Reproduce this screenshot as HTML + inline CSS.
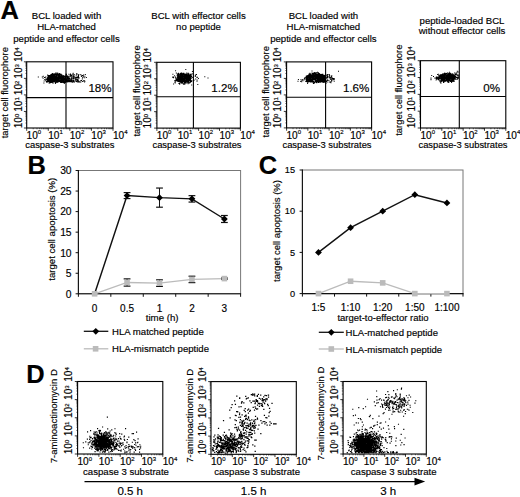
<!DOCTYPE html>
<html><head><meta charset="utf-8"><style>
html,body{margin:0;padding:0;background:#fff;}
body{width:520px;height:497px;overflow:hidden;font-family:"Liberation Sans",sans-serif;}
svg{display:block} text{stroke:#000;stroke-width:0.16px}
</style></head><body><svg width="520" height="497" viewBox="0 0 520 497" font-family="&quot;Liberation Sans&quot;, sans-serif"><text x="0" y="0" font-size="26" font-weight="bold" transform="translate(0.5 18.9) scale(0.98 1)">A</text><text x="0" y="0" font-size="26" font-weight="bold" transform="translate(27.6 173.9) scale(0.98 1)">B</text><text x="0" y="0" font-size="26" font-weight="bold" transform="translate(258.7 173.9) scale(0.98 1)">C</text><text x="0" y="0" font-size="26" font-weight="bold" transform="translate(26.2 382.6) scale(0.98 1)">D</text><text x="66.50" y="18.80" font-size="9.6" text-anchor="middle">BCL loaded with</text><text x="66.50" y="30.20" font-size="9.6" text-anchor="middle">HLA-matched</text><text x="66.50" y="41.60" font-size="9.6" text-anchor="middle">peptide and effector cells</text><text x="198.50" y="18.90" font-size="9.6" text-anchor="middle">BCL with effector cells</text><text x="198.50" y="30.00" font-size="9.6" text-anchor="middle">no peptide</text><text x="323.40" y="18.60" font-size="9.6" text-anchor="middle">BCL loaded with</text><text x="323.40" y="30.00" font-size="9.6" text-anchor="middle">HLA-mismatched</text><text x="323.40" y="41.50" font-size="9.6" text-anchor="middle">peptide and effector cells</text><text x="462.00" y="23.80" font-size="9.6" text-anchor="middle">peptide-loaded BCL</text><text x="462.00" y="33.90" font-size="9.6" text-anchor="middle">without effector cells</text><line x1="23.90" y1="128.00" x2="26.70" y2="128.00" stroke="#000" stroke-width="0.8"/><line x1="26.70" y1="128.00" x2="26.70" y2="130.80" stroke="#000" stroke-width="0.8"/><line x1="25.40" y1="123.02" x2="26.70" y2="123.02" stroke="#000" stroke-width="0.55"/><line x1="33.19" y1="128.00" x2="33.19" y2="129.30" stroke="#000" stroke-width="0.55"/><line x1="25.40" y1="120.10" x2="26.70" y2="120.10" stroke="#000" stroke-width="0.55"/><line x1="36.99" y1="128.00" x2="36.99" y2="129.30" stroke="#000" stroke-width="0.55"/><line x1="25.40" y1="118.04" x2="26.70" y2="118.04" stroke="#000" stroke-width="0.55"/><line x1="39.69" y1="128.00" x2="39.69" y2="129.30" stroke="#000" stroke-width="0.55"/><line x1="25.40" y1="116.43" x2="26.70" y2="116.43" stroke="#000" stroke-width="0.55"/><line x1="41.78" y1="128.00" x2="41.78" y2="129.30" stroke="#000" stroke-width="0.55"/><line x1="25.40" y1="115.12" x2="26.70" y2="115.12" stroke="#000" stroke-width="0.55"/><line x1="43.49" y1="128.00" x2="43.49" y2="129.30" stroke="#000" stroke-width="0.55"/><line x1="25.40" y1="114.01" x2="26.70" y2="114.01" stroke="#000" stroke-width="0.55"/><line x1="44.93" y1="128.00" x2="44.93" y2="129.30" stroke="#000" stroke-width="0.55"/><line x1="25.40" y1="113.05" x2="26.70" y2="113.05" stroke="#000" stroke-width="0.55"/><line x1="46.18" y1="128.00" x2="46.18" y2="129.30" stroke="#000" stroke-width="0.55"/><line x1="25.40" y1="112.21" x2="26.70" y2="112.21" stroke="#000" stroke-width="0.55"/><line x1="47.29" y1="128.00" x2="47.29" y2="129.30" stroke="#000" stroke-width="0.55"/><line x1="23.90" y1="111.45" x2="26.70" y2="111.45" stroke="#000" stroke-width="0.8"/><line x1="48.27" y1="128.00" x2="48.27" y2="130.80" stroke="#000" stroke-width="0.8"/><line x1="25.40" y1="106.47" x2="26.70" y2="106.47" stroke="#000" stroke-width="0.55"/><line x1="54.77" y1="128.00" x2="54.77" y2="129.30" stroke="#000" stroke-width="0.55"/><line x1="25.40" y1="103.55" x2="26.70" y2="103.55" stroke="#000" stroke-width="0.55"/><line x1="58.57" y1="128.00" x2="58.57" y2="129.30" stroke="#000" stroke-width="0.55"/><line x1="25.40" y1="101.49" x2="26.70" y2="101.49" stroke="#000" stroke-width="0.55"/><line x1="61.26" y1="128.00" x2="61.26" y2="129.30" stroke="#000" stroke-width="0.55"/><line x1="25.40" y1="99.88" x2="26.70" y2="99.88" stroke="#000" stroke-width="0.55"/><line x1="63.36" y1="128.00" x2="63.36" y2="129.30" stroke="#000" stroke-width="0.55"/><line x1="25.40" y1="98.57" x2="26.70" y2="98.57" stroke="#000" stroke-width="0.55"/><line x1="65.06" y1="128.00" x2="65.06" y2="129.30" stroke="#000" stroke-width="0.55"/><line x1="25.40" y1="97.46" x2="26.70" y2="97.46" stroke="#000" stroke-width="0.55"/><line x1="66.51" y1="128.00" x2="66.51" y2="129.30" stroke="#000" stroke-width="0.55"/><line x1="25.40" y1="96.50" x2="26.70" y2="96.50" stroke="#000" stroke-width="0.55"/><line x1="67.76" y1="128.00" x2="67.76" y2="129.30" stroke="#000" stroke-width="0.55"/><line x1="25.40" y1="95.66" x2="26.70" y2="95.66" stroke="#000" stroke-width="0.55"/><line x1="68.86" y1="128.00" x2="68.86" y2="129.30" stroke="#000" stroke-width="0.55"/><line x1="23.90" y1="94.90" x2="26.70" y2="94.90" stroke="#000" stroke-width="0.8"/><line x1="69.85" y1="128.00" x2="69.85" y2="130.80" stroke="#000" stroke-width="0.8"/><line x1="25.40" y1="89.92" x2="26.70" y2="89.92" stroke="#000" stroke-width="0.55"/><line x1="76.34" y1="128.00" x2="76.34" y2="129.30" stroke="#000" stroke-width="0.55"/><line x1="25.40" y1="87.00" x2="26.70" y2="87.00" stroke="#000" stroke-width="0.55"/><line x1="80.14" y1="128.00" x2="80.14" y2="129.30" stroke="#000" stroke-width="0.55"/><line x1="25.40" y1="84.94" x2="26.70" y2="84.94" stroke="#000" stroke-width="0.55"/><line x1="82.84" y1="128.00" x2="82.84" y2="129.30" stroke="#000" stroke-width="0.55"/><line x1="25.40" y1="83.33" x2="26.70" y2="83.33" stroke="#000" stroke-width="0.55"/><line x1="84.93" y1="128.00" x2="84.93" y2="129.30" stroke="#000" stroke-width="0.55"/><line x1="25.40" y1="82.02" x2="26.70" y2="82.02" stroke="#000" stroke-width="0.55"/><line x1="86.64" y1="128.00" x2="86.64" y2="129.30" stroke="#000" stroke-width="0.55"/><line x1="25.40" y1="80.91" x2="26.70" y2="80.91" stroke="#000" stroke-width="0.55"/><line x1="88.08" y1="128.00" x2="88.08" y2="129.30" stroke="#000" stroke-width="0.55"/><line x1="25.40" y1="79.95" x2="26.70" y2="79.95" stroke="#000" stroke-width="0.55"/><line x1="89.33" y1="128.00" x2="89.33" y2="129.30" stroke="#000" stroke-width="0.55"/><line x1="25.40" y1="79.11" x2="26.70" y2="79.11" stroke="#000" stroke-width="0.55"/><line x1="90.44" y1="128.00" x2="90.44" y2="129.30" stroke="#000" stroke-width="0.55"/><line x1="23.90" y1="78.35" x2="26.70" y2="78.35" stroke="#000" stroke-width="0.8"/><line x1="91.42" y1="128.00" x2="91.42" y2="130.80" stroke="#000" stroke-width="0.8"/><line x1="25.40" y1="73.37" x2="26.70" y2="73.37" stroke="#000" stroke-width="0.55"/><line x1="97.92" y1="128.00" x2="97.92" y2="129.30" stroke="#000" stroke-width="0.55"/><line x1="25.40" y1="70.45" x2="26.70" y2="70.45" stroke="#000" stroke-width="0.55"/><line x1="101.72" y1="128.00" x2="101.72" y2="129.30" stroke="#000" stroke-width="0.55"/><line x1="25.40" y1="68.39" x2="26.70" y2="68.39" stroke="#000" stroke-width="0.55"/><line x1="104.41" y1="128.00" x2="104.41" y2="129.30" stroke="#000" stroke-width="0.55"/><line x1="25.40" y1="66.78" x2="26.70" y2="66.78" stroke="#000" stroke-width="0.55"/><line x1="106.51" y1="128.00" x2="106.51" y2="129.30" stroke="#000" stroke-width="0.55"/><line x1="25.40" y1="65.47" x2="26.70" y2="65.47" stroke="#000" stroke-width="0.55"/><line x1="108.21" y1="128.00" x2="108.21" y2="129.30" stroke="#000" stroke-width="0.55"/><line x1="25.40" y1="64.36" x2="26.70" y2="64.36" stroke="#000" stroke-width="0.55"/><line x1="109.66" y1="128.00" x2="109.66" y2="129.30" stroke="#000" stroke-width="0.55"/><line x1="25.40" y1="63.40" x2="26.70" y2="63.40" stroke="#000" stroke-width="0.55"/><line x1="110.91" y1="128.00" x2="110.91" y2="129.30" stroke="#000" stroke-width="0.55"/><line x1="25.40" y1="62.56" x2="26.70" y2="62.56" stroke="#000" stroke-width="0.55"/><line x1="112.01" y1="128.00" x2="112.01" y2="129.30" stroke="#000" stroke-width="0.55"/><line x1="23.90" y1="61.80" x2="26.70" y2="61.80" stroke="#000" stroke-width="0.8"/><line x1="113.00" y1="128.00" x2="113.00" y2="130.80" stroke="#000" stroke-width="0.8"/><rect x="26.70" y="61.80" width="86.30" height="66.20" fill="none" stroke="#000" stroke-width="1.1"/><line x1="66.00" y1="61.80" x2="66.00" y2="128.00" stroke="#000" stroke-width="1.1"/><line x1="26.70" y1="97.60" x2="113.00" y2="97.60" stroke="#000" stroke-width="1.1"/><text x="21.80" y="128.30" font-size="10.1" transform="rotate(-90 21.80 128.30)">10<tspan font-size="6.0" dy="-3.0">0</tspan></text><text x="26.60" y="138.70" font-size="10.1">10<tspan font-size="6.0" dy="-4.4">0</tspan></text><text x="21.80" y="111.75" font-size="10.1" transform="rotate(-90 21.80 111.75)">10<tspan font-size="6.0" dy="-3.0">1</tspan></text><text x="48.17" y="138.70" font-size="10.1">10<tspan font-size="6.0" dy="-4.4">1</tspan></text><text x="21.80" y="95.20" font-size="10.1" transform="rotate(-90 21.80 95.20)">10<tspan font-size="6.0" dy="-3.0">2</tspan></text><text x="69.75" y="138.70" font-size="10.1">10<tspan font-size="6.0" dy="-4.4">2</tspan></text><text x="21.80" y="78.65" font-size="10.1" transform="rotate(-90 21.80 78.65)">10<tspan font-size="6.0" dy="-3.0">3</tspan></text><text x="91.33" y="138.70" font-size="10.1">10<tspan font-size="6.0" dy="-4.4">3</tspan></text><text x="21.80" y="62.10" font-size="10.1" transform="rotate(-90 21.80 62.10)">10<tspan font-size="6.0" dy="-3.0">4</tspan></text><text x="112.90" y="138.70" font-size="10.1">10<tspan font-size="6.0" dy="-4.4">4</tspan></text><text x="8.30" y="138.30" font-size="9.45" transform="rotate(-90 8.30 138.30)">target cell fluorophore</text><text x="69.80" y="147.90" font-size="9.4" text-anchor="middle">caspase-3 substrates</text><line x1="154.10" y1="128.10" x2="156.90" y2="128.10" stroke="#000" stroke-width="0.8"/><line x1="156.90" y1="128.10" x2="156.90" y2="130.90" stroke="#000" stroke-width="0.8"/><line x1="155.60" y1="123.15" x2="156.90" y2="123.15" stroke="#000" stroke-width="0.55"/><line x1="163.18" y1="128.10" x2="163.18" y2="129.40" stroke="#000" stroke-width="0.55"/><line x1="155.60" y1="120.25" x2="156.90" y2="120.25" stroke="#000" stroke-width="0.55"/><line x1="166.86" y1="128.10" x2="166.86" y2="129.40" stroke="#000" stroke-width="0.55"/><line x1="155.60" y1="118.20" x2="156.90" y2="118.20" stroke="#000" stroke-width="0.55"/><line x1="169.47" y1="128.10" x2="169.47" y2="129.40" stroke="#000" stroke-width="0.55"/><line x1="155.60" y1="116.60" x2="156.90" y2="116.60" stroke="#000" stroke-width="0.55"/><line x1="171.49" y1="128.10" x2="171.49" y2="129.40" stroke="#000" stroke-width="0.55"/><line x1="155.60" y1="115.30" x2="156.90" y2="115.30" stroke="#000" stroke-width="0.55"/><line x1="173.14" y1="128.10" x2="173.14" y2="129.40" stroke="#000" stroke-width="0.55"/><line x1="155.60" y1="114.20" x2="156.90" y2="114.20" stroke="#000" stroke-width="0.55"/><line x1="174.54" y1="128.10" x2="174.54" y2="129.40" stroke="#000" stroke-width="0.55"/><line x1="155.60" y1="113.24" x2="156.90" y2="113.24" stroke="#000" stroke-width="0.55"/><line x1="175.75" y1="128.10" x2="175.75" y2="129.40" stroke="#000" stroke-width="0.55"/><line x1="155.60" y1="112.40" x2="156.90" y2="112.40" stroke="#000" stroke-width="0.55"/><line x1="176.82" y1="128.10" x2="176.82" y2="129.40" stroke="#000" stroke-width="0.55"/><line x1="154.10" y1="111.65" x2="156.90" y2="111.65" stroke="#000" stroke-width="0.8"/><line x1="177.78" y1="128.10" x2="177.78" y2="130.90" stroke="#000" stroke-width="0.8"/><line x1="155.60" y1="106.70" x2="156.90" y2="106.70" stroke="#000" stroke-width="0.55"/><line x1="184.06" y1="128.10" x2="184.06" y2="129.40" stroke="#000" stroke-width="0.55"/><line x1="155.60" y1="103.80" x2="156.90" y2="103.80" stroke="#000" stroke-width="0.55"/><line x1="187.73" y1="128.10" x2="187.73" y2="129.40" stroke="#000" stroke-width="0.55"/><line x1="155.60" y1="101.75" x2="156.90" y2="101.75" stroke="#000" stroke-width="0.55"/><line x1="190.34" y1="128.10" x2="190.34" y2="129.40" stroke="#000" stroke-width="0.55"/><line x1="155.60" y1="100.15" x2="156.90" y2="100.15" stroke="#000" stroke-width="0.55"/><line x1="192.37" y1="128.10" x2="192.37" y2="129.40" stroke="#000" stroke-width="0.55"/><line x1="155.60" y1="98.85" x2="156.90" y2="98.85" stroke="#000" stroke-width="0.55"/><line x1="194.02" y1="128.10" x2="194.02" y2="129.40" stroke="#000" stroke-width="0.55"/><line x1="155.60" y1="97.75" x2="156.90" y2="97.75" stroke="#000" stroke-width="0.55"/><line x1="195.42" y1="128.10" x2="195.42" y2="129.40" stroke="#000" stroke-width="0.55"/><line x1="155.60" y1="96.79" x2="156.90" y2="96.79" stroke="#000" stroke-width="0.55"/><line x1="196.63" y1="128.10" x2="196.63" y2="129.40" stroke="#000" stroke-width="0.55"/><line x1="155.60" y1="95.95" x2="156.90" y2="95.95" stroke="#000" stroke-width="0.55"/><line x1="197.69" y1="128.10" x2="197.69" y2="129.40" stroke="#000" stroke-width="0.55"/><line x1="154.10" y1="95.20" x2="156.90" y2="95.20" stroke="#000" stroke-width="0.8"/><line x1="198.65" y1="128.10" x2="198.65" y2="130.90" stroke="#000" stroke-width="0.8"/><line x1="155.60" y1="90.25" x2="156.90" y2="90.25" stroke="#000" stroke-width="0.55"/><line x1="204.93" y1="128.10" x2="204.93" y2="129.40" stroke="#000" stroke-width="0.55"/><line x1="155.60" y1="87.35" x2="156.90" y2="87.35" stroke="#000" stroke-width="0.55"/><line x1="208.61" y1="128.10" x2="208.61" y2="129.40" stroke="#000" stroke-width="0.55"/><line x1="155.60" y1="85.30" x2="156.90" y2="85.30" stroke="#000" stroke-width="0.55"/><line x1="211.22" y1="128.10" x2="211.22" y2="129.40" stroke="#000" stroke-width="0.55"/><line x1="155.60" y1="83.70" x2="156.90" y2="83.70" stroke="#000" stroke-width="0.55"/><line x1="213.24" y1="128.10" x2="213.24" y2="129.40" stroke="#000" stroke-width="0.55"/><line x1="155.60" y1="82.40" x2="156.90" y2="82.40" stroke="#000" stroke-width="0.55"/><line x1="214.89" y1="128.10" x2="214.89" y2="129.40" stroke="#000" stroke-width="0.55"/><line x1="155.60" y1="81.30" x2="156.90" y2="81.30" stroke="#000" stroke-width="0.55"/><line x1="216.29" y1="128.10" x2="216.29" y2="129.40" stroke="#000" stroke-width="0.55"/><line x1="155.60" y1="80.34" x2="156.90" y2="80.34" stroke="#000" stroke-width="0.55"/><line x1="217.50" y1="128.10" x2="217.50" y2="129.40" stroke="#000" stroke-width="0.55"/><line x1="155.60" y1="79.50" x2="156.90" y2="79.50" stroke="#000" stroke-width="0.55"/><line x1="218.57" y1="128.10" x2="218.57" y2="129.40" stroke="#000" stroke-width="0.55"/><line x1="154.10" y1="78.75" x2="156.90" y2="78.75" stroke="#000" stroke-width="0.8"/><line x1="219.53" y1="128.10" x2="219.53" y2="130.90" stroke="#000" stroke-width="0.8"/><line x1="155.60" y1="73.80" x2="156.90" y2="73.80" stroke="#000" stroke-width="0.55"/><line x1="225.81" y1="128.10" x2="225.81" y2="129.40" stroke="#000" stroke-width="0.55"/><line x1="155.60" y1="70.90" x2="156.90" y2="70.90" stroke="#000" stroke-width="0.55"/><line x1="229.48" y1="128.10" x2="229.48" y2="129.40" stroke="#000" stroke-width="0.55"/><line x1="155.60" y1="68.85" x2="156.90" y2="68.85" stroke="#000" stroke-width="0.55"/><line x1="232.09" y1="128.10" x2="232.09" y2="129.40" stroke="#000" stroke-width="0.55"/><line x1="155.60" y1="67.25" x2="156.90" y2="67.25" stroke="#000" stroke-width="0.55"/><line x1="234.12" y1="128.10" x2="234.12" y2="129.40" stroke="#000" stroke-width="0.55"/><line x1="155.60" y1="65.95" x2="156.90" y2="65.95" stroke="#000" stroke-width="0.55"/><line x1="235.77" y1="128.10" x2="235.77" y2="129.40" stroke="#000" stroke-width="0.55"/><line x1="155.60" y1="64.85" x2="156.90" y2="64.85" stroke="#000" stroke-width="0.55"/><line x1="237.17" y1="128.10" x2="237.17" y2="129.40" stroke="#000" stroke-width="0.55"/><line x1="155.60" y1="63.89" x2="156.90" y2="63.89" stroke="#000" stroke-width="0.55"/><line x1="238.38" y1="128.10" x2="238.38" y2="129.40" stroke="#000" stroke-width="0.55"/><line x1="155.60" y1="63.05" x2="156.90" y2="63.05" stroke="#000" stroke-width="0.55"/><line x1="239.44" y1="128.10" x2="239.44" y2="129.40" stroke="#000" stroke-width="0.55"/><line x1="154.10" y1="62.30" x2="156.90" y2="62.30" stroke="#000" stroke-width="0.8"/><line x1="240.40" y1="128.10" x2="240.40" y2="130.90" stroke="#000" stroke-width="0.8"/><rect x="156.90" y="62.30" width="83.50" height="65.80" fill="none" stroke="#000" stroke-width="1.1"/><line x1="193.40" y1="62.30" x2="193.40" y2="128.10" stroke="#000" stroke-width="1.1"/><line x1="156.90" y1="96.80" x2="240.40" y2="96.80" stroke="#000" stroke-width="1.1"/><text x="151.40" y="128.40" font-size="10.1" transform="rotate(-90 151.40 128.40)">10<tspan font-size="6.0" dy="-3.0">0</tspan></text><text x="156.80" y="138.70" font-size="10.1">10<tspan font-size="6.0" dy="-4.4">0</tspan></text><text x="151.40" y="111.95" font-size="10.1" transform="rotate(-90 151.40 111.95)">10<tspan font-size="6.0" dy="-3.0">1</tspan></text><text x="177.68" y="138.70" font-size="10.1">10<tspan font-size="6.0" dy="-4.4">1</tspan></text><text x="151.40" y="95.50" font-size="10.1" transform="rotate(-90 151.40 95.50)">10<tspan font-size="6.0" dy="-3.0">2</tspan></text><text x="198.55" y="138.70" font-size="10.1">10<tspan font-size="6.0" dy="-4.4">2</tspan></text><text x="151.40" y="79.05" font-size="10.1" transform="rotate(-90 151.40 79.05)">10<tspan font-size="6.0" dy="-3.0">3</tspan></text><text x="219.43" y="138.70" font-size="10.1">10<tspan font-size="6.0" dy="-4.4">3</tspan></text><text x="151.40" y="62.60" font-size="10.1" transform="rotate(-90 151.40 62.60)">10<tspan font-size="6.0" dy="-3.0">4</tspan></text><text x="240.30" y="138.70" font-size="10.1">10<tspan font-size="6.0" dy="-4.4">4</tspan></text><text x="139.80" y="136.60" font-size="9.45" transform="rotate(-90 139.80 136.60)">target cell fluorophore</text><text x="197.00" y="147.90" font-size="9.4" text-anchor="middle">caspase-3 substrates</text><line x1="283.80" y1="127.90" x2="286.60" y2="127.90" stroke="#000" stroke-width="0.8"/><line x1="286.60" y1="127.90" x2="286.60" y2="130.70" stroke="#000" stroke-width="0.8"/><line x1="285.30" y1="122.93" x2="286.60" y2="122.93" stroke="#000" stroke-width="0.55"/><line x1="293.00" y1="127.90" x2="293.00" y2="129.20" stroke="#000" stroke-width="0.55"/><line x1="285.30" y1="120.03" x2="286.60" y2="120.03" stroke="#000" stroke-width="0.55"/><line x1="296.74" y1="127.90" x2="296.74" y2="129.20" stroke="#000" stroke-width="0.55"/><line x1="285.30" y1="117.97" x2="286.60" y2="117.97" stroke="#000" stroke-width="0.55"/><line x1="299.39" y1="127.90" x2="299.39" y2="129.20" stroke="#000" stroke-width="0.55"/><line x1="285.30" y1="116.37" x2="286.60" y2="116.37" stroke="#000" stroke-width="0.55"/><line x1="301.45" y1="127.90" x2="301.45" y2="129.20" stroke="#000" stroke-width="0.55"/><line x1="285.30" y1="115.06" x2="286.60" y2="115.06" stroke="#000" stroke-width="0.55"/><line x1="303.14" y1="127.90" x2="303.14" y2="129.20" stroke="#000" stroke-width="0.55"/><line x1="285.30" y1="113.96" x2="286.60" y2="113.96" stroke="#000" stroke-width="0.55"/><line x1="304.56" y1="127.90" x2="304.56" y2="129.20" stroke="#000" stroke-width="0.55"/><line x1="285.30" y1="113.00" x2="286.60" y2="113.00" stroke="#000" stroke-width="0.55"/><line x1="305.79" y1="127.90" x2="305.79" y2="129.20" stroke="#000" stroke-width="0.55"/><line x1="285.30" y1="112.15" x2="286.60" y2="112.15" stroke="#000" stroke-width="0.55"/><line x1="306.88" y1="127.90" x2="306.88" y2="129.20" stroke="#000" stroke-width="0.55"/><line x1="283.80" y1="111.40" x2="286.60" y2="111.40" stroke="#000" stroke-width="0.8"/><line x1="307.85" y1="127.90" x2="307.85" y2="130.70" stroke="#000" stroke-width="0.8"/><line x1="285.30" y1="106.43" x2="286.60" y2="106.43" stroke="#000" stroke-width="0.55"/><line x1="314.25" y1="127.90" x2="314.25" y2="129.20" stroke="#000" stroke-width="0.55"/><line x1="285.30" y1="103.53" x2="286.60" y2="103.53" stroke="#000" stroke-width="0.55"/><line x1="317.99" y1="127.90" x2="317.99" y2="129.20" stroke="#000" stroke-width="0.55"/><line x1="285.30" y1="101.47" x2="286.60" y2="101.47" stroke="#000" stroke-width="0.55"/><line x1="320.64" y1="127.90" x2="320.64" y2="129.20" stroke="#000" stroke-width="0.55"/><line x1="285.30" y1="99.87" x2="286.60" y2="99.87" stroke="#000" stroke-width="0.55"/><line x1="322.70" y1="127.90" x2="322.70" y2="129.20" stroke="#000" stroke-width="0.55"/><line x1="285.30" y1="98.56" x2="286.60" y2="98.56" stroke="#000" stroke-width="0.55"/><line x1="324.39" y1="127.90" x2="324.39" y2="129.20" stroke="#000" stroke-width="0.55"/><line x1="285.30" y1="97.46" x2="286.60" y2="97.46" stroke="#000" stroke-width="0.55"/><line x1="325.81" y1="127.90" x2="325.81" y2="129.20" stroke="#000" stroke-width="0.55"/><line x1="285.30" y1="96.50" x2="286.60" y2="96.50" stroke="#000" stroke-width="0.55"/><line x1="327.04" y1="127.90" x2="327.04" y2="129.20" stroke="#000" stroke-width="0.55"/><line x1="285.30" y1="95.65" x2="286.60" y2="95.65" stroke="#000" stroke-width="0.55"/><line x1="328.13" y1="127.90" x2="328.13" y2="129.20" stroke="#000" stroke-width="0.55"/><line x1="283.80" y1="94.90" x2="286.60" y2="94.90" stroke="#000" stroke-width="0.8"/><line x1="329.10" y1="127.90" x2="329.10" y2="130.70" stroke="#000" stroke-width="0.8"/><line x1="285.30" y1="89.93" x2="286.60" y2="89.93" stroke="#000" stroke-width="0.55"/><line x1="335.50" y1="127.90" x2="335.50" y2="129.20" stroke="#000" stroke-width="0.55"/><line x1="285.30" y1="87.03" x2="286.60" y2="87.03" stroke="#000" stroke-width="0.55"/><line x1="339.24" y1="127.90" x2="339.24" y2="129.20" stroke="#000" stroke-width="0.55"/><line x1="285.30" y1="84.97" x2="286.60" y2="84.97" stroke="#000" stroke-width="0.55"/><line x1="341.89" y1="127.90" x2="341.89" y2="129.20" stroke="#000" stroke-width="0.55"/><line x1="285.30" y1="83.37" x2="286.60" y2="83.37" stroke="#000" stroke-width="0.55"/><line x1="343.95" y1="127.90" x2="343.95" y2="129.20" stroke="#000" stroke-width="0.55"/><line x1="285.30" y1="82.06" x2="286.60" y2="82.06" stroke="#000" stroke-width="0.55"/><line x1="345.64" y1="127.90" x2="345.64" y2="129.20" stroke="#000" stroke-width="0.55"/><line x1="285.30" y1="80.96" x2="286.60" y2="80.96" stroke="#000" stroke-width="0.55"/><line x1="347.06" y1="127.90" x2="347.06" y2="129.20" stroke="#000" stroke-width="0.55"/><line x1="285.30" y1="80.00" x2="286.60" y2="80.00" stroke="#000" stroke-width="0.55"/><line x1="348.29" y1="127.90" x2="348.29" y2="129.20" stroke="#000" stroke-width="0.55"/><line x1="285.30" y1="79.15" x2="286.60" y2="79.15" stroke="#000" stroke-width="0.55"/><line x1="349.38" y1="127.90" x2="349.38" y2="129.20" stroke="#000" stroke-width="0.55"/><line x1="283.80" y1="78.40" x2="286.60" y2="78.40" stroke="#000" stroke-width="0.8"/><line x1="350.35" y1="127.90" x2="350.35" y2="130.70" stroke="#000" stroke-width="0.8"/><line x1="285.30" y1="73.43" x2="286.60" y2="73.43" stroke="#000" stroke-width="0.55"/><line x1="356.75" y1="127.90" x2="356.75" y2="129.20" stroke="#000" stroke-width="0.55"/><line x1="285.30" y1="70.53" x2="286.60" y2="70.53" stroke="#000" stroke-width="0.55"/><line x1="360.49" y1="127.90" x2="360.49" y2="129.20" stroke="#000" stroke-width="0.55"/><line x1="285.30" y1="68.47" x2="286.60" y2="68.47" stroke="#000" stroke-width="0.55"/><line x1="363.14" y1="127.90" x2="363.14" y2="129.20" stroke="#000" stroke-width="0.55"/><line x1="285.30" y1="66.87" x2="286.60" y2="66.87" stroke="#000" stroke-width="0.55"/><line x1="365.20" y1="127.90" x2="365.20" y2="129.20" stroke="#000" stroke-width="0.55"/><line x1="285.30" y1="65.56" x2="286.60" y2="65.56" stroke="#000" stroke-width="0.55"/><line x1="366.89" y1="127.90" x2="366.89" y2="129.20" stroke="#000" stroke-width="0.55"/><line x1="285.30" y1="64.46" x2="286.60" y2="64.46" stroke="#000" stroke-width="0.55"/><line x1="368.31" y1="127.90" x2="368.31" y2="129.20" stroke="#000" stroke-width="0.55"/><line x1="285.30" y1="63.50" x2="286.60" y2="63.50" stroke="#000" stroke-width="0.55"/><line x1="369.54" y1="127.90" x2="369.54" y2="129.20" stroke="#000" stroke-width="0.55"/><line x1="285.30" y1="62.65" x2="286.60" y2="62.65" stroke="#000" stroke-width="0.55"/><line x1="370.63" y1="127.90" x2="370.63" y2="129.20" stroke="#000" stroke-width="0.55"/><line x1="283.80" y1="61.90" x2="286.60" y2="61.90" stroke="#000" stroke-width="0.8"/><line x1="371.60" y1="127.90" x2="371.60" y2="130.70" stroke="#000" stroke-width="0.8"/><rect x="286.60" y="61.90" width="85.00" height="66.00" fill="none" stroke="#000" stroke-width="1.1"/><line x1="325.60" y1="61.90" x2="325.60" y2="127.90" stroke="#000" stroke-width="1.1"/><line x1="286.60" y1="97.20" x2="371.60" y2="97.20" stroke="#000" stroke-width="1.1"/><text x="281.00" y="128.20" font-size="10.1" transform="rotate(-90 281.00 128.20)">10<tspan font-size="6.0" dy="-3.0">0</tspan></text><text x="286.50" y="138.70" font-size="10.1">10<tspan font-size="6.0" dy="-4.4">0</tspan></text><text x="281.00" y="111.70" font-size="10.1" transform="rotate(-90 281.00 111.70)">10<tspan font-size="6.0" dy="-3.0">1</tspan></text><text x="307.75" y="138.70" font-size="10.1">10<tspan font-size="6.0" dy="-4.4">1</tspan></text><text x="281.00" y="95.20" font-size="10.1" transform="rotate(-90 281.00 95.20)">10<tspan font-size="6.0" dy="-3.0">2</tspan></text><text x="329.00" y="138.70" font-size="10.1">10<tspan font-size="6.0" dy="-4.4">2</tspan></text><text x="281.00" y="78.70" font-size="10.1" transform="rotate(-90 281.00 78.70)">10<tspan font-size="6.0" dy="-3.0">3</tspan></text><text x="350.25" y="138.70" font-size="10.1">10<tspan font-size="6.0" dy="-4.4">3</tspan></text><text x="281.00" y="62.20" font-size="10.1" transform="rotate(-90 281.00 62.20)">10<tspan font-size="6.0" dy="-3.0">4</tspan></text><text x="371.50" y="138.70" font-size="10.1">10<tspan font-size="6.0" dy="-4.4">4</tspan></text><text x="268.80" y="137.40" font-size="9.45" transform="rotate(-90 268.80 137.40)">target cell fluorophore</text><text x="327.00" y="147.90" font-size="9.4" text-anchor="middle">caspase-3 substrates</text><line x1="417.70" y1="128.00" x2="420.50" y2="128.00" stroke="#000" stroke-width="0.8"/><line x1="420.50" y1="128.00" x2="420.50" y2="130.80" stroke="#000" stroke-width="0.8"/><line x1="419.20" y1="122.94" x2="420.50" y2="122.94" stroke="#000" stroke-width="0.55"/><line x1="426.92" y1="128.00" x2="426.92" y2="129.30" stroke="#000" stroke-width="0.55"/><line x1="419.20" y1="119.97" x2="420.50" y2="119.97" stroke="#000" stroke-width="0.55"/><line x1="430.67" y1="128.00" x2="430.67" y2="129.30" stroke="#000" stroke-width="0.55"/><line x1="419.20" y1="117.87" x2="420.50" y2="117.87" stroke="#000" stroke-width="0.55"/><line x1="433.34" y1="128.00" x2="433.34" y2="129.30" stroke="#000" stroke-width="0.55"/><line x1="419.20" y1="116.24" x2="420.50" y2="116.24" stroke="#000" stroke-width="0.55"/><line x1="435.41" y1="128.00" x2="435.41" y2="129.30" stroke="#000" stroke-width="0.55"/><line x1="419.20" y1="114.91" x2="420.50" y2="114.91" stroke="#000" stroke-width="0.55"/><line x1="437.09" y1="128.00" x2="437.09" y2="129.30" stroke="#000" stroke-width="0.55"/><line x1="419.20" y1="113.78" x2="420.50" y2="113.78" stroke="#000" stroke-width="0.55"/><line x1="438.52" y1="128.00" x2="438.52" y2="129.30" stroke="#000" stroke-width="0.55"/><line x1="419.20" y1="112.81" x2="420.50" y2="112.81" stroke="#000" stroke-width="0.55"/><line x1="439.76" y1="128.00" x2="439.76" y2="129.30" stroke="#000" stroke-width="0.55"/><line x1="419.20" y1="111.94" x2="420.50" y2="111.94" stroke="#000" stroke-width="0.55"/><line x1="440.85" y1="128.00" x2="440.85" y2="129.30" stroke="#000" stroke-width="0.55"/><line x1="417.70" y1="111.17" x2="420.50" y2="111.17" stroke="#000" stroke-width="0.8"/><line x1="441.82" y1="128.00" x2="441.82" y2="130.80" stroke="#000" stroke-width="0.8"/><line x1="419.20" y1="106.11" x2="420.50" y2="106.11" stroke="#000" stroke-width="0.55"/><line x1="448.24" y1="128.00" x2="448.24" y2="129.30" stroke="#000" stroke-width="0.55"/><line x1="419.20" y1="103.15" x2="420.50" y2="103.15" stroke="#000" stroke-width="0.55"/><line x1="452.00" y1="128.00" x2="452.00" y2="129.30" stroke="#000" stroke-width="0.55"/><line x1="419.20" y1="101.05" x2="420.50" y2="101.05" stroke="#000" stroke-width="0.55"/><line x1="454.66" y1="128.00" x2="454.66" y2="129.30" stroke="#000" stroke-width="0.55"/><line x1="419.20" y1="99.41" x2="420.50" y2="99.41" stroke="#000" stroke-width="0.55"/><line x1="456.73" y1="128.00" x2="456.73" y2="129.30" stroke="#000" stroke-width="0.55"/><line x1="419.20" y1="98.08" x2="420.50" y2="98.08" stroke="#000" stroke-width="0.55"/><line x1="458.42" y1="128.00" x2="458.42" y2="129.30" stroke="#000" stroke-width="0.55"/><line x1="419.20" y1="96.96" x2="420.50" y2="96.96" stroke="#000" stroke-width="0.55"/><line x1="459.85" y1="128.00" x2="459.85" y2="129.30" stroke="#000" stroke-width="0.55"/><line x1="419.20" y1="95.98" x2="420.50" y2="95.98" stroke="#000" stroke-width="0.55"/><line x1="461.08" y1="128.00" x2="461.08" y2="129.30" stroke="#000" stroke-width="0.55"/><line x1="419.20" y1="95.12" x2="420.50" y2="95.12" stroke="#000" stroke-width="0.55"/><line x1="462.17" y1="128.00" x2="462.17" y2="129.30" stroke="#000" stroke-width="0.55"/><line x1="417.70" y1="94.35" x2="420.50" y2="94.35" stroke="#000" stroke-width="0.8"/><line x1="463.15" y1="128.00" x2="463.15" y2="130.80" stroke="#000" stroke-width="0.8"/><line x1="419.20" y1="89.29" x2="420.50" y2="89.29" stroke="#000" stroke-width="0.55"/><line x1="469.57" y1="128.00" x2="469.57" y2="129.30" stroke="#000" stroke-width="0.55"/><line x1="419.20" y1="86.32" x2="420.50" y2="86.32" stroke="#000" stroke-width="0.55"/><line x1="473.32" y1="128.00" x2="473.32" y2="129.30" stroke="#000" stroke-width="0.55"/><line x1="419.20" y1="84.22" x2="420.50" y2="84.22" stroke="#000" stroke-width="0.55"/><line x1="475.99" y1="128.00" x2="475.99" y2="129.30" stroke="#000" stroke-width="0.55"/><line x1="419.20" y1="82.59" x2="420.50" y2="82.59" stroke="#000" stroke-width="0.55"/><line x1="478.06" y1="128.00" x2="478.06" y2="129.30" stroke="#000" stroke-width="0.55"/><line x1="419.20" y1="81.26" x2="420.50" y2="81.26" stroke="#000" stroke-width="0.55"/><line x1="479.74" y1="128.00" x2="479.74" y2="129.30" stroke="#000" stroke-width="0.55"/><line x1="419.20" y1="80.13" x2="420.50" y2="80.13" stroke="#000" stroke-width="0.55"/><line x1="481.17" y1="128.00" x2="481.17" y2="129.30" stroke="#000" stroke-width="0.55"/><line x1="419.20" y1="79.16" x2="420.50" y2="79.16" stroke="#000" stroke-width="0.55"/><line x1="482.41" y1="128.00" x2="482.41" y2="129.30" stroke="#000" stroke-width="0.55"/><line x1="419.20" y1="78.29" x2="420.50" y2="78.29" stroke="#000" stroke-width="0.55"/><line x1="483.50" y1="128.00" x2="483.50" y2="129.30" stroke="#000" stroke-width="0.55"/><line x1="417.70" y1="77.53" x2="420.50" y2="77.53" stroke="#000" stroke-width="0.8"/><line x1="484.48" y1="128.00" x2="484.48" y2="130.80" stroke="#000" stroke-width="0.8"/><line x1="419.20" y1="72.46" x2="420.50" y2="72.46" stroke="#000" stroke-width="0.55"/><line x1="490.89" y1="128.00" x2="490.89" y2="129.30" stroke="#000" stroke-width="0.55"/><line x1="419.20" y1="69.50" x2="420.50" y2="69.50" stroke="#000" stroke-width="0.55"/><line x1="494.65" y1="128.00" x2="494.65" y2="129.30" stroke="#000" stroke-width="0.55"/><line x1="419.20" y1="67.40" x2="420.50" y2="67.40" stroke="#000" stroke-width="0.55"/><line x1="497.31" y1="128.00" x2="497.31" y2="129.30" stroke="#000" stroke-width="0.55"/><line x1="419.20" y1="65.76" x2="420.50" y2="65.76" stroke="#000" stroke-width="0.55"/><line x1="499.38" y1="128.00" x2="499.38" y2="129.30" stroke="#000" stroke-width="0.55"/><line x1="419.20" y1="64.43" x2="420.50" y2="64.43" stroke="#000" stroke-width="0.55"/><line x1="501.07" y1="128.00" x2="501.07" y2="129.30" stroke="#000" stroke-width="0.55"/><line x1="419.20" y1="63.31" x2="420.50" y2="63.31" stroke="#000" stroke-width="0.55"/><line x1="502.50" y1="128.00" x2="502.50" y2="129.30" stroke="#000" stroke-width="0.55"/><line x1="419.20" y1="62.33" x2="420.50" y2="62.33" stroke="#000" stroke-width="0.55"/><line x1="503.73" y1="128.00" x2="503.73" y2="129.30" stroke="#000" stroke-width="0.55"/><line x1="419.20" y1="61.47" x2="420.50" y2="61.47" stroke="#000" stroke-width="0.55"/><line x1="504.82" y1="128.00" x2="504.82" y2="129.30" stroke="#000" stroke-width="0.55"/><line x1="417.70" y1="60.70" x2="420.50" y2="60.70" stroke="#000" stroke-width="0.8"/><line x1="505.80" y1="128.00" x2="505.80" y2="130.80" stroke="#000" stroke-width="0.8"/><rect x="420.50" y="60.70" width="85.30" height="67.30" fill="none" stroke="#000" stroke-width="1.1"/><line x1="459.30" y1="60.70" x2="459.30" y2="128.00" stroke="#000" stroke-width="1.1"/><line x1="420.50" y1="96.50" x2="505.80" y2="96.50" stroke="#000" stroke-width="1.1"/><text x="415.40" y="128.30" font-size="10.1" transform="rotate(-90 415.40 128.30)">10<tspan font-size="6.0" dy="-3.0">0</tspan></text><text x="420.40" y="138.70" font-size="10.1">10<tspan font-size="6.0" dy="-4.4">0</tspan></text><text x="415.40" y="111.47" font-size="10.1" transform="rotate(-90 415.40 111.47)">10<tspan font-size="6.0" dy="-3.0">1</tspan></text><text x="441.72" y="138.70" font-size="10.1">10<tspan font-size="6.0" dy="-4.4">1</tspan></text><text x="415.40" y="94.65" font-size="10.1" transform="rotate(-90 415.40 94.65)">10<tspan font-size="6.0" dy="-3.0">2</tspan></text><text x="463.05" y="138.70" font-size="10.1">10<tspan font-size="6.0" dy="-4.4">2</tspan></text><text x="415.40" y="77.83" font-size="10.1" transform="rotate(-90 415.40 77.83)">10<tspan font-size="6.0" dy="-3.0">3</tspan></text><text x="484.38" y="138.70" font-size="10.1">10<tspan font-size="6.0" dy="-4.4">3</tspan></text><text x="415.40" y="61.00" font-size="10.1" transform="rotate(-90 415.40 61.00)">10<tspan font-size="6.0" dy="-3.0">4</tspan></text><text x="505.70" y="138.70" font-size="10.1">10<tspan font-size="6.0" dy="-4.4">4</tspan></text><text x="402.20" y="135.80" font-size="9.45" transform="rotate(-90 402.20 135.80)">target cell fluorophore</text><text x="463.00" y="147.90" font-size="9.4" text-anchor="middle">caspase-3 substrates</text><text x="111.60" y="91.60" font-size="11.6" text-anchor="end">18%</text><text x="237.80" y="91.50" font-size="11.6" text-anchor="end">1.2%</text><text x="369.40" y="91.50" font-size="11.6" text-anchor="end">1.6%</text><text x="500.00" y="91.50" font-size="11.6" text-anchor="end">0%</text><path d="M53.4 74.3h1.0v1.0h-1.0zM58.1 76.5h1.0v1.0h-1.0zM48.7 78.5h1.0v1.0h-1.0zM55.7 80.4h1.0v1.0h-1.0zM58.3 80.8h1.0v1.0h-1.0zM65.4 76.1h1.0v1.0h-1.0zM49.9 76.7h1.0v1.0h-1.0zM50.6 78.0h1.0v1.0h-1.0zM57.9 73.8h1.0v1.0h-1.0zM59.5 78.1h1.0v1.0h-1.0zM56.1 74.5h1.0v1.0h-1.0zM50.7 78.0h1.0v1.0h-1.0zM61.1 76.4h1.0v1.0h-1.0zM55.7 80.2h1.0v1.0h-1.0zM48.6 78.8h1.0v1.0h-1.0zM63.0 76.8h1.0v1.0h-1.0zM59.0 75.6h1.0v1.0h-1.0zM57.2 79.1h1.0v1.0h-1.0zM59.5 81.0h1.0v1.0h-1.0zM55.4 78.9h1.0v1.0h-1.0zM51.9 75.7h1.0v1.0h-1.0zM49.0 77.4h1.0v1.0h-1.0zM47.8 77.7h1.0v1.0h-1.0zM62.2 81.5h1.0v1.0h-1.0zM54.5 80.5h1.0v1.0h-1.0zM51.0 76.8h1.0v1.0h-1.0zM59.0 75.5h1.0v1.0h-1.0zM55.4 77.6h1.0v1.0h-1.0zM56.8 78.1h1.0v1.0h-1.0zM64.6 79.5h1.0v1.0h-1.0zM55.5 77.0h1.0v1.0h-1.0zM49.0 76.4h1.0v1.0h-1.0zM54.2 73.6h1.0v1.0h-1.0zM51.0 77.7h1.0v1.0h-1.0zM58.7 75.3h1.0v1.0h-1.0zM55.5 72.3h1.0v1.0h-1.0zM56.3 77.3h1.0v1.0h-1.0zM54.1 75.0h1.0v1.0h-1.0zM47.8 81.3h1.0v1.0h-1.0zM55.5 73.0h1.0v1.0h-1.0zM63.0 80.5h1.0v1.0h-1.0zM49.6 79.7h1.0v1.0h-1.0zM54.4 73.2h1.0v1.0h-1.0zM63.4 79.4h1.0v1.0h-1.0zM51.7 78.0h1.0v1.0h-1.0zM48.2 78.6h1.0v1.0h-1.0zM66.7 77.9h1.0v1.0h-1.0zM64.8 78.7h1.0v1.0h-1.0zM50.2 74.6h1.0v1.0h-1.0zM62.0 77.4h1.0v1.0h-1.0zM50.3 78.8h1.0v1.0h-1.0zM61.6 79.0h1.0v1.0h-1.0zM54.4 79.8h1.0v1.0h-1.0zM54.8 80.7h1.0v1.0h-1.0zM51.1 75.2h1.0v1.0h-1.0zM51.4 80.3h1.0v1.0h-1.0zM54.1 77.9h1.0v1.0h-1.0zM63.4 79.5h1.0v1.0h-1.0zM55.7 80.1h1.0v1.0h-1.0zM52.3 76.9h1.0v1.0h-1.0zM53.4 78.1h1.0v1.0h-1.0zM52.7 76.2h1.0v1.0h-1.0zM54.4 80.9h1.0v1.0h-1.0zM56.7 73.3h1.0v1.0h-1.0zM48.2 81.2h1.0v1.0h-1.0zM60.2 79.1h1.0v1.0h-1.0zM58.3 80.3h1.0v1.0h-1.0zM52.3 75.1h1.0v1.0h-1.0zM58.4 79.2h1.0v1.0h-1.0zM57.6 77.5h1.0v1.0h-1.0zM54.2 77.8h1.0v1.0h-1.0zM60.7 80.5h1.0v1.0h-1.0zM57.9 80.8h1.0v1.0h-1.0zM50.4 78.1h1.0v1.0h-1.0zM49.4 78.1h1.0v1.0h-1.0zM50.3 79.3h1.0v1.0h-1.0zM63.8 83.1h1.0v1.0h-1.0zM56.2 77.1h1.0v1.0h-1.0zM50.0 77.5h1.0v1.0h-1.0zM51.2 76.4h1.0v1.0h-1.0zM58.2 76.9h1.0v1.0h-1.0zM60.7 78.4h1.0v1.0h-1.0zM62.2 81.7h1.0v1.0h-1.0zM48.5 80.7h1.0v1.0h-1.0zM55.5 80.3h1.0v1.0h-1.0zM49.5 80.6h1.0v1.0h-1.0zM49.1 74.9h1.0v1.0h-1.0zM48.2 80.3h1.0v1.0h-1.0zM50.6 81.3h1.0v1.0h-1.0zM54.3 75.3h1.0v1.0h-1.0zM52.0 74.5h1.0v1.0h-1.0zM50.2 76.2h1.0v1.0h-1.0zM53.4 75.2h1.0v1.0h-1.0zM56.6 74.6h1.0v1.0h-1.0zM52.1 72.9h1.0v1.0h-1.0zM51.5 77.6h1.0v1.0h-1.0zM61.0 78.1h1.0v1.0h-1.0zM54.0 75.5h1.0v1.0h-1.0zM53.6 79.2h1.0v1.0h-1.0zM55.3 76.1h1.0v1.0h-1.0zM49.0 80.4h1.0v1.0h-1.0zM50.0 79.8h1.0v1.0h-1.0zM52.6 76.2h1.0v1.0h-1.0zM50.4 79.5h1.0v1.0h-1.0zM65.1 81.0h1.0v1.0h-1.0zM54.0 76.3h1.0v1.0h-1.0zM56.5 78.1h1.0v1.0h-1.0zM48.5 78.0h1.0v1.0h-1.0zM48.4 76.4h1.0v1.0h-1.0zM58.2 76.6h1.0v1.0h-1.0zM60.0 81.1h1.0v1.0h-1.0zM65.1 76.1h1.0v1.0h-1.0zM49.3 80.0h1.0v1.0h-1.0zM61.3 80.9h1.0v1.0h-1.0zM57.2 78.9h1.0v1.0h-1.0zM57.7 79.7h1.0v1.0h-1.0zM52.3 74.6h1.0v1.0h-1.0zM48.7 80.2h1.0v1.0h-1.0zM58.8 79.0h1.0v1.0h-1.0zM61.1 79.9h1.0v1.0h-1.0zM59.4 73.7h1.0v1.0h-1.0zM49.1 76.6h1.0v1.0h-1.0zM60.2 81.5h1.0v1.0h-1.0zM56.4 77.9h1.0v1.0h-1.0zM59.5 74.7h1.0v1.0h-1.0zM60.9 76.6h1.0v1.0h-1.0zM48.4 76.3h1.0v1.0h-1.0zM59.0 76.0h1.0v1.0h-1.0zM56.4 73.6h1.0v1.0h-1.0zM65.9 81.3h1.0v1.0h-1.0zM61.8 81.6h1.0v1.0h-1.0zM51.7 82.1h1.0v1.0h-1.0zM50.7 78.2h1.0v1.0h-1.0zM63.1 77.8h1.0v1.0h-1.0zM51.7 80.8h1.0v1.0h-1.0zM47.3 79.1h1.0v1.0h-1.0zM49.7 78.3h1.0v1.0h-1.0zM48.0 80.0h1.0v1.0h-1.0zM64.7 79.7h1.0v1.0h-1.0zM55.3 76.4h1.0v1.0h-1.0zM54.1 76.9h1.0v1.0h-1.0zM49.2 82.1h1.0v1.0h-1.0zM51.8 75.8h1.0v1.0h-1.0zM55.4 80.4h1.0v1.0h-1.0zM59.8 80.6h1.0v1.0h-1.0zM60.5 73.9h1.0v1.0h-1.0zM61.1 79.3h1.0v1.0h-1.0zM63.6 77.1h1.0v1.0h-1.0zM53.6 79.4h1.0v1.0h-1.0zM58.8 75.8h1.0v1.0h-1.0zM51.2 77.1h1.0v1.0h-1.0zM58.6 73.5h1.0v1.0h-1.0zM55.9 74.4h1.0v1.0h-1.0zM53.9 74.5h1.0v1.0h-1.0zM57.9 79.9h1.0v1.0h-1.0zM54.7 77.9h1.0v1.0h-1.0zM49.3 77.2h1.0v1.0h-1.0zM57.0 78.0h1.0v1.0h-1.0zM52.0 76.0h1.0v1.0h-1.0zM64.8 80.7h1.0v1.0h-1.0zM49.0 79.5h1.0v1.0h-1.0zM56.9 74.3h1.0v1.0h-1.0zM62.9 80.6h1.0v1.0h-1.0zM48.7 75.9h1.0v1.0h-1.0zM63.7 79.2h1.0v1.0h-1.0zM57.1 78.0h1.0v1.0h-1.0zM51.6 80.5h1.0v1.0h-1.0zM49.4 75.7h1.0v1.0h-1.0zM48.9 75.3h1.0v1.0h-1.0zM54.6 74.8h1.0v1.0h-1.0zM54.1 76.9h1.0v1.0h-1.0zM63.5 79.2h1.0v1.0h-1.0zM64.8 80.2h1.0v1.0h-1.0zM56.1 79.0h1.0v1.0h-1.0zM59.6 81.2h1.0v1.0h-1.0zM53.6 76.3h1.0v1.0h-1.0zM61.4 79.9h1.0v1.0h-1.0zM65.2 77.5h1.0v1.0h-1.0zM51.2 81.4h1.0v1.0h-1.0zM56.7 75.3h1.0v1.0h-1.0zM60.0 81.8h1.0v1.0h-1.0zM51.7 81.6h1.0v1.0h-1.0zM50.0 77.1h1.0v1.0h-1.0zM61.3 81.3h1.0v1.0h-1.0zM51.1 81.0h1.0v1.0h-1.0zM59.1 77.2h1.0v1.0h-1.0zM50.7 75.1h1.0v1.0h-1.0zM65.2 76.8h1.0v1.0h-1.0zM54.4 79.4h1.0v1.0h-1.0zM47.6 79.6h1.0v1.0h-1.0zM51.4 76.8h1.0v1.0h-1.0zM55.1 79.8h1.0v1.0h-1.0zM48.9 76.0h1.0v1.0h-1.0zM60.7 81.4h1.0v1.0h-1.0zM64.7 80.7h1.0v1.0h-1.0zM54.6 75.6h1.0v1.0h-1.0zM64.2 79.6h1.0v1.0h-1.0zM53.6 77.1h1.0v1.0h-1.0zM53.9 75.5h1.0v1.0h-1.0zM64.6 76.2h1.0v1.0h-1.0zM61.9 79.8h1.0v1.0h-1.0zM53.5 76.0h1.0v1.0h-1.0zM51.3 80.0h1.0v1.0h-1.0zM47.5 80.8h1.0v1.0h-1.0zM63.4 81.8h1.0v1.0h-1.0zM49.3 77.6h1.0v1.0h-1.0zM51.2 76.3h1.0v1.0h-1.0zM60.9 80.2h1.0v1.0h-1.0zM62.1 77.1h1.0v1.0h-1.0zM60.9 76.4h1.0v1.0h-1.0zM50.0 80.5h1.0v1.0h-1.0zM54.3 81.5h1.0v1.0h-1.0zM62.4 79.4h1.0v1.0h-1.0zM57.0 78.7h1.0v1.0h-1.0zM48.8 77.8h1.0v1.0h-1.0zM65.6 79.1h1.0v1.0h-1.0zM63.1 79.6h1.0v1.0h-1.0zM63.7 76.3h1.0v1.0h-1.0zM52.0 77.1h1.0v1.0h-1.0zM52.0 78.0h1.0v1.0h-1.0zM47.8 77.5h1.0v1.0h-1.0zM53.6 74.1h1.0v1.0h-1.0zM48.2 76.7h1.0v1.0h-1.0zM59.7 75.2h1.0v1.0h-1.0zM54.4 77.0h1.0v1.0h-1.0zM52.9 78.6h1.0v1.0h-1.0zM62.8 81.9h1.0v1.0h-1.0zM62.2 75.9h1.0v1.0h-1.0zM54.1 80.8h1.0v1.0h-1.0zM56.8 74.4h1.0v1.0h-1.0zM60.0 81.4h1.0v1.0h-1.0zM54.7 77.8h1.0v1.0h-1.0zM57.7 81.5h1.0v1.0h-1.0zM62.2 81.7h1.0v1.0h-1.0zM64.3 81.5h1.0v1.0h-1.0zM65.0 77.8h1.0v1.0h-1.0zM62.5 75.9h1.0v1.0h-1.0zM55.2 79.9h1.0v1.0h-1.0zM51.0 76.9h1.0v1.0h-1.0zM49.7 75.1h1.0v1.0h-1.0zM48.5 78.9h1.0v1.0h-1.0zM61.9 75.7h1.0v1.0h-1.0zM58.1 76.4h1.0v1.0h-1.0zM54.6 78.9h1.0v1.0h-1.0zM47.7 79.5h1.0v1.0h-1.0zM60.9 80.2h1.0v1.0h-1.0zM56.7 74.4h1.0v1.0h-1.0zM49.2 78.0h1.0v1.0h-1.0zM58.9 73.0h1.0v1.0h-1.0zM56.2 73.4h1.0v1.0h-1.0zM66.1 75.2h1.0v1.0h-1.0zM61.4 82.1h1.0v1.0h-1.0zM56.9 81.0h1.0v1.0h-1.0zM62.4 81.4h1.0v1.0h-1.0zM61.6 75.4h1.0v1.0h-1.0zM60.7 76.2h1.0v1.0h-1.0zM50.9 76.0h1.0v1.0h-1.0zM49.3 78.3h1.0v1.0h-1.0zM60.4 81.9h1.0v1.0h-1.0zM49.4 78.0h1.0v1.0h-1.0zM62.0 78.4h1.0v1.0h-1.0zM49.2 81.0h1.0v1.0h-1.0zM62.8 76.7h1.0v1.0h-1.0zM53.8 79.7h1.0v1.0h-1.0zM61.2 74.4h1.0v1.0h-1.0zM58.2 80.9h1.0v1.0h-1.0zM53.7 73.4h1.0v1.0h-1.0zM57.2 76.8h1.0v1.0h-1.0zM50.1 76.2h1.0v1.0h-1.0zM48.4 78.6h1.0v1.0h-1.0zM51.4 78.1h1.0v1.0h-1.0zM59.9 78.6h1.0v1.0h-1.0zM52.9 75.5h1.0v1.0h-1.0zM62.8 80.7h1.0v1.0h-1.0zM47.4 79.4h1.0v1.0h-1.0zM60.3 76.7h1.0v1.0h-1.0zM53.0 81.1h1.0v1.0h-1.0zM56.1 75.4h1.0v1.0h-1.0zM48.4 79.0h1.0v1.0h-1.0zM50.3 78.6h1.0v1.0h-1.0zM62.0 76.9h1.0v1.0h-1.0zM48.9 79.9h1.0v1.0h-1.0zM47.9 80.0h1.0v1.0h-1.0zM61.0 78.0h1.0v1.0h-1.0zM51.3 75.1h1.0v1.0h-1.0zM60.0 79.9h1.0v1.0h-1.0zM57.8 76.0h1.0v1.0h-1.0zM53.0 78.6h1.0v1.0h-1.0zM63.3 76.6h1.0v1.0h-1.0zM61.0 80.6h1.0v1.0h-1.0zM63.5 79.4h1.0v1.0h-1.0zM58.0 77.4h1.0v1.0h-1.0zM55.7 78.9h1.0v1.0h-1.0zM55.0 78.9h1.0v1.0h-1.0zM52.9 79.5h1.0v1.0h-1.0zM51.6 75.8h1.0v1.0h-1.0zM54.1 74.4h1.0v1.0h-1.0zM59.7 77.7h1.0v1.0h-1.0zM48.1 80.1h1.0v1.0h-1.0zM63.6 81.5h1.0v1.0h-1.0zM64.4 81.6h1.0v1.0h-1.0zM50.5 74.2h1.0v1.0h-1.0zM58.6 79.8h1.0v1.0h-1.0zM49.6 75.3h1.0v1.0h-1.0zM54.0 76.9h1.0v1.0h-1.0zM52.4 79.7h1.0v1.0h-1.0zM65.4 78.2h1.0v1.0h-1.0zM47.2 78.7h1.0v1.0h-1.0zM53.5 79.0h1.0v1.0h-1.0zM63.2 75.9h1.0v1.0h-1.0zM48.0 75.4h1.0v1.0h-1.0zM46.6 78.9h1.0v1.0h-1.0zM50.3 79.0h1.0v1.0h-1.0zM52.3 81.6h1.0v1.0h-1.0zM60.9 78.5h1.0v1.0h-1.0zM48.8 79.1h1.0v1.0h-1.0zM58.3 76.8h1.0v1.0h-1.0zM63.7 76.5h1.0v1.0h-1.0zM52.1 75.6h1.0v1.0h-1.0zM54.6 81.4h1.0v1.0h-1.0zM57.2 78.5h1.0v1.0h-1.0zM54.7 77.0h1.0v1.0h-1.0zM59.9 80.2h1.0v1.0h-1.0zM62.0 79.3h1.0v1.0h-1.0zM63.7 77.9h1.0v1.0h-1.0zM60.5 80.8h1.0v1.0h-1.0zM51.8 76.2h1.0v1.0h-1.0zM54.7 74.6h1.0v1.0h-1.0zM50.2 81.8h1.0v1.0h-1.0zM65.1 79.8h1.0v1.0h-1.0zM51.6 79.2h1.0v1.0h-1.0zM53.7 74.0h1.0v1.0h-1.0zM59.5 77.2h1.0v1.0h-1.0zM49.4 79.5h1.0v1.0h-1.0zM62.8 78.1h1.0v1.0h-1.0zM55.0 73.5h1.0v1.0h-1.0zM62.1 78.7h1.0v1.0h-1.0zM58.8 78.1h1.0v1.0h-1.0zM49.8 76.8h1.0v1.0h-1.0zM58.3 75.9h1.0v1.0h-1.0zM58.1 75.4h1.0v1.0h-1.0zM51.2 78.4h1.0v1.0h-1.0zM57.3 81.6h1.0v1.0h-1.0zM51.4 79.7h1.0v1.0h-1.0zM48.5 78.6h1.0v1.0h-1.0zM57.3 77.7h1.0v1.0h-1.0zM55.3 82.2h1.0v1.0h-1.0zM56.2 81.0h1.0v1.0h-1.0zM54.0 74.3h1.0v1.0h-1.0zM47.1 78.9h1.0v1.0h-1.0zM54.2 76.5h1.0v1.0h-1.0zM64.7 80.3h1.0v1.0h-1.0zM55.6 75.7h1.0v1.0h-1.0zM61.2 79.4h1.0v1.0h-1.0zM51.2 82.1h1.0v1.0h-1.0zM61.7 80.6h1.0v1.0h-1.0zM57.8 73.6h1.0v1.0h-1.0zM62.5 77.6h1.0v1.0h-1.0zM56.5 74.5h1.0v1.0h-1.0zM52.5 76.2h1.0v1.0h-1.0zM55.0 77.9h1.0v1.0h-1.0zM65.5 81.3h1.0v1.0h-1.0zM64.7 81.5h1.0v1.0h-1.0zM60.7 73.8h1.0v1.0h-1.0zM59.7 75.9h1.0v1.0h-1.0zM51.7 80.2h1.0v1.0h-1.0zM64.5 81.8h1.0v1.0h-1.0zM57.8 78.5h1.0v1.0h-1.0zM62.1 81.5h1.0v1.0h-1.0zM55.9 79.9h1.0v1.0h-1.0zM57.7 75.7h1.0v1.0h-1.0zM56.1 73.5h1.0v1.0h-1.0zM55.1 76.9h1.0v1.0h-1.0zM47.0 80.9h1.0v1.0h-1.0zM59.1 80.9h1.0v1.0h-1.0zM64.2 75.9h1.0v1.0h-1.0zM47.6 77.9h1.0v1.0h-1.0zM52.8 81.4h1.0v1.0h-1.0zM63.5 75.4h1.0v1.0h-1.0zM53.3 81.0h1.0v1.0h-1.0zM57.3 80.4h1.0v1.0h-1.0zM55.5 77.2h1.0v1.0h-1.0zM61.9 77.9h1.0v1.0h-1.0zM56.1 80.4h1.0v1.0h-1.0zM53.4 76.7h1.0v1.0h-1.0zM60.1 80.1h1.0v1.0h-1.0zM64.0 79.3h1.0v1.0h-1.0zM48.8 76.8h1.0v1.0h-1.0zM60.3 79.4h1.0v1.0h-1.0zM58.4 77.7h1.0v1.0h-1.0zM59.5 74.9h1.0v1.0h-1.0zM61.4 75.6h1.0v1.0h-1.0zM61.1 80.5h1.0v1.0h-1.0zM61.9 80.1h1.0v1.0h-1.0zM52.8 77.5h1.0v1.0h-1.0zM60.0 81.4h1.0v1.0h-1.0zM48.8 75.7h1.0v1.0h-1.0zM64.7 78.7h1.0v1.0h-1.0zM59.1 81.0h1.0v1.0h-1.0zM54.8 73.4h1.0v1.0h-1.0zM51.5 74.7h1.0v1.0h-1.0zM51.2 82.1h1.0v1.0h-1.0zM50.0 74.4h1.0v1.0h-1.0zM61.9 76.1h1.0v1.0h-1.0zM60.4 80.2h1.0v1.0h-1.0zM57.4 79.6h1.0v1.0h-1.0zM52.3 81.2h1.0v1.0h-1.0zM48.2 79.4h1.0v1.0h-1.0zM54.0 80.6h1.0v1.0h-1.0zM55.8 74.1h1.0v1.0h-1.0zM56.3 79.8h1.0v1.0h-1.0zM53.7 78.0h1.0v1.0h-1.0zM55.8 79.3h1.0v1.0h-1.0zM59.6 76.3h1.0v1.0h-1.0zM59.8 81.1h1.0v1.0h-1.0zM64.6 80.3h1.0v1.0h-1.0zM54.6 81.4h1.0v1.0h-1.0zM58.7 80.2h1.0v1.0h-1.0zM47.0 78.1h1.0v1.0h-1.0zM63.5 81.2h1.0v1.0h-1.0zM61.7 80.5h1.0v1.0h-1.0zM62.2 79.0h1.0v1.0h-1.0zM52.8 73.4h1.0v1.0h-1.0zM51.8 79.5h1.0v1.0h-1.0zM58.1 79.1h1.0v1.0h-1.0zM52.5 78.9h1.0v1.0h-1.0zM49.4 79.9h1.0v1.0h-1.0zM58.7 80.2h1.0v1.0h-1.0zM56.4 78.5h1.0v1.0h-1.0zM50.4 80.1h1.0v1.0h-1.0zM55.0 77.6h1.0v1.0h-1.0zM66.2 78.9h1.0v1.0h-1.0zM61.2 75.6h1.0v1.0h-1.0zM59.1 73.6h1.0v1.0h-1.0zM62.6 78.4h1.0v1.0h-1.0zM62.7 77.3h1.0v1.0h-1.0zM62.3 81.6h1.0v1.0h-1.0zM51.6 75.6h1.0v1.0h-1.0zM56.0 80.9h1.0v1.0h-1.0zM63.3 76.2h1.0v1.0h-1.0zM49.9 82.2h1.0v1.0h-1.0zM58.8 80.6h1.0v1.0h-1.0zM57.9 73.8h1.0v1.0h-1.0zM51.7 74.9h1.0v1.0h-1.0zM63.9 80.9h1.0v1.0h-1.0zM60.5 78.0h1.0v1.0h-1.0zM48.8 74.9h1.0v1.0h-1.0zM58.8 75.6h1.0v1.0h-1.0zM49.7 77.6h1.0v1.0h-1.0zM56.3 74.8h1.0v1.0h-1.0zM59.7 73.5h1.0v1.0h-1.0zM48.7 82.8h1.0v1.0h-1.0zM63.6 81.5h1.0v1.0h-1.0zM50.1 80.3h1.0v1.0h-1.0zM56.2 75.1h1.0v1.0h-1.0zM59.0 74.9h1.0v1.0h-1.0zM61.3 79.4h1.0v1.0h-1.0zM52.8 77.3h1.0v1.0h-1.0zM63.1 78.3h1.0v1.0h-1.0zM54.9 82.1h1.0v1.0h-1.0zM48.6 80.6h1.0v1.0h-1.0zM56.2 75.9h1.0v1.0h-1.0zM55.8 81.5h1.0v1.0h-1.0zM49.7 76.9h1.0v1.0h-1.0zM60.8 76.4h1.0v1.0h-1.0zM62.1 77.4h1.0v1.0h-1.0zM62.8 79.4h1.0v1.0h-1.0zM63.6 77.3h1.0v1.0h-1.0zM50.9 79.5h1.0v1.0h-1.0zM48.6 75.4h1.0v1.0h-1.0zM51.8 74.5h1.0v1.0h-1.0zM62.2 79.2h1.0v1.0h-1.0zM60.7 77.1h1.0v1.0h-1.0zM62.9 76.2h1.0v1.0h-1.0zM57.2 72.6h1.0v1.0h-1.0zM63.8 78.7h1.0v1.0h-1.0zM53.6 75.1h1.0v1.0h-1.0zM47.1 79.3h1.0v1.0h-1.0zM50.5 78.4h1.0v1.0h-1.0zM52.6 80.0h1.0v1.0h-1.0zM49.7 80.6h1.0v1.0h-1.0zM56.7 77.5h1.0v1.0h-1.0zM65.1 77.8h1.0v1.0h-1.0zM52.5 80.2h1.0v1.0h-1.0zM61.1 75.7h1.0v1.0h-1.0zM57.9 77.3h1.0v1.0h-1.0zM63.5 80.1h1.0v1.0h-1.0zM56.5 77.6h1.0v1.0h-1.0zM53.8 73.4h1.0v1.0h-1.0zM50.4 78.2h1.0v1.0h-1.0zM61.9 81.7h1.0v1.0h-1.0zM61.3 79.7h1.0v1.0h-1.0zM61.6 77.8h1.0v1.0h-1.0zM56.0 80.0h1.0v1.0h-1.0zM63.0 80.9h1.0v1.0h-1.0zM64.8 82.0h1.0v1.0h-1.0zM58.7 76.4h1.0v1.0h-1.0zM55.8 77.3h1.0v1.0h-1.0zM65.9 80.0h1.0v1.0h-1.0zM62.3 80.7h1.0v1.0h-1.0zM58.9 75.2h1.0v1.0h-1.0zM57.0 80.6h1.0v1.0h-1.0zM57.6 76.6h1.0v1.0h-1.0zM53.9 79.3h1.0v1.0h-1.0zM64.6 79.8h1.0v1.0h-1.0zM57.5 74.6h1.0v1.0h-1.0zM52.9 77.2h1.0v1.0h-1.0zM49.9 77.9h1.0v1.0h-1.0zM58.2 79.7h1.0v1.0h-1.0zM55.4 77.2h1.0v1.0h-1.0zM53.4 76.1h1.0v1.0h-1.0zM55.2 78.1h1.0v1.0h-1.0zM62.3 76.9h1.0v1.0h-1.0zM52.5 82.7h1.0v1.0h-1.0zM51.1 74.4h1.0v1.0h-1.0zM47.8 78.3h1.0v1.0h-1.0zM50.8 76.2h1.0v1.0h-1.0zM49.9 77.8h1.0v1.0h-1.0zM59.1 79.6h1.0v1.0h-1.0zM60.9 79.0h1.0v1.0h-1.0zM62.0 79.5h1.0v1.0h-1.0zM63.3 75.0h1.0v1.0h-1.0zM56.0 81.0h1.0v1.0h-1.0zM61.1 80.3h1.0v1.0h-1.0zM55.7 76.3h1.0v1.0h-1.0zM54.3 78.2h1.0v1.0h-1.0zM61.0 80.6h1.0v1.0h-1.0zM51.6 77.2h1.0v1.0h-1.0zM58.6 73.7h1.0v1.0h-1.0zM63.2 80.5h1.0v1.0h-1.0zM55.6 80.8h1.0v1.0h-1.0zM58.9 76.8h1.0v1.0h-1.0zM56.5 81.5h1.0v1.0h-1.0zM59.3 77.7h1.0v1.0h-1.0zM53.6 80.4h1.0v1.0h-1.0zM48.8 78.1h1.0v1.0h-1.0zM58.7 80.4h1.0v1.0h-1.0zM56.2 78.3h1.0v1.0h-1.0zM57.5 80.6h1.0v1.0h-1.0zM64.8 80.7h1.0v1.0h-1.0zM64.5 78.0h1.0v1.0h-1.0zM63.8 78.9h1.0v1.0h-1.0zM57.0 77.7h1.0v1.0h-1.0zM57.6 80.2h1.0v1.0h-1.0zM58.0 74.6h1.0v1.0h-1.0zM53.8 79.1h1.0v1.0h-1.0zM62.5 78.7h1.0v1.0h-1.0zM56.5 78.7h1.0v1.0h-1.0zM56.6 81.3h1.0v1.0h-1.0zM50.0 75.6h1.0v1.0h-1.0zM48.3 76.1h1.0v1.0h-1.0zM58.8 80.1h1.0v1.0h-1.0zM61.3 76.3h1.0v1.0h-1.0zM52.0 77.2h1.0v1.0h-1.0zM57.4 76.4h1.0v1.0h-1.0zM47.2 80.1h1.0v1.0h-1.0zM55.6 78.5h1.0v1.0h-1.0zM63.7 82.2h1.0v1.0h-1.0zM60.8 76.1h1.0v1.0h-1.0zM56.6 81.9h1.0v1.0h-1.0zM60.0 77.2h1.0v1.0h-1.0zM56.4 80.2h1.0v1.0h-1.0zM54.7 74.6h1.0v1.0h-1.0zM57.1 74.0h1.0v1.0h-1.0zM55.9 74.4h1.0v1.0h-1.0zM54.2 75.7h1.0v1.0h-1.0zM51.7 73.5h1.0v1.0h-1.0zM51.0 79.8h1.0v1.0h-1.0zM61.3 76.7h1.0v1.0h-1.0zM61.4 77.1h1.0v1.0h-1.0zM54.9 82.9h1.0v1.0h-1.0zM56.4 75.0h1.0v1.0h-1.0zM61.1 75.5h1.0v1.0h-1.0zM53.9 74.8h1.0v1.0h-1.0zM62.4 76.6h1.0v1.0h-1.0zM51.8 80.4h1.0v1.0h-1.0zM57.6 76.0h1.0v1.0h-1.0zM50.5 81.4h1.0v1.0h-1.0zM49.2 79.4h1.0v1.0h-1.0zM52.9 74.4h1.0v1.0h-1.0zM49.9 80.4h1.0v1.0h-1.0zM64.9 79.5h1.0v1.0h-1.0zM51.2 76.9h1.0v1.0h-1.0zM58.7 77.1h1.0v1.0h-1.0zM60.5 75.4h1.0v1.0h-1.0zM60.1 76.0h1.0v1.0h-1.0zM61.0 79.6h1.0v1.0h-1.0zM50.4 76.5h1.0v1.0h-1.0zM48.2 77.3h1.0v1.0h-1.0zM62.5 78.5h1.0v1.0h-1.0zM55.5 78.9h1.0v1.0h-1.0zM62.5 80.4h1.0v1.0h-1.0zM63.4 79.4h1.0v1.0h-1.0zM50.2 81.7h1.0v1.0h-1.0zM60.8 74.5h1.0v1.0h-1.0zM61.0 80.7h1.0v1.0h-1.0zM65.5 78.1h1.0v1.0h-1.0zM60.3 79.8h1.0v1.0h-1.0zM48.0 80.2h1.0v1.0h-1.0zM64.2 76.8h1.0v1.0h-1.0zM60.2 81.0h1.0v1.0h-1.0zM64.4 79.5h1.0v1.0h-1.0zM48.5 78.0h1.0v1.0h-1.0zM53.0 73.4h1.0v1.0h-1.0zM51.3 75.6h1.0v1.0h-1.0zM63.9 79.5h1.0v1.0h-1.0zM49.7 79.7h1.0v1.0h-1.0zM58.0 80.5h1.0v1.0h-1.0zM58.5 75.8h1.0v1.0h-1.0zM49.5 77.3h1.0v1.0h-1.0zM49.2 78.3h1.0v1.0h-1.0zM55.4 74.6h1.0v1.0h-1.0zM54.3 74.5h1.0v1.0h-1.0zM66.3 80.8h1.0v1.0h-1.0zM65.8 79.8h1.0v1.0h-1.0zM55.4 74.5h1.0v1.0h-1.0zM62.9 78.5h1.0v1.0h-1.0zM59.4 76.1h1.0v1.0h-1.0zM48.6 79.8h1.0v1.0h-1.0zM52.0 77.6h1.0v1.0h-1.0zM51.3 79.0h1.0v1.0h-1.0zM53.9 74.2h1.0v1.0h-1.0zM53.4 78.7h1.0v1.0h-1.0zM51.1 73.7h1.0v1.0h-1.0zM63.7 78.8h1.0v1.0h-1.0zM56.9 77.8h1.0v1.0h-1.0zM57.9 73.5h1.0v1.0h-1.0zM55.8 81.4h1.0v1.0h-1.0zM55.6 74.5h1.0v1.0h-1.0zM62.9 80.0h1.0v1.0h-1.0zM52.1 78.8h1.0v1.0h-1.0zM53.1 75.7h1.0v1.0h-1.0zM63.6 77.9h1.0v1.0h-1.0zM57.9 76.4h1.0v1.0h-1.0zM55.0 76.8h1.0v1.0h-1.0zM64.1 81.2h1.0v1.0h-1.0zM61.7 74.7h1.0v1.0h-1.0zM53.8 77.8h1.0v1.0h-1.0zM58.5 77.2h1.0v1.0h-1.0zM48.0 76.3h1.0v1.0h-1.0zM48.7 80.1h1.0v1.0h-1.0zM54.5 77.2h1.0v1.0h-1.0zM50.5 75.6h1.0v1.0h-1.0zM49.8 81.0h1.0v1.0h-1.0zM56.3 75.2h1.0v1.0h-1.0zM52.4 78.9h1.0v1.0h-1.0zM58.0 74.1h1.0v1.0h-1.0zM54.5 80.1h1.0v1.0h-1.0zM62.3 75.4h1.0v1.0h-1.0zM49.3 80.8h1.0v1.0h-1.0zM64.9 78.9h1.0v1.0h-1.0zM61.6 75.9h1.0v1.0h-1.0zM48.2 80.0h1.0v1.0h-1.0zM61.1 76.7h1.0v1.0h-1.0zM64.5 78.4h1.0v1.0h-1.0zM50.1 80.8h1.0v1.0h-1.0zM60.3 80.7h1.0v1.0h-1.0zM60.8 81.0h1.0v1.0h-1.0zM57.3 73.8h1.0v1.0h-1.0zM49.6 80.6h1.0v1.0h-1.0zM51.7 76.7h1.0v1.0h-1.0zM50.8 75.9h1.0v1.0h-1.0zM50.8 79.4h1.0v1.0h-1.0zM55.2 73.6h1.0v1.0h-1.0zM60.1 80.1h1.0v1.0h-1.0zM52.4 74.4h1.0v1.0h-1.0zM62.5 76.5h1.0v1.0h-1.0zM59.4 77.0h1.0v1.0h-1.0zM63.4 77.3h1.0v1.0h-1.0zM49.5 78.9h1.0v1.0h-1.0zM58.5 74.2h1.0v1.0h-1.0zM55.6 78.3h1.0v1.0h-1.0zM47.8 79.5h1.0v1.0h-1.0zM56.3 81.6h1.0v1.0h-1.0zM59.6 76.8h1.0v1.0h-1.0zM50.7 77.8h1.0v1.0h-1.0zM64.2 76.0h1.0v1.0h-1.0zM62.6 79.6h1.0v1.0h-1.0zM54.6 74.1h1.0v1.0h-1.0zM64.0 81.0h1.0v1.0h-1.0zM60.5 77.6h1.0v1.0h-1.0zM58.1 76.8h1.0v1.0h-1.0zM52.9 81.6h1.0v1.0h-1.0zM51.9 75.9h1.0v1.0h-1.0zM47.2 81.1h1.0v1.0h-1.0zM58.0 75.9h1.0v1.0h-1.0zM53.0 75.0h1.0v1.0h-1.0zM65.2 77.7h1.0v1.0h-1.0zM47.4 75.5h1.0v1.0h-1.0zM52.8 80.3h1.0v1.0h-1.0zM49.5 78.1h1.0v1.0h-1.0zM52.6 74.3h1.0v1.0h-1.0zM59.9 76.0h1.0v1.0h-1.0zM58.2 80.1h1.0v1.0h-1.0zM60.6 81.2h1.0v1.0h-1.0zM61.9 81.1h1.0v1.0h-1.0zM51.8 77.5h1.0v1.0h-1.0zM63.6 78.5h1.0v1.0h-1.0zM59.0 76.3h1.0v1.0h-1.0zM49.8 78.4h1.0v1.0h-1.0zM69.3 80.1h1.0v1.0h-1.0zM77.4 81.5h1.0v1.0h-1.0zM76.1 81.0h1.0v1.0h-1.0zM70.2 80.7h1.0v1.0h-1.0zM78.1 75.0h1.0v1.0h-1.0zM84.8 74.1h1.0v1.0h-1.0zM77.3 76.9h1.0v1.0h-1.0zM84.4 80.8h1.0v1.0h-1.0zM76.3 73.8h1.0v1.0h-1.0zM65.6 73.5h1.0v1.0h-1.0zM66.3 76.0h1.0v1.0h-1.0zM68.9 81.2h1.0v1.0h-1.0zM68.3 78.3h1.0v1.0h-1.0zM70.2 74.2h1.0v1.0h-1.0zM73.3 74.6h1.0v1.0h-1.0zM67.3 81.5h1.0v1.0h-1.0zM73.1 80.9h1.0v1.0h-1.0zM68.7 81.3h1.0v1.0h-1.0zM83.6 80.1h1.0v1.0h-1.0zM65.3 76.8h1.0v1.0h-1.0zM66.0 80.7h1.0v1.0h-1.0zM80.1 74.3h1.0v1.0h-1.0zM68.3 79.6h1.0v1.0h-1.0zM71.4 74.6h1.0v1.0h-1.0zM71.6 81.1h1.0v1.0h-1.0zM67.5 78.6h1.0v1.0h-1.0zM72.1 81.6h1.0v1.0h-1.0zM72.7 72.8h1.0v1.0h-1.0zM76.5 73.7h1.0v1.0h-1.0zM76.5 79.6h1.0v1.0h-1.0zM76.4 76.5h1.0v1.0h-1.0zM67.0 76.9h1.0v1.0h-1.0zM78.0 76.1h1.0v1.0h-1.0zM69.4 75.5h1.0v1.0h-1.0zM82.2 77.2h1.0v1.0h-1.0zM75.5 81.1h1.0v1.0h-1.0zM74.8 78.2h1.0v1.0h-1.0zM75.5 77.7h1.0v1.0h-1.0zM66.9 79.2h1.0v1.0h-1.0zM83.1 74.6h1.0v1.0h-1.0zM73.9 81.5h1.0v1.0h-1.0zM77.4 77.2h1.0v1.0h-1.0zM82.5 76.7h1.0v1.0h-1.0zM77.2 79.6h1.0v1.0h-1.0zM76.4 78.9h1.0v1.0h-1.0zM70.7 78.0h1.0v1.0h-1.0zM80.4 80.1h1.0v1.0h-1.0zM68.1 78.7h1.0v1.0h-1.0zM65.4 74.6h1.0v1.0h-1.0zM69.5 75.8h1.0v1.0h-1.0zM65.2 80.3h1.0v1.0h-1.0zM66.1 77.2h1.0v1.0h-1.0zM71.0 75.1h1.0v1.0h-1.0zM73.0 78.5h1.0v1.0h-1.0zM67.2 78.0h1.0v1.0h-1.0zM71.4 81.6h1.0v1.0h-1.0zM77.4 79.8h1.0v1.0h-1.0zM72.1 81.4h1.0v1.0h-1.0zM68.8 77.4h1.0v1.0h-1.0zM66.5 80.1h1.0v1.0h-1.0zM80.3 81.4h1.0v1.0h-1.0zM80.9 76.0h1.0v1.0h-1.0zM66.3 81.3h1.0v1.0h-1.0zM78.3 80.7h1.0v1.0h-1.0zM84.2 77.2h1.0v1.0h-1.0zM68.3 76.9h1.0v1.0h-1.0zM78.7 77.4h1.0v1.0h-1.0zM73.4 81.3h1.0v1.0h-1.0zM73.2 75.2h1.0v1.0h-1.0zM66.4 80.3h1.0v1.0h-1.0zM65.8 78.9h1.0v1.0h-1.0zM66.6 78.7h1.0v1.0h-1.0zM68.1 80.1h1.0v1.0h-1.0zM68.3 75.7h1.0v1.0h-1.0zM67.5 80.3h1.0v1.0h-1.0zM69.1 80.9h1.0v1.0h-1.0zM85.9 77.1h1.0v1.0h-1.0zM66.7 80.4h1.0v1.0h-1.0zM70.0 75.2h1.0v1.0h-1.0zM73.4 80.3h1.0v1.0h-1.0zM65.7 81.5h1.0v1.0h-1.0zM74.0 77.6h1.0v1.0h-1.0zM71.8 78.5h1.0v1.0h-1.0zM71.1 80.3h1.0v1.0h-1.0zM71.1 79.2h1.0v1.0h-1.0zM84.4 75.7h1.0v1.0h-1.0zM76.5 81.3h1.0v1.0h-1.0zM72.9 77.5h1.0v1.0h-1.0zM67.0 80.0h1.0v1.0h-1.0zM67.8 77.8h1.0v1.0h-1.0zM72.8 76.3h1.0v1.0h-1.0zM72.6 77.7h1.0v1.0h-1.0zM75.7 74.8h1.0v1.0h-1.0zM74.9 76.8h1.0v1.0h-1.0zM65.3 78.2h1.0v1.0h-1.0zM74.0 81.4h1.0v1.0h-1.0zM78.0 81.4h1.0v1.0h-1.0zM76.6 80.2h1.0v1.0h-1.0zM78.2 77.0h1.0v1.0h-1.0zM71.6 81.0h1.0v1.0h-1.0zM77.8 77.5h1.0v1.0h-1.0zM69.8 73.9h1.0v1.0h-1.0zM82.8 75.8h1.0v1.0h-1.0zM71.3 78.4h1.0v1.0h-1.0zM67.4 75.9h1.0v1.0h-1.0zM75.4 76.9h1.0v1.0h-1.0zM74.7 79.5h1.0v1.0h-1.0zM71.0 80.0h1.0v1.0h-1.0zM72.6 76.2h1.0v1.0h-1.0zM76.8 76.3h1.0v1.0h-1.0zM78.0 76.7h1.0v1.0h-1.0zM76.0 79.3h1.0v1.0h-1.0zM72.6 76.8h1.0v1.0h-1.0zM73.0 80.1h1.0v1.0h-1.0zM70.7 76.6h1.0v1.0h-1.0zM77.3 81.4h1.0v1.0h-1.0zM77.8 74.7h1.0v1.0h-1.0zM68.1 79.4h1.0v1.0h-1.0zM66.1 78.8h1.0v1.0h-1.0zM66.0 73.9h1.0v1.0h-1.0zM65.4 81.5h1.0v1.0h-1.0zM73.8 76.3h1.0v1.0h-1.0zM77.4 79.7h1.0v1.0h-1.0zM68.9 78.1h1.0v1.0h-1.0zM72.8 77.5h1.0v1.0h-1.0zM66.5 80.4h1.0v1.0h-1.0zM76.3 77.6h1.0v1.0h-1.0zM65.3 76.4h1.0v1.0h-1.0zM66.5 75.3h1.0v1.0h-1.0zM69.9 79.8h1.0v1.0h-1.0zM68.0 77.3h1.0v1.0h-1.0zM68.1 80.9h1.0v1.0h-1.0zM77.8 80.3h1.0v1.0h-1.0zM81.1 74.7h1.0v1.0h-1.0zM71.3 77.3h1.0v1.0h-1.0zM68.6 79.2h1.0v1.0h-1.0zM79.3 81.4h1.0v1.0h-1.0zM70.9 79.2h1.0v1.0h-1.0zM72.5 73.8h1.0v1.0h-1.0zM70.5 75.5h1.0v1.0h-1.0zM66.9 75.6h1.0v1.0h-1.0zM67.0 80.1h1.0v1.0h-1.0zM65.0 78.7h1.0v1.0h-1.0zM70.1 81.2h1.0v1.0h-1.0zM77.4 80.3h1.0v1.0h-1.0zM79.6 81.5h1.0v1.0h-1.0zM83.0 80.4h1.0v1.0h-1.0zM81.8 78.4h1.0v1.0h-1.0zM69.1 77.7h1.0v1.0h-1.0zM72.3 81.7h1.0v1.0h-1.0zM68.5 79.2h1.0v1.0h-1.0zM66.4 80.2h1.0v1.0h-1.0zM78.3 74.0h1.0v1.0h-1.0zM73.1 78.5h1.0v1.0h-1.0zM66.0 78.8h1.0v1.0h-1.0zM76.3 73.0h1.0v1.0h-1.0zM75.2 79.3h1.0v1.0h-1.0zM67.0 80.5h1.0v1.0h-1.0zM70.3 81.2h1.0v1.0h-1.0zM66.5 76.1h1.0v1.0h-1.0zM72.1 80.3h1.0v1.0h-1.0zM81.9 81.1h1.0v1.0h-1.0zM78.7 81.2h1.0v1.0h-1.0zM78.8 81.4h1.0v1.0h-1.0zM68.8 80.3h1.0v1.0h-1.0zM69.7 78.7h1.0v1.0h-1.0zM71.4 79.9h1.0v1.0h-1.0zM78.2 81.0h1.0v1.0h-1.0zM68.9 79.5h1.0v1.0h-1.0zM71.3 75.0h1.0v1.0h-1.0zM73.9 74.2h1.0v1.0h-1.0zM81.1 80.0h1.0v1.0h-1.0zM66.8 81.3h1.0v1.0h-1.0zM65.3 76.7h1.0v1.0h-1.0zM70.9 75.1h1.0v1.0h-1.0zM84.1 81.5h1.0v1.0h-1.0zM66.3 75.2h1.0v1.0h-1.0zM65.2 75.6h1.0v1.0h-1.0zM77.5 79.2h1.0v1.0h-1.0zM70.0 73.4h1.0v1.0h-1.0zM66.6 79.4h1.0v1.0h-1.0zM68.4 73.8h1.0v1.0h-1.0zM70.7 81.0h1.0v1.0h-1.0zM73.1 77.4h1.0v1.0h-1.0zM82.1 74.9h1.0v1.0h-1.0zM75.2 79.7h1.0v1.0h-1.0zM71.7 75.5h1.0v1.0h-1.0zM72.4 73.6h1.0v1.0h-1.0zM77.5 78.8h1.0v1.0h-1.0zM69.0 79.9h1.0v1.0h-1.0zM48.0 76.0h1.0v1.0h-1.0zM44.3 78.9h1.0v1.0h-1.0zM44.9 80.3h1.0v1.0h-1.0zM43.4 82.4h1.0v1.0h-1.0zM47.2 74.6h1.0v1.0h-1.0zM47.3 80.3h1.0v1.0h-1.0zM46.4 82.0h1.0v1.0h-1.0zM47.2 77.6h1.0v1.0h-1.0zM44.0 76.9h1.0v1.0h-1.0zM43.6 80.4h1.0v1.0h-1.0zM47.6 78.7h1.0v1.0h-1.0zM47.1 79.7h1.0v1.0h-1.0zM47.9 79.6h1.0v1.0h-1.0zM46.4 79.8h1.0v1.0h-1.0zM47.8 75.0h1.0v1.0h-1.0zM45.4 76.5h1.0v1.0h-1.0zM46.7 78.0h1.0v1.0h-1.0zM47.4 76.8h1.0v1.0h-1.0zM46.0 81.0h1.0v1.0h-1.0zM47.5 78.8h1.0v1.0h-1.0zM46.6 81.3h1.0v1.0h-1.0zM42.6 77.8h1.0v1.0h-1.0zM44.9 76.7h1.0v1.0h-1.0zM37.8 76.5h1.0v1.0h-1.0zM47.3 78.6h1.0v1.0h-1.0zM47.1 77.1h1.0v1.0h-1.0zM42.8 75.8h1.0v1.0h-1.0zM41.8 76.5h1.0v1.0h-1.0zM45.3 78.6h1.0v1.0h-1.0zM45.7 78.8h1.0v1.0h-1.0z" fill="#000"/><path d="M186.5 75.7h1.0v1.0h-1.0zM179.7 79.2h1.0v1.0h-1.0zM180.5 79.4h1.0v1.0h-1.0zM178.8 80.8h1.0v1.0h-1.0zM180.8 78.6h1.0v1.0h-1.0zM183.5 75.5h1.0v1.0h-1.0zM178.0 73.4h1.0v1.0h-1.0zM180.2 79.3h1.0v1.0h-1.0zM184.3 74.2h1.0v1.0h-1.0zM177.2 74.5h1.0v1.0h-1.0zM186.7 73.7h1.0v1.0h-1.0zM178.6 79.5h1.0v1.0h-1.0zM187.5 80.4h1.0v1.0h-1.0zM185.9 78.6h1.0v1.0h-1.0zM184.0 73.5h1.0v1.0h-1.0zM178.8 76.6h1.0v1.0h-1.0zM177.3 79.7h1.0v1.0h-1.0zM183.8 78.0h1.0v1.0h-1.0zM179.1 75.4h1.0v1.0h-1.0zM179.1 73.8h1.0v1.0h-1.0zM186.5 80.9h1.0v1.0h-1.0zM182.1 80.0h1.0v1.0h-1.0zM177.5 74.3h1.0v1.0h-1.0zM188.5 80.3h1.0v1.0h-1.0zM177.5 77.5h1.0v1.0h-1.0zM186.3 77.4h1.0v1.0h-1.0zM177.0 76.9h1.0v1.0h-1.0zM185.2 76.0h1.0v1.0h-1.0zM185.5 80.7h1.0v1.0h-1.0zM188.7 80.3h1.0v1.0h-1.0zM182.8 79.1h1.0v1.0h-1.0zM190.4 80.7h1.0v1.0h-1.0zM186.3 76.4h1.0v1.0h-1.0zM187.7 77.5h1.0v1.0h-1.0zM178.7 81.2h1.0v1.0h-1.0zM187.2 74.7h1.0v1.0h-1.0zM179.2 77.4h1.0v1.0h-1.0zM178.4 80.1h1.0v1.0h-1.0zM178.9 75.6h1.0v1.0h-1.0zM181.7 78.4h1.0v1.0h-1.0zM182.5 81.3h1.0v1.0h-1.0zM182.9 79.1h1.0v1.0h-1.0zM180.6 82.4h1.0v1.0h-1.0zM181.2 76.4h1.0v1.0h-1.0zM190.4 75.0h1.0v1.0h-1.0zM178.8 80.1h1.0v1.0h-1.0zM183.1 79.6h1.0v1.0h-1.0zM175.4 77.9h1.0v1.0h-1.0zM190.3 75.1h1.0v1.0h-1.0zM179.7 77.0h1.0v1.0h-1.0zM182.1 76.0h1.0v1.0h-1.0zM183.4 77.9h1.0v1.0h-1.0zM180.9 78.6h1.0v1.0h-1.0zM186.7 79.2h1.0v1.0h-1.0zM185.7 76.1h1.0v1.0h-1.0zM184.3 75.3h1.0v1.0h-1.0zM188.3 80.0h1.0v1.0h-1.0zM188.6 78.1h1.0v1.0h-1.0zM176.5 79.7h1.0v1.0h-1.0zM181.6 78.4h1.0v1.0h-1.0zM179.6 76.7h1.0v1.0h-1.0zM181.3 72.8h1.0v1.0h-1.0zM177.7 74.0h1.0v1.0h-1.0zM183.6 74.6h1.0v1.0h-1.0zM181.7 78.1h1.0v1.0h-1.0zM188.0 81.0h1.0v1.0h-1.0zM182.9 73.1h1.0v1.0h-1.0zM182.0 78.4h1.0v1.0h-1.0zM185.0 75.6h1.0v1.0h-1.0zM190.9 80.3h1.0v1.0h-1.0zM176.0 78.8h1.0v1.0h-1.0zM180.8 73.6h1.0v1.0h-1.0zM187.5 77.9h1.0v1.0h-1.0zM189.5 73.4h1.0v1.0h-1.0zM182.0 74.5h1.0v1.0h-1.0zM178.8 77.2h1.0v1.0h-1.0zM177.9 78.0h1.0v1.0h-1.0zM179.8 81.2h1.0v1.0h-1.0zM188.3 74.4h1.0v1.0h-1.0zM185.5 82.3h1.0v1.0h-1.0zM177.6 73.6h1.0v1.0h-1.0zM186.6 80.8h1.0v1.0h-1.0zM183.1 73.1h1.0v1.0h-1.0zM182.4 79.3h1.0v1.0h-1.0zM182.0 77.8h1.0v1.0h-1.0zM176.6 75.3h1.0v1.0h-1.0zM179.4 75.5h1.0v1.0h-1.0zM185.1 82.4h1.0v1.0h-1.0zM186.0 78.4h1.0v1.0h-1.0zM180.7 80.4h1.0v1.0h-1.0zM189.6 77.4h1.0v1.0h-1.0zM187.9 79.8h1.0v1.0h-1.0zM184.4 83.4h1.0v1.0h-1.0zM180.5 75.8h1.0v1.0h-1.0zM185.3 76.4h1.0v1.0h-1.0zM177.5 76.4h1.0v1.0h-1.0zM177.0 78.3h1.0v1.0h-1.0zM182.6 81.8h1.0v1.0h-1.0zM184.8 74.7h1.0v1.0h-1.0zM185.4 82.2h1.0v1.0h-1.0zM182.1 75.4h1.0v1.0h-1.0zM178.7 80.4h1.0v1.0h-1.0zM187.2 80.4h1.0v1.0h-1.0zM188.3 77.2h1.0v1.0h-1.0zM183.9 76.9h1.0v1.0h-1.0zM179.7 75.3h1.0v1.0h-1.0zM183.4 81.0h1.0v1.0h-1.0zM184.2 77.1h1.0v1.0h-1.0zM189.4 79.9h1.0v1.0h-1.0zM181.9 79.0h1.0v1.0h-1.0zM182.6 77.3h1.0v1.0h-1.0zM182.2 76.9h1.0v1.0h-1.0zM186.6 76.2h1.0v1.0h-1.0zM180.9 81.2h1.0v1.0h-1.0zM181.9 81.6h1.0v1.0h-1.0zM178.6 76.4h1.0v1.0h-1.0zM179.4 75.7h1.0v1.0h-1.0zM188.3 78.3h1.0v1.0h-1.0zM185.8 82.6h1.0v1.0h-1.0zM182.5 73.0h1.0v1.0h-1.0zM182.9 72.8h1.0v1.0h-1.0zM185.0 82.0h1.0v1.0h-1.0zM178.1 72.7h1.0v1.0h-1.0zM178.8 76.2h1.0v1.0h-1.0zM184.1 83.7h1.0v1.0h-1.0zM182.5 77.3h1.0v1.0h-1.0zM189.5 80.0h1.0v1.0h-1.0zM178.3 76.0h1.0v1.0h-1.0zM177.5 77.6h1.0v1.0h-1.0zM181.7 79.8h1.0v1.0h-1.0zM188.0 79.1h1.0v1.0h-1.0zM190.2 79.4h1.0v1.0h-1.0zM177.7 76.0h1.0v1.0h-1.0zM177.1 78.2h1.0v1.0h-1.0zM175.7 79.9h1.0v1.0h-1.0zM182.4 80.9h1.0v1.0h-1.0zM188.8 79.8h1.0v1.0h-1.0zM183.1 74.6h1.0v1.0h-1.0zM188.6 80.2h1.0v1.0h-1.0zM180.9 81.1h1.0v1.0h-1.0zM178.2 80.5h1.0v1.0h-1.0zM190.4 74.0h1.0v1.0h-1.0zM177.0 78.8h1.0v1.0h-1.0zM184.9 76.8h1.0v1.0h-1.0zM187.0 74.7h1.0v1.0h-1.0zM188.2 76.5h1.0v1.0h-1.0zM187.3 79.5h1.0v1.0h-1.0zM185.9 74.5h1.0v1.0h-1.0zM184.7 80.3h1.0v1.0h-1.0zM183.0 76.8h1.0v1.0h-1.0zM181.0 82.2h1.0v1.0h-1.0zM183.0 73.6h1.0v1.0h-1.0zM186.9 73.5h1.0v1.0h-1.0zM186.0 73.8h1.0v1.0h-1.0zM181.1 80.5h1.0v1.0h-1.0zM178.1 80.0h1.0v1.0h-1.0zM182.6 75.9h1.0v1.0h-1.0zM181.5 81.9h1.0v1.0h-1.0zM188.0 75.5h1.0v1.0h-1.0zM182.2 74.2h1.0v1.0h-1.0zM187.7 75.2h1.0v1.0h-1.0zM190.3 78.1h1.0v1.0h-1.0zM185.7 77.1h1.0v1.0h-1.0zM178.6 79.3h1.0v1.0h-1.0zM185.0 75.7h1.0v1.0h-1.0zM190.2 81.4h1.0v1.0h-1.0zM184.4 77.2h1.0v1.0h-1.0zM182.9 78.4h1.0v1.0h-1.0zM183.7 79.7h1.0v1.0h-1.0zM191.0 76.0h1.0v1.0h-1.0zM179.5 78.1h1.0v1.0h-1.0zM184.6 76.0h1.0v1.0h-1.0zM177.6 75.1h1.0v1.0h-1.0zM187.9 80.5h1.0v1.0h-1.0zM186.0 77.0h1.0v1.0h-1.0zM180.8 80.8h1.0v1.0h-1.0zM180.1 81.7h1.0v1.0h-1.0zM183.7 74.9h1.0v1.0h-1.0zM187.0 77.1h1.0v1.0h-1.0zM189.9 78.5h1.0v1.0h-1.0zM178.2 77.0h1.0v1.0h-1.0zM182.6 74.1h1.0v1.0h-1.0zM185.2 80.6h1.0v1.0h-1.0zM180.8 81.5h1.0v1.0h-1.0zM179.5 80.8h1.0v1.0h-1.0zM189.4 76.7h1.0v1.0h-1.0zM188.9 82.4h1.0v1.0h-1.0zM179.5 75.5h1.0v1.0h-1.0zM190.6 80.7h1.0v1.0h-1.0zM185.3 73.4h1.0v1.0h-1.0zM181.5 81.7h1.0v1.0h-1.0zM177.5 74.0h1.0v1.0h-1.0zM177.9 77.1h1.0v1.0h-1.0zM182.6 78.0h1.0v1.0h-1.0zM182.4 74.5h1.0v1.0h-1.0zM188.5 76.1h1.0v1.0h-1.0zM182.0 75.5h1.0v1.0h-1.0zM184.6 80.9h1.0v1.0h-1.0zM189.1 78.6h1.0v1.0h-1.0zM179.0 77.1h1.0v1.0h-1.0zM180.3 75.7h1.0v1.0h-1.0zM179.8 75.4h1.0v1.0h-1.0zM188.3 79.3h1.0v1.0h-1.0zM178.1 74.1h1.0v1.0h-1.0zM179.9 79.0h1.0v1.0h-1.0zM181.2 72.6h1.0v1.0h-1.0zM183.1 73.7h1.0v1.0h-1.0zM185.6 73.9h1.0v1.0h-1.0zM179.9 77.1h1.0v1.0h-1.0zM185.5 82.6h1.0v1.0h-1.0zM184.5 75.9h1.0v1.0h-1.0zM183.5 74.9h1.0v1.0h-1.0zM190.7 80.6h1.0v1.0h-1.0zM182.7 73.9h1.0v1.0h-1.0zM189.0 75.2h1.0v1.0h-1.0zM182.6 74.4h1.0v1.0h-1.0zM183.7 78.2h1.0v1.0h-1.0zM177.5 78.6h1.0v1.0h-1.0zM179.8 72.9h1.0v1.0h-1.0zM180.4 80.4h1.0v1.0h-1.0zM180.4 81.8h1.0v1.0h-1.0zM178.9 78.3h1.0v1.0h-1.0zM178.8 80.1h1.0v1.0h-1.0zM182.1 79.2h1.0v1.0h-1.0zM182.3 81.0h1.0v1.0h-1.0zM189.6 78.8h1.0v1.0h-1.0zM190.7 78.1h1.0v1.0h-1.0zM178.6 77.8h1.0v1.0h-1.0zM181.2 77.4h1.0v1.0h-1.0zM179.5 77.6h1.0v1.0h-1.0zM184.9 74.6h1.0v1.0h-1.0zM187.2 78.3h1.0v1.0h-1.0zM179.2 81.2h1.0v1.0h-1.0zM180.2 75.1h1.0v1.0h-1.0zM183.4 80.7h1.0v1.0h-1.0zM180.6 77.0h1.0v1.0h-1.0zM186.6 76.6h1.0v1.0h-1.0zM184.5 78.1h1.0v1.0h-1.0zM180.3 74.0h1.0v1.0h-1.0zM188.4 75.7h1.0v1.0h-1.0zM187.2 75.7h1.0v1.0h-1.0zM186.4 79.6h1.0v1.0h-1.0zM179.9 75.6h1.0v1.0h-1.0zM187.1 80.8h1.0v1.0h-1.0zM181.2 82.3h1.0v1.0h-1.0zM181.0 80.6h1.0v1.0h-1.0zM187.5 80.9h1.0v1.0h-1.0zM188.4 77.9h1.0v1.0h-1.0zM182.0 76.3h1.0v1.0h-1.0zM177.0 77.0h1.0v1.0h-1.0zM181.0 81.1h1.0v1.0h-1.0zM186.4 75.0h1.0v1.0h-1.0zM185.4 77.4h1.0v1.0h-1.0zM187.8 75.1h1.0v1.0h-1.0zM180.5 74.6h1.0v1.0h-1.0zM185.2 78.1h1.0v1.0h-1.0zM179.6 78.3h1.0v1.0h-1.0zM178.4 83.0h1.0v1.0h-1.0zM179.8 78.5h1.0v1.0h-1.0zM187.1 81.7h1.0v1.0h-1.0zM184.0 82.4h1.0v1.0h-1.0zM180.1 77.0h1.0v1.0h-1.0zM184.2 76.2h1.0v1.0h-1.0zM177.6 80.8h1.0v1.0h-1.0zM178.0 77.4h1.0v1.0h-1.0zM177.4 75.4h1.0v1.0h-1.0zM183.2 74.6h1.0v1.0h-1.0zM188.7 75.6h1.0v1.0h-1.0zM182.2 82.7h1.0v1.0h-1.0zM180.7 75.4h1.0v1.0h-1.0zM181.4 73.7h1.0v1.0h-1.0zM177.5 78.6h1.0v1.0h-1.0zM180.6 81.5h1.0v1.0h-1.0zM189.0 77.0h1.0v1.0h-1.0zM184.7 79.4h1.0v1.0h-1.0zM178.2 80.5h1.0v1.0h-1.0zM182.4 79.8h1.0v1.0h-1.0zM189.0 77.8h1.0v1.0h-1.0zM183.6 76.0h1.0v1.0h-1.0zM185.7 75.1h1.0v1.0h-1.0zM184.1 74.6h1.0v1.0h-1.0zM182.8 74.4h1.0v1.0h-1.0zM178.1 75.1h1.0v1.0h-1.0zM184.4 79.9h1.0v1.0h-1.0zM181.3 80.0h1.0v1.0h-1.0zM183.2 76.8h1.0v1.0h-1.0zM185.2 73.9h1.0v1.0h-1.0zM189.0 80.1h1.0v1.0h-1.0zM188.5 74.1h1.0v1.0h-1.0zM175.4 80.5h1.0v1.0h-1.0zM186.3 77.4h1.0v1.0h-1.0zM189.5 76.6h1.0v1.0h-1.0zM177.3 74.4h1.0v1.0h-1.0zM178.5 77.9h1.0v1.0h-1.0zM189.7 80.2h1.0v1.0h-1.0zM188.8 75.1h1.0v1.0h-1.0zM188.2 76.4h1.0v1.0h-1.0zM184.4 78.2h1.0v1.0h-1.0zM186.3 76.3h1.0v1.0h-1.0zM179.1 82.8h1.0v1.0h-1.0zM187.5 74.7h1.0v1.0h-1.0zM180.6 75.0h1.0v1.0h-1.0zM185.0 77.9h1.0v1.0h-1.0zM186.3 81.3h1.0v1.0h-1.0zM180.9 78.9h1.0v1.0h-1.0zM184.6 73.9h1.0v1.0h-1.0zM184.0 81.6h1.0v1.0h-1.0zM182.1 80.8h1.0v1.0h-1.0zM184.3 78.3h1.0v1.0h-1.0zM181.3 77.1h1.0v1.0h-1.0zM179.0 80.0h1.0v1.0h-1.0zM185.2 73.5h1.0v1.0h-1.0zM187.5 78.3h1.0v1.0h-1.0zM183.1 79.0h1.0v1.0h-1.0zM177.6 76.9h1.0v1.0h-1.0zM179.3 81.0h1.0v1.0h-1.0zM179.6 79.2h1.0v1.0h-1.0zM182.2 77.0h1.0v1.0h-1.0zM177.1 80.3h1.0v1.0h-1.0zM186.3 78.0h1.0v1.0h-1.0zM187.0 75.3h1.0v1.0h-1.0zM183.6 79.7h1.0v1.0h-1.0zM177.5 78.1h1.0v1.0h-1.0zM185.5 80.8h1.0v1.0h-1.0zM188.3 74.5h1.0v1.0h-1.0zM179.5 74.1h1.0v1.0h-1.0zM179.7 78.4h1.0v1.0h-1.0zM186.4 74.4h1.0v1.0h-1.0zM180.6 72.6h1.0v1.0h-1.0zM191.4 76.4h1.0v1.0h-1.0zM181.6 82.0h1.0v1.0h-1.0zM176.8 80.6h1.0v1.0h-1.0zM183.1 79.2h1.0v1.0h-1.0zM179.9 76.3h1.0v1.0h-1.0zM184.4 78.4h1.0v1.0h-1.0zM180.3 77.8h1.0v1.0h-1.0zM181.8 81.0h1.0v1.0h-1.0zM185.6 77.9h1.0v1.0h-1.0zM178.2 74.7h1.0v1.0h-1.0zM178.8 77.7h1.0v1.0h-1.0zM176.5 78.3h1.0v1.0h-1.0zM180.9 73.6h1.0v1.0h-1.0zM185.7 75.5h1.0v1.0h-1.0zM180.2 80.2h1.0v1.0h-1.0zM176.7 79.4h1.0v1.0h-1.0zM181.6 77.8h1.0v1.0h-1.0zM184.6 75.6h1.0v1.0h-1.0zM183.3 75.0h1.0v1.0h-1.0zM184.1 81.5h1.0v1.0h-1.0zM181.4 74.5h1.0v1.0h-1.0zM186.9 75.9h1.0v1.0h-1.0zM179.5 74.5h1.0v1.0h-1.0zM189.3 81.4h1.0v1.0h-1.0zM180.4 74.0h1.0v1.0h-1.0zM180.7 78.0h1.0v1.0h-1.0zM188.5 76.2h1.0v1.0h-1.0zM177.8 77.6h1.0v1.0h-1.0zM177.1 76.0h1.0v1.0h-1.0zM177.5 75.4h1.0v1.0h-1.0zM187.6 77.6h1.0v1.0h-1.0zM187.9 73.6h1.0v1.0h-1.0zM187.8 76.0h1.0v1.0h-1.0zM177.7 73.3h1.0v1.0h-1.0zM185.7 75.7h1.0v1.0h-1.0zM181.9 75.2h1.0v1.0h-1.0zM181.8 79.7h1.0v1.0h-1.0zM184.1 75.8h1.0v1.0h-1.0zM182.8 80.3h1.0v1.0h-1.0zM190.5 75.7h1.0v1.0h-1.0zM189.8 81.7h1.0v1.0h-1.0zM186.2 74.9h1.0v1.0h-1.0zM189.1 78.9h1.0v1.0h-1.0zM178.7 75.3h1.0v1.0h-1.0zM184.0 80.3h1.0v1.0h-1.0zM177.4 76.3h1.0v1.0h-1.0zM178.2 75.4h1.0v1.0h-1.0zM181.9 75.1h1.0v1.0h-1.0zM184.4 76.3h1.0v1.0h-1.0zM180.8 80.9h1.0v1.0h-1.0zM190.3 76.8h1.0v1.0h-1.0zM188.2 78.8h1.0v1.0h-1.0zM188.6 74.9h1.0v1.0h-1.0zM181.4 74.8h1.0v1.0h-1.0zM188.2 79.4h1.0v1.0h-1.0zM184.1 75.3h1.0v1.0h-1.0zM179.1 81.0h1.0v1.0h-1.0zM180.9 81.4h1.0v1.0h-1.0zM181.2 73.5h1.0v1.0h-1.0zM176.9 79.7h1.0v1.0h-1.0zM189.5 76.1h1.0v1.0h-1.0zM177.2 78.6h1.0v1.0h-1.0zM180.9 75.6h1.0v1.0h-1.0zM191.1 81.0h1.0v1.0h-1.0zM177.6 77.6h1.0v1.0h-1.0zM184.7 81.4h1.0v1.0h-1.0zM180.8 78.0h1.0v1.0h-1.0zM183.5 79.3h1.0v1.0h-1.0zM188.2 79.5h1.0v1.0h-1.0zM189.7 77.2h1.0v1.0h-1.0zM185.3 80.3h1.0v1.0h-1.0zM188.2 79.8h1.0v1.0h-1.0zM187.8 76.8h1.0v1.0h-1.0zM186.7 73.8h1.0v1.0h-1.0zM177.7 74.9h1.0v1.0h-1.0zM187.8 81.4h1.0v1.0h-1.0zM185.7 74.6h1.0v1.0h-1.0zM178.8 77.4h1.0v1.0h-1.0zM180.7 82.7h1.0v1.0h-1.0zM187.2 79.1h1.0v1.0h-1.0zM182.6 75.8h1.0v1.0h-1.0zM181.7 78.5h1.0v1.0h-1.0zM181.5 73.4h1.0v1.0h-1.0zM181.6 78.5h1.0v1.0h-1.0zM187.7 78.2h1.0v1.0h-1.0zM181.6 75.2h1.0v1.0h-1.0zM183.0 76.5h1.0v1.0h-1.0zM178.5 78.1h1.0v1.0h-1.0zM180.2 76.4h1.0v1.0h-1.0zM187.8 72.8h1.0v1.0h-1.0zM181.3 79.6h1.0v1.0h-1.0zM179.5 78.8h1.0v1.0h-1.0zM186.3 79.6h1.0v1.0h-1.0zM190.0 77.5h1.0v1.0h-1.0zM188.8 75.3h1.0v1.0h-1.0zM185.7 81.0h1.0v1.0h-1.0zM184.6 75.8h1.0v1.0h-1.0zM177.2 76.4h1.0v1.0h-1.0zM186.3 72.4h1.0v1.0h-1.0zM180.2 78.0h1.0v1.0h-1.0zM183.2 79.6h1.0v1.0h-1.0zM190.0 79.2h1.0v1.0h-1.0zM182.7 77.9h1.0v1.0h-1.0zM179.4 76.0h1.0v1.0h-1.0zM174.9 76.4h1.0v1.0h-1.0zM178.0 81.0h1.0v1.0h-1.0zM188.8 75.1h1.0v1.0h-1.0zM178.2 75.0h1.0v1.0h-1.0zM177.9 79.9h1.0v1.0h-1.0zM188.1 82.3h1.0v1.0h-1.0zM189.3 75.4h1.0v1.0h-1.0zM187.9 72.8h1.0v1.0h-1.0zM186.0 80.5h1.0v1.0h-1.0zM187.3 82.2h1.0v1.0h-1.0zM185.2 80.4h1.0v1.0h-1.0zM181.3 79.3h1.0v1.0h-1.0zM188.1 74.4h1.0v1.0h-1.0zM178.5 78.9h1.0v1.0h-1.0zM178.2 75.0h1.0v1.0h-1.0zM188.2 75.3h1.0v1.0h-1.0zM189.8 75.7h1.0v1.0h-1.0zM178.6 79.1h1.0v1.0h-1.0zM184.7 81.5h1.0v1.0h-1.0zM177.3 78.2h1.0v1.0h-1.0zM184.9 79.8h1.0v1.0h-1.0zM178.3 77.4h1.0v1.0h-1.0zM186.2 75.8h1.0v1.0h-1.0zM187.3 78.8h1.0v1.0h-1.0zM187.9 81.0h1.0v1.0h-1.0zM188.2 76.1h1.0v1.0h-1.0zM184.0 80.9h1.0v1.0h-1.0zM188.6 78.7h1.0v1.0h-1.0zM189.5 77.6h1.0v1.0h-1.0zM186.2 80.6h1.0v1.0h-1.0zM182.6 76.0h1.0v1.0h-1.0zM189.8 80.0h1.0v1.0h-1.0zM190.7 74.7h1.0v1.0h-1.0zM188.5 76.9h1.0v1.0h-1.0zM186.8 81.3h1.0v1.0h-1.0zM178.7 79.9h1.0v1.0h-1.0zM179.3 79.7h1.0v1.0h-1.0zM189.1 76.6h1.0v1.0h-1.0zM185.6 80.7h1.0v1.0h-1.0zM182.6 74.5h1.0v1.0h-1.0zM185.4 77.0h1.0v1.0h-1.0zM182.4 78.7h1.0v1.0h-1.0zM184.0 78.3h1.0v1.0h-1.0zM178.6 78.4h1.0v1.0h-1.0zM184.7 75.1h1.0v1.0h-1.0zM181.9 79.7h1.0v1.0h-1.0zM186.0 76.9h1.0v1.0h-1.0zM176.7 73.6h1.0v1.0h-1.0zM182.1 80.7h1.0v1.0h-1.0zM177.3 77.4h1.0v1.0h-1.0zM178.8 77.8h1.0v1.0h-1.0zM184.4 75.8h1.0v1.0h-1.0zM179.7 74.1h1.0v1.0h-1.0zM186.7 75.1h1.0v1.0h-1.0zM184.9 76.4h1.0v1.0h-1.0zM188.4 78.4h1.0v1.0h-1.0zM178.3 78.1h1.0v1.0h-1.0zM178.0 76.1h1.0v1.0h-1.0zM186.4 77.3h1.0v1.0h-1.0zM179.8 80.8h1.0v1.0h-1.0zM185.2 80.4h1.0v1.0h-1.0zM190.0 74.6h1.0v1.0h-1.0zM184.1 75.8h1.0v1.0h-1.0zM178.1 79.5h1.0v1.0h-1.0zM183.3 72.7h1.0v1.0h-1.0zM183.0 74.3h1.0v1.0h-1.0zM185.5 79.3h1.0v1.0h-1.0zM184.4 74.7h1.0v1.0h-1.0zM186.1 75.7h1.0v1.0h-1.0zM177.9 75.3h1.0v1.0h-1.0zM180.2 80.5h1.0v1.0h-1.0zM178.7 75.5h1.0v1.0h-1.0zM181.0 80.7h1.0v1.0h-1.0zM186.1 79.0h1.0v1.0h-1.0zM190.1 80.7h1.0v1.0h-1.0zM179.3 75.7h1.0v1.0h-1.0zM177.1 79.7h1.0v1.0h-1.0zM188.8 76.4h1.0v1.0h-1.0zM181.9 74.8h1.0v1.0h-1.0zM184.1 78.1h1.0v1.0h-1.0zM185.9 81.2h1.0v1.0h-1.0zM186.4 78.2h1.0v1.0h-1.0zM178.3 80.3h1.0v1.0h-1.0zM190.4 80.6h1.0v1.0h-1.0zM180.4 77.2h1.0v1.0h-1.0zM183.8 80.3h1.0v1.0h-1.0zM183.0 83.3h1.0v1.0h-1.0zM173.1 77.3h1.0v1.0h-1.0zM175.9 78.9h1.0v1.0h-1.0zM185.7 79.8h1.0v1.0h-1.0zM174.5 81.9h1.0v1.0h-1.0zM188.2 78.4h1.0v1.0h-1.0zM177.7 76.4h1.0v1.0h-1.0zM191.9 71.1h1.0v1.0h-1.0zM180.8 78.7h1.0v1.0h-1.0zM182.3 80.0h1.0v1.0h-1.0zM197.1 76.8h1.0v1.0h-1.0zM195.2 78.6h1.0v1.0h-1.0zM196.5 80.8h1.0v1.0h-1.0zM175.1 80.3h1.0v1.0h-1.0zM191.5 73.6h1.0v1.0h-1.0zM187.6 83.2h1.0v1.0h-1.0zM174.7 81.6h1.0v1.0h-1.0zM192.4 77.1h1.0v1.0h-1.0zM189.8 75.1h1.0v1.0h-1.0zM182.7 77.5h1.0v1.0h-1.0zM196.3 76.7h1.0v1.0h-1.0zM182.0 78.5h1.0v1.0h-1.0zM193.1 74.5h1.0v1.0h-1.0zM179.8 76.9h1.0v1.0h-1.0zM184.7 77.3h1.0v1.0h-1.0zM174.1 80.2h1.0v1.0h-1.0zM183.1 74.2h1.0v1.0h-1.0zM197.3 84.1h1.0v1.0h-1.0zM174.1 75.2h1.0v1.0h-1.0zM190.3 77.0h1.0v1.0h-1.0zM172.4 73.7h1.0v1.0h-1.0zM196.0 74.0h1.0v1.0h-1.0zM193.2 78.9h1.0v1.0h-1.0zM179.2 83.7h1.0v1.0h-1.0zM179.0 78.7h1.0v1.0h-1.0zM173.1 83.4h1.0v1.0h-1.0zM191.2 84.4h1.0v1.0h-1.0zM177.5 81.1h1.0v1.0h-1.0zM189.3 82.3h1.0v1.0h-1.0zM187.2 79.5h1.0v1.0h-1.0zM196.6 79.6h1.0v1.0h-1.0zM172.1 76.7h1.0v1.0h-1.0zM197.9 78.0h1.0v1.0h-1.0zM174.7 82.6h1.0v1.0h-1.0zM191.0 76.0h1.0v1.0h-1.0zM173.1 76.4h1.0v1.0h-1.0zM184.8 74.4h1.0v1.0h-1.0zM175.8 72.5h1.0v1.0h-1.0zM175.4 77.1h1.0v1.0h-1.0zM194.8 75.6h1.0v1.0h-1.0zM178.2 78.6h1.0v1.0h-1.0zM184.0 75.3h1.0v1.0h-1.0zM195.1 74.6h1.0v1.0h-1.0zM185.3 69.1h1.0v1.0h-1.0zM177.6 76.8h1.0v1.0h-1.0zM172.4 76.4h1.0v1.0h-1.0zM175.2 79.6h1.0v1.0h-1.0zM182.9 83.7h1.0v1.0h-1.0zM184.6 78.9h1.0v1.0h-1.0zM194.8 76.0h1.0v1.0h-1.0zM191.7 73.2h1.0v1.0h-1.0zM179.8 77.3h1.0v1.0h-1.0zM186.4 75.6h1.0v1.0h-1.0zM187.5 77.8h1.0v1.0h-1.0zM180.9 75.8h1.0v1.0h-1.0zM193.4 80.1h1.0v1.0h-1.0zM175.1 70.2h1.0v1.0h-1.0zM177.5 81.0h1.0v1.0h-1.0zM191.4 80.3h1.0v1.0h-1.0zM188.9 78.1h1.0v1.0h-1.0zM186.6 74.2h1.0v1.0h-1.0zM204.3 76.3h1.0v1.0h-1.0zM207.5 77.5h1.0v1.0h-1.0z" fill="#000"/><path d="M322.1 78.5h1.0v1.0h-1.0zM314.6 79.2h1.0v1.0h-1.0zM312.8 76.8h1.0v1.0h-1.0zM311.9 76.5h1.0v1.0h-1.0zM324.6 75.6h1.0v1.0h-1.0zM312.6 76.3h1.0v1.0h-1.0zM311.5 72.5h1.0v1.0h-1.0zM311.0 77.3h1.0v1.0h-1.0zM322.1 81.0h1.0v1.0h-1.0zM317.9 80.0h1.0v1.0h-1.0zM311.1 78.9h1.0v1.0h-1.0zM309.2 78.7h1.0v1.0h-1.0zM315.3 74.3h1.0v1.0h-1.0zM306.8 79.7h1.0v1.0h-1.0zM321.8 80.9h1.0v1.0h-1.0zM316.6 78.0h1.0v1.0h-1.0zM319.2 75.1h1.0v1.0h-1.0zM315.1 76.0h1.0v1.0h-1.0zM308.5 81.0h1.0v1.0h-1.0zM322.9 76.9h1.0v1.0h-1.0zM313.0 77.7h1.0v1.0h-1.0zM306.2 76.2h1.0v1.0h-1.0zM312.2 77.9h1.0v1.0h-1.0zM310.4 79.4h1.0v1.0h-1.0zM307.4 76.8h1.0v1.0h-1.0zM309.3 76.0h1.0v1.0h-1.0zM312.0 75.7h1.0v1.0h-1.0zM314.8 74.6h1.0v1.0h-1.0zM313.7 82.8h1.0v1.0h-1.0zM315.0 79.1h1.0v1.0h-1.0zM307.7 81.6h1.0v1.0h-1.0zM314.4 77.7h1.0v1.0h-1.0zM312.0 78.8h1.0v1.0h-1.0zM319.3 77.1h1.0v1.0h-1.0zM309.2 80.0h1.0v1.0h-1.0zM310.4 76.5h1.0v1.0h-1.0zM319.8 78.6h1.0v1.0h-1.0zM318.2 74.0h1.0v1.0h-1.0zM311.1 76.9h1.0v1.0h-1.0zM314.9 74.6h1.0v1.0h-1.0zM312.7 73.2h1.0v1.0h-1.0zM320.9 74.8h1.0v1.0h-1.0zM322.4 77.2h1.0v1.0h-1.0zM319.8 80.6h1.0v1.0h-1.0zM312.8 76.6h1.0v1.0h-1.0zM306.5 79.6h1.0v1.0h-1.0zM313.9 81.4h1.0v1.0h-1.0zM316.9 78.6h1.0v1.0h-1.0zM322.0 76.0h1.0v1.0h-1.0zM314.2 76.5h1.0v1.0h-1.0zM323.4 78.4h1.0v1.0h-1.0zM306.9 78.4h1.0v1.0h-1.0zM319.7 76.2h1.0v1.0h-1.0zM317.9 72.9h1.0v1.0h-1.0zM313.0 73.5h1.0v1.0h-1.0zM308.1 75.9h1.0v1.0h-1.0zM312.3 77.4h1.0v1.0h-1.0zM319.6 76.1h1.0v1.0h-1.0zM321.6 80.2h1.0v1.0h-1.0zM320.6 78.7h1.0v1.0h-1.0zM307.4 81.4h1.0v1.0h-1.0zM315.3 72.2h1.0v1.0h-1.0zM320.2 81.1h1.0v1.0h-1.0zM319.3 79.6h1.0v1.0h-1.0zM307.5 80.7h1.0v1.0h-1.0zM311.0 75.6h1.0v1.0h-1.0zM321.6 76.6h1.0v1.0h-1.0zM320.9 79.7h1.0v1.0h-1.0zM311.1 80.1h1.0v1.0h-1.0zM307.7 76.3h1.0v1.0h-1.0zM319.8 77.8h1.0v1.0h-1.0zM314.7 78.5h1.0v1.0h-1.0zM307.4 74.9h1.0v1.0h-1.0zM320.7 79.2h1.0v1.0h-1.0zM306.3 76.8h1.0v1.0h-1.0zM316.0 80.2h1.0v1.0h-1.0zM321.6 80.4h1.0v1.0h-1.0zM311.2 80.2h1.0v1.0h-1.0zM310.2 79.4h1.0v1.0h-1.0zM312.2 79.9h1.0v1.0h-1.0zM314.4 79.5h1.0v1.0h-1.0zM305.9 80.2h1.0v1.0h-1.0zM320.7 76.5h1.0v1.0h-1.0zM321.8 77.0h1.0v1.0h-1.0zM307.6 76.7h1.0v1.0h-1.0zM311.5 75.3h1.0v1.0h-1.0zM321.7 80.2h1.0v1.0h-1.0zM310.5 79.8h1.0v1.0h-1.0zM323.3 79.5h1.0v1.0h-1.0zM308.7 77.6h1.0v1.0h-1.0zM324.2 80.4h1.0v1.0h-1.0zM310.0 74.2h1.0v1.0h-1.0zM315.1 74.5h1.0v1.0h-1.0zM316.7 74.3h1.0v1.0h-1.0zM318.3 77.4h1.0v1.0h-1.0zM306.4 78.1h1.0v1.0h-1.0zM322.3 79.7h1.0v1.0h-1.0zM314.6 75.2h1.0v1.0h-1.0zM324.4 75.7h1.0v1.0h-1.0zM313.3 79.0h1.0v1.0h-1.0zM311.8 81.3h1.0v1.0h-1.0zM308.1 80.6h1.0v1.0h-1.0zM306.9 76.7h1.0v1.0h-1.0zM321.1 77.4h1.0v1.0h-1.0zM315.6 81.4h1.0v1.0h-1.0zM322.4 76.4h1.0v1.0h-1.0zM317.8 80.5h1.0v1.0h-1.0zM311.3 80.2h1.0v1.0h-1.0zM322.4 77.3h1.0v1.0h-1.0zM310.1 79.0h1.0v1.0h-1.0zM322.3 74.8h1.0v1.0h-1.0zM309.8 75.0h1.0v1.0h-1.0zM315.8 79.4h1.0v1.0h-1.0zM313.6 74.8h1.0v1.0h-1.0zM319.5 78.3h1.0v1.0h-1.0zM316.5 81.6h1.0v1.0h-1.0zM306.1 78.7h1.0v1.0h-1.0zM322.9 78.5h1.0v1.0h-1.0zM317.0 76.5h1.0v1.0h-1.0zM318.8 75.7h1.0v1.0h-1.0zM321.5 80.8h1.0v1.0h-1.0zM319.5 78.5h1.0v1.0h-1.0zM312.1 73.7h1.0v1.0h-1.0zM309.7 74.1h1.0v1.0h-1.0zM310.6 77.1h1.0v1.0h-1.0zM312.1 77.7h1.0v1.0h-1.0zM318.7 75.5h1.0v1.0h-1.0zM306.3 79.6h1.0v1.0h-1.0zM307.6 79.3h1.0v1.0h-1.0zM308.4 78.1h1.0v1.0h-1.0zM313.9 78.3h1.0v1.0h-1.0zM307.9 77.1h1.0v1.0h-1.0zM323.7 79.1h1.0v1.0h-1.0zM317.4 80.4h1.0v1.0h-1.0zM324.7 77.3h1.0v1.0h-1.0zM317.9 81.1h1.0v1.0h-1.0zM323.4 76.1h1.0v1.0h-1.0zM320.3 78.2h1.0v1.0h-1.0zM306.8 76.6h1.0v1.0h-1.0zM306.2 78.5h1.0v1.0h-1.0zM322.0 77.3h1.0v1.0h-1.0zM317.1 78.8h1.0v1.0h-1.0zM305.5 78.7h1.0v1.0h-1.0zM314.7 73.7h1.0v1.0h-1.0zM320.7 74.2h1.0v1.0h-1.0zM313.5 77.1h1.0v1.0h-1.0zM322.4 80.0h1.0v1.0h-1.0zM309.1 73.8h1.0v1.0h-1.0zM317.2 77.1h1.0v1.0h-1.0zM315.2 73.3h1.0v1.0h-1.0zM308.3 80.7h1.0v1.0h-1.0zM306.9 79.0h1.0v1.0h-1.0zM320.7 79.7h1.0v1.0h-1.0zM307.0 75.3h1.0v1.0h-1.0zM315.5 74.4h1.0v1.0h-1.0zM312.6 72.9h1.0v1.0h-1.0zM318.1 79.0h1.0v1.0h-1.0zM320.2 81.0h1.0v1.0h-1.0zM319.2 76.0h1.0v1.0h-1.0zM323.5 75.5h1.0v1.0h-1.0zM323.7 77.4h1.0v1.0h-1.0zM318.8 77.0h1.0v1.0h-1.0zM318.2 81.9h1.0v1.0h-1.0zM318.5 78.6h1.0v1.0h-1.0zM307.2 76.1h1.0v1.0h-1.0zM306.8 78.9h1.0v1.0h-1.0zM310.2 78.6h1.0v1.0h-1.0zM309.7 78.5h1.0v1.0h-1.0zM307.6 79.4h1.0v1.0h-1.0zM308.9 76.1h1.0v1.0h-1.0zM309.9 77.9h1.0v1.0h-1.0zM315.3 77.7h1.0v1.0h-1.0zM313.8 72.6h1.0v1.0h-1.0zM308.5 76.4h1.0v1.0h-1.0zM308.3 74.7h1.0v1.0h-1.0zM310.7 76.6h1.0v1.0h-1.0zM310.4 76.1h1.0v1.0h-1.0zM313.8 75.8h1.0v1.0h-1.0zM319.8 77.5h1.0v1.0h-1.0zM322.6 79.2h1.0v1.0h-1.0zM321.1 75.7h1.0v1.0h-1.0zM307.3 76.2h1.0v1.0h-1.0zM317.1 78.4h1.0v1.0h-1.0zM307.3 79.5h1.0v1.0h-1.0zM307.7 80.7h1.0v1.0h-1.0zM310.2 79.3h1.0v1.0h-1.0zM312.8 81.9h1.0v1.0h-1.0zM317.9 75.3h1.0v1.0h-1.0zM320.7 75.8h1.0v1.0h-1.0zM316.2 78.2h1.0v1.0h-1.0zM319.1 75.2h1.0v1.0h-1.0zM310.9 75.0h1.0v1.0h-1.0zM322.4 79.6h1.0v1.0h-1.0zM317.0 77.5h1.0v1.0h-1.0zM317.2 78.6h1.0v1.0h-1.0zM309.7 78.2h1.0v1.0h-1.0zM322.3 78.0h1.0v1.0h-1.0zM321.2 80.6h1.0v1.0h-1.0zM320.7 78.1h1.0v1.0h-1.0zM319.0 75.1h1.0v1.0h-1.0zM310.4 80.9h1.0v1.0h-1.0zM314.5 75.3h1.0v1.0h-1.0zM324.0 81.1h1.0v1.0h-1.0zM318.8 77.0h1.0v1.0h-1.0zM311.6 73.2h1.0v1.0h-1.0zM311.3 74.0h1.0v1.0h-1.0zM308.6 78.1h1.0v1.0h-1.0zM315.6 76.1h1.0v1.0h-1.0zM315.9 82.0h1.0v1.0h-1.0zM310.5 79.4h1.0v1.0h-1.0zM306.3 77.3h1.0v1.0h-1.0zM313.9 75.9h1.0v1.0h-1.0zM315.8 80.5h1.0v1.0h-1.0zM322.6 77.1h1.0v1.0h-1.0zM316.7 78.3h1.0v1.0h-1.0zM312.4 80.0h1.0v1.0h-1.0zM313.0 74.9h1.0v1.0h-1.0zM311.2 77.3h1.0v1.0h-1.0zM310.4 80.3h1.0v1.0h-1.0zM320.2 79.0h1.0v1.0h-1.0zM322.3 76.6h1.0v1.0h-1.0zM322.0 78.5h1.0v1.0h-1.0zM315.7 74.2h1.0v1.0h-1.0zM316.8 81.0h1.0v1.0h-1.0zM314.3 75.1h1.0v1.0h-1.0zM318.0 76.7h1.0v1.0h-1.0zM324.5 79.3h1.0v1.0h-1.0zM309.5 76.7h1.0v1.0h-1.0zM316.1 76.8h1.0v1.0h-1.0zM318.4 79.0h1.0v1.0h-1.0zM323.2 81.1h1.0v1.0h-1.0zM312.9 77.9h1.0v1.0h-1.0zM320.5 75.8h1.0v1.0h-1.0zM322.6 78.4h1.0v1.0h-1.0zM315.5 80.2h1.0v1.0h-1.0zM323.5 74.8h1.0v1.0h-1.0zM320.0 76.8h1.0v1.0h-1.0zM322.1 76.4h1.0v1.0h-1.0zM308.0 77.5h1.0v1.0h-1.0zM318.0 73.5h1.0v1.0h-1.0zM307.2 79.0h1.0v1.0h-1.0zM321.2 79.6h1.0v1.0h-1.0zM305.7 75.7h1.0v1.0h-1.0zM324.3 81.6h1.0v1.0h-1.0zM320.7 77.4h1.0v1.0h-1.0zM308.8 76.9h1.0v1.0h-1.0zM317.3 80.4h1.0v1.0h-1.0zM323.4 78.1h1.0v1.0h-1.0zM308.7 79.6h1.0v1.0h-1.0zM316.2 72.2h1.0v1.0h-1.0zM320.3 78.1h1.0v1.0h-1.0zM318.2 74.0h1.0v1.0h-1.0zM319.2 79.6h1.0v1.0h-1.0zM315.2 74.2h1.0v1.0h-1.0zM310.8 75.6h1.0v1.0h-1.0zM317.0 74.1h1.0v1.0h-1.0zM315.3 79.1h1.0v1.0h-1.0zM312.0 77.5h1.0v1.0h-1.0zM317.3 76.2h1.0v1.0h-1.0zM315.7 73.7h1.0v1.0h-1.0zM313.2 73.8h1.0v1.0h-1.0zM323.8 77.0h1.0v1.0h-1.0zM306.2 80.2h1.0v1.0h-1.0zM314.3 79.3h1.0v1.0h-1.0zM319.9 79.0h1.0v1.0h-1.0zM310.9 76.0h1.0v1.0h-1.0zM314.8 80.4h1.0v1.0h-1.0zM314.3 78.0h1.0v1.0h-1.0zM323.5 78.2h1.0v1.0h-1.0zM308.8 78.7h1.0v1.0h-1.0zM322.8 80.1h1.0v1.0h-1.0zM318.1 77.6h1.0v1.0h-1.0zM307.1 77.5h1.0v1.0h-1.0zM307.5 75.8h1.0v1.0h-1.0zM310.2 78.8h1.0v1.0h-1.0zM318.3 80.3h1.0v1.0h-1.0zM321.5 77.8h1.0v1.0h-1.0zM319.5 73.7h1.0v1.0h-1.0zM323.4 78.8h1.0v1.0h-1.0zM316.2 74.6h1.0v1.0h-1.0zM313.8 72.1h1.0v1.0h-1.0zM323.5 80.7h1.0v1.0h-1.0zM315.5 81.0h1.0v1.0h-1.0zM319.5 74.6h1.0v1.0h-1.0zM321.8 79.1h1.0v1.0h-1.0zM318.7 77.8h1.0v1.0h-1.0zM319.3 75.9h1.0v1.0h-1.0zM317.6 75.4h1.0v1.0h-1.0zM310.7 80.0h1.0v1.0h-1.0zM314.8 80.2h1.0v1.0h-1.0zM317.6 78.5h1.0v1.0h-1.0zM315.3 73.8h1.0v1.0h-1.0zM310.8 80.0h1.0v1.0h-1.0zM318.1 78.0h1.0v1.0h-1.0zM308.6 78.4h1.0v1.0h-1.0zM323.1 80.4h1.0v1.0h-1.0zM310.5 79.2h1.0v1.0h-1.0zM319.8 74.9h1.0v1.0h-1.0zM319.6 81.0h1.0v1.0h-1.0zM313.3 72.7h1.0v1.0h-1.0zM315.0 77.3h1.0v1.0h-1.0zM311.6 78.7h1.0v1.0h-1.0zM310.3 74.7h1.0v1.0h-1.0zM323.4 80.8h1.0v1.0h-1.0zM315.1 73.7h1.0v1.0h-1.0zM315.1 80.5h1.0v1.0h-1.0zM312.2 81.5h1.0v1.0h-1.0zM322.4 74.8h1.0v1.0h-1.0zM312.3 75.9h1.0v1.0h-1.0zM321.6 81.0h1.0v1.0h-1.0zM319.9 78.6h1.0v1.0h-1.0zM306.8 81.5h1.0v1.0h-1.0zM323.4 76.0h1.0v1.0h-1.0zM316.8 80.2h1.0v1.0h-1.0zM323.9 78.8h1.0v1.0h-1.0zM319.5 76.7h1.0v1.0h-1.0zM317.6 79.3h1.0v1.0h-1.0zM312.0 79.8h1.0v1.0h-1.0zM324.5 75.5h1.0v1.0h-1.0zM307.0 81.8h1.0v1.0h-1.0zM320.9 77.8h1.0v1.0h-1.0zM314.1 82.1h1.0v1.0h-1.0zM315.1 74.4h1.0v1.0h-1.0zM321.9 77.9h1.0v1.0h-1.0zM309.4 81.1h1.0v1.0h-1.0zM307.6 76.9h1.0v1.0h-1.0zM313.1 76.8h1.0v1.0h-1.0zM311.2 81.6h1.0v1.0h-1.0zM315.8 75.5h1.0v1.0h-1.0zM318.7 75.9h1.0v1.0h-1.0zM313.2 75.3h1.0v1.0h-1.0zM317.9 76.0h1.0v1.0h-1.0zM314.0 76.6h1.0v1.0h-1.0zM314.0 73.6h1.0v1.0h-1.0zM309.0 74.9h1.0v1.0h-1.0zM322.4 76.9h1.0v1.0h-1.0zM308.1 79.1h1.0v1.0h-1.0zM319.7 79.6h1.0v1.0h-1.0zM318.4 77.1h1.0v1.0h-1.0zM322.8 77.2h1.0v1.0h-1.0zM319.5 81.0h1.0v1.0h-1.0zM315.3 75.2h1.0v1.0h-1.0zM320.1 77.0h1.0v1.0h-1.0zM321.8 81.1h1.0v1.0h-1.0zM309.0 80.7h1.0v1.0h-1.0zM316.8 76.8h1.0v1.0h-1.0zM316.9 76.0h1.0v1.0h-1.0zM316.1 81.4h1.0v1.0h-1.0zM311.2 81.2h1.0v1.0h-1.0zM316.7 75.9h1.0v1.0h-1.0zM315.5 80.4h1.0v1.0h-1.0zM311.6 80.9h1.0v1.0h-1.0zM306.4 75.3h1.0v1.0h-1.0zM308.7 77.7h1.0v1.0h-1.0zM315.8 76.4h1.0v1.0h-1.0zM321.6 79.2h1.0v1.0h-1.0zM309.7 80.5h1.0v1.0h-1.0zM316.9 77.8h1.0v1.0h-1.0zM319.1 74.8h1.0v1.0h-1.0zM305.8 75.9h1.0v1.0h-1.0zM323.7 79.3h1.0v1.0h-1.0zM323.4 78.0h1.0v1.0h-1.0zM321.2 78.5h1.0v1.0h-1.0zM307.6 80.0h1.0v1.0h-1.0zM308.3 78.6h1.0v1.0h-1.0zM322.8 76.2h1.0v1.0h-1.0zM322.2 79.5h1.0v1.0h-1.0zM312.4 80.5h1.0v1.0h-1.0zM311.5 78.8h1.0v1.0h-1.0zM319.5 78.2h1.0v1.0h-1.0zM317.9 77.5h1.0v1.0h-1.0zM307.3 79.3h1.0v1.0h-1.0zM307.6 81.2h1.0v1.0h-1.0zM318.8 79.5h1.0v1.0h-1.0zM315.1 81.1h1.0v1.0h-1.0zM314.2 75.9h1.0v1.0h-1.0zM318.5 80.1h1.0v1.0h-1.0zM313.1 74.2h1.0v1.0h-1.0zM322.3 81.8h1.0v1.0h-1.0zM320.8 77.3h1.0v1.0h-1.0zM311.9 76.6h1.0v1.0h-1.0zM310.9 80.9h1.0v1.0h-1.0zM309.8 76.9h1.0v1.0h-1.0zM319.7 77.4h1.0v1.0h-1.0zM311.6 77.7h1.0v1.0h-1.0zM307.9 77.7h1.0v1.0h-1.0zM315.2 73.7h1.0v1.0h-1.0zM309.8 76.0h1.0v1.0h-1.0zM310.8 78.9h1.0v1.0h-1.0zM317.1 73.5h1.0v1.0h-1.0zM320.2 78.0h1.0v1.0h-1.0zM308.9 74.2h1.0v1.0h-1.0zM307.0 78.7h1.0v1.0h-1.0zM321.7 77.4h1.0v1.0h-1.0zM310.4 79.0h1.0v1.0h-1.0zM316.2 79.7h1.0v1.0h-1.0zM310.1 74.9h1.0v1.0h-1.0zM314.3 81.6h1.0v1.0h-1.0zM309.6 73.8h1.0v1.0h-1.0zM320.0 74.1h1.0v1.0h-1.0zM306.9 79.1h1.0v1.0h-1.0zM315.1 80.9h1.0v1.0h-1.0zM321.7 80.6h1.0v1.0h-1.0zM309.1 77.0h1.0v1.0h-1.0zM317.2 74.7h1.0v1.0h-1.0zM321.4 74.2h1.0v1.0h-1.0zM317.1 74.2h1.0v1.0h-1.0zM319.4 78.6h1.0v1.0h-1.0zM318.9 73.1h1.0v1.0h-1.0zM318.1 76.2h1.0v1.0h-1.0zM318.9 74.1h1.0v1.0h-1.0zM316.7 75.5h1.0v1.0h-1.0zM322.9 76.6h1.0v1.0h-1.0zM312.5 78.0h1.0v1.0h-1.0zM316.5 73.7h1.0v1.0h-1.0zM318.9 75.0h1.0v1.0h-1.0zM307.8 80.0h1.0v1.0h-1.0zM319.0 80.3h1.0v1.0h-1.0zM321.4 75.2h1.0v1.0h-1.0zM315.1 78.6h1.0v1.0h-1.0zM323.2 77.7h1.0v1.0h-1.0zM312.7 77.1h1.0v1.0h-1.0zM311.3 79.4h1.0v1.0h-1.0zM317.5 77.0h1.0v1.0h-1.0zM306.6 78.3h1.0v1.0h-1.0zM314.4 74.5h1.0v1.0h-1.0zM307.0 79.1h1.0v1.0h-1.0zM310.1 81.6h1.0v1.0h-1.0zM323.0 78.2h1.0v1.0h-1.0zM307.1 78.2h1.0v1.0h-1.0zM310.3 80.8h1.0v1.0h-1.0zM318.5 75.9h1.0v1.0h-1.0zM320.1 79.5h1.0v1.0h-1.0zM311.6 75.0h1.0v1.0h-1.0zM316.2 74.6h1.0v1.0h-1.0zM305.9 76.2h1.0v1.0h-1.0zM322.0 74.5h1.0v1.0h-1.0zM312.6 77.6h1.0v1.0h-1.0zM312.9 83.1h1.0v1.0h-1.0zM311.2 77.6h1.0v1.0h-1.0zM322.8 81.4h1.0v1.0h-1.0zM319.2 77.3h1.0v1.0h-1.0zM316.9 78.7h1.0v1.0h-1.0zM307.0 79.3h1.0v1.0h-1.0zM312.2 76.5h1.0v1.0h-1.0zM322.0 77.2h1.0v1.0h-1.0zM308.3 80.4h1.0v1.0h-1.0zM313.8 79.3h1.0v1.0h-1.0zM324.4 77.2h1.0v1.0h-1.0zM315.0 73.4h1.0v1.0h-1.0zM318.7 74.9h1.0v1.0h-1.0zM308.6 76.6h1.0v1.0h-1.0zM322.3 73.8h1.0v1.0h-1.0zM317.8 75.3h1.0v1.0h-1.0zM307.1 82.9h1.0v1.0h-1.0zM320.4 74.6h1.0v1.0h-1.0zM308.4 78.8h1.0v1.0h-1.0zM315.3 73.7h1.0v1.0h-1.0zM319.8 79.0h1.0v1.0h-1.0zM319.3 77.4h1.0v1.0h-1.0zM319.5 78.7h1.0v1.0h-1.0zM308.4 73.7h1.0v1.0h-1.0zM318.0 75.0h1.0v1.0h-1.0zM315.4 76.7h1.0v1.0h-1.0zM322.1 77.3h1.0v1.0h-1.0zM307.9 77.1h1.0v1.0h-1.0zM316.0 75.2h1.0v1.0h-1.0zM313.0 78.8h1.0v1.0h-1.0zM316.3 82.2h1.0v1.0h-1.0zM321.2 77.5h1.0v1.0h-1.0zM312.4 76.0h1.0v1.0h-1.0zM322.1 80.6h1.0v1.0h-1.0zM312.8 73.4h1.0v1.0h-1.0zM309.9 78.4h1.0v1.0h-1.0zM313.2 74.3h1.0v1.0h-1.0zM306.5 79.2h1.0v1.0h-1.0zM311.2 75.0h1.0v1.0h-1.0zM323.2 79.2h1.0v1.0h-1.0zM311.5 76.7h1.0v1.0h-1.0zM317.8 73.2h1.0v1.0h-1.0zM320.8 80.2h1.0v1.0h-1.0zM307.1 79.1h1.0v1.0h-1.0zM309.3 80.4h1.0v1.0h-1.0zM323.9 76.5h1.0v1.0h-1.0zM320.7 74.0h1.0v1.0h-1.0zM320.7 76.7h1.0v1.0h-1.0zM319.1 77.1h1.0v1.0h-1.0zM311.7 74.2h1.0v1.0h-1.0zM309.5 79.8h1.0v1.0h-1.0zM310.4 78.6h1.0v1.0h-1.0zM308.9 73.4h1.0v1.0h-1.0zM306.7 80.3h1.0v1.0h-1.0zM316.2 78.0h1.0v1.0h-1.0zM315.1 79.5h1.0v1.0h-1.0zM315.5 76.9h1.0v1.0h-1.0zM310.0 74.7h1.0v1.0h-1.0zM314.8 80.8h1.0v1.0h-1.0zM319.1 80.1h1.0v1.0h-1.0zM322.9 78.5h1.0v1.0h-1.0zM306.8 79.5h1.0v1.0h-1.0zM316.9 79.0h1.0v1.0h-1.0zM307.6 81.1h1.0v1.0h-1.0zM309.1 73.6h1.0v1.0h-1.0zM316.8 75.3h1.0v1.0h-1.0zM318.6 81.5h1.0v1.0h-1.0zM306.0 79.4h1.0v1.0h-1.0zM313.7 78.4h1.0v1.0h-1.0zM316.3 80.7h1.0v1.0h-1.0zM323.0 77.6h1.0v1.0h-1.0zM309.5 75.5h1.0v1.0h-1.0zM315.1 81.6h1.0v1.0h-1.0zM306.4 78.4h1.0v1.0h-1.0zM320.3 75.8h1.0v1.0h-1.0zM316.3 73.5h1.0v1.0h-1.0zM312.6 73.6h1.0v1.0h-1.0zM324.1 75.5h1.0v1.0h-1.0zM316.0 80.9h1.0v1.0h-1.0zM316.8 75.6h1.0v1.0h-1.0zM316.1 75.3h1.0v1.0h-1.0zM313.4 78.1h1.0v1.0h-1.0zM322.6 77.5h1.0v1.0h-1.0zM319.8 80.4h1.0v1.0h-1.0zM310.0 78.7h1.0v1.0h-1.0zM309.1 76.6h1.0v1.0h-1.0zM323.4 74.9h1.0v1.0h-1.0zM317.8 79.9h1.0v1.0h-1.0zM321.6 73.8h1.0v1.0h-1.0zM320.7 75.4h1.0v1.0h-1.0zM317.3 79.6h1.0v1.0h-1.0zM324.2 75.0h1.0v1.0h-1.0zM317.4 77.2h1.0v1.0h-1.0zM308.2 75.6h1.0v1.0h-1.0zM322.8 76.7h1.0v1.0h-1.0zM322.0 80.2h1.0v1.0h-1.0zM309.9 79.3h1.0v1.0h-1.0zM306.4 80.0h1.0v1.0h-1.0zM316.4 81.4h1.0v1.0h-1.0zM322.3 81.2h1.0v1.0h-1.0zM308.4 80.1h1.0v1.0h-1.0zM322.3 78.3h1.0v1.0h-1.0zM308.8 78.0h1.0v1.0h-1.0zM324.1 78.0h1.0v1.0h-1.0zM307.1 79.6h1.0v1.0h-1.0zM318.6 81.0h1.0v1.0h-1.0zM316.4 77.1h1.0v1.0h-1.0zM311.2 79.4h1.0v1.0h-1.0zM312.6 79.1h1.0v1.0h-1.0zM315.0 76.8h1.0v1.0h-1.0zM309.3 73.8h1.0v1.0h-1.0zM322.5 81.6h1.0v1.0h-1.0zM307.5 79.9h1.0v1.0h-1.0zM322.1 75.8h1.0v1.0h-1.0zM323.8 77.1h1.0v1.0h-1.0zM312.6 81.0h1.0v1.0h-1.0zM312.4 80.9h1.0v1.0h-1.0zM322.0 81.2h1.0v1.0h-1.0zM315.1 74.8h1.0v1.0h-1.0zM319.6 78.6h1.0v1.0h-1.0zM307.2 80.3h1.0v1.0h-1.0zM323.4 82.0h1.0v1.0h-1.0zM308.7 78.3h1.0v1.0h-1.0zM319.5 78.9h1.0v1.0h-1.0zM322.7 75.3h1.0v1.0h-1.0zM320.0 76.2h1.0v1.0h-1.0zM321.7 77.7h1.0v1.0h-1.0zM321.7 77.6h1.0v1.0h-1.0zM308.1 80.7h1.0v1.0h-1.0zM323.1 78.0h1.0v1.0h-1.0zM310.0 73.6h1.0v1.0h-1.0zM308.2 79.1h1.0v1.0h-1.0zM321.8 77.7h1.0v1.0h-1.0zM313.3 76.9h1.0v1.0h-1.0zM319.7 81.8h1.0v1.0h-1.0zM309.4 72.7h1.0v1.0h-1.0zM311.8 81.0h1.0v1.0h-1.0zM320.7 81.6h1.0v1.0h-1.0zM313.2 75.6h1.0v1.0h-1.0zM316.4 75.6h1.0v1.0h-1.0zM317.8 79.9h1.0v1.0h-1.0zM307.2 76.7h1.0v1.0h-1.0zM315.4 74.6h1.0v1.0h-1.0zM306.9 81.2h1.0v1.0h-1.0zM316.5 77.0h1.0v1.0h-1.0zM316.9 79.7h1.0v1.0h-1.0zM307.4 81.8h1.0v1.0h-1.0zM320.3 80.6h1.0v1.0h-1.0zM316.2 79.9h1.0v1.0h-1.0zM315.7 79.9h1.0v1.0h-1.0zM318.6 75.2h1.0v1.0h-1.0zM311.3 77.6h1.0v1.0h-1.0zM310.1 76.3h1.0v1.0h-1.0zM307.6 81.4h1.0v1.0h-1.0zM312.7 73.5h1.0v1.0h-1.0zM307.0 81.1h1.0v1.0h-1.0zM306.0 78.0h1.0v1.0h-1.0zM309.0 78.7h1.0v1.0h-1.0zM318.4 76.5h1.0v1.0h-1.0zM306.3 79.5h1.0v1.0h-1.0zM323.2 76.9h1.0v1.0h-1.0zM318.0 72.3h1.0v1.0h-1.0zM313.8 77.4h1.0v1.0h-1.0zM319.0 78.6h1.0v1.0h-1.0zM322.5 77.7h1.0v1.0h-1.0zM313.1 81.1h1.0v1.0h-1.0zM309.5 75.2h1.0v1.0h-1.0zM318.3 80.7h1.0v1.0h-1.0zM308.5 77.4h1.0v1.0h-1.0zM314.4 78.8h1.0v1.0h-1.0zM314.2 79.1h1.0v1.0h-1.0zM322.2 81.2h1.0v1.0h-1.0zM322.3 79.3h1.0v1.0h-1.0zM317.0 71.7h1.0v1.0h-1.0zM311.5 70.5h1.0v1.0h-1.0zM316.6 77.1h1.0v1.0h-1.0zM323.9 79.7h1.0v1.0h-1.0zM313.3 77.6h1.0v1.0h-1.0zM324.1 77.5h1.0v1.0h-1.0zM314.8 79.6h1.0v1.0h-1.0zM320.2 79.3h1.0v1.0h-1.0zM316.4 76.1h1.0v1.0h-1.0zM313.0 72.8h1.0v1.0h-1.0zM322.0 76.0h1.0v1.0h-1.0zM317.8 78.8h1.0v1.0h-1.0zM320.1 80.0h1.0v1.0h-1.0zM319.7 77.9h1.0v1.0h-1.0zM318.6 80.5h1.0v1.0h-1.0zM311.7 79.8h1.0v1.0h-1.0zM322.4 80.6h1.0v1.0h-1.0zM314.7 78.2h1.0v1.0h-1.0zM323.4 74.8h1.0v1.0h-1.0zM323.7 78.6h1.0v1.0h-1.0zM314.5 72.5h1.0v1.0h-1.0zM318.1 75.2h1.0v1.0h-1.0zM310.7 77.6h1.0v1.0h-1.0zM317.7 81.2h1.0v1.0h-1.0zM319.1 76.2h1.0v1.0h-1.0zM319.0 75.3h1.0v1.0h-1.0zM318.6 75.8h1.0v1.0h-1.0zM311.7 72.8h1.0v1.0h-1.0zM318.2 79.7h1.0v1.0h-1.0zM323.6 76.2h1.0v1.0h-1.0zM312.1 77.0h1.0v1.0h-1.0zM315.4 81.0h1.0v1.0h-1.0zM319.9 77.8h1.0v1.0h-1.0zM319.2 81.2h1.0v1.0h-1.0zM310.5 74.9h1.0v1.0h-1.0zM314.1 78.4h1.0v1.0h-1.0zM312.8 78.7h1.0v1.0h-1.0zM311.8 74.6h1.0v1.0h-1.0zM319.2 79.7h1.0v1.0h-1.0zM320.2 77.9h1.0v1.0h-1.0zM317.7 80.9h1.0v1.0h-1.0zM318.3 75.5h1.0v1.0h-1.0zM316.2 72.3h1.0v1.0h-1.0zM317.2 81.1h1.0v1.0h-1.0zM311.9 75.3h1.0v1.0h-1.0zM311.2 77.6h1.0v1.0h-1.0zM310.8 75.8h1.0v1.0h-1.0zM318.9 74.6h1.0v1.0h-1.0zM320.0 74.8h1.0v1.0h-1.0zM307.0 80.7h1.0v1.0h-1.0zM313.9 73.5h1.0v1.0h-1.0zM321.8 80.0h1.0v1.0h-1.0zM316.1 76.5h1.0v1.0h-1.0zM312.9 80.8h1.0v1.0h-1.0zM317.8 81.9h1.0v1.0h-1.0zM312.5 75.5h1.0v1.0h-1.0zM309.2 78.5h1.0v1.0h-1.0zM319.5 74.7h1.0v1.0h-1.0zM317.7 79.3h1.0v1.0h-1.0zM312.6 75.0h1.0v1.0h-1.0zM319.8 77.1h1.0v1.0h-1.0zM314.9 81.5h1.0v1.0h-1.0zM309.3 81.2h1.0v1.0h-1.0zM305.7 79.6h1.0v1.0h-1.0zM318.9 80.0h1.0v1.0h-1.0zM317.8 72.7h1.0v1.0h-1.0zM315.7 76.2h1.0v1.0h-1.0zM320.8 75.3h1.0v1.0h-1.0zM312.8 80.8h1.0v1.0h-1.0zM331.2 75.3h1.0v1.0h-1.0zM329.2 76.3h1.0v1.0h-1.0zM328.7 77.3h1.0v1.0h-1.0zM330.2 77.3h1.0v1.0h-1.0zM327.5 76.0h1.0v1.0h-1.0zM329.3 76.3h1.0v1.0h-1.0zM326.1 77.2h1.0v1.0h-1.0zM328.7 74.6h1.0v1.0h-1.0zM331.1 76.2h1.0v1.0h-1.0zM330.4 77.0h1.0v1.0h-1.0zM329.7 77.7h1.0v1.0h-1.0zM326.3 75.3h1.0v1.0h-1.0zM327.0 76.5h1.0v1.0h-1.0zM327.3 74.1h1.0v1.0h-1.0zM326.8 74.7h1.0v1.0h-1.0zM329.2 75.8h1.0v1.0h-1.0zM328.8 74.0h1.0v1.0h-1.0zM329.2 75.0h1.0v1.0h-1.0zM326.5 74.2h1.0v1.0h-1.0zM326.9 75.6h1.0v1.0h-1.0zM327.0 75.9h1.0v1.0h-1.0zM327.0 76.9h1.0v1.0h-1.0zM331.3 75.3h1.0v1.0h-1.0zM326.4 77.9h1.0v1.0h-1.0zM326.5 76.6h1.0v1.0h-1.0zM331.0 76.4h1.0v1.0h-1.0zM324.8 79.8h1.0v1.0h-1.0zM330.5 82.2h1.0v1.0h-1.0zM332.1 77.7h1.0v1.0h-1.0zM327.4 76.6h1.0v1.0h-1.0zM326.8 79.3h1.0v1.0h-1.0zM325.7 80.5h1.0v1.0h-1.0zM324.8 79.7h1.0v1.0h-1.0zM333.1 79.0h1.0v1.0h-1.0zM333.7 80.8h1.0v1.0h-1.0zM330.2 78.9h1.0v1.0h-1.0zM326.7 79.8h1.0v1.0h-1.0zM326.0 81.0h1.0v1.0h-1.0zM333.6 79.0h1.0v1.0h-1.0zM325.8 82.6h1.0v1.0h-1.0zM324.3 80.4h1.0v1.0h-1.0zM331.3 78.5h1.0v1.0h-1.0zM331.9 78.8h1.0v1.0h-1.0zM327.3 81.4h1.0v1.0h-1.0zM333.3 79.3h1.0v1.0h-1.0zM333.1 77.9h1.0v1.0h-1.0zM330.6 81.1h1.0v1.0h-1.0zM329.8 81.8h1.0v1.0h-1.0zM331.0 79.8h1.0v1.0h-1.0zM325.2 80.0h1.0v1.0h-1.0zM328.5 79.8h1.0v1.0h-1.0zM324.5 80.4h1.0v1.0h-1.0zM333.9 78.2h1.0v1.0h-1.0zM330.7 78.6h1.0v1.0h-1.0zM327.3 79.9h1.0v1.0h-1.0zM329.2 81.5h1.0v1.0h-1.0zM326.3 77.1h1.0v1.0h-1.0zM324.1 78.3h1.0v1.0h-1.0zM329.7 77.5h1.0v1.0h-1.0zM331.5 80.3h1.0v1.0h-1.0zM331.7 77.6h1.0v1.0h-1.0zM324.7 81.6h1.0v1.0h-1.0zM324.5 78.8h1.0v1.0h-1.0zM325.0 78.7h1.0v1.0h-1.0zM333.2 78.5h1.0v1.0h-1.0zM305.3 77.2h1.0v1.0h-1.0zM300.4 79.2h1.0v1.0h-1.0zM305.3 80.9h1.0v1.0h-1.0zM304.3 77.5h1.0v1.0h-1.0zM300.2 80.9h1.0v1.0h-1.0zM304.4 77.3h1.0v1.0h-1.0zM305.9 79.4h1.0v1.0h-1.0zM305.8 81.1h1.0v1.0h-1.0zM303.9 78.1h1.0v1.0h-1.0zM302.5 80.2h1.0v1.0h-1.0zM302.3 79.0h1.0v1.0h-1.0zM304.5 77.4h1.0v1.0h-1.0zM297.5 80.8h1.0v1.0h-1.0zM305.8 78.1h1.0v1.0h-1.0zM301.4 79.7h1.0v1.0h-1.0zM303.8 79.2h1.0v1.0h-1.0zM305.6 79.1h1.0v1.0h-1.0zM305.6 76.7h1.0v1.0h-1.0zM301.2 81.2h1.0v1.0h-1.0zM297.9 79.0h1.0v1.0h-1.0zM338.0 70.8h1.0v1.0h-1.0z" fill="#000"/><path d="M451.6 75.3h1.0v1.0h-1.0zM448.4 74.6h1.0v1.0h-1.0zM444.2 74.5h1.0v1.0h-1.0zM446.1 73.1h1.0v1.0h-1.0zM451.8 74.2h1.0v1.0h-1.0zM441.2 77.9h1.0v1.0h-1.0zM442.7 76.3h1.0v1.0h-1.0zM443.1 75.9h1.0v1.0h-1.0zM446.1 76.9h1.0v1.0h-1.0zM440.4 80.0h1.0v1.0h-1.0zM447.1 74.0h1.0v1.0h-1.0zM450.0 75.1h1.0v1.0h-1.0zM444.0 76.2h1.0v1.0h-1.0zM451.2 80.7h1.0v1.0h-1.0zM442.6 80.0h1.0v1.0h-1.0zM441.1 75.4h1.0v1.0h-1.0zM447.8 78.1h1.0v1.0h-1.0zM444.9 77.6h1.0v1.0h-1.0zM442.5 76.9h1.0v1.0h-1.0zM444.6 77.9h1.0v1.0h-1.0zM447.7 76.3h1.0v1.0h-1.0zM440.3 79.6h1.0v1.0h-1.0zM450.3 77.4h1.0v1.0h-1.0zM449.3 75.5h1.0v1.0h-1.0zM443.1 78.0h1.0v1.0h-1.0zM453.2 75.9h1.0v1.0h-1.0zM453.3 79.3h1.0v1.0h-1.0zM446.2 76.7h1.0v1.0h-1.0zM451.6 75.5h1.0v1.0h-1.0zM442.9 76.4h1.0v1.0h-1.0zM448.5 75.0h1.0v1.0h-1.0zM449.0 73.8h1.0v1.0h-1.0zM442.4 80.6h1.0v1.0h-1.0zM445.8 77.2h1.0v1.0h-1.0zM451.1 82.0h1.0v1.0h-1.0zM449.7 76.3h1.0v1.0h-1.0zM452.3 73.7h1.0v1.0h-1.0zM447.2 76.6h1.0v1.0h-1.0zM449.2 74.9h1.0v1.0h-1.0zM441.2 74.7h1.0v1.0h-1.0zM450.9 76.6h1.0v1.0h-1.0zM445.6 77.7h1.0v1.0h-1.0zM443.5 79.3h1.0v1.0h-1.0zM445.0 75.6h1.0v1.0h-1.0zM444.5 77.8h1.0v1.0h-1.0zM450.7 77.3h1.0v1.0h-1.0zM446.7 75.3h1.0v1.0h-1.0zM444.8 74.3h1.0v1.0h-1.0zM451.2 74.5h1.0v1.0h-1.0zM445.8 77.4h1.0v1.0h-1.0zM441.1 75.5h1.0v1.0h-1.0zM449.5 77.3h1.0v1.0h-1.0zM447.8 80.7h1.0v1.0h-1.0zM447.8 80.4h1.0v1.0h-1.0zM440.4 79.7h1.0v1.0h-1.0zM443.5 76.0h1.0v1.0h-1.0zM449.2 80.3h1.0v1.0h-1.0zM450.6 74.5h1.0v1.0h-1.0zM445.9 74.4h1.0v1.0h-1.0zM446.3 78.9h1.0v1.0h-1.0zM452.5 75.4h1.0v1.0h-1.0zM440.9 80.9h1.0v1.0h-1.0zM442.6 76.4h1.0v1.0h-1.0zM441.7 78.3h1.0v1.0h-1.0zM453.2 76.0h1.0v1.0h-1.0zM444.9 76.7h1.0v1.0h-1.0zM447.5 78.5h1.0v1.0h-1.0zM445.9 79.0h1.0v1.0h-1.0zM440.8 76.3h1.0v1.0h-1.0zM446.1 78.3h1.0v1.0h-1.0zM447.7 74.7h1.0v1.0h-1.0zM442.6 78.2h1.0v1.0h-1.0zM446.1 75.1h1.0v1.0h-1.0zM452.7 77.1h1.0v1.0h-1.0zM451.4 76.0h1.0v1.0h-1.0zM447.7 74.6h1.0v1.0h-1.0zM452.3 78.9h1.0v1.0h-1.0zM453.0 77.9h1.0v1.0h-1.0zM448.7 73.0h1.0v1.0h-1.0zM448.7 74.3h1.0v1.0h-1.0zM444.2 79.5h1.0v1.0h-1.0zM449.8 80.0h1.0v1.0h-1.0zM451.3 79.0h1.0v1.0h-1.0zM440.7 79.2h1.0v1.0h-1.0zM446.8 79.3h1.0v1.0h-1.0zM442.3 78.9h1.0v1.0h-1.0zM452.2 76.9h1.0v1.0h-1.0zM451.0 77.1h1.0v1.0h-1.0zM441.1 74.5h1.0v1.0h-1.0zM443.5 76.6h1.0v1.0h-1.0zM448.9 77.9h1.0v1.0h-1.0zM443.5 74.7h1.0v1.0h-1.0zM439.7 81.1h1.0v1.0h-1.0zM451.9 79.5h1.0v1.0h-1.0zM450.7 77.7h1.0v1.0h-1.0zM450.5 78.2h1.0v1.0h-1.0zM445.4 73.0h1.0v1.0h-1.0zM447.5 73.8h1.0v1.0h-1.0zM440.9 76.7h1.0v1.0h-1.0zM444.0 72.9h1.0v1.0h-1.0zM447.9 76.6h1.0v1.0h-1.0zM453.5 78.9h1.0v1.0h-1.0zM449.2 74.9h1.0v1.0h-1.0zM444.4 80.7h1.0v1.0h-1.0zM450.1 73.8h1.0v1.0h-1.0zM452.7 75.8h1.0v1.0h-1.0zM443.3 78.0h1.0v1.0h-1.0zM450.0 78.6h1.0v1.0h-1.0zM447.4 72.5h1.0v1.0h-1.0zM451.7 78.4h1.0v1.0h-1.0zM447.8 75.6h1.0v1.0h-1.0zM447.9 77.9h1.0v1.0h-1.0zM453.6 78.2h1.0v1.0h-1.0zM451.0 79.9h1.0v1.0h-1.0zM440.9 77.5h1.0v1.0h-1.0zM451.0 75.2h1.0v1.0h-1.0zM443.6 80.8h1.0v1.0h-1.0zM442.7 76.6h1.0v1.0h-1.0zM451.4 80.2h1.0v1.0h-1.0zM439.8 76.8h1.0v1.0h-1.0zM452.7 80.2h1.0v1.0h-1.0zM444.1 74.3h1.0v1.0h-1.0zM442.3 74.3h1.0v1.0h-1.0zM448.0 74.0h1.0v1.0h-1.0zM449.3 77.2h1.0v1.0h-1.0zM444.3 76.6h1.0v1.0h-1.0zM446.5 79.0h1.0v1.0h-1.0zM444.2 79.0h1.0v1.0h-1.0zM447.2 78.7h1.0v1.0h-1.0zM446.0 75.7h1.0v1.0h-1.0zM446.8 76.4h1.0v1.0h-1.0zM442.8 79.4h1.0v1.0h-1.0zM447.1 79.9h1.0v1.0h-1.0zM444.4 75.6h1.0v1.0h-1.0zM449.6 79.8h1.0v1.0h-1.0zM449.2 76.6h1.0v1.0h-1.0zM451.7 80.3h1.0v1.0h-1.0zM441.5 77.9h1.0v1.0h-1.0zM450.2 74.6h1.0v1.0h-1.0zM449.3 79.3h1.0v1.0h-1.0zM446.5 75.7h1.0v1.0h-1.0zM450.4 74.8h1.0v1.0h-1.0zM448.5 74.8h1.0v1.0h-1.0zM445.3 78.5h1.0v1.0h-1.0zM448.3 74.4h1.0v1.0h-1.0zM454.2 77.5h1.0v1.0h-1.0zM441.9 78.4h1.0v1.0h-1.0zM449.0 78.4h1.0v1.0h-1.0zM451.3 81.0h1.0v1.0h-1.0zM453.6 77.5h1.0v1.0h-1.0zM446.5 75.3h1.0v1.0h-1.0zM438.7 79.4h1.0v1.0h-1.0zM443.2 77.2h1.0v1.0h-1.0zM451.1 78.2h1.0v1.0h-1.0zM445.2 77.9h1.0v1.0h-1.0zM452.5 78.0h1.0v1.0h-1.0zM443.5 74.9h1.0v1.0h-1.0zM447.0 75.2h1.0v1.0h-1.0zM448.9 77.2h1.0v1.0h-1.0zM442.1 78.6h1.0v1.0h-1.0zM446.6 75.4h1.0v1.0h-1.0zM444.3 77.9h1.0v1.0h-1.0zM441.4 79.4h1.0v1.0h-1.0zM451.8 75.5h1.0v1.0h-1.0zM449.1 79.4h1.0v1.0h-1.0zM448.6 79.9h1.0v1.0h-1.0zM441.3 75.9h1.0v1.0h-1.0zM452.5 79.5h1.0v1.0h-1.0zM445.2 80.0h1.0v1.0h-1.0zM439.3 78.1h1.0v1.0h-1.0zM443.8 79.4h1.0v1.0h-1.0zM452.4 77.6h1.0v1.0h-1.0zM443.4 73.2h1.0v1.0h-1.0zM443.0 73.5h1.0v1.0h-1.0zM444.6 78.5h1.0v1.0h-1.0zM446.8 74.6h1.0v1.0h-1.0zM439.7 76.1h1.0v1.0h-1.0zM446.0 76.4h1.0v1.0h-1.0zM449.2 80.1h1.0v1.0h-1.0zM453.0 77.3h1.0v1.0h-1.0zM444.3 74.3h1.0v1.0h-1.0zM448.7 79.8h1.0v1.0h-1.0zM443.8 73.7h1.0v1.0h-1.0zM451.6 75.3h1.0v1.0h-1.0zM441.8 79.6h1.0v1.0h-1.0zM447.1 80.9h1.0v1.0h-1.0zM439.3 75.3h1.0v1.0h-1.0zM448.0 80.4h1.0v1.0h-1.0zM446.4 76.1h1.0v1.0h-1.0zM451.5 75.0h1.0v1.0h-1.0zM443.5 80.8h1.0v1.0h-1.0zM441.9 78.0h1.0v1.0h-1.0zM440.6 79.1h1.0v1.0h-1.0zM450.1 73.4h1.0v1.0h-1.0zM451.8 75.3h1.0v1.0h-1.0zM451.5 75.8h1.0v1.0h-1.0zM450.5 73.3h1.0v1.0h-1.0zM448.4 81.7h1.0v1.0h-1.0zM452.4 74.2h1.0v1.0h-1.0zM442.6 75.5h1.0v1.0h-1.0zM451.9 77.3h1.0v1.0h-1.0zM443.2 81.6h1.0v1.0h-1.0zM450.7 77.7h1.0v1.0h-1.0zM443.1 79.2h1.0v1.0h-1.0zM442.7 80.6h1.0v1.0h-1.0zM451.9 79.0h1.0v1.0h-1.0zM441.0 76.3h1.0v1.0h-1.0zM447.8 76.9h1.0v1.0h-1.0zM445.7 73.2h1.0v1.0h-1.0zM440.8 78.5h1.0v1.0h-1.0zM448.5 78.6h1.0v1.0h-1.0zM455.1 78.8h1.0v1.0h-1.0zM443.4 78.0h1.0v1.0h-1.0zM440.9 76.0h1.0v1.0h-1.0zM454.2 76.9h1.0v1.0h-1.0zM450.7 74.5h1.0v1.0h-1.0zM449.7 74.8h1.0v1.0h-1.0zM452.5 79.1h1.0v1.0h-1.0zM449.4 77.7h1.0v1.0h-1.0zM449.6 76.2h1.0v1.0h-1.0zM447.1 74.8h1.0v1.0h-1.0zM445.7 76.1h1.0v1.0h-1.0zM445.8 75.6h1.0v1.0h-1.0zM446.5 77.3h1.0v1.0h-1.0zM442.4 74.7h1.0v1.0h-1.0zM446.3 78.3h1.0v1.0h-1.0zM444.5 78.4h1.0v1.0h-1.0zM448.4 73.8h1.0v1.0h-1.0zM450.0 76.3h1.0v1.0h-1.0zM453.3 77.4h1.0v1.0h-1.0zM439.1 78.0h1.0v1.0h-1.0zM450.3 80.9h1.0v1.0h-1.0zM442.4 75.0h1.0v1.0h-1.0zM451.8 76.4h1.0v1.0h-1.0zM448.0 76.1h1.0v1.0h-1.0zM443.4 78.5h1.0v1.0h-1.0zM450.8 74.4h1.0v1.0h-1.0zM447.7 77.9h1.0v1.0h-1.0zM442.5 78.4h1.0v1.0h-1.0zM446.4 76.7h1.0v1.0h-1.0zM444.0 76.4h1.0v1.0h-1.0zM445.2 76.8h1.0v1.0h-1.0zM447.6 76.0h1.0v1.0h-1.0zM445.4 77.2h1.0v1.0h-1.0zM446.8 72.6h1.0v1.0h-1.0zM443.1 75.9h1.0v1.0h-1.0zM448.0 75.6h1.0v1.0h-1.0zM438.3 75.4h1.0v1.0h-1.0zM449.4 77.0h1.0v1.0h-1.0zM448.3 79.2h1.0v1.0h-1.0zM443.5 77.9h1.0v1.0h-1.0zM452.5 76.8h1.0v1.0h-1.0zM452.5 79.2h1.0v1.0h-1.0zM446.8 77.0h1.0v1.0h-1.0zM448.0 75.1h1.0v1.0h-1.0zM453.6 77.7h1.0v1.0h-1.0zM448.4 74.4h1.0v1.0h-1.0zM446.8 75.3h1.0v1.0h-1.0zM447.2 75.6h1.0v1.0h-1.0zM441.7 80.1h1.0v1.0h-1.0zM450.0 81.1h1.0v1.0h-1.0zM446.0 75.3h1.0v1.0h-1.0zM452.2 80.3h1.0v1.0h-1.0zM453.5 76.3h1.0v1.0h-1.0zM443.3 75.6h1.0v1.0h-1.0zM444.5 76.1h1.0v1.0h-1.0zM452.1 79.7h1.0v1.0h-1.0zM448.7 76.4h1.0v1.0h-1.0zM442.2 77.0h1.0v1.0h-1.0zM443.9 74.4h1.0v1.0h-1.0zM452.9 80.3h1.0v1.0h-1.0zM451.3 80.3h1.0v1.0h-1.0zM447.8 74.2h1.0v1.0h-1.0zM447.9 76.0h1.0v1.0h-1.0zM444.3 72.4h1.0v1.0h-1.0zM446.2 77.9h1.0v1.0h-1.0zM452.7 81.0h1.0v1.0h-1.0zM445.8 78.7h1.0v1.0h-1.0zM447.6 72.8h1.0v1.0h-1.0zM445.2 74.1h1.0v1.0h-1.0zM444.2 80.2h1.0v1.0h-1.0zM446.2 77.4h1.0v1.0h-1.0zM448.4 76.1h1.0v1.0h-1.0zM443.9 74.3h1.0v1.0h-1.0zM452.2 78.8h1.0v1.0h-1.0zM450.6 77.6h1.0v1.0h-1.0zM446.2 75.6h1.0v1.0h-1.0zM446.4 76.3h1.0v1.0h-1.0zM452.0 74.6h1.0v1.0h-1.0zM448.7 78.8h1.0v1.0h-1.0zM446.9 80.5h1.0v1.0h-1.0zM451.6 79.3h1.0v1.0h-1.0zM442.3 74.9h1.0v1.0h-1.0zM450.1 75.2h1.0v1.0h-1.0zM450.1 78.4h1.0v1.0h-1.0zM442.2 74.7h1.0v1.0h-1.0zM438.7 77.7h1.0v1.0h-1.0zM446.2 75.9h1.0v1.0h-1.0zM446.0 76.5h1.0v1.0h-1.0zM446.8 78.5h1.0v1.0h-1.0zM441.3 79.1h1.0v1.0h-1.0zM450.2 76.6h1.0v1.0h-1.0zM442.6 77.8h1.0v1.0h-1.0zM452.5 81.0h1.0v1.0h-1.0zM448.1 76.5h1.0v1.0h-1.0zM445.9 76.2h1.0v1.0h-1.0zM446.6 76.0h1.0v1.0h-1.0zM448.1 77.1h1.0v1.0h-1.0zM445.4 80.8h1.0v1.0h-1.0zM446.9 78.9h1.0v1.0h-1.0zM444.7 73.5h1.0v1.0h-1.0zM443.0 77.7h1.0v1.0h-1.0zM451.5 77.1h1.0v1.0h-1.0zM453.3 76.8h1.0v1.0h-1.0zM441.6 80.0h1.0v1.0h-1.0zM440.9 74.9h1.0v1.0h-1.0zM445.9 80.0h1.0v1.0h-1.0zM448.7 76.2h1.0v1.0h-1.0zM442.6 76.4h1.0v1.0h-1.0zM450.4 76.0h1.0v1.0h-1.0zM450.8 73.7h1.0v1.0h-1.0zM451.8 75.1h1.0v1.0h-1.0zM439.6 76.5h1.0v1.0h-1.0zM453.9 77.6h1.0v1.0h-1.0zM445.7 80.1h1.0v1.0h-1.0zM440.4 77.9h1.0v1.0h-1.0zM448.5 79.7h1.0v1.0h-1.0zM451.0 77.4h1.0v1.0h-1.0zM452.5 77.1h1.0v1.0h-1.0zM451.0 80.3h1.0v1.0h-1.0zM439.1 76.6h1.0v1.0h-1.0zM441.8 74.2h1.0v1.0h-1.0zM440.8 75.9h1.0v1.0h-1.0zM447.4 79.0h1.0v1.0h-1.0zM445.0 78.3h1.0v1.0h-1.0zM439.8 81.4h1.0v1.0h-1.0zM442.0 78.2h1.0v1.0h-1.0zM451.3 79.5h1.0v1.0h-1.0zM447.0 76.5h1.0v1.0h-1.0zM453.1 74.3h1.0v1.0h-1.0zM447.7 74.0h1.0v1.0h-1.0zM444.2 76.7h1.0v1.0h-1.0zM451.3 75.4h1.0v1.0h-1.0zM440.6 82.4h1.0v1.0h-1.0zM445.3 77.3h1.0v1.0h-1.0zM446.9 77.5h1.0v1.0h-1.0zM448.2 74.5h1.0v1.0h-1.0zM440.9 80.1h1.0v1.0h-1.0zM444.3 74.4h1.0v1.0h-1.0zM448.3 77.2h1.0v1.0h-1.0zM440.6 78.3h1.0v1.0h-1.0zM445.1 80.8h1.0v1.0h-1.0zM451.6 79.3h1.0v1.0h-1.0zM449.7 73.8h1.0v1.0h-1.0zM452.2 73.3h1.0v1.0h-1.0zM441.1 75.5h1.0v1.0h-1.0zM443.1 79.0h1.0v1.0h-1.0zM450.1 77.5h1.0v1.0h-1.0zM448.5 75.5h1.0v1.0h-1.0zM442.8 74.7h1.0v1.0h-1.0zM438.5 76.5h1.0v1.0h-1.0zM453.1 74.6h1.0v1.0h-1.0zM439.9 74.8h1.0v1.0h-1.0zM454.0 76.2h1.0v1.0h-1.0zM440.2 82.4h1.0v1.0h-1.0zM440.4 80.1h1.0v1.0h-1.0zM442.1 76.3h1.0v1.0h-1.0zM453.6 77.8h1.0v1.0h-1.0zM450.4 77.3h1.0v1.0h-1.0zM446.0 80.1h1.0v1.0h-1.0zM451.2 78.3h1.0v1.0h-1.0zM450.3 77.2h1.0v1.0h-1.0zM442.0 77.8h1.0v1.0h-1.0zM446.6 75.5h1.0v1.0h-1.0zM439.8 77.8h1.0v1.0h-1.0zM444.8 78.7h1.0v1.0h-1.0zM446.3 74.9h1.0v1.0h-1.0zM445.0 77.5h1.0v1.0h-1.0zM445.0 73.5h1.0v1.0h-1.0zM447.5 73.6h1.0v1.0h-1.0zM441.0 74.3h1.0v1.0h-1.0zM443.8 74.1h1.0v1.0h-1.0zM447.9 79.6h1.0v1.0h-1.0zM444.0 79.1h1.0v1.0h-1.0zM448.8 74.2h1.0v1.0h-1.0zM446.2 77.3h1.0v1.0h-1.0zM441.1 77.2h1.0v1.0h-1.0zM446.9 77.5h1.0v1.0h-1.0zM453.0 78.8h1.0v1.0h-1.0zM441.8 77.9h1.0v1.0h-1.0zM450.9 76.9h1.0v1.0h-1.0zM440.9 78.5h1.0v1.0h-1.0zM448.4 77.7h1.0v1.0h-1.0zM452.9 78.2h1.0v1.0h-1.0zM448.5 78.8h1.0v1.0h-1.0zM439.7 73.9h1.0v1.0h-1.0zM443.5 75.2h1.0v1.0h-1.0zM450.2 74.8h1.0v1.0h-1.0zM450.6 74.6h1.0v1.0h-1.0zM443.3 78.1h1.0v1.0h-1.0zM439.7 77.8h1.0v1.0h-1.0zM443.1 80.1h1.0v1.0h-1.0zM452.5 79.2h1.0v1.0h-1.0zM447.2 75.8h1.0v1.0h-1.0zM454.2 75.0h1.0v1.0h-1.0zM445.5 80.4h1.0v1.0h-1.0zM447.6 82.1h1.0v1.0h-1.0zM448.3 81.3h1.0v1.0h-1.0zM451.5 78.6h1.0v1.0h-1.0zM448.7 78.2h1.0v1.0h-1.0zM453.8 80.7h1.0v1.0h-1.0zM443.4 80.9h1.0v1.0h-1.0zM442.7 76.2h1.0v1.0h-1.0zM447.7 74.7h1.0v1.0h-1.0zM449.7 74.8h1.0v1.0h-1.0zM449.9 72.8h1.0v1.0h-1.0zM453.5 79.6h1.0v1.0h-1.0zM445.7 73.8h1.0v1.0h-1.0zM444.2 73.5h1.0v1.0h-1.0zM443.5 75.2h1.0v1.0h-1.0zM443.0 82.1h1.0v1.0h-1.0zM449.5 77.8h1.0v1.0h-1.0zM450.6 80.1h1.0v1.0h-1.0zM441.4 76.2h1.0v1.0h-1.0zM444.8 77.6h1.0v1.0h-1.0zM452.1 76.0h1.0v1.0h-1.0zM451.3 81.0h1.0v1.0h-1.0zM449.7 73.0h1.0v1.0h-1.0zM441.1 79.4h1.0v1.0h-1.0zM439.9 76.4h1.0v1.0h-1.0zM441.8 74.2h1.0v1.0h-1.0zM450.8 75.0h1.0v1.0h-1.0zM452.2 76.9h1.0v1.0h-1.0zM443.6 81.3h1.0v1.0h-1.0zM442.9 79.6h1.0v1.0h-1.0zM449.9 79.9h1.0v1.0h-1.0zM441.9 78.1h1.0v1.0h-1.0zM450.7 75.2h1.0v1.0h-1.0zM444.3 79.2h1.0v1.0h-1.0zM442.2 76.4h1.0v1.0h-1.0zM449.2 76.2h1.0v1.0h-1.0zM448.0 78.0h1.0v1.0h-1.0zM449.4 78.2h1.0v1.0h-1.0zM447.0 74.4h1.0v1.0h-1.0zM440.8 78.0h1.0v1.0h-1.0zM452.3 74.6h1.0v1.0h-1.0zM442.3 78.3h1.0v1.0h-1.0zM442.8 75.2h1.0v1.0h-1.0zM451.0 79.6h1.0v1.0h-1.0zM439.3 80.6h1.0v1.0h-1.0zM449.1 77.6h1.0v1.0h-1.0zM441.3 78.9h1.0v1.0h-1.0zM442.5 78.4h1.0v1.0h-1.0zM447.1 75.5h1.0v1.0h-1.0zM449.4 74.2h1.0v1.0h-1.0zM448.7 75.0h1.0v1.0h-1.0zM452.6 76.8h1.0v1.0h-1.0zM450.4 77.8h1.0v1.0h-1.0zM452.3 76.8h1.0v1.0h-1.0zM443.9 74.2h1.0v1.0h-1.0zM450.1 76.7h1.0v1.0h-1.0zM450.9 77.6h1.0v1.0h-1.0zM450.8 80.9h1.0v1.0h-1.0zM451.3 77.6h1.0v1.0h-1.0zM443.9 74.5h1.0v1.0h-1.0zM449.3 76.2h1.0v1.0h-1.0zM450.0 78.3h1.0v1.0h-1.0zM446.7 78.4h1.0v1.0h-1.0zM449.8 74.8h1.0v1.0h-1.0zM438.8 77.6h1.0v1.0h-1.0zM449.8 79.5h1.0v1.0h-1.0zM442.8 74.8h1.0v1.0h-1.0zM452.7 78.2h1.0v1.0h-1.0zM452.3 75.3h1.0v1.0h-1.0zM442.6 74.4h1.0v1.0h-1.0zM447.6 78.9h1.0v1.0h-1.0zM446.0 76.3h1.0v1.0h-1.0zM441.6 73.9h1.0v1.0h-1.0zM448.6 77.9h1.0v1.0h-1.0zM451.7 77.9h1.0v1.0h-1.0zM443.6 81.5h1.0v1.0h-1.0zM441.2 78.9h1.0v1.0h-1.0zM443.2 75.7h1.0v1.0h-1.0zM452.1 74.3h1.0v1.0h-1.0zM450.5 78.1h1.0v1.0h-1.0zM447.2 78.4h1.0v1.0h-1.0zM453.6 79.0h1.0v1.0h-1.0zM444.5 78.5h1.0v1.0h-1.0zM446.1 76.0h1.0v1.0h-1.0zM441.6 76.1h1.0v1.0h-1.0zM445.6 76.8h1.0v1.0h-1.0zM444.9 73.4h1.0v1.0h-1.0zM449.2 79.7h1.0v1.0h-1.0zM438.4 75.1h1.0v1.0h-1.0zM444.2 73.2h1.0v1.0h-1.0zM445.1 73.5h1.0v1.0h-1.0zM450.8 80.7h1.0v1.0h-1.0zM443.2 77.6h1.0v1.0h-1.0zM445.2 73.5h1.0v1.0h-1.0zM439.1 76.4h1.0v1.0h-1.0zM440.3 75.8h1.0v1.0h-1.0zM454.4 77.7h1.0v1.0h-1.0zM445.8 74.5h1.0v1.0h-1.0zM449.4 76.3h1.0v1.0h-1.0zM453.5 75.9h1.0v1.0h-1.0zM442.0 73.4h1.0v1.0h-1.0zM442.7 76.0h1.0v1.0h-1.0zM442.7 77.9h1.0v1.0h-1.0zM442.4 75.8h1.0v1.0h-1.0zM441.4 75.7h1.0v1.0h-1.0zM441.0 77.2h1.0v1.0h-1.0zM443.2 76.6h1.0v1.0h-1.0zM440.6 76.4h1.0v1.0h-1.0zM443.7 73.6h1.0v1.0h-1.0zM445.3 78.4h1.0v1.0h-1.0zM450.5 76.9h1.0v1.0h-1.0zM449.1 76.2h1.0v1.0h-1.0zM440.5 80.3h1.0v1.0h-1.0zM451.6 77.2h1.0v1.0h-1.0zM443.6 77.6h1.0v1.0h-1.0zM446.6 79.1h1.0v1.0h-1.0zM449.6 74.9h1.0v1.0h-1.0zM453.9 76.5h1.0v1.0h-1.0zM442.7 81.1h1.0v1.0h-1.0zM444.0 80.5h1.0v1.0h-1.0zM446.8 77.8h1.0v1.0h-1.0zM442.7 74.7h1.0v1.0h-1.0zM448.4 80.7h1.0v1.0h-1.0zM452.7 76.6h1.0v1.0h-1.0zM445.4 77.5h1.0v1.0h-1.0zM448.5 77.7h1.0v1.0h-1.0zM443.2 77.8h1.0v1.0h-1.0zM442.8 78.4h1.0v1.0h-1.0zM449.8 73.4h1.0v1.0h-1.0zM447.6 79.3h1.0v1.0h-1.0zM447.1 78.0h1.0v1.0h-1.0zM444.7 74.2h1.0v1.0h-1.0zM449.6 78.0h1.0v1.0h-1.0zM449.3 79.5h1.0v1.0h-1.0zM443.4 75.0h1.0v1.0h-1.0zM449.2 79.9h1.0v1.0h-1.0zM444.6 75.2h1.0v1.0h-1.0zM446.2 75.9h1.0v1.0h-1.0zM448.0 78.3h1.0v1.0h-1.0zM449.0 71.8h1.0v1.0h-1.0zM449.8 73.6h1.0v1.0h-1.0zM441.4 75.9h1.0v1.0h-1.0zM444.3 78.0h1.0v1.0h-1.0zM445.9 77.5h1.0v1.0h-1.0zM453.1 79.2h1.0v1.0h-1.0zM449.5 75.1h1.0v1.0h-1.0zM452.1 78.0h1.0v1.0h-1.0zM452.4 80.5h1.0v1.0h-1.0zM441.1 75.3h1.0v1.0h-1.0zM441.4 80.3h1.0v1.0h-1.0zM446.2 76.0h1.0v1.0h-1.0zM447.7 80.1h1.0v1.0h-1.0zM441.1 77.0h1.0v1.0h-1.0zM441.5 76.9h1.0v1.0h-1.0zM450.7 81.1h1.0v1.0h-1.0zM434.6 77.3h1.0v1.0h-1.0zM430.5 77.6h1.0v1.0h-1.0zM434.6 77.9h1.0v1.0h-1.0zM436.0 77.4h1.0v1.0h-1.0zM438.5 76.2h1.0v1.0h-1.0zM438.7 77.4h1.0v1.0h-1.0zM437.1 74.0h1.0v1.0h-1.0zM439.0 76.2h1.0v1.0h-1.0zM437.8 78.8h1.0v1.0h-1.0zM438.5 77.9h1.0v1.0h-1.0zM437.9 79.3h1.0v1.0h-1.0zM435.9 76.6h1.0v1.0h-1.0zM436.4 77.7h1.0v1.0h-1.0zM430.5 79.3h1.0v1.0h-1.0zM438.7 77.8h1.0v1.0h-1.0zM438.4 75.8h1.0v1.0h-1.0zM436.0 77.6h1.0v1.0h-1.0zM438.4 76.2h1.0v1.0h-1.0zM437.1 77.5h1.0v1.0h-1.0zM430.5 78.8h1.0v1.0h-1.0zM438.9 76.0h1.0v1.0h-1.0zM438.5 77.5h1.0v1.0h-1.0zM436.5 78.7h1.0v1.0h-1.0zM436.7 76.4h1.0v1.0h-1.0zM435.6 79.6h1.0v1.0h-1.0zM437.9 73.8h1.0v1.0h-1.0zM438.5 78.9h1.0v1.0h-1.0zM433.0 75.9h1.0v1.0h-1.0zM438.6 77.2h1.0v1.0h-1.0zM438.6 76.2h1.0v1.0h-1.0zM438.6 75.9h1.0v1.0h-1.0zM436.0 78.3h1.0v1.0h-1.0zM431.2 75.1h1.0v1.0h-1.0zM437.5 77.9h1.0v1.0h-1.0zM437.6 77.0h1.0v1.0h-1.0zM454.3 76.2h1.0v1.0h-1.0zM456.6 77.1h1.0v1.0h-1.0zM455.2 72.7h1.0v1.0h-1.0zM455.1 76.6h1.0v1.0h-1.0zM458.0 77.6h1.0v1.0h-1.0zM455.9 73.7h1.0v1.0h-1.0zM455.5 77.6h1.0v1.0h-1.0zM454.5 73.9h1.0v1.0h-1.0zM457.5 77.2h1.0v1.0h-1.0zM457.5 75.4h1.0v1.0h-1.0zM454.1 78.5h1.0v1.0h-1.0zM457.8 77.7h1.0v1.0h-1.0zM453.1 78.0h1.0v1.0h-1.0zM455.3 75.6h1.0v1.0h-1.0zM453.8 76.1h1.0v1.0h-1.0zM455.5 74.1h1.0v1.0h-1.0zM453.3 76.3h1.0v1.0h-1.0zM454.6 75.4h1.0v1.0h-1.0zM456.0 76.9h1.0v1.0h-1.0zM454.1 72.5h1.0v1.0h-1.0zM453.1 75.3h1.0v1.0h-1.0zM455.5 72.8h1.0v1.0h-1.0zM456.5 72.3h1.0v1.0h-1.0zM457.2 75.1h1.0v1.0h-1.0zM457.1 74.6h1.0v1.0h-1.0zM456.8 70.8h1.0v1.0h-1.0zM453.2 76.4h1.0v1.0h-1.0zM457.5 74.2h1.0v1.0h-1.0zM457.0 78.2h1.0v1.0h-1.0zM453.8 75.6h1.0v1.0h-1.0zM453.2 76.0h1.0v1.0h-1.0zM457.8 76.5h1.0v1.0h-1.0zM453.6 78.4h1.0v1.0h-1.0zM457.7 71.5h1.0v1.0h-1.0zM454.4 75.8h1.0v1.0h-1.0zM455.3 76.1h1.0v1.0h-1.0zM456.5 79.1h1.0v1.0h-1.0zM455.9 74.3h1.0v1.0h-1.0zM457.8 75.0h1.0v1.0h-1.0zM453.1 77.7h1.0v1.0h-1.0z" fill="#000"/><rect x="78.40" y="170.50" width="162.20" height="123.30" fill="none" stroke="#777" stroke-width="1"/><line x1="78.40" y1="170.00" x2="78.40" y2="294.30" stroke="#111" stroke-width="1.1"/><line x1="77.90" y1="293.80" x2="241.10" y2="293.80" stroke="#111" stroke-width="1.1"/><line x1="75.60" y1="293.80" x2="78.40" y2="293.80" stroke="#111" stroke-width="1"/><text x="71.60" y="297.60" font-size="10.3" text-anchor="end">0</text><line x1="75.60" y1="273.25" x2="78.40" y2="273.25" stroke="#111" stroke-width="1"/><text x="71.60" y="277.05" font-size="10.3" text-anchor="end">5</text><line x1="75.60" y1="252.70" x2="78.40" y2="252.70" stroke="#111" stroke-width="1"/><text x="71.60" y="256.50" font-size="10.3" text-anchor="end">10</text><line x1="75.60" y1="232.15" x2="78.40" y2="232.15" stroke="#111" stroke-width="1"/><text x="71.60" y="235.95" font-size="10.3" text-anchor="end">15</text><line x1="75.60" y1="211.60" x2="78.40" y2="211.60" stroke="#111" stroke-width="1"/><text x="71.60" y="215.40" font-size="10.3" text-anchor="end">20</text><line x1="75.60" y1="191.05" x2="78.40" y2="191.05" stroke="#111" stroke-width="1"/><text x="71.60" y="194.85" font-size="10.3" text-anchor="end">25</text><line x1="75.60" y1="170.50" x2="78.40" y2="170.50" stroke="#111" stroke-width="1"/><text x="71.60" y="174.30" font-size="10.3" text-anchor="end">30</text><line x1="78.40" y1="293.80" x2="78.40" y2="296.80" stroke="#111" stroke-width="1"/><line x1="110.84" y1="293.80" x2="110.84" y2="296.80" stroke="#111" stroke-width="1"/><line x1="143.28" y1="293.80" x2="143.28" y2="296.80" stroke="#111" stroke-width="1"/><line x1="175.72" y1="293.80" x2="175.72" y2="296.80" stroke="#111" stroke-width="1"/><line x1="208.16" y1="293.80" x2="208.16" y2="296.80" stroke="#111" stroke-width="1"/><line x1="240.60" y1="293.80" x2="240.60" y2="296.80" stroke="#111" stroke-width="1"/><text x="94.62" y="312.00" font-size="10" text-anchor="middle">0</text><text x="127.06" y="312.00" font-size="10" text-anchor="middle">0.5</text><text x="159.50" y="312.00" font-size="10" text-anchor="middle">1</text><text x="191.94" y="312.00" font-size="10" text-anchor="middle">2</text><text x="224.38" y="312.00" font-size="10" text-anchor="middle">3</text><text x="162.20" y="321.30" font-size="9.7" text-anchor="middle">time (h)</text><text x="55.10" y="229.20" font-size="9.6" text-anchor="middle" transform="rotate(-90 55.10 229.20)">target cell apoptosis (%)</text><polyline points="94.62,293.80 127.06,282.50 159.50,283.11 191.94,279.42 224.38,278.59" fill="none" stroke="#bbb" stroke-width="1.3"/><polyline points="94.62,293.80 127.06,195.57 159.50,197.63 191.94,198.86 224.38,219.00" fill="none" stroke="#111" stroke-width="1.45"/><line x1="127.06" y1="192.57" x2="127.06" y2="198.57" stroke="#111" stroke-width="1"/><line x1="123.66" y1="192.57" x2="130.46" y2="192.57" stroke="#111" stroke-width="1.2"/><line x1="123.66" y1="198.57" x2="130.46" y2="198.57" stroke="#111" stroke-width="1.2"/><line x1="127.06" y1="278.88" x2="127.06" y2="286.11" stroke="#111" stroke-width="1"/><line x1="123.66" y1="278.88" x2="130.46" y2="278.88" stroke="#111" stroke-width="1.2"/><line x1="123.66" y1="286.11" x2="130.46" y2="286.11" stroke="#111" stroke-width="1.2"/><line x1="159.50" y1="188.05" x2="159.50" y2="207.20" stroke="#111" stroke-width="1"/><line x1="156.10" y1="188.05" x2="162.90" y2="188.05" stroke="#111" stroke-width="1.2"/><line x1="156.10" y1="207.20" x2="162.90" y2="207.20" stroke="#111" stroke-width="1.2"/><line x1="159.50" y1="279.83" x2="159.50" y2="286.40" stroke="#111" stroke-width="1"/><line x1="156.10" y1="279.83" x2="162.90" y2="279.83" stroke="#111" stroke-width="1.2"/><line x1="156.10" y1="286.40" x2="162.90" y2="286.40" stroke="#111" stroke-width="1.2"/><line x1="191.94" y1="195.65" x2="191.94" y2="202.06" stroke="#111" stroke-width="1"/><line x1="188.54" y1="195.65" x2="195.34" y2="195.65" stroke="#111" stroke-width="1.2"/><line x1="188.54" y1="202.06" x2="195.34" y2="202.06" stroke="#111" stroke-width="1.2"/><line x1="191.94" y1="276.21" x2="191.94" y2="282.62" stroke="#111" stroke-width="1"/><line x1="188.54" y1="276.21" x2="195.34" y2="276.21" stroke="#111" stroke-width="1.2"/><line x1="188.54" y1="282.62" x2="195.34" y2="282.62" stroke="#111" stroke-width="1.2"/><line x1="224.38" y1="215.50" x2="224.38" y2="222.49" stroke="#111" stroke-width="1"/><line x1="220.98" y1="215.50" x2="227.78" y2="215.50" stroke="#111" stroke-width="1.2"/><line x1="220.98" y1="222.49" x2="227.78" y2="222.49" stroke="#111" stroke-width="1.2"/><line x1="224.38" y1="277.98" x2="224.38" y2="279.21" stroke="#111" stroke-width="1"/><line x1="220.98" y1="277.98" x2="227.78" y2="277.98" stroke="#111" stroke-width="1.2"/><line x1="220.98" y1="279.21" x2="227.78" y2="279.21" stroke="#111" stroke-width="1.2"/><rect x="91.82" y="291.00" width="5.60" height="5.60" fill="#bbb"/><rect x="124.26" y="279.70" width="5.60" height="5.60" fill="#bbb"/><rect x="156.70" y="280.31" width="5.60" height="5.60" fill="#bbb"/><rect x="189.14" y="276.62" width="5.60" height="5.60" fill="#bbb"/><rect x="221.58" y="275.79" width="5.60" height="5.60" fill="#bbb"/><path d="M127.06 192.17L130.46 195.57L127.06 198.97L123.66 195.57z" fill="#000"/><path d="M159.50 194.23L162.90 197.63L159.50 201.03L156.10 197.63z" fill="#000"/><path d="M191.94 195.46L195.34 198.86L191.94 202.26L188.54 198.86z" fill="#000"/><path d="M224.38 215.60L227.78 219.00L224.38 222.40L220.98 219.00z" fill="#000"/><line x1="83.80" y1="331.30" x2="108.30" y2="331.30" stroke="#111" stroke-width="1.3"/><path d="M95.80 327.90L99.20 331.30L95.80 334.70L92.40 331.30z" fill="#000"/><text x="112.00" y="334.80" font-size="9.6">HLA matched peptide</text><line x1="83.80" y1="348.80" x2="108.30" y2="348.80" stroke="#bbb" stroke-width="1.3"/><rect x="92.80" y="346.00" width="5.60" height="5.60" fill="#bbb"/><text x="112.00" y="352.30" font-size="9.6">HLA-mismatch peptide</text><rect x="302.40" y="170.00" width="160.60" height="123.60" fill="none" stroke="#777" stroke-width="1"/><line x1="302.40" y1="169.50" x2="302.40" y2="294.10" stroke="#111" stroke-width="1.1"/><line x1="301.90" y1="293.60" x2="463.50" y2="293.60" stroke="#111" stroke-width="1.1"/><line x1="299.60" y1="293.60" x2="302.40" y2="293.60" stroke="#111" stroke-width="1"/><text x="295.10" y="296.80" font-size="9.2" text-anchor="end">0</text><line x1="299.60" y1="252.40" x2="302.40" y2="252.40" stroke="#111" stroke-width="1"/><text x="295.10" y="255.60" font-size="9.2" text-anchor="end">5</text><line x1="299.60" y1="211.20" x2="302.40" y2="211.20" stroke="#111" stroke-width="1"/><text x="295.10" y="214.40" font-size="9.2" text-anchor="end">10</text><line x1="299.60" y1="170.00" x2="302.40" y2="170.00" stroke="#111" stroke-width="1"/><text x="295.10" y="173.20" font-size="9.2" text-anchor="end">15</text><line x1="302.40" y1="293.60" x2="302.40" y2="296.60" stroke="#111" stroke-width="1"/><line x1="334.52" y1="293.60" x2="334.52" y2="296.60" stroke="#111" stroke-width="1"/><line x1="366.64" y1="293.60" x2="366.64" y2="296.60" stroke="#111" stroke-width="1"/><line x1="398.76" y1="293.60" x2="398.76" y2="296.60" stroke="#111" stroke-width="1"/><line x1="430.88" y1="293.60" x2="430.88" y2="296.60" stroke="#111" stroke-width="1"/><line x1="463.00" y1="293.60" x2="463.00" y2="296.60" stroke="#111" stroke-width="1"/><text x="318.46" y="310.90" font-size="10.0" text-anchor="middle">1:5</text><text x="350.58" y="310.90" font-size="10.0" text-anchor="middle">1:10</text><text x="382.70" y="310.90" font-size="10.0" text-anchor="middle">1:20</text><text x="414.82" y="310.90" font-size="10.0" text-anchor="middle">1:50</text><text x="446.94" y="310.90" font-size="10.0" text-anchor="middle">1:100</text><text x="383.00" y="321.00" font-size="9.5" text-anchor="middle">target-to-effector ratio</text><text x="279.80" y="231.00" font-size="9.5" text-anchor="middle" transform="rotate(-90 279.80 231.00)">target cell apoptosis (%)</text><polyline points="318.46,293.60 350.58,281.24 382.70,282.89 414.82,293.60 446.94,293.60" fill="none" stroke="#bbb" stroke-width="1.3"/><polyline points="318.46,252.40 350.58,227.68 382.70,211.20 414.82,194.72 446.94,202.96" fill="none" stroke="#111" stroke-width="1.45"/><rect x="315.66" y="290.80" width="5.60" height="5.60" fill="#bbb"/><path d="M318.46 249.00L321.86 252.40L318.46 255.80L315.06 252.40z" fill="#000"/><rect x="347.78" y="278.44" width="5.60" height="5.60" fill="#bbb"/><path d="M350.58 224.28L353.98 227.68L350.58 231.08L347.18 227.68z" fill="#000"/><rect x="379.90" y="280.09" width="5.60" height="5.60" fill="#bbb"/><path d="M382.70 207.80L386.10 211.20L382.70 214.60L379.30 211.20z" fill="#000"/><rect x="412.02" y="290.80" width="5.60" height="5.60" fill="#bbb"/><path d="M414.82 191.32L418.22 194.72L414.82 198.12L411.42 194.72z" fill="#000"/><rect x="444.14" y="290.80" width="5.60" height="5.60" fill="#bbb"/><path d="M446.94 199.56L450.34 202.96L446.94 206.36L443.54 202.96z" fill="#000"/><line x1="318.80" y1="332.30" x2="343.80" y2="332.30" stroke="#111" stroke-width="1.3"/><path d="M331.30 328.90L334.70 332.30L331.30 335.70L327.90 332.30z" fill="#000"/><text x="345.60" y="335.80" font-size="9.55">HLA-matched peptide</text><line x1="318.80" y1="349.00" x2="343.80" y2="349.00" stroke="#bbb" stroke-width="1.3"/><rect x="328.50" y="346.20" width="5.60" height="5.60" fill="#bbb"/><text x="345.60" y="352.50" font-size="9.55">HLA-mismatch peptide</text><line x1="74.80" y1="454.00" x2="77.60" y2="454.00" stroke="#000" stroke-width="0.8"/><line x1="77.60" y1="454.00" x2="77.60" y2="456.80" stroke="#000" stroke-width="0.8"/><line x1="76.30" y1="448.54" x2="77.60" y2="448.54" stroke="#000" stroke-width="0.55"/><line x1="84.01" y1="454.00" x2="84.01" y2="455.30" stroke="#000" stroke-width="0.55"/><line x1="76.30" y1="445.35" x2="77.60" y2="445.35" stroke="#000" stroke-width="0.55"/><line x1="87.76" y1="454.00" x2="87.76" y2="455.30" stroke="#000" stroke-width="0.55"/><line x1="76.30" y1="443.09" x2="77.60" y2="443.09" stroke="#000" stroke-width="0.55"/><line x1="90.42" y1="454.00" x2="90.42" y2="455.30" stroke="#000" stroke-width="0.55"/><line x1="76.30" y1="441.33" x2="77.60" y2="441.33" stroke="#000" stroke-width="0.55"/><line x1="92.49" y1="454.00" x2="92.49" y2="455.30" stroke="#000" stroke-width="0.55"/><line x1="76.30" y1="439.90" x2="77.60" y2="439.90" stroke="#000" stroke-width="0.55"/><line x1="94.17" y1="454.00" x2="94.17" y2="455.30" stroke="#000" stroke-width="0.55"/><line x1="76.30" y1="438.68" x2="77.60" y2="438.68" stroke="#000" stroke-width="0.55"/><line x1="95.60" y1="454.00" x2="95.60" y2="455.30" stroke="#000" stroke-width="0.55"/><line x1="76.30" y1="437.63" x2="77.60" y2="437.63" stroke="#000" stroke-width="0.55"/><line x1="96.84" y1="454.00" x2="96.84" y2="455.30" stroke="#000" stroke-width="0.55"/><line x1="76.30" y1="436.70" x2="77.60" y2="436.70" stroke="#000" stroke-width="0.55"/><line x1="97.93" y1="454.00" x2="97.93" y2="455.30" stroke="#000" stroke-width="0.55"/><line x1="74.80" y1="435.88" x2="77.60" y2="435.88" stroke="#000" stroke-width="0.8"/><line x1="98.90" y1="454.00" x2="98.90" y2="456.80" stroke="#000" stroke-width="0.8"/><line x1="76.30" y1="430.42" x2="77.60" y2="430.42" stroke="#000" stroke-width="0.55"/><line x1="105.31" y1="454.00" x2="105.31" y2="455.30" stroke="#000" stroke-width="0.55"/><line x1="76.30" y1="427.23" x2="77.60" y2="427.23" stroke="#000" stroke-width="0.55"/><line x1="109.06" y1="454.00" x2="109.06" y2="455.30" stroke="#000" stroke-width="0.55"/><line x1="76.30" y1="424.96" x2="77.60" y2="424.96" stroke="#000" stroke-width="0.55"/><line x1="111.72" y1="454.00" x2="111.72" y2="455.30" stroke="#000" stroke-width="0.55"/><line x1="76.30" y1="423.21" x2="77.60" y2="423.21" stroke="#000" stroke-width="0.55"/><line x1="113.79" y1="454.00" x2="113.79" y2="455.30" stroke="#000" stroke-width="0.55"/><line x1="76.30" y1="421.77" x2="77.60" y2="421.77" stroke="#000" stroke-width="0.55"/><line x1="115.47" y1="454.00" x2="115.47" y2="455.30" stroke="#000" stroke-width="0.55"/><line x1="76.30" y1="420.56" x2="77.60" y2="420.56" stroke="#000" stroke-width="0.55"/><line x1="116.90" y1="454.00" x2="116.90" y2="455.30" stroke="#000" stroke-width="0.55"/><line x1="76.30" y1="419.51" x2="77.60" y2="419.51" stroke="#000" stroke-width="0.55"/><line x1="118.14" y1="454.00" x2="118.14" y2="455.30" stroke="#000" stroke-width="0.55"/><line x1="76.30" y1="418.58" x2="77.60" y2="418.58" stroke="#000" stroke-width="0.55"/><line x1="119.23" y1="454.00" x2="119.23" y2="455.30" stroke="#000" stroke-width="0.55"/><line x1="74.80" y1="417.75" x2="77.60" y2="417.75" stroke="#000" stroke-width="0.8"/><line x1="120.20" y1="454.00" x2="120.20" y2="456.80" stroke="#000" stroke-width="0.8"/><line x1="76.30" y1="412.29" x2="77.60" y2="412.29" stroke="#000" stroke-width="0.55"/><line x1="126.61" y1="454.00" x2="126.61" y2="455.30" stroke="#000" stroke-width="0.55"/><line x1="76.30" y1="409.10" x2="77.60" y2="409.10" stroke="#000" stroke-width="0.55"/><line x1="130.36" y1="454.00" x2="130.36" y2="455.30" stroke="#000" stroke-width="0.55"/><line x1="76.30" y1="406.84" x2="77.60" y2="406.84" stroke="#000" stroke-width="0.55"/><line x1="133.02" y1="454.00" x2="133.02" y2="455.30" stroke="#000" stroke-width="0.55"/><line x1="76.30" y1="405.08" x2="77.60" y2="405.08" stroke="#000" stroke-width="0.55"/><line x1="135.09" y1="454.00" x2="135.09" y2="455.30" stroke="#000" stroke-width="0.55"/><line x1="76.30" y1="403.65" x2="77.60" y2="403.65" stroke="#000" stroke-width="0.55"/><line x1="136.77" y1="454.00" x2="136.77" y2="455.30" stroke="#000" stroke-width="0.55"/><line x1="76.30" y1="402.43" x2="77.60" y2="402.43" stroke="#000" stroke-width="0.55"/><line x1="138.20" y1="454.00" x2="138.20" y2="455.30" stroke="#000" stroke-width="0.55"/><line x1="76.30" y1="401.38" x2="77.60" y2="401.38" stroke="#000" stroke-width="0.55"/><line x1="139.44" y1="454.00" x2="139.44" y2="455.30" stroke="#000" stroke-width="0.55"/><line x1="76.30" y1="400.45" x2="77.60" y2="400.45" stroke="#000" stroke-width="0.55"/><line x1="140.53" y1="454.00" x2="140.53" y2="455.30" stroke="#000" stroke-width="0.55"/><line x1="74.80" y1="399.62" x2="77.60" y2="399.62" stroke="#000" stroke-width="0.8"/><line x1="141.50" y1="454.00" x2="141.50" y2="456.80" stroke="#000" stroke-width="0.8"/><line x1="76.30" y1="394.17" x2="77.60" y2="394.17" stroke="#000" stroke-width="0.55"/><line x1="147.91" y1="454.00" x2="147.91" y2="455.30" stroke="#000" stroke-width="0.55"/><line x1="76.30" y1="390.98" x2="77.60" y2="390.98" stroke="#000" stroke-width="0.55"/><line x1="151.66" y1="454.00" x2="151.66" y2="455.30" stroke="#000" stroke-width="0.55"/><line x1="76.30" y1="388.71" x2="77.60" y2="388.71" stroke="#000" stroke-width="0.55"/><line x1="154.32" y1="454.00" x2="154.32" y2="455.30" stroke="#000" stroke-width="0.55"/><line x1="76.30" y1="386.96" x2="77.60" y2="386.96" stroke="#000" stroke-width="0.55"/><line x1="156.39" y1="454.00" x2="156.39" y2="455.30" stroke="#000" stroke-width="0.55"/><line x1="76.30" y1="385.52" x2="77.60" y2="385.52" stroke="#000" stroke-width="0.55"/><line x1="158.07" y1="454.00" x2="158.07" y2="455.30" stroke="#000" stroke-width="0.55"/><line x1="76.30" y1="384.31" x2="77.60" y2="384.31" stroke="#000" stroke-width="0.55"/><line x1="159.50" y1="454.00" x2="159.50" y2="455.30" stroke="#000" stroke-width="0.55"/><line x1="76.30" y1="383.26" x2="77.60" y2="383.26" stroke="#000" stroke-width="0.55"/><line x1="160.74" y1="454.00" x2="160.74" y2="455.30" stroke="#000" stroke-width="0.55"/><line x1="76.30" y1="382.33" x2="77.60" y2="382.33" stroke="#000" stroke-width="0.55"/><line x1="161.83" y1="454.00" x2="161.83" y2="455.30" stroke="#000" stroke-width="0.55"/><line x1="74.80" y1="381.50" x2="77.60" y2="381.50" stroke="#000" stroke-width="0.8"/><line x1="162.80" y1="454.00" x2="162.80" y2="456.80" stroke="#000" stroke-width="0.8"/><rect x="77.60" y="381.50" width="85.20" height="72.50" fill="none" stroke="#000" stroke-width="1.1"/><text x="72.00" y="454.30" font-size="10.1" transform="rotate(-90 72.00 454.30)">10<tspan font-size="6.0" dy="-3.0">0</tspan></text><text x="77.50" y="465.40" font-size="10.1">10<tspan font-size="6.0" dy="-4.4">0</tspan></text><text x="72.00" y="436.18" font-size="10.1" transform="rotate(-90 72.00 436.18)">10<tspan font-size="6.0" dy="-3.0">1</tspan></text><text x="98.80" y="465.40" font-size="10.1">10<tspan font-size="6.0" dy="-4.4">1</tspan></text><text x="72.00" y="418.05" font-size="10.1" transform="rotate(-90 72.00 418.05)">10<tspan font-size="6.0" dy="-3.0">2</tspan></text><text x="120.10" y="465.40" font-size="10.1">10<tspan font-size="6.0" dy="-4.4">2</tspan></text><text x="72.00" y="399.93" font-size="10.1" transform="rotate(-90 72.00 399.93)">10<tspan font-size="6.0" dy="-3.0">3</tspan></text><text x="141.40" y="465.40" font-size="10.1">10<tspan font-size="6.0" dy="-4.4">3</tspan></text><text x="72.00" y="381.80" font-size="10.1" transform="rotate(-90 72.00 381.80)">10<tspan font-size="6.0" dy="-3.0">4</tspan></text><text x="162.70" y="465.40" font-size="10.1">10<tspan font-size="6.0" dy="-4.4">4</tspan></text><text x="57.20" y="463.20" font-size="9.5" transform="rotate(-90 57.20 463.20)">7-aminoactinomycin D</text><text x="126.00" y="474.90" font-size="9.6" text-anchor="middle">caspase 3 substrate</text><line x1="208.20" y1="454.30" x2="211.00" y2="454.30" stroke="#000" stroke-width="0.8"/><line x1="211.00" y1="454.30" x2="211.00" y2="457.10" stroke="#000" stroke-width="0.8"/><line x1="209.70" y1="448.83" x2="211.00" y2="448.83" stroke="#000" stroke-width="0.55"/><line x1="217.42" y1="454.30" x2="217.42" y2="455.60" stroke="#000" stroke-width="0.55"/><line x1="209.70" y1="445.63" x2="211.00" y2="445.63" stroke="#000" stroke-width="0.55"/><line x1="221.17" y1="454.30" x2="221.17" y2="455.60" stroke="#000" stroke-width="0.55"/><line x1="209.70" y1="443.36" x2="211.00" y2="443.36" stroke="#000" stroke-width="0.55"/><line x1="223.84" y1="454.30" x2="223.84" y2="455.60" stroke="#000" stroke-width="0.55"/><line x1="209.70" y1="441.60" x2="211.00" y2="441.60" stroke="#000" stroke-width="0.55"/><line x1="225.91" y1="454.30" x2="225.91" y2="455.60" stroke="#000" stroke-width="0.55"/><line x1="209.70" y1="440.16" x2="211.00" y2="440.16" stroke="#000" stroke-width="0.55"/><line x1="227.59" y1="454.30" x2="227.59" y2="455.60" stroke="#000" stroke-width="0.55"/><line x1="209.70" y1="438.94" x2="211.00" y2="438.94" stroke="#000" stroke-width="0.55"/><line x1="229.02" y1="454.30" x2="229.02" y2="455.60" stroke="#000" stroke-width="0.55"/><line x1="209.70" y1="437.89" x2="211.00" y2="437.89" stroke="#000" stroke-width="0.55"/><line x1="230.26" y1="454.30" x2="230.26" y2="455.60" stroke="#000" stroke-width="0.55"/><line x1="209.70" y1="436.96" x2="211.00" y2="436.96" stroke="#000" stroke-width="0.55"/><line x1="231.35" y1="454.30" x2="231.35" y2="455.60" stroke="#000" stroke-width="0.55"/><line x1="208.20" y1="436.12" x2="211.00" y2="436.12" stroke="#000" stroke-width="0.8"/><line x1="232.32" y1="454.30" x2="232.32" y2="457.10" stroke="#000" stroke-width="0.8"/><line x1="209.70" y1="430.65" x2="211.00" y2="430.65" stroke="#000" stroke-width="0.55"/><line x1="238.74" y1="454.30" x2="238.74" y2="455.60" stroke="#000" stroke-width="0.55"/><line x1="209.70" y1="427.45" x2="211.00" y2="427.45" stroke="#000" stroke-width="0.55"/><line x1="242.50" y1="454.30" x2="242.50" y2="455.60" stroke="#000" stroke-width="0.55"/><line x1="209.70" y1="425.18" x2="211.00" y2="425.18" stroke="#000" stroke-width="0.55"/><line x1="245.16" y1="454.30" x2="245.16" y2="455.60" stroke="#000" stroke-width="0.55"/><line x1="209.70" y1="423.42" x2="211.00" y2="423.42" stroke="#000" stroke-width="0.55"/><line x1="247.23" y1="454.30" x2="247.23" y2="455.60" stroke="#000" stroke-width="0.55"/><line x1="209.70" y1="421.98" x2="211.00" y2="421.98" stroke="#000" stroke-width="0.55"/><line x1="248.92" y1="454.30" x2="248.92" y2="455.60" stroke="#000" stroke-width="0.55"/><line x1="209.70" y1="420.77" x2="211.00" y2="420.77" stroke="#000" stroke-width="0.55"/><line x1="250.35" y1="454.30" x2="250.35" y2="455.60" stroke="#000" stroke-width="0.55"/><line x1="209.70" y1="419.71" x2="211.00" y2="419.71" stroke="#000" stroke-width="0.55"/><line x1="251.58" y1="454.30" x2="251.58" y2="455.60" stroke="#000" stroke-width="0.55"/><line x1="209.70" y1="418.78" x2="211.00" y2="418.78" stroke="#000" stroke-width="0.55"/><line x1="252.67" y1="454.30" x2="252.67" y2="455.60" stroke="#000" stroke-width="0.55"/><line x1="208.20" y1="417.95" x2="211.00" y2="417.95" stroke="#000" stroke-width="0.8"/><line x1="253.65" y1="454.30" x2="253.65" y2="457.10" stroke="#000" stroke-width="0.8"/><line x1="209.70" y1="412.48" x2="211.00" y2="412.48" stroke="#000" stroke-width="0.55"/><line x1="260.07" y1="454.30" x2="260.07" y2="455.60" stroke="#000" stroke-width="0.55"/><line x1="209.70" y1="409.28" x2="211.00" y2="409.28" stroke="#000" stroke-width="0.55"/><line x1="263.82" y1="454.30" x2="263.82" y2="455.60" stroke="#000" stroke-width="0.55"/><line x1="209.70" y1="407.01" x2="211.00" y2="407.01" stroke="#000" stroke-width="0.55"/><line x1="266.49" y1="454.30" x2="266.49" y2="455.60" stroke="#000" stroke-width="0.55"/><line x1="209.70" y1="405.25" x2="211.00" y2="405.25" stroke="#000" stroke-width="0.55"/><line x1="268.56" y1="454.30" x2="268.56" y2="455.60" stroke="#000" stroke-width="0.55"/><line x1="209.70" y1="403.81" x2="211.00" y2="403.81" stroke="#000" stroke-width="0.55"/><line x1="270.24" y1="454.30" x2="270.24" y2="455.60" stroke="#000" stroke-width="0.55"/><line x1="209.70" y1="402.59" x2="211.00" y2="402.59" stroke="#000" stroke-width="0.55"/><line x1="271.67" y1="454.30" x2="271.67" y2="455.60" stroke="#000" stroke-width="0.55"/><line x1="209.70" y1="401.54" x2="211.00" y2="401.54" stroke="#000" stroke-width="0.55"/><line x1="272.91" y1="454.30" x2="272.91" y2="455.60" stroke="#000" stroke-width="0.55"/><line x1="209.70" y1="400.61" x2="211.00" y2="400.61" stroke="#000" stroke-width="0.55"/><line x1="274.00" y1="454.30" x2="274.00" y2="455.60" stroke="#000" stroke-width="0.55"/><line x1="208.20" y1="399.78" x2="211.00" y2="399.78" stroke="#000" stroke-width="0.8"/><line x1="274.98" y1="454.30" x2="274.98" y2="457.10" stroke="#000" stroke-width="0.8"/><line x1="209.70" y1="394.30" x2="211.00" y2="394.30" stroke="#000" stroke-width="0.55"/><line x1="281.39" y1="454.30" x2="281.39" y2="455.60" stroke="#000" stroke-width="0.55"/><line x1="209.70" y1="391.10" x2="211.00" y2="391.10" stroke="#000" stroke-width="0.55"/><line x1="285.15" y1="454.30" x2="285.15" y2="455.60" stroke="#000" stroke-width="0.55"/><line x1="209.70" y1="388.83" x2="211.00" y2="388.83" stroke="#000" stroke-width="0.55"/><line x1="287.81" y1="454.30" x2="287.81" y2="455.60" stroke="#000" stroke-width="0.55"/><line x1="209.70" y1="387.07" x2="211.00" y2="387.07" stroke="#000" stroke-width="0.55"/><line x1="289.88" y1="454.30" x2="289.88" y2="455.60" stroke="#000" stroke-width="0.55"/><line x1="209.70" y1="385.63" x2="211.00" y2="385.63" stroke="#000" stroke-width="0.55"/><line x1="291.57" y1="454.30" x2="291.57" y2="455.60" stroke="#000" stroke-width="0.55"/><line x1="209.70" y1="384.42" x2="211.00" y2="384.42" stroke="#000" stroke-width="0.55"/><line x1="293.00" y1="454.30" x2="293.00" y2="455.60" stroke="#000" stroke-width="0.55"/><line x1="209.70" y1="383.36" x2="211.00" y2="383.36" stroke="#000" stroke-width="0.55"/><line x1="294.23" y1="454.30" x2="294.23" y2="455.60" stroke="#000" stroke-width="0.55"/><line x1="209.70" y1="382.43" x2="211.00" y2="382.43" stroke="#000" stroke-width="0.55"/><line x1="295.32" y1="454.30" x2="295.32" y2="455.60" stroke="#000" stroke-width="0.55"/><line x1="208.20" y1="381.60" x2="211.00" y2="381.60" stroke="#000" stroke-width="0.8"/><line x1="296.30" y1="454.30" x2="296.30" y2="457.10" stroke="#000" stroke-width="0.8"/><rect x="211.00" y="381.60" width="85.30" height="72.70" fill="none" stroke="#000" stroke-width="1.1"/><text x="205.80" y="454.60" font-size="10.1" transform="rotate(-90 205.80 454.60)">10<tspan font-size="6.0" dy="-3.0">0</tspan></text><text x="210.90" y="465.40" font-size="10.1">10<tspan font-size="6.0" dy="-4.4">0</tspan></text><text x="205.80" y="436.43" font-size="10.1" transform="rotate(-90 205.80 436.43)">10<tspan font-size="6.0" dy="-3.0">1</tspan></text><text x="232.22" y="465.40" font-size="10.1">10<tspan font-size="6.0" dy="-4.4">1</tspan></text><text x="205.80" y="418.25" font-size="10.1" transform="rotate(-90 205.80 418.25)">10<tspan font-size="6.0" dy="-3.0">2</tspan></text><text x="253.55" y="465.40" font-size="10.1">10<tspan font-size="6.0" dy="-4.4">2</tspan></text><text x="205.80" y="400.08" font-size="10.1" transform="rotate(-90 205.80 400.08)">10<tspan font-size="6.0" dy="-3.0">3</tspan></text><text x="274.88" y="465.40" font-size="10.1">10<tspan font-size="6.0" dy="-4.4">3</tspan></text><text x="205.80" y="381.90" font-size="10.1" transform="rotate(-90 205.80 381.90)">10<tspan font-size="6.0" dy="-3.0">4</tspan></text><text x="296.20" y="465.40" font-size="10.1">10<tspan font-size="6.0" dy="-4.4">4</tspan></text><text x="192.60" y="462.80" font-size="9.5" transform="rotate(-90 192.60 462.80)">7-aminoactinomycin D</text><text x="257.10" y="474.90" font-size="9.6" text-anchor="middle">caspase 3 substrate</text><line x1="340.30" y1="454.00" x2="343.10" y2="454.00" stroke="#000" stroke-width="0.8"/><line x1="343.10" y1="454.00" x2="343.10" y2="456.80" stroke="#000" stroke-width="0.8"/><line x1="341.80" y1="448.54" x2="343.10" y2="448.54" stroke="#000" stroke-width="0.55"/><line x1="349.36" y1="454.00" x2="349.36" y2="455.30" stroke="#000" stroke-width="0.55"/><line x1="341.80" y1="445.35" x2="343.10" y2="445.35" stroke="#000" stroke-width="0.55"/><line x1="353.02" y1="454.00" x2="353.02" y2="455.30" stroke="#000" stroke-width="0.55"/><line x1="341.80" y1="443.09" x2="343.10" y2="443.09" stroke="#000" stroke-width="0.55"/><line x1="355.62" y1="454.00" x2="355.62" y2="455.30" stroke="#000" stroke-width="0.55"/><line x1="341.80" y1="441.33" x2="343.10" y2="441.33" stroke="#000" stroke-width="0.55"/><line x1="357.64" y1="454.00" x2="357.64" y2="455.30" stroke="#000" stroke-width="0.55"/><line x1="341.80" y1="439.90" x2="343.10" y2="439.90" stroke="#000" stroke-width="0.55"/><line x1="359.29" y1="454.00" x2="359.29" y2="455.30" stroke="#000" stroke-width="0.55"/><line x1="341.80" y1="438.68" x2="343.10" y2="438.68" stroke="#000" stroke-width="0.55"/><line x1="360.68" y1="454.00" x2="360.68" y2="455.30" stroke="#000" stroke-width="0.55"/><line x1="341.80" y1="437.63" x2="343.10" y2="437.63" stroke="#000" stroke-width="0.55"/><line x1="361.88" y1="454.00" x2="361.88" y2="455.30" stroke="#000" stroke-width="0.55"/><line x1="341.80" y1="436.70" x2="343.10" y2="436.70" stroke="#000" stroke-width="0.55"/><line x1="362.95" y1="454.00" x2="362.95" y2="455.30" stroke="#000" stroke-width="0.55"/><line x1="340.30" y1="435.88" x2="343.10" y2="435.88" stroke="#000" stroke-width="0.8"/><line x1="363.90" y1="454.00" x2="363.90" y2="456.80" stroke="#000" stroke-width="0.8"/><line x1="341.80" y1="430.42" x2="343.10" y2="430.42" stroke="#000" stroke-width="0.55"/><line x1="370.16" y1="454.00" x2="370.16" y2="455.30" stroke="#000" stroke-width="0.55"/><line x1="341.80" y1="427.23" x2="343.10" y2="427.23" stroke="#000" stroke-width="0.55"/><line x1="373.82" y1="454.00" x2="373.82" y2="455.30" stroke="#000" stroke-width="0.55"/><line x1="341.80" y1="424.96" x2="343.10" y2="424.96" stroke="#000" stroke-width="0.55"/><line x1="376.42" y1="454.00" x2="376.42" y2="455.30" stroke="#000" stroke-width="0.55"/><line x1="341.80" y1="423.21" x2="343.10" y2="423.21" stroke="#000" stroke-width="0.55"/><line x1="378.44" y1="454.00" x2="378.44" y2="455.30" stroke="#000" stroke-width="0.55"/><line x1="341.80" y1="421.77" x2="343.10" y2="421.77" stroke="#000" stroke-width="0.55"/><line x1="380.09" y1="454.00" x2="380.09" y2="455.30" stroke="#000" stroke-width="0.55"/><line x1="341.80" y1="420.56" x2="343.10" y2="420.56" stroke="#000" stroke-width="0.55"/><line x1="381.48" y1="454.00" x2="381.48" y2="455.30" stroke="#000" stroke-width="0.55"/><line x1="341.80" y1="419.51" x2="343.10" y2="419.51" stroke="#000" stroke-width="0.55"/><line x1="382.68" y1="454.00" x2="382.68" y2="455.30" stroke="#000" stroke-width="0.55"/><line x1="341.80" y1="418.58" x2="343.10" y2="418.58" stroke="#000" stroke-width="0.55"/><line x1="383.75" y1="454.00" x2="383.75" y2="455.30" stroke="#000" stroke-width="0.55"/><line x1="340.30" y1="417.75" x2="343.10" y2="417.75" stroke="#000" stroke-width="0.8"/><line x1="384.70" y1="454.00" x2="384.70" y2="456.80" stroke="#000" stroke-width="0.8"/><line x1="341.80" y1="412.29" x2="343.10" y2="412.29" stroke="#000" stroke-width="0.55"/><line x1="390.96" y1="454.00" x2="390.96" y2="455.30" stroke="#000" stroke-width="0.55"/><line x1="341.80" y1="409.10" x2="343.10" y2="409.10" stroke="#000" stroke-width="0.55"/><line x1="394.62" y1="454.00" x2="394.62" y2="455.30" stroke="#000" stroke-width="0.55"/><line x1="341.80" y1="406.84" x2="343.10" y2="406.84" stroke="#000" stroke-width="0.55"/><line x1="397.22" y1="454.00" x2="397.22" y2="455.30" stroke="#000" stroke-width="0.55"/><line x1="341.80" y1="405.08" x2="343.10" y2="405.08" stroke="#000" stroke-width="0.55"/><line x1="399.24" y1="454.00" x2="399.24" y2="455.30" stroke="#000" stroke-width="0.55"/><line x1="341.80" y1="403.65" x2="343.10" y2="403.65" stroke="#000" stroke-width="0.55"/><line x1="400.89" y1="454.00" x2="400.89" y2="455.30" stroke="#000" stroke-width="0.55"/><line x1="341.80" y1="402.43" x2="343.10" y2="402.43" stroke="#000" stroke-width="0.55"/><line x1="402.28" y1="454.00" x2="402.28" y2="455.30" stroke="#000" stroke-width="0.55"/><line x1="341.80" y1="401.38" x2="343.10" y2="401.38" stroke="#000" stroke-width="0.55"/><line x1="403.48" y1="454.00" x2="403.48" y2="455.30" stroke="#000" stroke-width="0.55"/><line x1="341.80" y1="400.45" x2="343.10" y2="400.45" stroke="#000" stroke-width="0.55"/><line x1="404.55" y1="454.00" x2="404.55" y2="455.30" stroke="#000" stroke-width="0.55"/><line x1="340.30" y1="399.62" x2="343.10" y2="399.62" stroke="#000" stroke-width="0.8"/><line x1="405.50" y1="454.00" x2="405.50" y2="456.80" stroke="#000" stroke-width="0.8"/><line x1="341.80" y1="394.17" x2="343.10" y2="394.17" stroke="#000" stroke-width="0.55"/><line x1="411.76" y1="454.00" x2="411.76" y2="455.30" stroke="#000" stroke-width="0.55"/><line x1="341.80" y1="390.98" x2="343.10" y2="390.98" stroke="#000" stroke-width="0.55"/><line x1="415.42" y1="454.00" x2="415.42" y2="455.30" stroke="#000" stroke-width="0.55"/><line x1="341.80" y1="388.71" x2="343.10" y2="388.71" stroke="#000" stroke-width="0.55"/><line x1="418.02" y1="454.00" x2="418.02" y2="455.30" stroke="#000" stroke-width="0.55"/><line x1="341.80" y1="386.96" x2="343.10" y2="386.96" stroke="#000" stroke-width="0.55"/><line x1="420.04" y1="454.00" x2="420.04" y2="455.30" stroke="#000" stroke-width="0.55"/><line x1="341.80" y1="385.52" x2="343.10" y2="385.52" stroke="#000" stroke-width="0.55"/><line x1="421.69" y1="454.00" x2="421.69" y2="455.30" stroke="#000" stroke-width="0.55"/><line x1="341.80" y1="384.31" x2="343.10" y2="384.31" stroke="#000" stroke-width="0.55"/><line x1="423.08" y1="454.00" x2="423.08" y2="455.30" stroke="#000" stroke-width="0.55"/><line x1="341.80" y1="383.26" x2="343.10" y2="383.26" stroke="#000" stroke-width="0.55"/><line x1="424.28" y1="454.00" x2="424.28" y2="455.30" stroke="#000" stroke-width="0.55"/><line x1="341.80" y1="382.33" x2="343.10" y2="382.33" stroke="#000" stroke-width="0.55"/><line x1="425.35" y1="454.00" x2="425.35" y2="455.30" stroke="#000" stroke-width="0.55"/><line x1="340.30" y1="381.50" x2="343.10" y2="381.50" stroke="#000" stroke-width="0.8"/><line x1="426.30" y1="454.00" x2="426.30" y2="456.80" stroke="#000" stroke-width="0.8"/><rect x="343.10" y="381.50" width="83.20" height="72.50" fill="none" stroke="#000" stroke-width="1.1"/><text x="337.80" y="454.30" font-size="10.1" transform="rotate(-90 337.80 454.30)">10<tspan font-size="6.0" dy="-3.0">0</tspan></text><text x="343.00" y="465.40" font-size="10.1">10<tspan font-size="6.0" dy="-4.4">0</tspan></text><text x="337.80" y="436.18" font-size="10.1" transform="rotate(-90 337.80 436.18)">10<tspan font-size="6.0" dy="-3.0">1</tspan></text><text x="363.80" y="465.40" font-size="10.1">10<tspan font-size="6.0" dy="-4.4">1</tspan></text><text x="337.80" y="418.05" font-size="10.1" transform="rotate(-90 337.80 418.05)">10<tspan font-size="6.0" dy="-3.0">2</tspan></text><text x="384.60" y="465.40" font-size="10.1">10<tspan font-size="6.0" dy="-4.4">2</tspan></text><text x="337.80" y="399.93" font-size="10.1" transform="rotate(-90 337.80 399.93)">10<tspan font-size="6.0" dy="-3.0">3</tspan></text><text x="405.40" y="465.40" font-size="10.1">10<tspan font-size="6.0" dy="-4.4">3</tspan></text><text x="337.80" y="381.80" font-size="10.1" transform="rotate(-90 337.80 381.80)">10<tspan font-size="6.0" dy="-3.0">4</tspan></text><text x="426.20" y="465.40" font-size="10.1">10<tspan font-size="6.0" dy="-4.4">4</tspan></text><text x="324.20" y="460.60" font-size="9.5" transform="rotate(-90 324.20 460.60)">7-aminoactinomycin D</text><text x="393.70" y="474.90" font-size="9.6" text-anchor="middle">caspase 3 substrate</text><path d="M107.4 449.4h1.15v1.15h-1.15zM100.1 441.4h1.15v1.15h-1.15zM112.4 435.8h1.15v1.15h-1.15zM103.2 437.6h1.15v1.15h-1.15zM96.6 447.9h1.15v1.15h-1.15zM95.0 437.5h1.15v1.15h-1.15zM110.3 438.6h1.15v1.15h-1.15zM107.9 444.6h1.15v1.15h-1.15zM107.0 436.9h1.15v1.15h-1.15zM115.4 439.0h1.15v1.15h-1.15zM97.8 443.3h1.15v1.15h-1.15zM101.1 441.1h1.15v1.15h-1.15zM95.1 445.9h1.15v1.15h-1.15zM114.1 446.1h1.15v1.15h-1.15zM105.3 439.1h1.15v1.15h-1.15zM101.0 446.3h1.15v1.15h-1.15zM99.2 438.7h1.15v1.15h-1.15zM99.2 443.4h1.15v1.15h-1.15zM104.9 444.0h1.15v1.15h-1.15zM102.3 436.9h1.15v1.15h-1.15zM101.7 441.4h1.15v1.15h-1.15zM99.1 442.6h1.15v1.15h-1.15zM106.9 439.8h1.15v1.15h-1.15zM98.0 441.8h1.15v1.15h-1.15zM103.8 438.5h1.15v1.15h-1.15zM104.9 442.1h1.15v1.15h-1.15zM98.4 437.4h1.15v1.15h-1.15zM107.9 441.5h1.15v1.15h-1.15zM102.8 450.6h1.15v1.15h-1.15zM99.9 439.8h1.15v1.15h-1.15zM105.0 438.3h1.15v1.15h-1.15zM102.4 443.2h1.15v1.15h-1.15zM92.5 440.2h1.15v1.15h-1.15zM97.2 446.6h1.15v1.15h-1.15zM92.7 443.8h1.15v1.15h-1.15zM107.7 447.1h1.15v1.15h-1.15zM113.2 442.4h1.15v1.15h-1.15zM97.2 441.0h1.15v1.15h-1.15zM97.9 446.0h1.15v1.15h-1.15zM103.7 445.4h1.15v1.15h-1.15zM103.9 444.6h1.15v1.15h-1.15zM96.9 440.9h1.15v1.15h-1.15zM104.7 436.4h1.15v1.15h-1.15zM99.7 443.4h1.15v1.15h-1.15zM100.0 436.6h1.15v1.15h-1.15zM102.6 439.2h1.15v1.15h-1.15zM103.6 437.2h1.15v1.15h-1.15zM105.4 442.5h1.15v1.15h-1.15zM105.3 431.1h1.15v1.15h-1.15zM99.8 437.3h1.15v1.15h-1.15zM102.1 446.3h1.15v1.15h-1.15zM102.8 440.0h1.15v1.15h-1.15zM103.5 435.3h1.15v1.15h-1.15zM102.6 437.0h1.15v1.15h-1.15zM107.5 440.2h1.15v1.15h-1.15zM100.4 446.2h1.15v1.15h-1.15zM103.3 436.9h1.15v1.15h-1.15zM98.1 441.7h1.15v1.15h-1.15zM105.7 440.3h1.15v1.15h-1.15zM97.2 438.2h1.15v1.15h-1.15zM101.0 437.8h1.15v1.15h-1.15zM97.9 448.4h1.15v1.15h-1.15zM101.7 445.3h1.15v1.15h-1.15zM89.1 447.5h1.15v1.15h-1.15zM99.1 437.9h1.15v1.15h-1.15zM102.3 439.9h1.15v1.15h-1.15zM97.1 440.3h1.15v1.15h-1.15zM103.6 435.9h1.15v1.15h-1.15zM97.2 441.5h1.15v1.15h-1.15zM99.0 442.9h1.15v1.15h-1.15zM107.8 447.4h1.15v1.15h-1.15zM108.4 446.7h1.15v1.15h-1.15zM98.8 440.8h1.15v1.15h-1.15zM107.4 441.6h1.15v1.15h-1.15zM97.5 437.8h1.15v1.15h-1.15zM96.7 447.4h1.15v1.15h-1.15zM97.4 438.6h1.15v1.15h-1.15zM96.7 445.7h1.15v1.15h-1.15zM97.7 439.8h1.15v1.15h-1.15zM98.0 445.5h1.15v1.15h-1.15zM105.2 443.2h1.15v1.15h-1.15zM113.3 442.8h1.15v1.15h-1.15zM111.0 439.8h1.15v1.15h-1.15zM104.1 437.8h1.15v1.15h-1.15zM99.7 447.2h1.15v1.15h-1.15zM101.4 444.2h1.15v1.15h-1.15zM103.9 445.0h1.15v1.15h-1.15zM105.0 437.5h1.15v1.15h-1.15zM100.9 439.0h1.15v1.15h-1.15zM97.3 444.0h1.15v1.15h-1.15zM95.5 440.8h1.15v1.15h-1.15zM110.1 444.3h1.15v1.15h-1.15zM102.2 451.6h1.15v1.15h-1.15zM103.6 433.2h1.15v1.15h-1.15zM99.7 443.1h1.15v1.15h-1.15zM101.5 441.9h1.15v1.15h-1.15zM101.1 438.9h1.15v1.15h-1.15zM94.0 434.4h1.15v1.15h-1.15zM107.9 441.7h1.15v1.15h-1.15zM96.3 440.7h1.15v1.15h-1.15zM104.2 446.0h1.15v1.15h-1.15zM104.2 438.5h1.15v1.15h-1.15zM101.1 439.5h1.15v1.15h-1.15zM101.3 439.1h1.15v1.15h-1.15zM107.9 444.2h1.15v1.15h-1.15zM106.1 447.1h1.15v1.15h-1.15zM108.5 443.6h1.15v1.15h-1.15zM111.7 450.9h1.15v1.15h-1.15zM95.9 439.9h1.15v1.15h-1.15zM108.3 451.6h1.15v1.15h-1.15zM106.7 440.8h1.15v1.15h-1.15zM100.4 442.5h1.15v1.15h-1.15zM103.2 435.4h1.15v1.15h-1.15zM110.3 442.1h1.15v1.15h-1.15zM97.7 441.4h1.15v1.15h-1.15zM101.0 437.1h1.15v1.15h-1.15zM100.4 449.8h1.15v1.15h-1.15zM106.2 433.4h1.15v1.15h-1.15zM89.2 437.4h1.15v1.15h-1.15zM96.8 444.6h1.15v1.15h-1.15zM105.3 445.6h1.15v1.15h-1.15zM98.1 438.1h1.15v1.15h-1.15zM97.8 440.8h1.15v1.15h-1.15zM102.1 441.7h1.15v1.15h-1.15zM104.4 442.4h1.15v1.15h-1.15zM102.4 441.7h1.15v1.15h-1.15zM86.8 438.6h1.15v1.15h-1.15zM93.6 443.3h1.15v1.15h-1.15zM110.1 435.0h1.15v1.15h-1.15zM107.6 441.5h1.15v1.15h-1.15zM105.4 438.2h1.15v1.15h-1.15zM101.1 440.8h1.15v1.15h-1.15zM108.8 444.2h1.15v1.15h-1.15zM89.1 438.9h1.15v1.15h-1.15zM98.1 435.6h1.15v1.15h-1.15zM102.8 433.2h1.15v1.15h-1.15zM96.1 431.2h1.15v1.15h-1.15zM96.9 436.6h1.15v1.15h-1.15zM102.3 444.9h1.15v1.15h-1.15zM102.3 440.5h1.15v1.15h-1.15zM101.7 439.2h1.15v1.15h-1.15zM102.4 440.2h1.15v1.15h-1.15zM110.9 443.0h1.15v1.15h-1.15zM100.5 437.0h1.15v1.15h-1.15zM98.9 444.6h1.15v1.15h-1.15zM102.8 436.8h1.15v1.15h-1.15zM100.6 439.8h1.15v1.15h-1.15zM100.9 436.7h1.15v1.15h-1.15zM97.6 443.3h1.15v1.15h-1.15zM107.0 449.5h1.15v1.15h-1.15zM97.8 437.3h1.15v1.15h-1.15zM97.9 441.2h1.15v1.15h-1.15zM96.7 440.1h1.15v1.15h-1.15zM97.4 434.6h1.15v1.15h-1.15zM99.1 436.2h1.15v1.15h-1.15zM98.5 438.2h1.15v1.15h-1.15zM104.4 438.6h1.15v1.15h-1.15zM97.6 437.3h1.15v1.15h-1.15zM103.2 439.7h1.15v1.15h-1.15zM107.7 443.2h1.15v1.15h-1.15zM99.5 438.1h1.15v1.15h-1.15zM97.1 437.1h1.15v1.15h-1.15zM96.6 440.7h1.15v1.15h-1.15zM102.0 437.8h1.15v1.15h-1.15zM105.7 434.4h1.15v1.15h-1.15zM94.1 437.8h1.15v1.15h-1.15zM96.1 436.7h1.15v1.15h-1.15zM108.1 447.3h1.15v1.15h-1.15zM108.4 436.5h1.15v1.15h-1.15zM101.9 439.3h1.15v1.15h-1.15zM96.3 443.4h1.15v1.15h-1.15zM101.5 446.5h1.15v1.15h-1.15zM104.0 441.7h1.15v1.15h-1.15zM104.8 446.5h1.15v1.15h-1.15zM101.5 440.1h1.15v1.15h-1.15zM105.7 441.7h1.15v1.15h-1.15zM105.0 449.0h1.15v1.15h-1.15zM110.8 440.8h1.15v1.15h-1.15zM97.4 450.3h1.15v1.15h-1.15zM109.3 442.7h1.15v1.15h-1.15zM100.3 444.9h1.15v1.15h-1.15zM97.4 445.8h1.15v1.15h-1.15zM101.1 440.7h1.15v1.15h-1.15zM101.8 438.4h1.15v1.15h-1.15zM100.1 443.4h1.15v1.15h-1.15zM99.4 444.1h1.15v1.15h-1.15zM98.9 443.6h1.15v1.15h-1.15zM94.9 446.3h1.15v1.15h-1.15zM99.2 439.1h1.15v1.15h-1.15zM104.3 441.4h1.15v1.15h-1.15zM103.7 440.1h1.15v1.15h-1.15zM105.3 441.4h1.15v1.15h-1.15zM101.1 436.1h1.15v1.15h-1.15zM101.5 444.8h1.15v1.15h-1.15zM107.4 443.1h1.15v1.15h-1.15zM108.8 445.5h1.15v1.15h-1.15zM109.7 440.5h1.15v1.15h-1.15zM103.5 442.9h1.15v1.15h-1.15zM104.1 443.7h1.15v1.15h-1.15zM104.5 445.3h1.15v1.15h-1.15zM100.8 435.6h1.15v1.15h-1.15zM106.3 442.8h1.15v1.15h-1.15zM102.5 443.8h1.15v1.15h-1.15zM98.7 442.4h1.15v1.15h-1.15zM104.2 440.7h1.15v1.15h-1.15zM89.2 435.7h1.15v1.15h-1.15zM105.8 438.4h1.15v1.15h-1.15zM102.3 439.6h1.15v1.15h-1.15zM105.4 441.2h1.15v1.15h-1.15zM109.6 444.8h1.15v1.15h-1.15zM104.0 441.1h1.15v1.15h-1.15zM100.4 447.0h1.15v1.15h-1.15zM100.2 439.6h1.15v1.15h-1.15zM99.2 443.6h1.15v1.15h-1.15zM109.9 441.9h1.15v1.15h-1.15zM101.5 442.4h1.15v1.15h-1.15zM98.9 446.3h1.15v1.15h-1.15zM104.4 448.0h1.15v1.15h-1.15zM106.5 443.2h1.15v1.15h-1.15zM98.5 444.4h1.15v1.15h-1.15zM105.9 441.2h1.15v1.15h-1.15zM100.3 440.6h1.15v1.15h-1.15zM99.4 439.3h1.15v1.15h-1.15zM103.5 445.8h1.15v1.15h-1.15zM104.3 438.3h1.15v1.15h-1.15zM111.0 446.9h1.15v1.15h-1.15zM97.5 435.0h1.15v1.15h-1.15zM101.1 438.8h1.15v1.15h-1.15zM106.0 436.9h1.15v1.15h-1.15zM100.2 433.3h1.15v1.15h-1.15zM104.6 448.2h1.15v1.15h-1.15zM101.1 443.5h1.15v1.15h-1.15zM98.6 443.9h1.15v1.15h-1.15zM103.0 433.9h1.15v1.15h-1.15zM101.6 440.2h1.15v1.15h-1.15zM91.7 441.9h1.15v1.15h-1.15zM97.9 445.8h1.15v1.15h-1.15zM103.4 437.0h1.15v1.15h-1.15zM109.6 445.6h1.15v1.15h-1.15zM98.5 442.2h1.15v1.15h-1.15zM94.4 436.6h1.15v1.15h-1.15zM101.0 448.6h1.15v1.15h-1.15zM99.3 429.8h1.15v1.15h-1.15zM95.9 445.6h1.15v1.15h-1.15zM107.8 437.6h1.15v1.15h-1.15zM100.4 445.2h1.15v1.15h-1.15zM105.8 443.0h1.15v1.15h-1.15zM99.5 451.4h1.15v1.15h-1.15zM93.7 443.1h1.15v1.15h-1.15zM107.0 437.3h1.15v1.15h-1.15zM102.0 443.7h1.15v1.15h-1.15zM104.0 448.9h1.15v1.15h-1.15zM98.5 446.0h1.15v1.15h-1.15zM100.0 439.7h1.15v1.15h-1.15zM101.6 436.1h1.15v1.15h-1.15zM104.2 442.8h1.15v1.15h-1.15zM101.5 440.5h1.15v1.15h-1.15zM100.4 444.0h1.15v1.15h-1.15zM101.1 439.1h1.15v1.15h-1.15zM95.6 442.5h1.15v1.15h-1.15zM106.4 438.8h1.15v1.15h-1.15zM102.9 440.0h1.15v1.15h-1.15zM102.6 438.2h1.15v1.15h-1.15zM90.0 437.0h1.15v1.15h-1.15zM100.4 438.8h1.15v1.15h-1.15zM101.4 440.7h1.15v1.15h-1.15zM94.7 444.5h1.15v1.15h-1.15zM104.3 446.0h1.15v1.15h-1.15zM106.5 449.9h1.15v1.15h-1.15zM102.4 448.7h1.15v1.15h-1.15zM105.0 443.1h1.15v1.15h-1.15zM106.8 438.8h1.15v1.15h-1.15zM91.3 442.9h1.15v1.15h-1.15zM99.8 440.2h1.15v1.15h-1.15zM96.9 443.6h1.15v1.15h-1.15zM106.0 442.0h1.15v1.15h-1.15zM101.3 439.5h1.15v1.15h-1.15zM96.3 444.8h1.15v1.15h-1.15zM98.2 441.2h1.15v1.15h-1.15zM110.4 446.3h1.15v1.15h-1.15zM105.9 440.8h1.15v1.15h-1.15zM103.0 445.3h1.15v1.15h-1.15zM109.2 446.5h1.15v1.15h-1.15zM110.0 447.1h1.15v1.15h-1.15zM109.9 447.2h1.15v1.15h-1.15zM103.7 435.5h1.15v1.15h-1.15zM100.3 443.9h1.15v1.15h-1.15zM100.1 446.8h1.15v1.15h-1.15zM101.4 442.4h1.15v1.15h-1.15zM98.4 448.1h1.15v1.15h-1.15zM101.5 438.2h1.15v1.15h-1.15zM102.2 445.2h1.15v1.15h-1.15zM97.6 450.1h1.15v1.15h-1.15zM101.0 441.1h1.15v1.15h-1.15zM94.4 445.2h1.15v1.15h-1.15zM109.0 440.8h1.15v1.15h-1.15zM99.6 443.0h1.15v1.15h-1.15zM102.5 442.6h1.15v1.15h-1.15zM109.1 441.9h1.15v1.15h-1.15zM94.7 434.3h1.15v1.15h-1.15zM109.4 443.0h1.15v1.15h-1.15zM104.2 438.1h1.15v1.15h-1.15zM102.9 440.5h1.15v1.15h-1.15zM93.1 441.0h1.15v1.15h-1.15zM97.6 437.9h1.15v1.15h-1.15zM99.7 436.2h1.15v1.15h-1.15zM99.9 446.0h1.15v1.15h-1.15zM108.7 444.1h1.15v1.15h-1.15zM94.4 443.8h1.15v1.15h-1.15zM103.4 441.2h1.15v1.15h-1.15zM93.4 433.8h1.15v1.15h-1.15zM94.6 438.4h1.15v1.15h-1.15zM103.0 437.6h1.15v1.15h-1.15zM102.2 435.7h1.15v1.15h-1.15zM106.9 438.2h1.15v1.15h-1.15zM108.0 440.4h1.15v1.15h-1.15zM101.1 432.6h1.15v1.15h-1.15zM101.0 436.2h1.15v1.15h-1.15zM94.6 432.3h1.15v1.15h-1.15zM90.4 445.6h1.15v1.15h-1.15zM102.7 443.5h1.15v1.15h-1.15zM108.8 439.5h1.15v1.15h-1.15zM108.0 440.8h1.15v1.15h-1.15zM100.9 438.3h1.15v1.15h-1.15zM99.0 441.1h1.15v1.15h-1.15zM108.1 439.2h1.15v1.15h-1.15zM99.3 440.8h1.15v1.15h-1.15zM99.9 449.7h1.15v1.15h-1.15zM104.8 450.6h1.15v1.15h-1.15zM96.9 448.3h1.15v1.15h-1.15zM101.4 436.4h1.15v1.15h-1.15zM99.3 431.1h1.15v1.15h-1.15zM99.2 445.7h1.15v1.15h-1.15zM100.6 442.8h1.15v1.15h-1.15zM106.9 434.3h1.15v1.15h-1.15zM105.4 446.5h1.15v1.15h-1.15zM98.7 445.8h1.15v1.15h-1.15zM104.3 444.9h1.15v1.15h-1.15zM105.6 443.9h1.15v1.15h-1.15zM95.5 438.7h1.15v1.15h-1.15zM102.1 449.1h1.15v1.15h-1.15zM97.8 439.8h1.15v1.15h-1.15zM101.7 439.3h1.15v1.15h-1.15zM97.5 437.8h1.15v1.15h-1.15zM104.2 440.8h1.15v1.15h-1.15zM104.0 438.2h1.15v1.15h-1.15zM97.2 434.7h1.15v1.15h-1.15zM104.8 438.6h1.15v1.15h-1.15zM101.6 440.6h1.15v1.15h-1.15zM107.3 438.1h1.15v1.15h-1.15zM96.1 441.1h1.15v1.15h-1.15zM97.4 441.8h1.15v1.15h-1.15zM95.7 441.1h1.15v1.15h-1.15zM103.9 435.3h1.15v1.15h-1.15zM95.4 448.7h1.15v1.15h-1.15zM99.1 443.7h1.15v1.15h-1.15zM96.2 441.3h1.15v1.15h-1.15zM105.4 443.4h1.15v1.15h-1.15zM98.9 435.8h1.15v1.15h-1.15zM102.2 443.3h1.15v1.15h-1.15zM101.8 443.6h1.15v1.15h-1.15zM109.2 441.6h1.15v1.15h-1.15zM99.7 447.8h1.15v1.15h-1.15zM112.9 445.1h1.15v1.15h-1.15zM108.6 433.7h1.15v1.15h-1.15zM96.9 441.0h1.15v1.15h-1.15zM99.6 442.0h1.15v1.15h-1.15zM94.5 451.1h1.15v1.15h-1.15zM104.4 439.9h1.15v1.15h-1.15zM106.5 435.8h1.15v1.15h-1.15zM100.7 439.8h1.15v1.15h-1.15zM100.9 444.4h1.15v1.15h-1.15zM97.2 445.3h1.15v1.15h-1.15zM104.7 442.9h1.15v1.15h-1.15zM106.0 439.8h1.15v1.15h-1.15zM94.2 443.1h1.15v1.15h-1.15zM104.7 447.1h1.15v1.15h-1.15zM100.4 443.5h1.15v1.15h-1.15zM107.3 441.2h1.15v1.15h-1.15zM103.4 440.1h1.15v1.15h-1.15zM99.8 445.3h1.15v1.15h-1.15zM106.8 442.8h1.15v1.15h-1.15zM101.2 441.2h1.15v1.15h-1.15zM99.1 441.9h1.15v1.15h-1.15zM101.9 448.1h1.15v1.15h-1.15zM102.5 441.8h1.15v1.15h-1.15zM101.2 442.0h1.15v1.15h-1.15zM102.7 438.0h1.15v1.15h-1.15zM103.8 444.0h1.15v1.15h-1.15zM109.3 446.0h1.15v1.15h-1.15zM105.5 445.1h1.15v1.15h-1.15zM106.7 443.2h1.15v1.15h-1.15zM103.8 444.6h1.15v1.15h-1.15zM101.4 435.2h1.15v1.15h-1.15zM103.6 446.6h1.15v1.15h-1.15zM101.6 446.0h1.15v1.15h-1.15zM106.1 438.9h1.15v1.15h-1.15zM96.1 435.2h1.15v1.15h-1.15zM107.1 446.2h1.15v1.15h-1.15zM103.8 431.9h1.15v1.15h-1.15zM98.9 441.8h1.15v1.15h-1.15zM98.3 436.9h1.15v1.15h-1.15zM105.7 440.1h1.15v1.15h-1.15zM102.7 445.9h1.15v1.15h-1.15zM101.4 442.8h1.15v1.15h-1.15zM103.6 450.6h1.15v1.15h-1.15zM102.5 444.7h1.15v1.15h-1.15zM106.1 448.1h1.15v1.15h-1.15zM99.0 438.2h1.15v1.15h-1.15zM99.6 437.6h1.15v1.15h-1.15zM94.4 442.0h1.15v1.15h-1.15zM104.7 436.3h1.15v1.15h-1.15zM104.8 445.6h1.15v1.15h-1.15zM97.8 440.5h1.15v1.15h-1.15zM108.8 442.4h1.15v1.15h-1.15zM103.3 446.8h1.15v1.15h-1.15zM101.9 437.0h1.15v1.15h-1.15zM99.2 438.6h1.15v1.15h-1.15zM100.6 442.6h1.15v1.15h-1.15zM107.4 437.0h1.15v1.15h-1.15zM104.6 445.3h1.15v1.15h-1.15zM99.0 441.1h1.15v1.15h-1.15zM100.0 439.8h1.15v1.15h-1.15zM101.7 442.1h1.15v1.15h-1.15zM104.4 439.3h1.15v1.15h-1.15zM103.4 444.5h1.15v1.15h-1.15zM100.1 440.6h1.15v1.15h-1.15zM103.2 436.1h1.15v1.15h-1.15zM107.4 432.5h1.15v1.15h-1.15zM98.9 436.6h1.15v1.15h-1.15zM97.3 433.9h1.15v1.15h-1.15zM105.4 439.0h1.15v1.15h-1.15zM102.4 442.4h1.15v1.15h-1.15zM109.5 443.7h1.15v1.15h-1.15zM102.6 436.7h1.15v1.15h-1.15zM96.7 435.1h1.15v1.15h-1.15zM103.0 436.2h1.15v1.15h-1.15zM104.5 445.5h1.15v1.15h-1.15zM102.7 446.8h1.15v1.15h-1.15zM100.6 438.0h1.15v1.15h-1.15zM106.9 446.0h1.15v1.15h-1.15zM100.9 434.3h1.15v1.15h-1.15zM105.8 443.0h1.15v1.15h-1.15zM99.0 439.4h1.15v1.15h-1.15zM98.3 436.5h1.15v1.15h-1.15zM108.1 435.0h1.15v1.15h-1.15zM109.2 432.6h1.15v1.15h-1.15zM102.4 444.2h1.15v1.15h-1.15zM104.9 449.5h1.15v1.15h-1.15zM103.5 445.0h1.15v1.15h-1.15zM98.3 430.1h1.15v1.15h-1.15zM104.2 438.4h1.15v1.15h-1.15zM104.1 447.5h1.15v1.15h-1.15zM109.3 442.9h1.15v1.15h-1.15zM96.4 440.1h1.15v1.15h-1.15zM93.1 440.2h1.15v1.15h-1.15zM99.7 436.0h1.15v1.15h-1.15zM94.3 436.7h1.15v1.15h-1.15zM102.3 439.5h1.15v1.15h-1.15zM99.3 442.2h1.15v1.15h-1.15zM108.3 443.3h1.15v1.15h-1.15zM101.5 438.6h1.15v1.15h-1.15zM97.0 443.7h1.15v1.15h-1.15zM102.2 439.0h1.15v1.15h-1.15zM108.1 444.0h1.15v1.15h-1.15zM104.8 436.0h1.15v1.15h-1.15zM96.4 449.4h1.15v1.15h-1.15zM101.4 443.2h1.15v1.15h-1.15zM107.0 436.9h1.15v1.15h-1.15zM98.1 437.7h1.15v1.15h-1.15zM99.1 441.7h1.15v1.15h-1.15zM108.3 445.8h1.15v1.15h-1.15zM96.7 435.3h1.15v1.15h-1.15zM92.1 441.1h1.15v1.15h-1.15zM107.5 444.1h1.15v1.15h-1.15zM95.8 446.3h1.15v1.15h-1.15zM101.6 442.4h1.15v1.15h-1.15zM98.8 431.6h1.15v1.15h-1.15zM109.5 436.0h1.15v1.15h-1.15zM103.2 434.3h1.15v1.15h-1.15zM96.6 432.4h1.15v1.15h-1.15zM104.2 440.0h1.15v1.15h-1.15zM97.2 438.5h1.15v1.15h-1.15zM99.1 445.9h1.15v1.15h-1.15zM103.3 444.7h1.15v1.15h-1.15zM102.7 447.5h1.15v1.15h-1.15zM91.6 442.0h1.15v1.15h-1.15zM104.2 438.4h1.15v1.15h-1.15zM105.5 446.1h1.15v1.15h-1.15zM107.9 444.1h1.15v1.15h-1.15zM106.3 440.3h1.15v1.15h-1.15zM108.0 444.9h1.15v1.15h-1.15zM105.1 441.7h1.15v1.15h-1.15zM100.9 441.8h1.15v1.15h-1.15zM103.2 444.5h1.15v1.15h-1.15zM95.8 441.7h1.15v1.15h-1.15zM111.2 443.5h1.15v1.15h-1.15zM106.2 440.5h1.15v1.15h-1.15zM95.5 442.4h1.15v1.15h-1.15zM102.2 445.4h1.15v1.15h-1.15zM111.5 444.1h1.15v1.15h-1.15zM99.3 447.0h1.15v1.15h-1.15zM103.5 444.1h1.15v1.15h-1.15zM110.6 447.7h1.15v1.15h-1.15zM97.8 442.5h1.15v1.15h-1.15zM93.9 443.3h1.15v1.15h-1.15zM97.8 441.1h1.15v1.15h-1.15zM100.9 439.6h1.15v1.15h-1.15zM97.0 448.7h1.15v1.15h-1.15zM100.8 434.8h1.15v1.15h-1.15zM103.7 436.1h1.15v1.15h-1.15zM98.4 444.3h1.15v1.15h-1.15zM101.8 440.9h1.15v1.15h-1.15zM108.6 446.4h1.15v1.15h-1.15zM98.4 441.5h1.15v1.15h-1.15zM95.2 443.2h1.15v1.15h-1.15zM104.3 434.9h1.15v1.15h-1.15zM97.9 435.4h1.15v1.15h-1.15zM105.0 439.3h1.15v1.15h-1.15zM105.0 443.4h1.15v1.15h-1.15zM105.7 439.4h1.15v1.15h-1.15zM100.6 441.7h1.15v1.15h-1.15zM101.4 440.7h1.15v1.15h-1.15zM97.5 444.5h1.15v1.15h-1.15zM100.2 447.7h1.15v1.15h-1.15zM102.7 435.5h1.15v1.15h-1.15zM107.4 438.9h1.15v1.15h-1.15zM97.4 437.7h1.15v1.15h-1.15zM95.8 439.9h1.15v1.15h-1.15zM104.2 438.0h1.15v1.15h-1.15zM96.8 443.6h1.15v1.15h-1.15zM102.4 439.5h1.15v1.15h-1.15zM102.4 436.9h1.15v1.15h-1.15zM100.9 439.2h1.15v1.15h-1.15zM108.8 441.1h1.15v1.15h-1.15zM99.9 430.1h1.15v1.15h-1.15zM93.5 431.4h1.15v1.15h-1.15zM93.5 441.5h1.15v1.15h-1.15zM104.8 439.7h1.15v1.15h-1.15zM104.5 443.0h1.15v1.15h-1.15zM104.5 433.3h1.15v1.15h-1.15zM101.5 441.4h1.15v1.15h-1.15zM100.3 441.8h1.15v1.15h-1.15zM95.2 441.1h1.15v1.15h-1.15zM102.1 442.7h1.15v1.15h-1.15zM99.7 441.1h1.15v1.15h-1.15zM105.4 444.2h1.15v1.15h-1.15zM91.2 448.4h1.15v1.15h-1.15zM97.2 443.9h1.15v1.15h-1.15zM97.4 444.2h1.15v1.15h-1.15zM102.7 442.6h1.15v1.15h-1.15zM103.3 443.7h1.15v1.15h-1.15zM104.6 444.6h1.15v1.15h-1.15zM102.8 443.2h1.15v1.15h-1.15zM99.0 432.8h1.15v1.15h-1.15zM101.1 448.1h1.15v1.15h-1.15zM102.3 440.2h1.15v1.15h-1.15zM101.3 447.1h1.15v1.15h-1.15zM96.5 450.0h1.15v1.15h-1.15zM108.4 435.8h1.15v1.15h-1.15zM98.6 441.5h1.15v1.15h-1.15zM102.7 439.3h1.15v1.15h-1.15zM94.8 441.7h1.15v1.15h-1.15zM102.7 437.9h1.15v1.15h-1.15zM99.9 436.4h1.15v1.15h-1.15zM109.1 439.2h1.15v1.15h-1.15zM100.7 439.0h1.15v1.15h-1.15zM94.8 431.5h1.15v1.15h-1.15zM97.0 435.0h1.15v1.15h-1.15zM102.6 444.6h1.15v1.15h-1.15zM102.9 439.8h1.15v1.15h-1.15zM106.1 439.1h1.15v1.15h-1.15zM101.4 440.7h1.15v1.15h-1.15zM100.2 441.1h1.15v1.15h-1.15zM107.6 445.0h1.15v1.15h-1.15zM102.2 443.7h1.15v1.15h-1.15zM94.8 439.4h1.15v1.15h-1.15zM103.5 441.2h1.15v1.15h-1.15zM92.5 445.1h1.15v1.15h-1.15zM103.9 434.9h1.15v1.15h-1.15zM99.6 443.5h1.15v1.15h-1.15zM109.6 435.2h1.15v1.15h-1.15zM96.5 447.4h1.15v1.15h-1.15zM99.4 439.5h1.15v1.15h-1.15zM98.3 440.6h1.15v1.15h-1.15zM105.9 443.3h1.15v1.15h-1.15zM96.0 439.6h1.15v1.15h-1.15zM111.2 429.3h1.15v1.15h-1.15zM100.3 437.2h1.15v1.15h-1.15zM95.6 433.7h1.15v1.15h-1.15zM113.1 434.8h1.15v1.15h-1.15zM102.5 436.9h1.15v1.15h-1.15zM104.7 443.0h1.15v1.15h-1.15zM105.5 435.1h1.15v1.15h-1.15zM105.4 442.8h1.15v1.15h-1.15zM104.1 438.2h1.15v1.15h-1.15zM97.6 441.8h1.15v1.15h-1.15zM101.0 433.6h1.15v1.15h-1.15zM104.6 441.3h1.15v1.15h-1.15zM97.4 436.9h1.15v1.15h-1.15zM101.1 443.0h1.15v1.15h-1.15zM101.7 442.4h1.15v1.15h-1.15zM110.6 442.5h1.15v1.15h-1.15zM105.0 435.0h1.15v1.15h-1.15zM99.1 439.0h1.15v1.15h-1.15zM98.5 440.8h1.15v1.15h-1.15zM102.2 442.4h1.15v1.15h-1.15zM97.4 440.4h1.15v1.15h-1.15zM104.6 438.8h1.15v1.15h-1.15zM101.7 440.3h1.15v1.15h-1.15zM103.5 443.1h1.15v1.15h-1.15zM106.7 440.2h1.15v1.15h-1.15zM103.5 442.2h1.15v1.15h-1.15zM100.5 438.1h1.15v1.15h-1.15zM103.6 444.6h1.15v1.15h-1.15zM102.9 435.1h1.15v1.15h-1.15zM104.1 441.0h1.15v1.15h-1.15zM106.0 446.1h1.15v1.15h-1.15zM97.9 438.4h1.15v1.15h-1.15zM102.6 443.4h1.15v1.15h-1.15zM91.5 441.7h1.15v1.15h-1.15zM110.4 437.8h1.15v1.15h-1.15zM105.3 444.4h1.15v1.15h-1.15zM102.1 441.4h1.15v1.15h-1.15zM104.6 446.1h1.15v1.15h-1.15zM91.8 438.0h1.15v1.15h-1.15zM109.0 439.4h1.15v1.15h-1.15zM107.2 444.4h1.15v1.15h-1.15zM110.9 435.5h1.15v1.15h-1.15zM101.0 442.6h1.15v1.15h-1.15zM96.3 434.4h1.15v1.15h-1.15zM102.0 435.6h1.15v1.15h-1.15zM102.5 440.5h1.15v1.15h-1.15zM104.1 443.1h1.15v1.15h-1.15zM113.4 440.5h1.15v1.15h-1.15zM101.1 443.4h1.15v1.15h-1.15zM107.1 428.3h1.15v1.15h-1.15zM100.6 442.6h1.15v1.15h-1.15zM100.6 445.4h1.15v1.15h-1.15zM89.5 440.9h1.15v1.15h-1.15zM90.5 436.8h1.15v1.15h-1.15zM105.9 438.1h1.15v1.15h-1.15zM94.2 439.5h1.15v1.15h-1.15zM93.4 437.2h1.15v1.15h-1.15zM108.4 432.2h1.15v1.15h-1.15zM95.0 438.5h1.15v1.15h-1.15zM107.2 445.9h1.15v1.15h-1.15zM95.8 440.4h1.15v1.15h-1.15zM99.2 443.3h1.15v1.15h-1.15zM104.9 440.6h1.15v1.15h-1.15zM100.7 440.0h1.15v1.15h-1.15zM99.7 442.4h1.15v1.15h-1.15zM105.0 434.7h1.15v1.15h-1.15zM99.5 444.1h1.15v1.15h-1.15zM100.5 448.5h1.15v1.15h-1.15zM106.2 433.1h1.15v1.15h-1.15zM96.2 440.7h1.15v1.15h-1.15zM99.3 439.2h1.15v1.15h-1.15zM104.0 437.8h1.15v1.15h-1.15zM102.7 447.1h1.15v1.15h-1.15zM94.3 447.8h1.15v1.15h-1.15zM118.7 445.3h1.15v1.15h-1.15zM100.6 448.5h1.15v1.15h-1.15zM93.9 440.8h1.15v1.15h-1.15zM97.3 436.2h1.15v1.15h-1.15zM96.0 438.6h1.15v1.15h-1.15zM105.9 443.3h1.15v1.15h-1.15zM103.0 442.2h1.15v1.15h-1.15zM97.9 439.9h1.15v1.15h-1.15zM97.0 440.3h1.15v1.15h-1.15zM98.0 446.7h1.15v1.15h-1.15zM105.1 441.1h1.15v1.15h-1.15zM104.6 436.3h1.15v1.15h-1.15zM102.8 446.3h1.15v1.15h-1.15zM97.2 436.9h1.15v1.15h-1.15zM103.5 439.4h1.15v1.15h-1.15zM100.2 439.5h1.15v1.15h-1.15zM107.4 446.6h1.15v1.15h-1.15zM99.3 444.0h1.15v1.15h-1.15zM113.0 442.1h1.15v1.15h-1.15zM98.5 440.4h1.15v1.15h-1.15zM102.5 441.4h1.15v1.15h-1.15zM98.5 444.4h1.15v1.15h-1.15zM95.3 442.1h1.15v1.15h-1.15zM95.9 441.3h1.15v1.15h-1.15zM102.8 440.6h1.15v1.15h-1.15zM101.2 433.8h1.15v1.15h-1.15zM100.7 444.1h1.15v1.15h-1.15zM105.3 438.8h1.15v1.15h-1.15zM100.9 443.0h1.15v1.15h-1.15zM107.5 442.3h1.15v1.15h-1.15zM103.9 443.0h1.15v1.15h-1.15zM112.0 442.9h1.15v1.15h-1.15zM100.3 437.2h1.15v1.15h-1.15zM99.5 444.4h1.15v1.15h-1.15zM102.3 440.7h1.15v1.15h-1.15zM100.9 444.6h1.15v1.15h-1.15zM100.6 435.2h1.15v1.15h-1.15zM110.6 442.7h1.15v1.15h-1.15zM103.4 437.5h1.15v1.15h-1.15zM102.3 438.8h1.15v1.15h-1.15zM107.0 445.4h1.15v1.15h-1.15zM100.2 445.2h1.15v1.15h-1.15zM102.8 444.0h1.15v1.15h-1.15zM97.8 444.2h1.15v1.15h-1.15zM102.9 441.8h1.15v1.15h-1.15zM105.7 438.5h1.15v1.15h-1.15zM107.7 440.9h1.15v1.15h-1.15zM100.3 446.1h1.15v1.15h-1.15zM108.2 446.6h1.15v1.15h-1.15zM96.0 444.1h1.15v1.15h-1.15zM107.8 446.9h1.15v1.15h-1.15zM104.7 442.7h1.15v1.15h-1.15zM110.1 443.9h1.15v1.15h-1.15zM97.4 439.6h1.15v1.15h-1.15zM90.9 446.1h1.15v1.15h-1.15zM97.6 438.2h1.15v1.15h-1.15zM98.8 440.2h1.15v1.15h-1.15zM99.3 439.4h1.15v1.15h-1.15zM102.1 446.5h1.15v1.15h-1.15zM105.3 438.6h1.15v1.15h-1.15zM103.0 444.6h1.15v1.15h-1.15zM100.4 436.4h1.15v1.15h-1.15zM100.3 446.7h1.15v1.15h-1.15zM114.7 441.7h1.15v1.15h-1.15zM92.1 438.3h1.15v1.15h-1.15zM111.0 449.9h1.15v1.15h-1.15zM95.9 442.3h1.15v1.15h-1.15zM104.0 442.8h1.15v1.15h-1.15zM102.6 440.8h1.15v1.15h-1.15zM100.2 437.3h1.15v1.15h-1.15zM102.5 441.0h1.15v1.15h-1.15zM100.2 439.2h1.15v1.15h-1.15zM90.5 439.9h1.15v1.15h-1.15zM106.0 441.0h1.15v1.15h-1.15zM97.8 449.4h1.15v1.15h-1.15zM89.2 442.0h1.15v1.15h-1.15zM106.6 444.5h1.15v1.15h-1.15zM106.2 432.2h1.15v1.15h-1.15zM109.1 439.3h1.15v1.15h-1.15zM87.7 444.2h1.15v1.15h-1.15zM93.8 436.5h1.15v1.15h-1.15zM106.1 444.2h1.15v1.15h-1.15zM104.3 451.8h1.15v1.15h-1.15zM95.6 443.5h1.15v1.15h-1.15zM106.3 436.3h1.15v1.15h-1.15zM105.1 438.4h1.15v1.15h-1.15zM99.7 444.6h1.15v1.15h-1.15zM98.2 442.3h1.15v1.15h-1.15zM94.5 446.3h1.15v1.15h-1.15zM100.9 434.9h1.15v1.15h-1.15zM97.5 441.4h1.15v1.15h-1.15zM103.0 443.8h1.15v1.15h-1.15zM95.2 441.2h1.15v1.15h-1.15zM93.5 443.9h1.15v1.15h-1.15zM110.4 434.6h1.15v1.15h-1.15zM93.3 433.1h1.15v1.15h-1.15zM98.5 443.6h1.15v1.15h-1.15zM102.5 435.2h1.15v1.15h-1.15zM99.4 439.9h1.15v1.15h-1.15zM102.7 442.5h1.15v1.15h-1.15zM100.5 443.6h1.15v1.15h-1.15zM99.5 439.6h1.15v1.15h-1.15zM95.8 441.5h1.15v1.15h-1.15zM105.6 441.5h1.15v1.15h-1.15zM107.1 440.3h1.15v1.15h-1.15zM107.2 440.8h1.15v1.15h-1.15zM103.8 440.1h1.15v1.15h-1.15zM98.3 445.4h1.15v1.15h-1.15zM100.1 440.7h1.15v1.15h-1.15zM108.7 444.6h1.15v1.15h-1.15zM99.1 440.8h1.15v1.15h-1.15zM97.6 444.8h1.15v1.15h-1.15zM101.5 441.6h1.15v1.15h-1.15zM101.7 435.4h1.15v1.15h-1.15zM99.9 440.2h1.15v1.15h-1.15zM106.1 437.8h1.15v1.15h-1.15zM103.9 443.2h1.15v1.15h-1.15zM106.8 440.7h1.15v1.15h-1.15zM100.7 443.6h1.15v1.15h-1.15zM99.2 438.2h1.15v1.15h-1.15zM102.1 439.2h1.15v1.15h-1.15zM97.5 437.4h1.15v1.15h-1.15zM99.3 439.4h1.15v1.15h-1.15zM101.5 445.7h1.15v1.15h-1.15zM101.1 437.1h1.15v1.15h-1.15zM109.2 439.1h1.15v1.15h-1.15zM109.3 439.3h1.15v1.15h-1.15zM102.6 438.1h1.15v1.15h-1.15zM100.0 445.1h1.15v1.15h-1.15zM114.6 445.7h1.15v1.15h-1.15zM99.6 443.5h1.15v1.15h-1.15zM95.3 440.5h1.15v1.15h-1.15zM103.8 438.8h1.15v1.15h-1.15zM100.2 441.4h1.15v1.15h-1.15zM95.6 442.6h1.15v1.15h-1.15zM109.3 446.0h1.15v1.15h-1.15zM100.6 445.8h1.15v1.15h-1.15zM100.7 446.0h1.15v1.15h-1.15zM102.1 435.4h1.15v1.15h-1.15zM109.6 430.4h1.15v1.15h-1.15zM100.0 443.4h1.15v1.15h-1.15zM105.4 442.6h1.15v1.15h-1.15zM101.7 440.9h1.15v1.15h-1.15zM100.5 442.0h1.15v1.15h-1.15zM106.3 444.0h1.15v1.15h-1.15zM100.0 447.9h1.15v1.15h-1.15zM101.8 440.4h1.15v1.15h-1.15zM99.3 448.9h1.15v1.15h-1.15zM97.7 448.6h1.15v1.15h-1.15zM98.3 434.8h1.15v1.15h-1.15zM99.6 445.6h1.15v1.15h-1.15zM106.1 438.8h1.15v1.15h-1.15zM104.8 440.5h1.15v1.15h-1.15zM103.3 443.9h1.15v1.15h-1.15zM94.5 446.3h1.15v1.15h-1.15zM101.9 446.5h1.15v1.15h-1.15zM102.4 446.7h1.15v1.15h-1.15zM111.5 439.0h1.15v1.15h-1.15zM106.6 440.5h1.15v1.15h-1.15zM128.6 448.7h1.15v1.15h-1.15zM107.4 445.4h1.15v1.15h-1.15zM123.4 436.4h1.15v1.15h-1.15zM121.3 442.7h1.15v1.15h-1.15zM111.6 441.8h1.15v1.15h-1.15zM108.2 447.9h1.15v1.15h-1.15zM116.9 440.6h1.15v1.15h-1.15zM103.9 446.9h1.15v1.15h-1.15zM118.0 438.1h1.15v1.15h-1.15zM110.9 442.6h1.15v1.15h-1.15zM102.2 446.0h1.15v1.15h-1.15zM107.3 446.4h1.15v1.15h-1.15zM92.0 446.8h1.15v1.15h-1.15zM114.4 439.6h1.15v1.15h-1.15zM128.2 436.6h1.15v1.15h-1.15zM115.3 445.4h1.15v1.15h-1.15zM108.5 445.2h1.15v1.15h-1.15zM121.2 433.5h1.15v1.15h-1.15zM113.6 447.6h1.15v1.15h-1.15zM106.5 445.8h1.15v1.15h-1.15zM104.1 441.5h1.15v1.15h-1.15zM110.3 439.0h1.15v1.15h-1.15zM99.3 445.9h1.15v1.15h-1.15zM109.2 436.5h1.15v1.15h-1.15zM110.1 438.8h1.15v1.15h-1.15zM113.3 438.3h1.15v1.15h-1.15zM95.4 442.5h1.15v1.15h-1.15zM97.0 449.2h1.15v1.15h-1.15zM124.8 447.6h1.15v1.15h-1.15zM108.7 446.7h1.15v1.15h-1.15zM119.5 442.2h1.15v1.15h-1.15zM103.8 436.8h1.15v1.15h-1.15zM105.8 443.2h1.15v1.15h-1.15zM103.4 443.4h1.15v1.15h-1.15zM99.1 441.9h1.15v1.15h-1.15zM110.4 448.2h1.15v1.15h-1.15zM95.4 446.5h1.15v1.15h-1.15zM95.9 448.3h1.15v1.15h-1.15zM113.5 446.2h1.15v1.15h-1.15zM109.2 444.0h1.15v1.15h-1.15zM107.0 442.8h1.15v1.15h-1.15zM108.9 445.5h1.15v1.15h-1.15zM108.9 448.1h1.15v1.15h-1.15zM105.8 438.0h1.15v1.15h-1.15zM134.5 448.8h1.15v1.15h-1.15zM102.3 439.3h1.15v1.15h-1.15zM91.4 443.8h1.15v1.15h-1.15zM107.5 438.1h1.15v1.15h-1.15zM117.9 449.8h1.15v1.15h-1.15zM104.6 439.4h1.15v1.15h-1.15zM112.2 443.1h1.15v1.15h-1.15zM94.1 444.6h1.15v1.15h-1.15zM107.2 442.8h1.15v1.15h-1.15zM112.2 445.4h1.15v1.15h-1.15zM87.0 431.3h1.15v1.15h-1.15zM100.2 444.5h1.15v1.15h-1.15zM113.5 439.5h1.15v1.15h-1.15zM114.3 448.0h1.15v1.15h-1.15zM128.3 444.0h1.15v1.15h-1.15zM98.8 444.7h1.15v1.15h-1.15zM115.1 437.7h1.15v1.15h-1.15zM115.9 446.2h1.15v1.15h-1.15zM82.9 447.2h1.15v1.15h-1.15zM110.2 434.1h1.15v1.15h-1.15zM123.9 435.5h1.15v1.15h-1.15zM111.2 446.9h1.15v1.15h-1.15zM97.2 437.2h1.15v1.15h-1.15zM119.1 433.0h1.15v1.15h-1.15zM82.7 442.2h1.15v1.15h-1.15zM131.6 433.0h1.15v1.15h-1.15zM108.7 439.5h1.15v1.15h-1.15zM97.0 445.4h1.15v1.15h-1.15zM103.8 442.8h1.15v1.15h-1.15zM118.4 445.5h1.15v1.15h-1.15zM101.2 444.4h1.15v1.15h-1.15zM102.8 440.4h1.15v1.15h-1.15zM116.0 442.5h1.15v1.15h-1.15zM95.1 448.9h1.15v1.15h-1.15zM94.5 439.0h1.15v1.15h-1.15zM115.1 435.4h1.15v1.15h-1.15zM120.0 442.8h1.15v1.15h-1.15zM113.0 444.1h1.15v1.15h-1.15zM114.6 447.1h1.15v1.15h-1.15zM92.8 444.2h1.15v1.15h-1.15zM91.4 446.3h1.15v1.15h-1.15zM120.0 438.1h1.15v1.15h-1.15zM129.4 452.2h1.15v1.15h-1.15zM98.5 441.1h1.15v1.15h-1.15zM104.5 445.1h1.15v1.15h-1.15zM130.9 446.6h1.15v1.15h-1.15zM101.7 439.8h1.15v1.15h-1.15zM118.5 442.7h1.15v1.15h-1.15zM113.5 445.8h1.15v1.15h-1.15zM103.4 440.2h1.15v1.15h-1.15zM99.4 433.1h1.15v1.15h-1.15zM110.8 443.7h1.15v1.15h-1.15zM108.9 444.1h1.15v1.15h-1.15zM106.7 445.4h1.15v1.15h-1.15zM123.0 448.7h1.15v1.15h-1.15zM97.9 445.8h1.15v1.15h-1.15zM104.2 443.4h1.15v1.15h-1.15zM125.5 445.1h1.15v1.15h-1.15zM100.2 438.6h1.15v1.15h-1.15zM102.5 443.6h1.15v1.15h-1.15zM96.9 440.1h1.15v1.15h-1.15zM122.4 442.3h1.15v1.15h-1.15zM98.1 443.0h1.15v1.15h-1.15zM99.4 440.5h1.15v1.15h-1.15zM107.0 440.8h1.15v1.15h-1.15zM115.7 448.0h1.15v1.15h-1.15zM111.6 441.1h1.15v1.15h-1.15zM114.1 432.2h1.15v1.15h-1.15zM106.1 446.7h1.15v1.15h-1.15zM100.2 445.6h1.15v1.15h-1.15zM110.2 451.0h1.15v1.15h-1.15zM95.9 443.2h1.15v1.15h-1.15zM85.2 441.3h1.15v1.15h-1.15zM110.6 448.7h1.15v1.15h-1.15zM112.5 444.3h1.15v1.15h-1.15zM102.8 441.9h1.15v1.15h-1.15zM108.6 445.6h1.15v1.15h-1.15zM119.4 436.3h1.15v1.15h-1.15zM87.7 442.3h1.15v1.15h-1.15zM113.6 447.3h1.15v1.15h-1.15zM109.4 444.3h1.15v1.15h-1.15zM107.1 449.1h1.15v1.15h-1.15zM115.2 432.5h1.15v1.15h-1.15zM112.9 441.7h1.15v1.15h-1.15zM107.4 449.2h1.15v1.15h-1.15zM104.9 444.5h1.15v1.15h-1.15zM116.2 438.6h1.15v1.15h-1.15zM111.1 443.4h1.15v1.15h-1.15zM102.7 437.9h1.15v1.15h-1.15zM117.4 444.7h1.15v1.15h-1.15zM111.7 448.9h1.15v1.15h-1.15zM107.1 446.0h1.15v1.15h-1.15zM95.3 444.6h1.15v1.15h-1.15zM118.4 440.5h1.15v1.15h-1.15zM105.3 432.0h1.15v1.15h-1.15zM114.4 428.2h1.15v1.15h-1.15zM116.8 443.5h1.15v1.15h-1.15zM101.8 451.4h1.15v1.15h-1.15zM99.5 440.7h1.15v1.15h-1.15zM109.3 442.1h1.15v1.15h-1.15zM101.5 440.9h1.15v1.15h-1.15zM108.4 431.7h1.15v1.15h-1.15zM120.5 438.6h1.15v1.15h-1.15zM100.1 438.1h1.15v1.15h-1.15zM97.1 440.4h1.15v1.15h-1.15zM102.1 445.8h1.15v1.15h-1.15zM139.0 451.5h1.15v1.15h-1.15zM137.3 441.7h1.15v1.15h-1.15zM129.0 445.8h1.15v1.15h-1.15zM113.4 437.6h1.15v1.15h-1.15zM140.1 445.7h1.15v1.15h-1.15zM114.6 447.1h1.15v1.15h-1.15zM129.7 450.4h1.15v1.15h-1.15zM140.0 447.3h1.15v1.15h-1.15zM126.1 447.0h1.15v1.15h-1.15zM135.0 449.8h1.15v1.15h-1.15zM132.6 446.3h1.15v1.15h-1.15zM124.2 446.2h1.15v1.15h-1.15zM134.1 447.1h1.15v1.15h-1.15zM126.8 438.9h1.15v1.15h-1.15zM134.1 443.9h1.15v1.15h-1.15zM123.7 438.8h1.15v1.15h-1.15zM134.5 440.1h1.15v1.15h-1.15zM119.3 446.8h1.15v1.15h-1.15zM139.3 444.2h1.15v1.15h-1.15zM113.7 449.2h1.15v1.15h-1.15zM137.9 446.2h1.15v1.15h-1.15zM116.3 444.2h1.15v1.15h-1.15zM120.4 450.7h1.15v1.15h-1.15zM136.6 446.4h1.15v1.15h-1.15zM132.9 433.0h1.15v1.15h-1.15zM120.8 445.3h1.15v1.15h-1.15zM121.2 444.9h1.15v1.15h-1.15zM125.5 451.6h1.15v1.15h-1.15zM115.6 433.8h1.15v1.15h-1.15zM137.4 446.1h1.15v1.15h-1.15zM130.1 448.9h1.15v1.15h-1.15zM126.4 441.6h1.15v1.15h-1.15zM132.2 447.3h1.15v1.15h-1.15zM126.5 451.3h1.15v1.15h-1.15zM120.6 442.7h1.15v1.15h-1.15zM130.6 445.5h1.15v1.15h-1.15zM115.3 444.1h1.15v1.15h-1.15zM127.7 446.0h1.15v1.15h-1.15zM114.8 445.9h1.15v1.15h-1.15zM135.4 444.7h1.15v1.15h-1.15zM120.7 449.4h1.15v1.15h-1.15zM116.2 444.4h1.15v1.15h-1.15zM131.4 445.8h1.15v1.15h-1.15zM119.8 442.8h1.15v1.15h-1.15zM119.7 443.8h1.15v1.15h-1.15zM114.4 445.7h1.15v1.15h-1.15zM116.6 448.7h1.15v1.15h-1.15zM124.1 439.8h1.15v1.15h-1.15zM128.0 447.4h1.15v1.15h-1.15zM131.8 441.7h1.15v1.15h-1.15zM136.8 442.2h1.15v1.15h-1.15zM116.1 445.4h1.15v1.15h-1.15zM138.4 446.2h1.15v1.15h-1.15zM137.5 438.3h1.15v1.15h-1.15zM128.3 450.2h1.15v1.15h-1.15zM139.0 448.8h1.15v1.15h-1.15zM120.1 443.2h1.15v1.15h-1.15zM124.1 450.4h1.15v1.15h-1.15zM122.5 444.1h1.15v1.15h-1.15zM112.7 437.8h1.15v1.15h-1.15zM124.2 452.3h1.15v1.15h-1.15zM133.3 439.1h1.15v1.15h-1.15zM126.4 442.2h1.15v1.15h-1.15zM133.6 451.6h1.15v1.15h-1.15zM132.0 447.7h1.15v1.15h-1.15zM115.9 443.2h1.15v1.15h-1.15zM119.4 449.9h1.15v1.15h-1.15zM115.1 448.4h1.15v1.15h-1.15zM112.4 449.6h1.15v1.15h-1.15zM135.0 442.3h1.15v1.15h-1.15zM106.8 416.6h1.15v1.15h-1.15zM102.0 426.4h1.15v1.15h-1.15zM136.0 431.5h1.15v1.15h-1.15zM125.0 428.0h1.15v1.15h-1.15zM90.0 430.0h1.15v1.15h-1.15zM97.0 428.0h1.15v1.15h-1.15z" fill="#000"/><path d="M228.4 445.5h1.25v1.25h-1.25zM232.4 438.4h1.25v1.25h-1.25zM217.2 437.6h1.25v1.25h-1.25zM230.7 436.5h1.25v1.25h-1.25zM218.1 444.3h1.25v1.25h-1.25zM235.6 451.9h1.25v1.25h-1.25zM241.5 443.8h1.25v1.25h-1.25zM229.1 444.4h1.25v1.25h-1.25zM219.9 441.6h1.25v1.25h-1.25zM231.9 441.1h1.25v1.25h-1.25zM217.4 440.5h1.25v1.25h-1.25zM222.6 439.7h1.25v1.25h-1.25zM229.4 439.5h1.25v1.25h-1.25zM238.2 437.4h1.25v1.25h-1.25zM221.2 449.1h1.25v1.25h-1.25zM213.1 450.1h1.25v1.25h-1.25zM218.9 441.7h1.25v1.25h-1.25zM226.2 444.9h1.25v1.25h-1.25zM229.9 449.7h1.25v1.25h-1.25zM222.3 445.4h1.25v1.25h-1.25zM229.3 448.9h1.25v1.25h-1.25zM221.1 448.9h1.25v1.25h-1.25zM234.0 444.0h1.25v1.25h-1.25zM229.4 443.3h1.25v1.25h-1.25zM218.3 451.2h1.25v1.25h-1.25zM220.3 445.8h1.25v1.25h-1.25zM221.3 442.3h1.25v1.25h-1.25zM238.4 442.1h1.25v1.25h-1.25zM212.9 445.0h1.25v1.25h-1.25zM223.1 446.5h1.25v1.25h-1.25zM223.0 445.7h1.25v1.25h-1.25zM232.2 443.0h1.25v1.25h-1.25zM225.0 442.8h1.25v1.25h-1.25zM227.0 442.9h1.25v1.25h-1.25zM235.0 449.1h1.25v1.25h-1.25zM226.1 449.9h1.25v1.25h-1.25zM219.6 449.9h1.25v1.25h-1.25zM222.6 438.8h1.25v1.25h-1.25zM223.8 431.8h1.25v1.25h-1.25zM239.4 437.5h1.25v1.25h-1.25zM233.8 440.4h1.25v1.25h-1.25zM224.7 452.6h1.25v1.25h-1.25zM226.1 445.7h1.25v1.25h-1.25zM214.9 438.3h1.25v1.25h-1.25zM232.7 448.9h1.25v1.25h-1.25zM233.0 448.9h1.25v1.25h-1.25zM241.2 446.7h1.25v1.25h-1.25zM216.7 447.0h1.25v1.25h-1.25zM214.6 443.2h1.25v1.25h-1.25zM219.8 446.6h1.25v1.25h-1.25zM212.8 449.8h1.25v1.25h-1.25zM224.9 437.7h1.25v1.25h-1.25zM233.5 445.0h1.25v1.25h-1.25zM239.5 447.4h1.25v1.25h-1.25zM220.8 444.9h1.25v1.25h-1.25zM218.0 444.8h1.25v1.25h-1.25zM232.8 446.9h1.25v1.25h-1.25zM213.1 439.3h1.25v1.25h-1.25zM233.6 446.9h1.25v1.25h-1.25zM219.8 449.9h1.25v1.25h-1.25zM217.3 438.3h1.25v1.25h-1.25zM212.3 446.9h1.25v1.25h-1.25zM234.3 445.3h1.25v1.25h-1.25zM223.5 440.2h1.25v1.25h-1.25zM231.7 439.3h1.25v1.25h-1.25zM228.2 446.9h1.25v1.25h-1.25zM221.4 444.7h1.25v1.25h-1.25zM218.2 450.8h1.25v1.25h-1.25zM229.8 449.7h1.25v1.25h-1.25zM231.8 448.4h1.25v1.25h-1.25zM246.5 447.0h1.25v1.25h-1.25zM233.9 439.0h1.25v1.25h-1.25zM237.0 443.9h1.25v1.25h-1.25zM227.5 438.6h1.25v1.25h-1.25zM230.0 439.8h1.25v1.25h-1.25zM235.5 441.7h1.25v1.25h-1.25zM218.6 450.8h1.25v1.25h-1.25zM228.4 440.2h1.25v1.25h-1.25zM223.3 448.4h1.25v1.25h-1.25zM235.4 447.9h1.25v1.25h-1.25zM228.5 429.2h1.25v1.25h-1.25zM239.2 434.9h1.25v1.25h-1.25zM239.8 441.8h1.25v1.25h-1.25zM214.1 451.7h1.25v1.25h-1.25zM219.2 445.1h1.25v1.25h-1.25zM215.4 448.7h1.25v1.25h-1.25zM231.3 442.8h1.25v1.25h-1.25zM226.9 447.8h1.25v1.25h-1.25zM219.7 449.9h1.25v1.25h-1.25zM220.1 439.9h1.25v1.25h-1.25zM221.7 445.9h1.25v1.25h-1.25zM217.1 441.5h1.25v1.25h-1.25zM224.5 444.1h1.25v1.25h-1.25zM228.5 445.2h1.25v1.25h-1.25zM231.8 444.4h1.25v1.25h-1.25zM243.8 444.0h1.25v1.25h-1.25zM222.2 451.6h1.25v1.25h-1.25zM214.2 434.6h1.25v1.25h-1.25zM224.0 447.9h1.25v1.25h-1.25zM225.3 438.7h1.25v1.25h-1.25zM227.4 446.6h1.25v1.25h-1.25zM222.2 447.7h1.25v1.25h-1.25zM226.6 437.1h1.25v1.25h-1.25zM240.1 445.8h1.25v1.25h-1.25zM222.5 442.6h1.25v1.25h-1.25zM222.1 446.3h1.25v1.25h-1.25zM232.4 445.6h1.25v1.25h-1.25zM232.1 446.3h1.25v1.25h-1.25zM232.7 439.6h1.25v1.25h-1.25zM219.1 444.9h1.25v1.25h-1.25zM218.2 452.6h1.25v1.25h-1.25zM226.9 444.0h1.25v1.25h-1.25zM230.4 434.3h1.25v1.25h-1.25zM236.1 438.4h1.25v1.25h-1.25zM217.1 452.1h1.25v1.25h-1.25zM227.9 442.1h1.25v1.25h-1.25zM222.3 446.5h1.25v1.25h-1.25zM224.9 446.3h1.25v1.25h-1.25zM216.1 445.5h1.25v1.25h-1.25zM221.5 443.8h1.25v1.25h-1.25zM221.6 442.9h1.25v1.25h-1.25zM227.0 444.9h1.25v1.25h-1.25zM227.6 443.2h1.25v1.25h-1.25zM224.1 445.9h1.25v1.25h-1.25zM239.7 443.6h1.25v1.25h-1.25zM235.8 450.7h1.25v1.25h-1.25zM215.9 450.9h1.25v1.25h-1.25zM224.3 440.0h1.25v1.25h-1.25zM242.5 448.9h1.25v1.25h-1.25zM228.1 447.2h1.25v1.25h-1.25zM222.0 448.0h1.25v1.25h-1.25zM220.4 445.9h1.25v1.25h-1.25zM220.6 438.3h1.25v1.25h-1.25zM224.9 435.3h1.25v1.25h-1.25zM227.9 449.5h1.25v1.25h-1.25zM216.8 446.4h1.25v1.25h-1.25zM240.1 441.6h1.25v1.25h-1.25zM227.8 446.9h1.25v1.25h-1.25zM216.1 446.7h1.25v1.25h-1.25zM225.2 444.1h1.25v1.25h-1.25zM224.3 443.4h1.25v1.25h-1.25zM221.9 445.7h1.25v1.25h-1.25zM223.3 444.1h1.25v1.25h-1.25zM219.4 451.7h1.25v1.25h-1.25zM225.0 434.9h1.25v1.25h-1.25zM223.3 442.4h1.25v1.25h-1.25zM247.2 445.1h1.25v1.25h-1.25zM227.2 444.5h1.25v1.25h-1.25zM233.0 443.8h1.25v1.25h-1.25zM216.7 445.1h1.25v1.25h-1.25zM229.2 447.6h1.25v1.25h-1.25zM220.8 442.4h1.25v1.25h-1.25zM228.0 451.0h1.25v1.25h-1.25zM220.7 447.5h1.25v1.25h-1.25zM219.3 438.2h1.25v1.25h-1.25zM216.6 443.1h1.25v1.25h-1.25zM230.6 452.2h1.25v1.25h-1.25zM231.1 442.4h1.25v1.25h-1.25zM228.0 443.4h1.25v1.25h-1.25zM231.7 450.7h1.25v1.25h-1.25zM233.1 447.7h1.25v1.25h-1.25zM229.9 434.9h1.25v1.25h-1.25zM244.5 444.5h1.25v1.25h-1.25zM238.3 440.7h1.25v1.25h-1.25zM217.1 452.3h1.25v1.25h-1.25zM217.9 437.8h1.25v1.25h-1.25zM225.6 434.5h1.25v1.25h-1.25zM228.3 449.7h1.25v1.25h-1.25zM223.9 447.7h1.25v1.25h-1.25zM235.5 448.0h1.25v1.25h-1.25zM225.5 449.6h1.25v1.25h-1.25zM228.2 442.1h1.25v1.25h-1.25zM227.0 442.0h1.25v1.25h-1.25zM211.8 448.9h1.25v1.25h-1.25zM215.7 445.8h1.25v1.25h-1.25zM217.6 436.4h1.25v1.25h-1.25zM217.8 445.6h1.25v1.25h-1.25zM225.8 450.0h1.25v1.25h-1.25zM231.1 446.5h1.25v1.25h-1.25zM228.9 449.2h1.25v1.25h-1.25zM221.4 440.1h1.25v1.25h-1.25zM219.9 439.6h1.25v1.25h-1.25zM212.5 448.0h1.25v1.25h-1.25zM234.9 445.1h1.25v1.25h-1.25zM230.4 447.4h1.25v1.25h-1.25zM239.7 450.8h1.25v1.25h-1.25zM221.3 447.1h1.25v1.25h-1.25zM229.7 443.7h1.25v1.25h-1.25zM232.7 450.5h1.25v1.25h-1.25zM218.1 437.8h1.25v1.25h-1.25zM225.7 447.8h1.25v1.25h-1.25zM232.3 443.6h1.25v1.25h-1.25zM226.1 443.0h1.25v1.25h-1.25zM235.4 442.0h1.25v1.25h-1.25zM221.0 451.9h1.25v1.25h-1.25zM229.9 445.8h1.25v1.25h-1.25zM221.9 449.9h1.25v1.25h-1.25zM222.1 446.9h1.25v1.25h-1.25zM223.4 444.7h1.25v1.25h-1.25zM233.1 438.9h1.25v1.25h-1.25zM229.2 447.0h1.25v1.25h-1.25zM230.5 451.0h1.25v1.25h-1.25zM226.2 448.5h1.25v1.25h-1.25zM226.9 446.4h1.25v1.25h-1.25zM235.0 444.1h1.25v1.25h-1.25zM223.8 436.0h1.25v1.25h-1.25zM220.6 446.1h1.25v1.25h-1.25zM237.0 444.4h1.25v1.25h-1.25zM214.2 441.4h1.25v1.25h-1.25zM232.9 442.6h1.25v1.25h-1.25zM217.1 444.7h1.25v1.25h-1.25zM215.9 447.6h1.25v1.25h-1.25zM229.2 443.5h1.25v1.25h-1.25zM235.5 449.9h1.25v1.25h-1.25zM227.7 449.6h1.25v1.25h-1.25zM233.4 448.6h1.25v1.25h-1.25zM240.1 450.3h1.25v1.25h-1.25zM228.1 445.3h1.25v1.25h-1.25zM237.8 450.6h1.25v1.25h-1.25zM217.4 443.8h1.25v1.25h-1.25zM229.9 444.8h1.25v1.25h-1.25zM222.2 443.2h1.25v1.25h-1.25zM220.1 448.4h1.25v1.25h-1.25zM235.9 444.0h1.25v1.25h-1.25zM226.8 451.3h1.25v1.25h-1.25zM237.1 438.2h1.25v1.25h-1.25zM234.5 445.2h1.25v1.25h-1.25zM224.6 441.4h1.25v1.25h-1.25zM234.6 445.6h1.25v1.25h-1.25zM229.5 450.4h1.25v1.25h-1.25zM225.0 442.3h1.25v1.25h-1.25zM217.3 449.4h1.25v1.25h-1.25zM227.4 441.9h1.25v1.25h-1.25zM228.4 441.1h1.25v1.25h-1.25zM226.1 447.6h1.25v1.25h-1.25zM228.4 451.1h1.25v1.25h-1.25zM227.4 446.4h1.25v1.25h-1.25zM226.5 452.6h1.25v1.25h-1.25zM232.4 442.4h1.25v1.25h-1.25zM218.8 446.1h1.25v1.25h-1.25zM222.6 434.4h1.25v1.25h-1.25zM234.7 448.5h1.25v1.25h-1.25zM226.6 440.4h1.25v1.25h-1.25zM231.7 447.4h1.25v1.25h-1.25zM214.1 439.4h1.25v1.25h-1.25zM230.4 438.4h1.25v1.25h-1.25zM225.0 441.2h1.25v1.25h-1.25zM239.1 441.5h1.25v1.25h-1.25zM224.2 437.3h1.25v1.25h-1.25zM217.5 440.6h1.25v1.25h-1.25zM225.1 437.4h1.25v1.25h-1.25zM221.4 450.2h1.25v1.25h-1.25zM241.2 440.7h1.25v1.25h-1.25zM229.8 436.3h1.25v1.25h-1.25zM223.3 447.2h1.25v1.25h-1.25zM229.8 444.5h1.25v1.25h-1.25zM225.1 442.9h1.25v1.25h-1.25zM226.8 447.2h1.25v1.25h-1.25zM232.7 451.5h1.25v1.25h-1.25zM217.9 444.0h1.25v1.25h-1.25zM236.9 445.2h1.25v1.25h-1.25zM225.0 437.5h1.25v1.25h-1.25zM229.9 450.5h1.25v1.25h-1.25zM226.1 441.1h1.25v1.25h-1.25zM231.3 448.0h1.25v1.25h-1.25zM216.7 436.6h1.25v1.25h-1.25zM221.2 450.5h1.25v1.25h-1.25zM216.8 443.0h1.25v1.25h-1.25zM224.3 443.0h1.25v1.25h-1.25zM228.9 446.7h1.25v1.25h-1.25zM212.4 450.3h1.25v1.25h-1.25zM213.3 441.8h1.25v1.25h-1.25zM230.7 439.9h1.25v1.25h-1.25zM237.7 442.7h1.25v1.25h-1.25zM230.1 441.0h1.25v1.25h-1.25zM219.9 449.3h1.25v1.25h-1.25zM247.3 446.4h1.25v1.25h-1.25zM228.2 437.5h1.25v1.25h-1.25zM234.9 447.6h1.25v1.25h-1.25zM216.2 443.0h1.25v1.25h-1.25zM227.6 448.2h1.25v1.25h-1.25zM237.4 449.6h1.25v1.25h-1.25zM220.0 446.6h1.25v1.25h-1.25zM238.9 441.6h1.25v1.25h-1.25zM219.1 450.4h1.25v1.25h-1.25zM225.2 444.5h1.25v1.25h-1.25zM219.8 436.1h1.25v1.25h-1.25zM226.7 443.9h1.25v1.25h-1.25zM228.6 441.7h1.25v1.25h-1.25zM213.4 436.2h1.25v1.25h-1.25zM213.3 441.0h1.25v1.25h-1.25zM232.3 435.2h1.25v1.25h-1.25zM229.9 443.5h1.25v1.25h-1.25zM230.5 438.6h1.25v1.25h-1.25zM236.7 445.3h1.25v1.25h-1.25zM219.5 452.1h1.25v1.25h-1.25zM237.8 442.8h1.25v1.25h-1.25zM214.0 445.5h1.25v1.25h-1.25zM225.4 448.8h1.25v1.25h-1.25zM219.4 450.3h1.25v1.25h-1.25zM223.7 446.1h1.25v1.25h-1.25zM227.1 439.6h1.25v1.25h-1.25zM223.2 451.5h1.25v1.25h-1.25zM230.4 444.2h1.25v1.25h-1.25zM231.8 442.9h1.25v1.25h-1.25zM234.5 445.0h1.25v1.25h-1.25zM248.9 429.1h1.25v1.25h-1.25zM230.9 440.1h1.25v1.25h-1.25zM238.3 447.1h1.25v1.25h-1.25zM247.7 442.9h1.25v1.25h-1.25zM229.1 440.2h1.25v1.25h-1.25zM234.4 444.8h1.25v1.25h-1.25zM233.8 442.8h1.25v1.25h-1.25zM243.7 435.3h1.25v1.25h-1.25zM237.1 440.4h1.25v1.25h-1.25zM231.6 442.2h1.25v1.25h-1.25zM230.0 432.4h1.25v1.25h-1.25zM244.8 440.5h1.25v1.25h-1.25zM224.7 442.4h1.25v1.25h-1.25zM228.9 437.5h1.25v1.25h-1.25zM243.0 442.8h1.25v1.25h-1.25zM232.5 439.3h1.25v1.25h-1.25zM228.4 448.4h1.25v1.25h-1.25zM232.2 445.6h1.25v1.25h-1.25zM232.6 437.3h1.25v1.25h-1.25zM237.3 442.1h1.25v1.25h-1.25zM241.9 442.6h1.25v1.25h-1.25zM245.6 433.6h1.25v1.25h-1.25zM231.2 441.1h1.25v1.25h-1.25zM217.4 434.2h1.25v1.25h-1.25zM234.3 435.4h1.25v1.25h-1.25zM234.5 438.7h1.25v1.25h-1.25zM241.1 438.1h1.25v1.25h-1.25zM243.3 435.1h1.25v1.25h-1.25zM239.0 433.8h1.25v1.25h-1.25zM217.9 427.7h1.25v1.25h-1.25zM225.3 438.2h1.25v1.25h-1.25zM244.8 436.2h1.25v1.25h-1.25zM232.2 437.4h1.25v1.25h-1.25zM237.3 443.0h1.25v1.25h-1.25zM235.7 443.0h1.25v1.25h-1.25zM228.5 438.6h1.25v1.25h-1.25zM240.9 445.3h1.25v1.25h-1.25zM233.9 436.4h1.25v1.25h-1.25zM232.6 437.6h1.25v1.25h-1.25zM228.4 438.7h1.25v1.25h-1.25zM235.3 448.1h1.25v1.25h-1.25zM237.7 447.0h1.25v1.25h-1.25zM236.1 439.5h1.25v1.25h-1.25zM247.3 440.3h1.25v1.25h-1.25zM238.0 443.4h1.25v1.25h-1.25zM241.3 436.2h1.25v1.25h-1.25zM227.3 447.2h1.25v1.25h-1.25zM220.8 439.6h1.25v1.25h-1.25zM235.2 438.6h1.25v1.25h-1.25zM230.3 438.6h1.25v1.25h-1.25zM233.3 438.0h1.25v1.25h-1.25zM239.1 435.7h1.25v1.25h-1.25zM220.7 437.0h1.25v1.25h-1.25zM242.1 435.4h1.25v1.25h-1.25zM227.0 438.5h1.25v1.25h-1.25zM240.3 438.6h1.25v1.25h-1.25zM231.0 434.0h1.25v1.25h-1.25zM236.2 428.4h1.25v1.25h-1.25zM229.5 439.0h1.25v1.25h-1.25zM240.0 432.1h1.25v1.25h-1.25zM244.3 442.1h1.25v1.25h-1.25zM234.1 442.7h1.25v1.25h-1.25zM240.6 442.4h1.25v1.25h-1.25zM225.4 445.5h1.25v1.25h-1.25zM246.7 447.1h1.25v1.25h-1.25zM226.4 435.7h1.25v1.25h-1.25zM246.6 440.2h1.25v1.25h-1.25zM252.2 444.2h1.25v1.25h-1.25zM241.4 437.9h1.25v1.25h-1.25zM248.2 441.6h1.25v1.25h-1.25zM227.4 437.0h1.25v1.25h-1.25zM234.6 439.7h1.25v1.25h-1.25zM234.9 438.8h1.25v1.25h-1.25zM218.8 435.6h1.25v1.25h-1.25zM238.1 436.8h1.25v1.25h-1.25zM232.5 444.1h1.25v1.25h-1.25zM233.9 433.4h1.25v1.25h-1.25zM236.8 440.9h1.25v1.25h-1.25zM230.0 446.5h1.25v1.25h-1.25zM243.4 447.6h1.25v1.25h-1.25zM245.3 451.2h1.25v1.25h-1.25zM237.7 443.4h1.25v1.25h-1.25zM228.4 447.7h1.25v1.25h-1.25zM228.3 439.2h1.25v1.25h-1.25zM231.2 443.1h1.25v1.25h-1.25zM237.9 447.2h1.25v1.25h-1.25zM241.9 437.4h1.25v1.25h-1.25zM219.9 437.5h1.25v1.25h-1.25zM240.5 446.7h1.25v1.25h-1.25zM226.5 441.7h1.25v1.25h-1.25zM235.9 446.0h1.25v1.25h-1.25zM234.0 442.0h1.25v1.25h-1.25zM231.4 432.9h1.25v1.25h-1.25zM233.0 439.6h1.25v1.25h-1.25zM225.4 450.4h1.25v1.25h-1.25zM244.2 449.7h1.25v1.25h-1.25zM240.4 434.6h1.25v1.25h-1.25zM232.1 442.5h1.25v1.25h-1.25zM248.2 441.2h1.25v1.25h-1.25zM230.7 445.7h1.25v1.25h-1.25zM232.9 443.3h1.25v1.25h-1.25zM232.1 438.6h1.25v1.25h-1.25zM239.4 443.7h1.25v1.25h-1.25zM236.8 444.5h1.25v1.25h-1.25zM252.4 424.7h1.25v1.25h-1.25zM246.3 436.6h1.25v1.25h-1.25zM241.4 422.4h1.25v1.25h-1.25zM245.4 414.6h1.25v1.25h-1.25zM253.1 420.7h1.25v1.25h-1.25zM249.5 434.2h1.25v1.25h-1.25zM242.9 429.6h1.25v1.25h-1.25zM244.1 427.1h1.25v1.25h-1.25zM242.8 427.6h1.25v1.25h-1.25zM248.7 438.9h1.25v1.25h-1.25zM236.7 430.2h1.25v1.25h-1.25zM238.6 434.5h1.25v1.25h-1.25zM251.1 437.0h1.25v1.25h-1.25zM239.8 448.7h1.25v1.25h-1.25zM246.2 436.8h1.25v1.25h-1.25zM243.3 439.0h1.25v1.25h-1.25zM247.4 427.6h1.25v1.25h-1.25zM245.6 426.8h1.25v1.25h-1.25zM246.4 437.8h1.25v1.25h-1.25zM249.7 428.6h1.25v1.25h-1.25zM240.3 431.1h1.25v1.25h-1.25zM250.3 429.2h1.25v1.25h-1.25zM254.2 425.8h1.25v1.25h-1.25zM260.2 433.0h1.25v1.25h-1.25zM246.5 422.6h1.25v1.25h-1.25zM241.0 434.0h1.25v1.25h-1.25zM249.2 425.6h1.25v1.25h-1.25zM257.4 428.6h1.25v1.25h-1.25zM255.3 424.7h1.25v1.25h-1.25zM240.0 436.3h1.25v1.25h-1.25zM248.3 432.0h1.25v1.25h-1.25zM249.0 431.9h1.25v1.25h-1.25zM244.2 432.0h1.25v1.25h-1.25zM245.0 429.7h1.25v1.25h-1.25zM246.3 435.9h1.25v1.25h-1.25zM234.3 427.1h1.25v1.25h-1.25zM251.9 422.6h1.25v1.25h-1.25zM253.7 425.4h1.25v1.25h-1.25zM252.9 424.8h1.25v1.25h-1.25zM241.7 434.8h1.25v1.25h-1.25zM253.1 427.6h1.25v1.25h-1.25zM245.5 415.6h1.25v1.25h-1.25zM251.2 419.3h1.25v1.25h-1.25zM240.6 432.7h1.25v1.25h-1.25zM245.3 424.9h1.25v1.25h-1.25zM248.3 435.5h1.25v1.25h-1.25zM240.8 435.2h1.25v1.25h-1.25zM239.2 422.1h1.25v1.25h-1.25zM254.6 426.9h1.25v1.25h-1.25zM253.6 419.5h1.25v1.25h-1.25zM237.9 428.3h1.25v1.25h-1.25zM256.9 418.5h1.25v1.25h-1.25zM243.5 435.1h1.25v1.25h-1.25zM250.5 436.3h1.25v1.25h-1.25zM251.0 429.8h1.25v1.25h-1.25zM239.8 419.0h1.25v1.25h-1.25zM249.7 409.8h1.25v1.25h-1.25zM239.4 433.8h1.25v1.25h-1.25zM237.7 426.6h1.25v1.25h-1.25zM247.8 425.8h1.25v1.25h-1.25zM241.8 425.1h1.25v1.25h-1.25zM236.9 429.6h1.25v1.25h-1.25zM244.2 421.7h1.25v1.25h-1.25zM246.7 425.1h1.25v1.25h-1.25zM250.2 431.8h1.25v1.25h-1.25zM239.8 424.7h1.25v1.25h-1.25zM245.0 418.7h1.25v1.25h-1.25zM242.8 432.5h1.25v1.25h-1.25zM250.2 427.1h1.25v1.25h-1.25zM254.2 445.5h1.25v1.25h-1.25zM254.9 415.8h1.25v1.25h-1.25zM255.5 439.4h1.25v1.25h-1.25zM248.3 434.1h1.25v1.25h-1.25zM241.9 421.1h1.25v1.25h-1.25zM252.4 426.2h1.25v1.25h-1.25zM250.6 436.6h1.25v1.25h-1.25zM241.2 420.2h1.25v1.25h-1.25zM246.1 431.2h1.25v1.25h-1.25zM235.8 426.8h1.25v1.25h-1.25zM251.5 426.0h1.25v1.25h-1.25zM247.2 425.0h1.25v1.25h-1.25zM247.6 424.8h1.25v1.25h-1.25zM240.9 425.7h1.25v1.25h-1.25zM250.1 428.0h1.25v1.25h-1.25zM250.7 433.8h1.25v1.25h-1.25zM241.3 422.1h1.25v1.25h-1.25zM244.4 437.1h1.25v1.25h-1.25zM243.5 433.1h1.25v1.25h-1.25zM254.6 450.8h1.25v1.25h-1.25zM246.1 427.7h1.25v1.25h-1.25zM241.5 414.2h1.25v1.25h-1.25zM252.1 429.8h1.25v1.25h-1.25zM234.7 423.9h1.25v1.25h-1.25zM243.9 422.7h1.25v1.25h-1.25zM239.0 429.4h1.25v1.25h-1.25zM247.8 412.6h1.25v1.25h-1.25zM243.7 423.3h1.25v1.25h-1.25zM254.2 439.4h1.25v1.25h-1.25zM254.1 432.5h1.25v1.25h-1.25zM242.4 425.8h1.25v1.25h-1.25zM235.5 414.9h1.25v1.25h-1.25zM251.6 433.5h1.25v1.25h-1.25zM247.6 437.7h1.25v1.25h-1.25zM254.2 427.6h1.25v1.25h-1.25zM241.3 423.5h1.25v1.25h-1.25zM239.4 421.4h1.25v1.25h-1.25zM243.2 419.8h1.25v1.25h-1.25zM242.6 425.2h1.25v1.25h-1.25zM251.6 433.1h1.25v1.25h-1.25zM253.8 430.2h1.25v1.25h-1.25zM241.8 422.1h1.25v1.25h-1.25zM242.6 429.1h1.25v1.25h-1.25zM248.1 439.2h1.25v1.25h-1.25zM248.5 431.8h1.25v1.25h-1.25zM249.9 423.4h1.25v1.25h-1.25zM257.0 408.2h1.25v1.25h-1.25zM242.5 423.4h1.25v1.25h-1.25zM246.1 417.8h1.25v1.25h-1.25zM257.8 402.8h1.25v1.25h-1.25zM251.9 394.5h1.25v1.25h-1.25zM236.9 410.9h1.25v1.25h-1.25zM243.6 409.8h1.25v1.25h-1.25zM250.6 401.9h1.25v1.25h-1.25zM268.9 407.7h1.25v1.25h-1.25zM238.3 416.8h1.25v1.25h-1.25zM261.3 422.5h1.25v1.25h-1.25zM255.1 419.1h1.25v1.25h-1.25zM254.2 421.6h1.25v1.25h-1.25zM260.3 419.9h1.25v1.25h-1.25zM267.6 405.1h1.25v1.25h-1.25zM267.0 403.8h1.25v1.25h-1.25zM243.2 402.3h1.25v1.25h-1.25zM258.7 397.7h1.25v1.25h-1.25zM263.7 399.1h1.25v1.25h-1.25zM240.4 405.9h1.25v1.25h-1.25zM242.6 420.5h1.25v1.25h-1.25zM254.0 393.6h1.25v1.25h-1.25zM264.3 423.2h1.25v1.25h-1.25zM222.9 420.1h1.25v1.25h-1.25zM265.6 421.9h1.25v1.25h-1.25zM269.2 424.5h1.25v1.25h-1.25zM264.1 421.1h1.25v1.25h-1.25zM244.6 408.1h1.25v1.25h-1.25zM268.2 415.6h1.25v1.25h-1.25zM252.6 406.8h1.25v1.25h-1.25zM248.0 408.6h1.25v1.25h-1.25zM254.5 406.2h1.25v1.25h-1.25zM256.0 408.5h1.25v1.25h-1.25zM266.3 417.3h1.25v1.25h-1.25zM245.7 398.2h1.25v1.25h-1.25zM250.0 422.3h1.25v1.25h-1.25zM261.5 400.0h1.25v1.25h-1.25zM239.0 397.7h1.25v1.25h-1.25zM265.3 417.1h1.25v1.25h-1.25zM270.6 422.7h1.25v1.25h-1.25zM266.3 398.1h1.25v1.25h-1.25zM246.3 397.8h1.25v1.25h-1.25zM245.3 417.7h1.25v1.25h-1.25zM262.6 421.0h1.25v1.25h-1.25zM266.4 399.1h1.25v1.25h-1.25zM248.6 419.6h1.25v1.25h-1.25zM234.8 414.7h1.25v1.25h-1.25zM229.1 409.4h1.25v1.25h-1.25zM238.9 414.1h1.25v1.25h-1.25zM252.0 424.7h1.25v1.25h-1.25zM236.2 395.6h1.25v1.25h-1.25zM250.7 393.9h1.25v1.25h-1.25zM241.5 400.9h1.25v1.25h-1.25zM253.6 400.6h1.25v1.25h-1.25zM248.0 417.6h1.25v1.25h-1.25zM257.8 393.8h1.25v1.25h-1.25zM254.2 400.4h1.25v1.25h-1.25zM245.1 395.7h1.25v1.25h-1.25zM239.1 397.2h1.25v1.25h-1.25zM247.9 416.3h1.25v1.25h-1.25zM247.7 397.2h1.25v1.25h-1.25zM256.8 417.5h1.25v1.25h-1.25zM248.5 423.6h1.25v1.25h-1.25zM268.6 411.9h1.25v1.25h-1.25zM253.9 409.6h1.25v1.25h-1.25zM263.2 408.8h1.25v1.25h-1.25zM229.5 417.3h1.25v1.25h-1.25zM237.1 411.2h1.25v1.25h-1.25zM245.1 414.9h1.25v1.25h-1.25zM258.3 424.6h1.25v1.25h-1.25zM234.0 400.3h1.25v1.25h-1.25zM255.8 399.6h1.25v1.25h-1.25zM254.4 403.1h1.25v1.25h-1.25zM235.7 420.0h1.25v1.25h-1.25zM234.8 403.8h1.25v1.25h-1.25zM239.0 412.4h1.25v1.25h-1.25zM230.6 407.1h1.25v1.25h-1.25zM250.2 424.5h1.25v1.25h-1.25zM247.0 409.4h1.25v1.25h-1.25zM253.2 394.3h1.25v1.25h-1.25zM266.5 424.4h1.25v1.25h-1.25zM258.9 403.2h1.25v1.25h-1.25zM231.5 403.9h1.25v1.25h-1.25zM244.7 410.9h1.25v1.25h-1.25zM271.4 402.8h1.25v1.25h-1.25zM234.4 419.2h1.25v1.25h-1.25zM246.8 419.1h1.25v1.25h-1.25zM236.0 411.1h1.25v1.25h-1.25zM255.1 407.8h1.25v1.25h-1.25zM249.4 420.1h1.25v1.25h-1.25zM249.1 410.8h1.25v1.25h-1.25zM252.2 393.2h1.25v1.25h-1.25zM267.9 394.6h1.25v1.25h-1.25zM240.9 402.6h1.25v1.25h-1.25zM252.0 422.8h1.25v1.25h-1.25zM255.8 400.8h1.25v1.25h-1.25zM239.9 416.5h1.25v1.25h-1.25zM263.8 414.8h1.25v1.25h-1.25zM241.2 401.6h1.25v1.25h-1.25zM269.5 410.7h1.25v1.25h-1.25zM256.9 404.6h1.25v1.25h-1.25zM254.0 423.1h1.25v1.25h-1.25zM238.4 406.2h1.25v1.25h-1.25zM269.4 421.3h1.25v1.25h-1.25zM244.0 415.8h1.25v1.25h-1.25zM263.9 402.4h1.25v1.25h-1.25zM264.8 400.3h1.25v1.25h-1.25zM261.6 403.4h1.25v1.25h-1.25zM256.8 395.4h1.25v1.25h-1.25zM267.7 394.5h1.25v1.25h-1.25zM258.6 403.0h1.25v1.25h-1.25zM257.0 401.3h1.25v1.25h-1.25zM264.4 394.8h1.25v1.25h-1.25zM256.6 395.7h1.25v1.25h-1.25zM259.0 402.7h1.25v1.25h-1.25zM260.1 398.5h1.25v1.25h-1.25zM262.5 399.9h1.25v1.25h-1.25zM262.0 405.7h1.25v1.25h-1.25zM262.2 398.9h1.25v1.25h-1.25zM265.0 398.4h1.25v1.25h-1.25zM264.0 403.1h1.25v1.25h-1.25zM260.8 405.0h1.25v1.25h-1.25zM254.1 395.2h1.25v1.25h-1.25zM267.9 396.6h1.25v1.25h-1.25zM256.7 395.0h1.25v1.25h-1.25zM265.8 395.1h1.25v1.25h-1.25zM249.3 400.2h1.25v1.25h-1.25zM262.9 399.4h1.25v1.25h-1.25zM261.5 404.7h1.25v1.25h-1.25zM255.5 399.0h1.25v1.25h-1.25zM256.9 400.0h1.25v1.25h-1.25zM254.8 402.3h1.25v1.25h-1.25zM260.1 394.5h1.25v1.25h-1.25zM262.5 401.4h1.25v1.25h-1.25zM252.3 400.6h1.25v1.25h-1.25zM258.8 405.7h1.25v1.25h-1.25zM260.5 403.0h1.25v1.25h-1.25zM261.8 398.1h1.25v1.25h-1.25zM263.1 396.3h1.25v1.25h-1.25zM265.0 400.6h1.25v1.25h-1.25zM273.0 423.2h1.25v1.25h-1.25zM274.2 423.2h1.25v1.25h-1.25zM275.4 423.2h1.25v1.25h-1.25z" fill="#000"/><path d="M361.4 444.3h1.15v1.15h-1.15zM359.6 449.1h1.15v1.15h-1.15zM351.4 446.9h1.15v1.15h-1.15zM354.9 452.0h1.15v1.15h-1.15zM368.6 450.5h1.15v1.15h-1.15zM364.1 435.6h1.15v1.15h-1.15zM373.4 447.6h1.15v1.15h-1.15zM360.3 444.2h1.15v1.15h-1.15zM373.1 440.5h1.15v1.15h-1.15zM363.3 439.8h1.15v1.15h-1.15zM365.3 452.1h1.15v1.15h-1.15zM369.8 438.3h1.15v1.15h-1.15zM363.8 443.3h1.15v1.15h-1.15zM359.6 446.0h1.15v1.15h-1.15zM355.9 443.4h1.15v1.15h-1.15zM364.0 444.8h1.15v1.15h-1.15zM362.6 448.8h1.15v1.15h-1.15zM360.1 446.9h1.15v1.15h-1.15zM365.8 448.3h1.15v1.15h-1.15zM352.3 445.6h1.15v1.15h-1.15zM357.9 435.9h1.15v1.15h-1.15zM371.6 439.5h1.15v1.15h-1.15zM367.6 443.3h1.15v1.15h-1.15zM360.6 441.5h1.15v1.15h-1.15zM366.6 448.5h1.15v1.15h-1.15zM362.4 442.9h1.15v1.15h-1.15zM373.2 450.9h1.15v1.15h-1.15zM364.9 443.8h1.15v1.15h-1.15zM364.4 445.4h1.15v1.15h-1.15zM347.9 442.1h1.15v1.15h-1.15zM368.7 450.4h1.15v1.15h-1.15zM355.6 447.9h1.15v1.15h-1.15zM356.3 440.7h1.15v1.15h-1.15zM364.9 442.7h1.15v1.15h-1.15zM374.9 445.6h1.15v1.15h-1.15zM365.2 440.2h1.15v1.15h-1.15zM371.7 441.9h1.15v1.15h-1.15zM362.6 444.9h1.15v1.15h-1.15zM358.7 445.5h1.15v1.15h-1.15zM359.4 446.8h1.15v1.15h-1.15zM367.5 441.1h1.15v1.15h-1.15zM367.9 447.2h1.15v1.15h-1.15zM367.9 439.8h1.15v1.15h-1.15zM370.3 444.5h1.15v1.15h-1.15zM367.6 448.4h1.15v1.15h-1.15zM373.3 451.6h1.15v1.15h-1.15zM363.1 440.7h1.15v1.15h-1.15zM357.6 437.2h1.15v1.15h-1.15zM367.9 444.9h1.15v1.15h-1.15zM356.2 446.8h1.15v1.15h-1.15zM357.6 447.2h1.15v1.15h-1.15zM358.6 446.4h1.15v1.15h-1.15zM359.1 442.8h1.15v1.15h-1.15zM362.6 450.0h1.15v1.15h-1.15zM364.9 442.2h1.15v1.15h-1.15zM360.1 445.6h1.15v1.15h-1.15zM365.0 444.7h1.15v1.15h-1.15zM363.3 441.4h1.15v1.15h-1.15zM363.7 439.1h1.15v1.15h-1.15zM366.6 446.3h1.15v1.15h-1.15zM368.9 446.1h1.15v1.15h-1.15zM351.3 452.1h1.15v1.15h-1.15zM369.9 440.9h1.15v1.15h-1.15zM360.3 439.0h1.15v1.15h-1.15zM366.4 440.6h1.15v1.15h-1.15zM361.9 442.2h1.15v1.15h-1.15zM365.0 448.9h1.15v1.15h-1.15zM360.3 447.4h1.15v1.15h-1.15zM362.9 444.2h1.15v1.15h-1.15zM361.1 451.2h1.15v1.15h-1.15zM367.1 436.5h1.15v1.15h-1.15zM356.9 447.9h1.15v1.15h-1.15zM377.3 446.8h1.15v1.15h-1.15zM359.1 437.3h1.15v1.15h-1.15zM369.0 448.2h1.15v1.15h-1.15zM364.5 442.1h1.15v1.15h-1.15zM368.2 444.3h1.15v1.15h-1.15zM369.3 449.8h1.15v1.15h-1.15zM351.0 449.7h1.15v1.15h-1.15zM376.4 448.1h1.15v1.15h-1.15zM363.1 440.7h1.15v1.15h-1.15zM369.6 451.4h1.15v1.15h-1.15zM369.0 445.8h1.15v1.15h-1.15zM369.0 447.3h1.15v1.15h-1.15zM375.5 444.6h1.15v1.15h-1.15zM356.4 442.7h1.15v1.15h-1.15zM357.4 438.5h1.15v1.15h-1.15zM371.6 433.7h1.15v1.15h-1.15zM369.3 443.4h1.15v1.15h-1.15zM368.5 443.8h1.15v1.15h-1.15zM370.7 449.7h1.15v1.15h-1.15zM375.6 448.0h1.15v1.15h-1.15zM374.6 443.8h1.15v1.15h-1.15zM364.0 451.1h1.15v1.15h-1.15zM370.3 446.8h1.15v1.15h-1.15zM366.0 442.0h1.15v1.15h-1.15zM367.3 448.9h1.15v1.15h-1.15zM361.2 448.6h1.15v1.15h-1.15zM363.3 446.7h1.15v1.15h-1.15zM360.1 440.5h1.15v1.15h-1.15zM360.4 442.1h1.15v1.15h-1.15zM372.5 440.1h1.15v1.15h-1.15zM358.9 443.3h1.15v1.15h-1.15zM368.0 440.7h1.15v1.15h-1.15zM357.8 448.2h1.15v1.15h-1.15zM370.7 447.0h1.15v1.15h-1.15zM375.6 450.6h1.15v1.15h-1.15zM365.1 442.5h1.15v1.15h-1.15zM366.4 452.2h1.15v1.15h-1.15zM358.6 443.6h1.15v1.15h-1.15zM360.8 447.0h1.15v1.15h-1.15zM362.7 445.9h1.15v1.15h-1.15zM368.2 446.5h1.15v1.15h-1.15zM368.5 445.6h1.15v1.15h-1.15zM366.0 449.4h1.15v1.15h-1.15zM349.4 436.5h1.15v1.15h-1.15zM361.3 436.1h1.15v1.15h-1.15zM355.2 441.9h1.15v1.15h-1.15zM363.8 444.5h1.15v1.15h-1.15zM362.2 447.0h1.15v1.15h-1.15zM362.1 440.6h1.15v1.15h-1.15zM361.2 446.2h1.15v1.15h-1.15zM368.9 444.2h1.15v1.15h-1.15zM367.9 448.7h1.15v1.15h-1.15zM362.8 447.9h1.15v1.15h-1.15zM362.3 440.0h1.15v1.15h-1.15zM378.4 445.9h1.15v1.15h-1.15zM372.7 452.0h1.15v1.15h-1.15zM371.6 444.5h1.15v1.15h-1.15zM364.4 444.5h1.15v1.15h-1.15zM363.3 442.6h1.15v1.15h-1.15zM364.1 447.0h1.15v1.15h-1.15zM366.5 438.1h1.15v1.15h-1.15zM359.9 450.2h1.15v1.15h-1.15zM359.8 445.0h1.15v1.15h-1.15zM363.6 444.9h1.15v1.15h-1.15zM361.4 432.7h1.15v1.15h-1.15zM367.5 449.6h1.15v1.15h-1.15zM357.0 440.8h1.15v1.15h-1.15zM365.0 440.6h1.15v1.15h-1.15zM364.4 440.3h1.15v1.15h-1.15zM365.5 439.1h1.15v1.15h-1.15zM353.3 440.3h1.15v1.15h-1.15zM367.3 450.3h1.15v1.15h-1.15zM363.1 446.5h1.15v1.15h-1.15zM365.0 441.7h1.15v1.15h-1.15zM365.9 447.3h1.15v1.15h-1.15zM365.9 437.3h1.15v1.15h-1.15zM361.1 450.1h1.15v1.15h-1.15zM360.1 449.6h1.15v1.15h-1.15zM368.9 446.0h1.15v1.15h-1.15zM369.2 443.9h1.15v1.15h-1.15zM361.8 438.4h1.15v1.15h-1.15zM356.4 446.5h1.15v1.15h-1.15zM361.8 438.8h1.15v1.15h-1.15zM365.4 440.9h1.15v1.15h-1.15zM365.1 450.5h1.15v1.15h-1.15zM365.9 439.3h1.15v1.15h-1.15zM370.8 445.2h1.15v1.15h-1.15zM367.1 443.1h1.15v1.15h-1.15zM360.0 443.2h1.15v1.15h-1.15zM354.8 442.8h1.15v1.15h-1.15zM362.6 447.7h1.15v1.15h-1.15zM348.6 449.6h1.15v1.15h-1.15zM369.2 445.7h1.15v1.15h-1.15zM365.6 450.5h1.15v1.15h-1.15zM366.0 438.7h1.15v1.15h-1.15zM360.8 443.1h1.15v1.15h-1.15zM354.9 443.3h1.15v1.15h-1.15zM363.7 445.9h1.15v1.15h-1.15zM371.1 443.9h1.15v1.15h-1.15zM372.1 443.5h1.15v1.15h-1.15zM362.3 447.6h1.15v1.15h-1.15zM373.3 441.6h1.15v1.15h-1.15zM363.3 444.6h1.15v1.15h-1.15zM362.4 450.0h1.15v1.15h-1.15zM369.8 448.1h1.15v1.15h-1.15zM360.5 445.6h1.15v1.15h-1.15zM350.2 443.0h1.15v1.15h-1.15zM371.8 438.4h1.15v1.15h-1.15zM362.9 448.4h1.15v1.15h-1.15zM350.9 446.6h1.15v1.15h-1.15zM364.8 446.9h1.15v1.15h-1.15zM364.8 444.4h1.15v1.15h-1.15zM347.7 444.0h1.15v1.15h-1.15zM363.6 444.7h1.15v1.15h-1.15zM363.2 443.1h1.15v1.15h-1.15zM357.8 446.4h1.15v1.15h-1.15zM365.9 447.3h1.15v1.15h-1.15zM362.1 449.7h1.15v1.15h-1.15zM369.2 443.7h1.15v1.15h-1.15zM365.2 444.4h1.15v1.15h-1.15zM361.1 445.6h1.15v1.15h-1.15zM368.8 446.5h1.15v1.15h-1.15zM361.6 438.6h1.15v1.15h-1.15zM361.0 435.4h1.15v1.15h-1.15zM363.4 443.0h1.15v1.15h-1.15zM367.2 432.8h1.15v1.15h-1.15zM370.4 439.9h1.15v1.15h-1.15zM372.5 452.1h1.15v1.15h-1.15zM354.9 445.3h1.15v1.15h-1.15zM367.9 443.4h1.15v1.15h-1.15zM377.8 446.7h1.15v1.15h-1.15zM366.2 443.7h1.15v1.15h-1.15zM353.2 447.6h1.15v1.15h-1.15zM359.0 441.0h1.15v1.15h-1.15zM365.7 445.0h1.15v1.15h-1.15zM362.0 447.1h1.15v1.15h-1.15zM371.8 443.4h1.15v1.15h-1.15zM370.0 442.1h1.15v1.15h-1.15zM368.1 443.9h1.15v1.15h-1.15zM357.7 430.2h1.15v1.15h-1.15zM369.8 436.2h1.15v1.15h-1.15zM363.7 449.9h1.15v1.15h-1.15zM369.5 448.9h1.15v1.15h-1.15zM367.5 441.8h1.15v1.15h-1.15zM367.6 442.3h1.15v1.15h-1.15zM355.9 446.4h1.15v1.15h-1.15zM369.5 434.0h1.15v1.15h-1.15zM360.7 448.9h1.15v1.15h-1.15zM364.9 436.1h1.15v1.15h-1.15zM365.4 441.2h1.15v1.15h-1.15zM370.7 438.6h1.15v1.15h-1.15zM359.9 442.5h1.15v1.15h-1.15zM363.9 443.1h1.15v1.15h-1.15zM363.9 439.8h1.15v1.15h-1.15zM364.9 438.4h1.15v1.15h-1.15zM361.1 448.4h1.15v1.15h-1.15zM361.2 445.0h1.15v1.15h-1.15zM363.8 452.1h1.15v1.15h-1.15zM359.3 444.2h1.15v1.15h-1.15zM366.4 448.6h1.15v1.15h-1.15zM361.8 446.6h1.15v1.15h-1.15zM376.1 440.8h1.15v1.15h-1.15zM372.9 442.5h1.15v1.15h-1.15zM372.4 443.5h1.15v1.15h-1.15zM361.3 446.6h1.15v1.15h-1.15zM355.7 434.4h1.15v1.15h-1.15zM378.8 439.9h1.15v1.15h-1.15zM356.1 447.7h1.15v1.15h-1.15zM373.6 445.0h1.15v1.15h-1.15zM371.5 437.0h1.15v1.15h-1.15zM353.2 441.5h1.15v1.15h-1.15zM360.6 446.4h1.15v1.15h-1.15zM369.1 437.2h1.15v1.15h-1.15zM360.0 440.7h1.15v1.15h-1.15zM359.9 438.6h1.15v1.15h-1.15zM364.9 443.9h1.15v1.15h-1.15zM367.5 435.6h1.15v1.15h-1.15zM365.5 446.2h1.15v1.15h-1.15zM367.3 442.1h1.15v1.15h-1.15zM351.2 442.5h1.15v1.15h-1.15zM366.7 450.5h1.15v1.15h-1.15zM375.2 448.7h1.15v1.15h-1.15zM368.3 440.9h1.15v1.15h-1.15zM365.2 442.2h1.15v1.15h-1.15zM368.0 436.5h1.15v1.15h-1.15zM364.1 443.7h1.15v1.15h-1.15zM361.8 452.0h1.15v1.15h-1.15zM367.7 439.9h1.15v1.15h-1.15zM361.8 439.9h1.15v1.15h-1.15zM360.2 443.0h1.15v1.15h-1.15zM359.5 443.5h1.15v1.15h-1.15zM362.8 449.4h1.15v1.15h-1.15zM360.9 444.7h1.15v1.15h-1.15zM359.2 446.4h1.15v1.15h-1.15zM360.1 448.1h1.15v1.15h-1.15zM375.9 447.9h1.15v1.15h-1.15zM369.6 443.3h1.15v1.15h-1.15zM359.2 451.1h1.15v1.15h-1.15zM371.0 442.8h1.15v1.15h-1.15zM362.6 443.1h1.15v1.15h-1.15zM361.9 450.1h1.15v1.15h-1.15zM361.0 441.0h1.15v1.15h-1.15zM363.5 435.5h1.15v1.15h-1.15zM364.4 451.1h1.15v1.15h-1.15zM368.4 447.6h1.15v1.15h-1.15zM354.7 440.6h1.15v1.15h-1.15zM358.6 437.1h1.15v1.15h-1.15zM370.7 447.4h1.15v1.15h-1.15zM370.5 451.8h1.15v1.15h-1.15zM362.5 441.7h1.15v1.15h-1.15zM376.6 444.3h1.15v1.15h-1.15zM361.2 447.2h1.15v1.15h-1.15zM365.1 440.5h1.15v1.15h-1.15zM367.3 441.9h1.15v1.15h-1.15zM367.6 441.3h1.15v1.15h-1.15zM360.0 442.7h1.15v1.15h-1.15zM362.8 443.8h1.15v1.15h-1.15zM360.8 448.5h1.15v1.15h-1.15zM355.5 440.1h1.15v1.15h-1.15zM350.0 445.5h1.15v1.15h-1.15zM369.6 451.7h1.15v1.15h-1.15zM361.1 447.1h1.15v1.15h-1.15zM361.5 449.2h1.15v1.15h-1.15zM357.6 445.5h1.15v1.15h-1.15zM367.0 436.4h1.15v1.15h-1.15zM356.3 450.0h1.15v1.15h-1.15zM363.0 444.2h1.15v1.15h-1.15zM370.0 435.8h1.15v1.15h-1.15zM359.9 440.4h1.15v1.15h-1.15zM378.0 437.4h1.15v1.15h-1.15zM362.6 444.2h1.15v1.15h-1.15zM360.4 444.7h1.15v1.15h-1.15zM356.6 446.4h1.15v1.15h-1.15zM364.7 446.8h1.15v1.15h-1.15zM355.5 445.2h1.15v1.15h-1.15zM353.8 443.6h1.15v1.15h-1.15zM379.9 444.9h1.15v1.15h-1.15zM361.0 449.7h1.15v1.15h-1.15zM360.7 443.3h1.15v1.15h-1.15zM373.5 441.8h1.15v1.15h-1.15zM369.9 443.9h1.15v1.15h-1.15zM357.3 444.9h1.15v1.15h-1.15zM367.9 447.3h1.15v1.15h-1.15zM357.0 435.5h1.15v1.15h-1.15zM369.1 446.7h1.15v1.15h-1.15zM358.4 444.7h1.15v1.15h-1.15zM364.0 448.1h1.15v1.15h-1.15zM363.6 446.6h1.15v1.15h-1.15zM363.9 446.8h1.15v1.15h-1.15zM370.4 440.1h1.15v1.15h-1.15zM359.2 445.1h1.15v1.15h-1.15zM362.0 440.9h1.15v1.15h-1.15zM370.2 436.8h1.15v1.15h-1.15zM365.0 451.0h1.15v1.15h-1.15zM364.4 446.4h1.15v1.15h-1.15zM357.4 439.4h1.15v1.15h-1.15zM355.3 445.5h1.15v1.15h-1.15zM357.9 447.6h1.15v1.15h-1.15zM358.3 437.8h1.15v1.15h-1.15zM372.0 442.4h1.15v1.15h-1.15zM365.9 442.4h1.15v1.15h-1.15zM370.2 447.2h1.15v1.15h-1.15zM364.6 451.3h1.15v1.15h-1.15zM373.0 450.6h1.15v1.15h-1.15zM370.0 443.6h1.15v1.15h-1.15zM367.1 438.5h1.15v1.15h-1.15zM365.4 451.0h1.15v1.15h-1.15zM367.8 448.1h1.15v1.15h-1.15zM367.6 446.4h1.15v1.15h-1.15zM369.5 441.1h1.15v1.15h-1.15zM368.6 440.8h1.15v1.15h-1.15zM361.9 450.4h1.15v1.15h-1.15zM368.1 445.7h1.15v1.15h-1.15zM365.6 450.8h1.15v1.15h-1.15zM362.0 446.6h1.15v1.15h-1.15zM355.1 438.4h1.15v1.15h-1.15zM359.2 443.7h1.15v1.15h-1.15zM359.9 445.0h1.15v1.15h-1.15zM369.1 446.1h1.15v1.15h-1.15zM356.9 450.8h1.15v1.15h-1.15zM354.4 450.5h1.15v1.15h-1.15zM368.0 447.9h1.15v1.15h-1.15zM368.0 450.6h1.15v1.15h-1.15zM354.9 444.7h1.15v1.15h-1.15zM359.6 444.3h1.15v1.15h-1.15zM370.6 443.2h1.15v1.15h-1.15zM368.0 450.4h1.15v1.15h-1.15zM361.7 444.8h1.15v1.15h-1.15zM370.9 446.5h1.15v1.15h-1.15zM363.2 440.4h1.15v1.15h-1.15zM361.5 442.0h1.15v1.15h-1.15zM362.8 436.2h1.15v1.15h-1.15zM351.6 442.6h1.15v1.15h-1.15zM359.6 447.7h1.15v1.15h-1.15zM369.9 445.3h1.15v1.15h-1.15zM365.2 436.4h1.15v1.15h-1.15zM358.6 447.3h1.15v1.15h-1.15zM362.8 444.0h1.15v1.15h-1.15zM353.2 443.7h1.15v1.15h-1.15zM365.9 446.4h1.15v1.15h-1.15zM356.3 445.2h1.15v1.15h-1.15zM360.0 448.6h1.15v1.15h-1.15zM381.1 438.7h1.15v1.15h-1.15zM367.8 444.6h1.15v1.15h-1.15zM362.4 448.5h1.15v1.15h-1.15zM371.0 441.2h1.15v1.15h-1.15zM362.0 444.3h1.15v1.15h-1.15zM368.8 431.9h1.15v1.15h-1.15zM364.9 449.1h1.15v1.15h-1.15zM375.4 445.7h1.15v1.15h-1.15zM364.6 448.0h1.15v1.15h-1.15zM370.3 439.6h1.15v1.15h-1.15zM360.2 446.3h1.15v1.15h-1.15zM369.4 443.8h1.15v1.15h-1.15zM363.7 437.9h1.15v1.15h-1.15zM360.4 446.9h1.15v1.15h-1.15zM364.5 446.3h1.15v1.15h-1.15zM351.5 448.5h1.15v1.15h-1.15zM363.6 440.4h1.15v1.15h-1.15zM366.5 441.1h1.15v1.15h-1.15zM364.3 448.9h1.15v1.15h-1.15zM366.8 439.7h1.15v1.15h-1.15zM360.3 438.3h1.15v1.15h-1.15zM366.5 439.1h1.15v1.15h-1.15zM372.7 446.1h1.15v1.15h-1.15zM356.7 441.2h1.15v1.15h-1.15zM359.9 436.0h1.15v1.15h-1.15zM369.6 434.8h1.15v1.15h-1.15zM366.3 441.6h1.15v1.15h-1.15zM364.1 440.3h1.15v1.15h-1.15zM364.4 438.6h1.15v1.15h-1.15zM362.0 444.0h1.15v1.15h-1.15zM365.6 447.4h1.15v1.15h-1.15zM373.8 450.8h1.15v1.15h-1.15zM368.8 442.5h1.15v1.15h-1.15zM357.0 446.8h1.15v1.15h-1.15zM363.5 443.0h1.15v1.15h-1.15zM365.7 444.8h1.15v1.15h-1.15zM371.3 450.3h1.15v1.15h-1.15zM360.4 451.3h1.15v1.15h-1.15zM358.1 442.9h1.15v1.15h-1.15zM353.7 444.0h1.15v1.15h-1.15zM356.1 449.8h1.15v1.15h-1.15zM354.1 439.5h1.15v1.15h-1.15zM368.1 447.6h1.15v1.15h-1.15zM365.7 445.2h1.15v1.15h-1.15zM358.1 443.5h1.15v1.15h-1.15zM365.7 447.7h1.15v1.15h-1.15zM358.7 443.1h1.15v1.15h-1.15zM358.7 442.8h1.15v1.15h-1.15zM362.0 445.1h1.15v1.15h-1.15zM372.0 444.3h1.15v1.15h-1.15zM362.3 434.4h1.15v1.15h-1.15zM366.0 446.0h1.15v1.15h-1.15zM364.9 448.0h1.15v1.15h-1.15zM366.3 449.7h1.15v1.15h-1.15zM368.1 439.1h1.15v1.15h-1.15zM363.1 439.2h1.15v1.15h-1.15zM374.9 440.3h1.15v1.15h-1.15zM370.3 450.4h1.15v1.15h-1.15zM374.5 442.2h1.15v1.15h-1.15zM358.8 443.4h1.15v1.15h-1.15zM368.2 447.1h1.15v1.15h-1.15zM366.2 446.0h1.15v1.15h-1.15zM365.5 439.2h1.15v1.15h-1.15zM358.2 450.8h1.15v1.15h-1.15zM364.8 448.3h1.15v1.15h-1.15zM367.2 442.8h1.15v1.15h-1.15zM365.7 444.4h1.15v1.15h-1.15zM362.2 439.8h1.15v1.15h-1.15zM365.4 451.7h1.15v1.15h-1.15zM365.4 451.0h1.15v1.15h-1.15zM364.1 439.8h1.15v1.15h-1.15zM374.3 438.9h1.15v1.15h-1.15zM365.9 448.1h1.15v1.15h-1.15zM369.7 445.3h1.15v1.15h-1.15zM368.7 446.9h1.15v1.15h-1.15zM369.1 448.9h1.15v1.15h-1.15zM365.9 440.5h1.15v1.15h-1.15zM361.9 444.5h1.15v1.15h-1.15zM374.2 448.5h1.15v1.15h-1.15zM369.0 447.5h1.15v1.15h-1.15zM364.6 448.4h1.15v1.15h-1.15zM365.1 448.5h1.15v1.15h-1.15zM368.2 443.5h1.15v1.15h-1.15zM361.8 442.0h1.15v1.15h-1.15zM375.5 440.5h1.15v1.15h-1.15zM350.4 444.2h1.15v1.15h-1.15zM362.4 434.5h1.15v1.15h-1.15zM362.0 444.7h1.15v1.15h-1.15zM374.2 449.4h1.15v1.15h-1.15zM370.2 443.7h1.15v1.15h-1.15zM373.9 438.0h1.15v1.15h-1.15zM365.8 437.7h1.15v1.15h-1.15zM364.5 446.6h1.15v1.15h-1.15zM362.0 448.4h1.15v1.15h-1.15zM358.9 444.3h1.15v1.15h-1.15zM360.2 447.5h1.15v1.15h-1.15zM367.4 448.1h1.15v1.15h-1.15zM361.9 441.5h1.15v1.15h-1.15zM373.5 438.7h1.15v1.15h-1.15zM359.6 446.1h1.15v1.15h-1.15zM357.4 436.4h1.15v1.15h-1.15zM365.9 441.9h1.15v1.15h-1.15zM364.7 446.5h1.15v1.15h-1.15zM368.7 443.6h1.15v1.15h-1.15zM356.6 450.3h1.15v1.15h-1.15zM370.2 445.5h1.15v1.15h-1.15zM374.9 446.6h1.15v1.15h-1.15zM364.4 442.6h1.15v1.15h-1.15zM361.9 440.2h1.15v1.15h-1.15zM366.7 447.2h1.15v1.15h-1.15zM360.4 449.7h1.15v1.15h-1.15zM357.6 436.7h1.15v1.15h-1.15zM361.6 439.1h1.15v1.15h-1.15zM356.4 443.8h1.15v1.15h-1.15zM365.9 445.5h1.15v1.15h-1.15zM358.4 443.6h1.15v1.15h-1.15zM367.1 442.3h1.15v1.15h-1.15zM361.8 448.1h1.15v1.15h-1.15zM358.4 437.6h1.15v1.15h-1.15zM368.9 447.9h1.15v1.15h-1.15zM360.3 437.6h1.15v1.15h-1.15zM364.7 442.0h1.15v1.15h-1.15zM363.1 439.6h1.15v1.15h-1.15zM367.2 442.8h1.15v1.15h-1.15zM371.1 435.6h1.15v1.15h-1.15zM361.5 443.1h1.15v1.15h-1.15zM361.1 448.9h1.15v1.15h-1.15zM366.9 442.9h1.15v1.15h-1.15zM359.5 447.5h1.15v1.15h-1.15zM355.1 443.4h1.15v1.15h-1.15zM368.4 445.7h1.15v1.15h-1.15zM370.2 447.9h1.15v1.15h-1.15zM358.2 438.0h1.15v1.15h-1.15zM363.8 442.1h1.15v1.15h-1.15zM365.3 445.0h1.15v1.15h-1.15zM367.1 451.6h1.15v1.15h-1.15zM360.8 441.1h1.15v1.15h-1.15zM361.6 440.0h1.15v1.15h-1.15zM362.4 449.0h1.15v1.15h-1.15zM361.8 446.0h1.15v1.15h-1.15zM363.5 442.0h1.15v1.15h-1.15zM352.6 439.5h1.15v1.15h-1.15zM368.4 436.5h1.15v1.15h-1.15zM368.4 445.3h1.15v1.15h-1.15zM368.3 444.6h1.15v1.15h-1.15zM359.5 445.0h1.15v1.15h-1.15zM364.2 444.3h1.15v1.15h-1.15zM368.4 442.7h1.15v1.15h-1.15zM362.9 436.3h1.15v1.15h-1.15zM368.9 441.2h1.15v1.15h-1.15zM355.0 448.8h1.15v1.15h-1.15zM360.0 445.1h1.15v1.15h-1.15zM359.6 441.5h1.15v1.15h-1.15zM365.2 434.9h1.15v1.15h-1.15zM364.9 443.2h1.15v1.15h-1.15zM358.3 443.2h1.15v1.15h-1.15zM368.9 446.2h1.15v1.15h-1.15zM373.4 445.3h1.15v1.15h-1.15zM365.1 448.0h1.15v1.15h-1.15zM367.3 442.0h1.15v1.15h-1.15zM361.0 438.2h1.15v1.15h-1.15zM362.8 443.5h1.15v1.15h-1.15zM360.5 447.7h1.15v1.15h-1.15zM362.8 445.0h1.15v1.15h-1.15zM361.9 436.6h1.15v1.15h-1.15zM369.2 444.1h1.15v1.15h-1.15zM359.3 434.0h1.15v1.15h-1.15zM368.4 440.7h1.15v1.15h-1.15zM371.3 443.3h1.15v1.15h-1.15zM357.3 442.4h1.15v1.15h-1.15zM366.5 449.6h1.15v1.15h-1.15zM354.1 444.8h1.15v1.15h-1.15zM359.3 443.3h1.15v1.15h-1.15zM366.6 444.6h1.15v1.15h-1.15zM366.7 449.1h1.15v1.15h-1.15zM370.8 444.3h1.15v1.15h-1.15zM355.5 450.4h1.15v1.15h-1.15zM371.2 448.1h1.15v1.15h-1.15zM371.6 442.5h1.15v1.15h-1.15zM364.5 448.5h1.15v1.15h-1.15zM365.9 441.3h1.15v1.15h-1.15zM369.9 442.7h1.15v1.15h-1.15zM371.9 449.8h1.15v1.15h-1.15zM363.7 437.6h1.15v1.15h-1.15zM369.9 445.3h1.15v1.15h-1.15zM351.5 445.7h1.15v1.15h-1.15zM369.4 448.0h1.15v1.15h-1.15zM359.5 450.6h1.15v1.15h-1.15zM359.4 446.3h1.15v1.15h-1.15zM357.1 445.6h1.15v1.15h-1.15zM369.2 446.1h1.15v1.15h-1.15zM364.2 449.0h1.15v1.15h-1.15zM361.4 448.1h1.15v1.15h-1.15zM358.4 450.6h1.15v1.15h-1.15zM368.6 447.0h1.15v1.15h-1.15zM363.0 437.8h1.15v1.15h-1.15zM362.7 448.8h1.15v1.15h-1.15zM363.1 440.3h1.15v1.15h-1.15zM368.6 434.7h1.15v1.15h-1.15zM369.3 451.1h1.15v1.15h-1.15zM365.1 451.4h1.15v1.15h-1.15zM370.8 440.7h1.15v1.15h-1.15zM368.1 441.8h1.15v1.15h-1.15zM362.7 451.1h1.15v1.15h-1.15zM359.8 449.7h1.15v1.15h-1.15zM364.2 448.4h1.15v1.15h-1.15zM362.1 443.5h1.15v1.15h-1.15zM364.6 447.2h1.15v1.15h-1.15zM363.0 442.3h1.15v1.15h-1.15zM357.9 444.2h1.15v1.15h-1.15zM361.0 450.3h1.15v1.15h-1.15zM365.2 440.3h1.15v1.15h-1.15zM366.7 447.4h1.15v1.15h-1.15zM362.3 439.6h1.15v1.15h-1.15zM368.0 443.5h1.15v1.15h-1.15zM363.0 440.2h1.15v1.15h-1.15zM362.5 448.2h1.15v1.15h-1.15zM358.5 446.7h1.15v1.15h-1.15zM378.8 452.3h1.15v1.15h-1.15zM359.9 447.8h1.15v1.15h-1.15zM366.6 447.0h1.15v1.15h-1.15zM365.2 446.8h1.15v1.15h-1.15zM356.3 442.8h1.15v1.15h-1.15zM367.0 441.9h1.15v1.15h-1.15zM367.5 437.2h1.15v1.15h-1.15zM367.9 446.2h1.15v1.15h-1.15zM364.3 443.2h1.15v1.15h-1.15zM364.5 448.0h1.15v1.15h-1.15zM360.0 441.2h1.15v1.15h-1.15zM374.7 441.7h1.15v1.15h-1.15zM363.3 448.9h1.15v1.15h-1.15zM358.4 444.9h1.15v1.15h-1.15zM365.4 441.9h1.15v1.15h-1.15zM369.5 440.1h1.15v1.15h-1.15zM358.5 452.0h1.15v1.15h-1.15zM376.2 442.6h1.15v1.15h-1.15zM370.5 444.4h1.15v1.15h-1.15zM366.0 435.6h1.15v1.15h-1.15zM362.4 450.2h1.15v1.15h-1.15zM373.2 440.8h1.15v1.15h-1.15zM368.6 448.3h1.15v1.15h-1.15zM359.9 443.1h1.15v1.15h-1.15zM371.9 445.4h1.15v1.15h-1.15zM357.9 440.2h1.15v1.15h-1.15zM365.4 446.7h1.15v1.15h-1.15zM371.3 446.7h1.15v1.15h-1.15zM368.1 445.8h1.15v1.15h-1.15zM358.7 445.0h1.15v1.15h-1.15zM363.1 442.5h1.15v1.15h-1.15zM358.3 444.5h1.15v1.15h-1.15zM378.0 439.7h1.15v1.15h-1.15zM364.3 446.1h1.15v1.15h-1.15zM360.2 434.8h1.15v1.15h-1.15zM361.5 448.4h1.15v1.15h-1.15zM366.8 439.0h1.15v1.15h-1.15zM356.6 440.7h1.15v1.15h-1.15zM353.7 443.8h1.15v1.15h-1.15zM355.4 442.2h1.15v1.15h-1.15zM370.9 445.4h1.15v1.15h-1.15zM369.8 441.7h1.15v1.15h-1.15zM361.7 439.3h1.15v1.15h-1.15zM366.4 444.2h1.15v1.15h-1.15zM363.6 448.0h1.15v1.15h-1.15zM375.1 435.1h1.15v1.15h-1.15zM366.0 448.8h1.15v1.15h-1.15zM364.5 451.8h1.15v1.15h-1.15zM363.2 441.3h1.15v1.15h-1.15zM367.3 440.1h1.15v1.15h-1.15zM358.8 445.1h1.15v1.15h-1.15zM362.8 445.4h1.15v1.15h-1.15zM379.0 448.2h1.15v1.15h-1.15zM363.0 449.5h1.15v1.15h-1.15zM369.3 444.4h1.15v1.15h-1.15zM374.1 450.5h1.15v1.15h-1.15zM357.5 449.3h1.15v1.15h-1.15zM363.4 447.5h1.15v1.15h-1.15zM356.0 443.2h1.15v1.15h-1.15zM363.3 438.5h1.15v1.15h-1.15zM362.7 442.0h1.15v1.15h-1.15zM366.8 449.9h1.15v1.15h-1.15zM366.5 442.0h1.15v1.15h-1.15zM366.2 435.8h1.15v1.15h-1.15zM364.0 442.6h1.15v1.15h-1.15zM371.6 451.6h1.15v1.15h-1.15zM364.5 446.1h1.15v1.15h-1.15zM356.6 441.1h1.15v1.15h-1.15zM368.4 437.9h1.15v1.15h-1.15zM359.8 442.3h1.15v1.15h-1.15zM368.4 443.2h1.15v1.15h-1.15zM361.6 445.7h1.15v1.15h-1.15zM356.4 441.5h1.15v1.15h-1.15zM358.7 444.5h1.15v1.15h-1.15zM372.2 447.0h1.15v1.15h-1.15zM373.7 447.2h1.15v1.15h-1.15zM355.8 438.3h1.15v1.15h-1.15zM359.1 437.8h1.15v1.15h-1.15zM358.0 441.8h1.15v1.15h-1.15zM356.0 451.4h1.15v1.15h-1.15zM359.3 440.3h1.15v1.15h-1.15zM356.6 439.3h1.15v1.15h-1.15zM368.1 444.8h1.15v1.15h-1.15zM368.9 444.0h1.15v1.15h-1.15zM355.6 448.2h1.15v1.15h-1.15zM366.3 440.8h1.15v1.15h-1.15zM361.8 450.7h1.15v1.15h-1.15zM358.5 445.6h1.15v1.15h-1.15zM364.0 445.7h1.15v1.15h-1.15zM369.2 443.1h1.15v1.15h-1.15zM371.3 441.4h1.15v1.15h-1.15zM367.1 447.0h1.15v1.15h-1.15zM361.6 447.4h1.15v1.15h-1.15zM372.1 450.2h1.15v1.15h-1.15zM361.0 445.1h1.15v1.15h-1.15zM355.6 444.3h1.15v1.15h-1.15zM367.5 440.4h1.15v1.15h-1.15zM364.7 446.3h1.15v1.15h-1.15zM358.3 441.7h1.15v1.15h-1.15zM368.7 444.9h1.15v1.15h-1.15zM371.0 447.0h1.15v1.15h-1.15zM362.9 441.6h1.15v1.15h-1.15zM363.7 448.2h1.15v1.15h-1.15zM368.5 439.6h1.15v1.15h-1.15zM363.5 449.7h1.15v1.15h-1.15zM364.3 446.1h1.15v1.15h-1.15zM369.1 437.5h1.15v1.15h-1.15zM362.2 449.2h1.15v1.15h-1.15zM368.4 443.3h1.15v1.15h-1.15zM360.5 434.4h1.15v1.15h-1.15zM366.5 447.4h1.15v1.15h-1.15zM362.5 440.7h1.15v1.15h-1.15zM353.3 447.7h1.15v1.15h-1.15zM366.5 448.0h1.15v1.15h-1.15zM361.1 442.6h1.15v1.15h-1.15zM360.4 446.0h1.15v1.15h-1.15zM358.7 439.5h1.15v1.15h-1.15zM374.0 447.6h1.15v1.15h-1.15zM368.8 443.4h1.15v1.15h-1.15zM365.4 440.8h1.15v1.15h-1.15zM376.0 437.6h1.15v1.15h-1.15zM362.7 440.1h1.15v1.15h-1.15zM362.2 447.6h1.15v1.15h-1.15zM374.2 437.2h1.15v1.15h-1.15zM360.9 434.2h1.15v1.15h-1.15zM363.1 446.8h1.15v1.15h-1.15zM355.2 439.7h1.15v1.15h-1.15zM360.8 440.8h1.15v1.15h-1.15zM360.0 445.3h1.15v1.15h-1.15zM371.3 441.7h1.15v1.15h-1.15zM362.9 440.7h1.15v1.15h-1.15zM356.6 436.5h1.15v1.15h-1.15zM378.3 451.3h1.15v1.15h-1.15zM365.1 446.4h1.15v1.15h-1.15zM370.1 445.7h1.15v1.15h-1.15zM364.0 441.3h1.15v1.15h-1.15zM373.6 442.0h1.15v1.15h-1.15zM370.8 451.7h1.15v1.15h-1.15zM374.2 447.8h1.15v1.15h-1.15zM359.1 451.2h1.15v1.15h-1.15zM370.5 447.5h1.15v1.15h-1.15zM361.8 446.8h1.15v1.15h-1.15zM350.6 451.3h1.15v1.15h-1.15zM378.7 447.8h1.15v1.15h-1.15zM367.3 438.9h1.15v1.15h-1.15zM352.9 436.1h1.15v1.15h-1.15zM354.4 448.1h1.15v1.15h-1.15zM359.2 445.5h1.15v1.15h-1.15zM367.5 444.9h1.15v1.15h-1.15zM373.4 442.6h1.15v1.15h-1.15zM373.3 447.0h1.15v1.15h-1.15zM373.9 443.0h1.15v1.15h-1.15zM372.1 441.2h1.15v1.15h-1.15zM362.7 434.2h1.15v1.15h-1.15zM369.3 442.9h1.15v1.15h-1.15zM366.9 449.3h1.15v1.15h-1.15zM374.3 451.6h1.15v1.15h-1.15zM349.9 450.9h1.15v1.15h-1.15zM369.3 448.5h1.15v1.15h-1.15zM359.9 442.1h1.15v1.15h-1.15zM363.2 441.2h1.15v1.15h-1.15zM376.2 446.9h1.15v1.15h-1.15zM359.3 444.0h1.15v1.15h-1.15zM364.9 442.7h1.15v1.15h-1.15zM362.1 450.5h1.15v1.15h-1.15zM369.1 439.8h1.15v1.15h-1.15zM356.4 446.7h1.15v1.15h-1.15zM369.4 443.0h1.15v1.15h-1.15zM367.1 450.7h1.15v1.15h-1.15zM367.2 447.8h1.15v1.15h-1.15zM360.9 440.4h1.15v1.15h-1.15zM364.4 445.3h1.15v1.15h-1.15zM375.3 443.3h1.15v1.15h-1.15zM359.4 440.2h1.15v1.15h-1.15zM349.2 446.8h1.15v1.15h-1.15zM378.3 444.3h1.15v1.15h-1.15zM359.2 439.1h1.15v1.15h-1.15zM368.1 443.4h1.15v1.15h-1.15zM356.8 445.2h1.15v1.15h-1.15zM360.8 451.0h1.15v1.15h-1.15zM352.9 439.3h1.15v1.15h-1.15zM358.5 446.2h1.15v1.15h-1.15zM363.9 444.9h1.15v1.15h-1.15zM365.7 445.2h1.15v1.15h-1.15zM372.7 438.1h1.15v1.15h-1.15zM364.5 441.1h1.15v1.15h-1.15zM361.8 443.1h1.15v1.15h-1.15zM357.4 443.5h1.15v1.15h-1.15zM363.0 442.7h1.15v1.15h-1.15zM371.2 442.0h1.15v1.15h-1.15zM366.9 445.0h1.15v1.15h-1.15zM362.7 435.9h1.15v1.15h-1.15zM368.6 444.8h1.15v1.15h-1.15zM363.4 442.7h1.15v1.15h-1.15zM360.5 442.4h1.15v1.15h-1.15zM365.1 442.8h1.15v1.15h-1.15zM363.3 440.0h1.15v1.15h-1.15zM366.7 448.2h1.15v1.15h-1.15zM368.6 433.5h1.15v1.15h-1.15zM365.9 444.7h1.15v1.15h-1.15zM370.3 440.3h1.15v1.15h-1.15zM363.0 445.9h1.15v1.15h-1.15zM362.8 438.9h1.15v1.15h-1.15zM365.8 451.0h1.15v1.15h-1.15zM376.5 450.8h1.15v1.15h-1.15zM369.7 438.3h1.15v1.15h-1.15zM367.9 444.9h1.15v1.15h-1.15zM349.9 446.2h1.15v1.15h-1.15zM371.1 440.9h1.15v1.15h-1.15zM369.5 448.7h1.15v1.15h-1.15zM357.5 443.0h1.15v1.15h-1.15zM363.4 448.4h1.15v1.15h-1.15zM362.9 448.6h1.15v1.15h-1.15zM367.7 444.3h1.15v1.15h-1.15zM365.3 445.9h1.15v1.15h-1.15zM358.5 449.0h1.15v1.15h-1.15zM357.9 436.6h1.15v1.15h-1.15zM365.2 444.6h1.15v1.15h-1.15zM365.6 441.7h1.15v1.15h-1.15zM356.0 439.1h1.15v1.15h-1.15zM369.5 449.3h1.15v1.15h-1.15zM369.7 442.8h1.15v1.15h-1.15zM358.0 438.4h1.15v1.15h-1.15zM362.5 446.8h1.15v1.15h-1.15zM363.9 444.0h1.15v1.15h-1.15zM370.3 442.5h1.15v1.15h-1.15zM361.3 444.1h1.15v1.15h-1.15zM358.2 443.8h1.15v1.15h-1.15zM362.8 443.2h1.15v1.15h-1.15zM362.6 451.1h1.15v1.15h-1.15zM365.5 437.7h1.15v1.15h-1.15zM377.9 447.0h1.15v1.15h-1.15zM357.8 449.4h1.15v1.15h-1.15zM375.3 444.1h1.15v1.15h-1.15zM361.5 448.0h1.15v1.15h-1.15zM357.5 444.7h1.15v1.15h-1.15zM369.6 450.1h1.15v1.15h-1.15zM366.3 442.4h1.15v1.15h-1.15zM359.0 440.8h1.15v1.15h-1.15zM370.9 451.6h1.15v1.15h-1.15zM375.2 449.7h1.15v1.15h-1.15zM359.8 438.6h1.15v1.15h-1.15zM364.9 441.1h1.15v1.15h-1.15zM357.1 447.4h1.15v1.15h-1.15zM362.9 440.0h1.15v1.15h-1.15zM359.3 450.6h1.15v1.15h-1.15zM370.3 448.4h1.15v1.15h-1.15zM357.2 449.4h1.15v1.15h-1.15zM363.4 446.5h1.15v1.15h-1.15zM362.6 440.9h1.15v1.15h-1.15zM365.9 445.6h1.15v1.15h-1.15zM370.8 443.2h1.15v1.15h-1.15zM365.6 446.4h1.15v1.15h-1.15zM358.5 443.1h1.15v1.15h-1.15zM371.3 446.8h1.15v1.15h-1.15zM356.7 444.7h1.15v1.15h-1.15zM364.8 445.3h1.15v1.15h-1.15zM364.0 444.8h1.15v1.15h-1.15zM358.5 444.7h1.15v1.15h-1.15zM369.0 440.4h1.15v1.15h-1.15zM366.3 447.2h1.15v1.15h-1.15zM366.1 441.7h1.15v1.15h-1.15zM359.8 442.4h1.15v1.15h-1.15zM362.4 449.5h1.15v1.15h-1.15zM360.3 441.8h1.15v1.15h-1.15zM361.5 449.1h1.15v1.15h-1.15zM373.6 433.9h1.15v1.15h-1.15zM365.0 436.6h1.15v1.15h-1.15zM357.4 450.5h1.15v1.15h-1.15zM356.2 431.9h1.15v1.15h-1.15zM364.3 445.3h1.15v1.15h-1.15zM355.2 444.4h1.15v1.15h-1.15zM367.0 451.8h1.15v1.15h-1.15zM374.3 433.4h1.15v1.15h-1.15zM357.2 450.3h1.15v1.15h-1.15zM368.5 449.6h1.15v1.15h-1.15zM370.9 451.5h1.15v1.15h-1.15zM362.4 444.6h1.15v1.15h-1.15zM371.0 444.1h1.15v1.15h-1.15zM372.2 436.1h1.15v1.15h-1.15zM359.0 442.2h1.15v1.15h-1.15zM361.4 439.7h1.15v1.15h-1.15zM364.4 445.2h1.15v1.15h-1.15zM365.4 433.9h1.15v1.15h-1.15zM362.7 439.0h1.15v1.15h-1.15zM367.1 441.2h1.15v1.15h-1.15zM369.8 440.8h1.15v1.15h-1.15zM356.4 443.8h1.15v1.15h-1.15zM359.6 448.4h1.15v1.15h-1.15zM371.3 447.8h1.15v1.15h-1.15zM366.1 440.6h1.15v1.15h-1.15zM361.5 437.3h1.15v1.15h-1.15zM362.9 442.1h1.15v1.15h-1.15zM356.9 447.3h1.15v1.15h-1.15zM365.2 444.3h1.15v1.15h-1.15zM367.3 447.0h1.15v1.15h-1.15zM365.2 442.2h1.15v1.15h-1.15zM359.5 444.1h1.15v1.15h-1.15zM362.2 440.1h1.15v1.15h-1.15zM363.3 451.1h1.15v1.15h-1.15zM373.3 438.7h1.15v1.15h-1.15zM355.3 443.3h1.15v1.15h-1.15zM372.4 441.4h1.15v1.15h-1.15zM356.9 439.2h1.15v1.15h-1.15zM370.0 449.3h1.15v1.15h-1.15zM363.8 450.9h1.15v1.15h-1.15zM368.4 447.1h1.15v1.15h-1.15zM353.7 444.0h1.15v1.15h-1.15zM379.9 443.3h1.15v1.15h-1.15zM356.7 438.7h1.15v1.15h-1.15zM362.0 446.6h1.15v1.15h-1.15zM361.2 452.0h1.15v1.15h-1.15zM361.7 444.1h1.15v1.15h-1.15zM370.2 443.0h1.15v1.15h-1.15zM352.0 443.8h1.15v1.15h-1.15zM363.8 437.5h1.15v1.15h-1.15zM354.0 442.6h1.15v1.15h-1.15zM363.4 446.5h1.15v1.15h-1.15zM367.5 438.0h1.15v1.15h-1.15zM375.5 452.0h1.15v1.15h-1.15zM358.1 446.3h1.15v1.15h-1.15zM367.2 446.3h1.15v1.15h-1.15zM367.5 437.7h1.15v1.15h-1.15zM357.9 442.4h1.15v1.15h-1.15zM358.0 451.9h1.15v1.15h-1.15zM366.8 444.7h1.15v1.15h-1.15zM360.6 436.9h1.15v1.15h-1.15zM368.2 448.9h1.15v1.15h-1.15zM363.1 445.2h1.15v1.15h-1.15zM361.1 443.8h1.15v1.15h-1.15zM354.4 445.0h1.15v1.15h-1.15zM375.7 451.4h1.15v1.15h-1.15zM364.2 440.2h1.15v1.15h-1.15zM371.6 449.3h1.15v1.15h-1.15zM346.7 452.0h1.15v1.15h-1.15zM356.4 446.3h1.15v1.15h-1.15zM362.6 447.4h1.15v1.15h-1.15zM360.9 446.9h1.15v1.15h-1.15zM359.9 444.9h1.15v1.15h-1.15zM362.5 435.3h1.15v1.15h-1.15zM362.2 441.3h1.15v1.15h-1.15zM373.4 447.8h1.15v1.15h-1.15zM370.1 449.8h1.15v1.15h-1.15zM367.4 441.6h1.15v1.15h-1.15zM360.8 447.4h1.15v1.15h-1.15zM379.1 446.3h1.15v1.15h-1.15zM355.5 450.5h1.15v1.15h-1.15zM376.8 445.3h1.15v1.15h-1.15zM353.4 445.7h1.15v1.15h-1.15zM362.9 448.4h1.15v1.15h-1.15zM358.5 446.3h1.15v1.15h-1.15zM362.5 447.7h1.15v1.15h-1.15zM365.4 445.2h1.15v1.15h-1.15zM366.7 447.7h1.15v1.15h-1.15zM368.6 438.6h1.15v1.15h-1.15zM362.2 444.3h1.15v1.15h-1.15zM374.1 438.4h1.15v1.15h-1.15zM358.9 450.6h1.15v1.15h-1.15zM364.3 452.2h1.15v1.15h-1.15zM356.8 443.6h1.15v1.15h-1.15zM368.3 446.2h1.15v1.15h-1.15zM362.9 450.9h1.15v1.15h-1.15zM362.2 449.5h1.15v1.15h-1.15zM356.8 445.1h1.15v1.15h-1.15zM360.9 448.6h1.15v1.15h-1.15zM357.0 441.9h1.15v1.15h-1.15zM363.8 438.0h1.15v1.15h-1.15zM368.2 448.2h1.15v1.15h-1.15zM358.4 438.9h1.15v1.15h-1.15zM372.1 440.5h1.15v1.15h-1.15zM357.8 441.0h1.15v1.15h-1.15zM363.4 451.5h1.15v1.15h-1.15zM360.8 448.4h1.15v1.15h-1.15zM369.2 444.1h1.15v1.15h-1.15zM362.1 444.8h1.15v1.15h-1.15zM366.5 441.5h1.15v1.15h-1.15zM366.8 442.1h1.15v1.15h-1.15zM355.5 444.4h1.15v1.15h-1.15zM353.9 438.8h1.15v1.15h-1.15zM363.6 439.3h1.15v1.15h-1.15zM359.8 448.2h1.15v1.15h-1.15zM353.9 447.6h1.15v1.15h-1.15zM369.2 445.8h1.15v1.15h-1.15zM363.4 442.7h1.15v1.15h-1.15zM366.0 440.6h1.15v1.15h-1.15zM367.5 442.5h1.15v1.15h-1.15zM365.9 435.2h1.15v1.15h-1.15zM360.9 450.7h1.15v1.15h-1.15zM366.5 433.2h1.15v1.15h-1.15zM353.3 440.3h1.15v1.15h-1.15zM376.2 436.6h1.15v1.15h-1.15zM366.1 450.3h1.15v1.15h-1.15zM358.3 440.5h1.15v1.15h-1.15zM370.4 448.9h1.15v1.15h-1.15zM370.6 442.0h1.15v1.15h-1.15zM366.4 448.9h1.15v1.15h-1.15zM369.4 442.2h1.15v1.15h-1.15zM368.4 447.0h1.15v1.15h-1.15zM361.2 443.7h1.15v1.15h-1.15zM357.6 445.3h1.15v1.15h-1.15zM361.9 441.5h1.15v1.15h-1.15zM366.7 450.2h1.15v1.15h-1.15zM367.4 450.8h1.15v1.15h-1.15zM355.4 451.1h1.15v1.15h-1.15zM367.1 450.6h1.15v1.15h-1.15zM363.7 447.7h1.15v1.15h-1.15zM369.2 449.8h1.15v1.15h-1.15zM356.3 444.2h1.15v1.15h-1.15zM363.3 443.2h1.15v1.15h-1.15zM377.7 442.8h1.15v1.15h-1.15zM364.1 448.0h1.15v1.15h-1.15zM365.0 443.0h1.15v1.15h-1.15zM361.1 441.7h1.15v1.15h-1.15zM367.3 444.4h1.15v1.15h-1.15zM361.3 445.1h1.15v1.15h-1.15zM370.7 450.7h1.15v1.15h-1.15zM365.1 442.2h1.15v1.15h-1.15zM367.6 444.9h1.15v1.15h-1.15zM363.1 448.6h1.15v1.15h-1.15zM364.1 451.7h1.15v1.15h-1.15zM374.8 445.7h1.15v1.15h-1.15zM370.1 433.6h1.15v1.15h-1.15zM362.5 442.9h1.15v1.15h-1.15zM363.6 447.6h1.15v1.15h-1.15zM371.5 442.2h1.15v1.15h-1.15zM362.2 436.7h1.15v1.15h-1.15zM364.4 431.9h1.15v1.15h-1.15zM366.6 449.4h1.15v1.15h-1.15zM356.4 446.2h1.15v1.15h-1.15zM359.9 445.0h1.15v1.15h-1.15zM360.8 451.9h1.15v1.15h-1.15zM373.9 449.3h1.15v1.15h-1.15zM369.5 447.7h1.15v1.15h-1.15zM366.9 442.7h1.15v1.15h-1.15zM360.4 444.6h1.15v1.15h-1.15zM370.4 449.5h1.15v1.15h-1.15zM369.1 442.0h1.15v1.15h-1.15zM368.8 442.8h1.15v1.15h-1.15zM359.2 435.9h1.15v1.15h-1.15zM368.4 452.3h1.15v1.15h-1.15zM363.1 449.9h1.15v1.15h-1.15zM362.9 449.9h1.15v1.15h-1.15zM367.7 440.8h1.15v1.15h-1.15zM357.5 441.9h1.15v1.15h-1.15zM365.8 439.7h1.15v1.15h-1.15zM367.4 442.6h1.15v1.15h-1.15zM365.2 445.0h1.15v1.15h-1.15zM367.0 439.4h1.15v1.15h-1.15zM366.7 442.9h1.15v1.15h-1.15zM372.7 449.6h1.15v1.15h-1.15zM360.3 447.1h1.15v1.15h-1.15zM368.8 439.4h1.15v1.15h-1.15zM366.2 451.3h1.15v1.15h-1.15zM362.8 444.1h1.15v1.15h-1.15zM356.6 444.0h1.15v1.15h-1.15zM359.0 449.5h1.15v1.15h-1.15zM361.8 449.9h1.15v1.15h-1.15zM369.9 444.4h1.15v1.15h-1.15zM359.9 445.8h1.15v1.15h-1.15zM360.3 447.3h1.15v1.15h-1.15zM377.5 442.2h1.15v1.15h-1.15zM370.4 451.8h1.15v1.15h-1.15zM371.1 440.4h1.15v1.15h-1.15zM368.6 443.5h1.15v1.15h-1.15zM373.0 440.5h1.15v1.15h-1.15zM361.6 440.0h1.15v1.15h-1.15zM362.0 433.1h1.15v1.15h-1.15zM364.9 446.1h1.15v1.15h-1.15zM362.9 443.6h1.15v1.15h-1.15zM373.4 439.2h1.15v1.15h-1.15zM367.4 444.9h1.15v1.15h-1.15zM362.4 445.8h1.15v1.15h-1.15zM363.5 442.6h1.15v1.15h-1.15zM367.3 447.2h1.15v1.15h-1.15zM372.2 441.3h1.15v1.15h-1.15zM362.4 439.9h1.15v1.15h-1.15zM365.4 448.1h1.15v1.15h-1.15zM366.5 446.1h1.15v1.15h-1.15zM362.8 451.2h1.15v1.15h-1.15zM371.0 447.8h1.15v1.15h-1.15zM359.4 445.0h1.15v1.15h-1.15zM369.5 447.4h1.15v1.15h-1.15zM369.9 438.4h1.15v1.15h-1.15zM363.1 440.9h1.15v1.15h-1.15zM369.8 447.9h1.15v1.15h-1.15zM361.9 447.5h1.15v1.15h-1.15zM369.0 446.3h1.15v1.15h-1.15zM358.2 442.4h1.15v1.15h-1.15zM367.6 438.4h1.15v1.15h-1.15zM368.3 444.2h1.15v1.15h-1.15zM362.5 449.4h1.15v1.15h-1.15zM367.2 448.2h1.15v1.15h-1.15zM358.5 445.0h1.15v1.15h-1.15zM362.6 433.8h1.15v1.15h-1.15zM356.9 443.2h1.15v1.15h-1.15zM353.5 438.5h1.15v1.15h-1.15zM354.4 444.6h1.15v1.15h-1.15zM365.3 441.0h1.15v1.15h-1.15zM359.0 442.0h1.15v1.15h-1.15zM367.2 449.2h1.15v1.15h-1.15zM369.3 443.7h1.15v1.15h-1.15zM370.3 450.6h1.15v1.15h-1.15zM356.5 446.2h1.15v1.15h-1.15zM369.2 449.4h1.15v1.15h-1.15zM357.1 447.1h1.15v1.15h-1.15zM357.0 446.0h1.15v1.15h-1.15zM367.2 444.8h1.15v1.15h-1.15zM369.4 446.5h1.15v1.15h-1.15zM365.4 445.9h1.15v1.15h-1.15zM364.2 435.5h1.15v1.15h-1.15zM368.0 445.1h1.15v1.15h-1.15zM365.7 449.7h1.15v1.15h-1.15zM366.6 444.9h1.15v1.15h-1.15zM358.9 448.9h1.15v1.15h-1.15zM365.9 449.3h1.15v1.15h-1.15zM361.8 437.7h1.15v1.15h-1.15zM366.8 437.6h1.15v1.15h-1.15zM362.7 447.3h1.15v1.15h-1.15zM372.8 445.8h1.15v1.15h-1.15zM366.9 437.5h1.15v1.15h-1.15zM359.6 441.9h1.15v1.15h-1.15zM370.4 446.6h1.15v1.15h-1.15zM368.0 447.7h1.15v1.15h-1.15zM365.0 438.4h1.15v1.15h-1.15zM373.3 438.8h1.15v1.15h-1.15zM361.9 433.5h1.15v1.15h-1.15zM369.8 451.7h1.15v1.15h-1.15zM359.4 440.3h1.15v1.15h-1.15zM369.2 449.1h1.15v1.15h-1.15zM371.9 440.6h1.15v1.15h-1.15zM373.4 441.3h1.15v1.15h-1.15zM369.7 447.0h1.15v1.15h-1.15zM369.5 438.4h1.15v1.15h-1.15zM357.9 445.3h1.15v1.15h-1.15zM360.0 448.0h1.15v1.15h-1.15zM360.3 449.5h1.15v1.15h-1.15zM361.5 443.4h1.15v1.15h-1.15zM368.3 451.2h1.15v1.15h-1.15zM358.3 442.4h1.15v1.15h-1.15zM358.9 444.4h1.15v1.15h-1.15zM369.2 444.9h1.15v1.15h-1.15zM359.5 444.2h1.15v1.15h-1.15zM360.3 442.5h1.15v1.15h-1.15zM362.7 445.7h1.15v1.15h-1.15zM360.9 449.6h1.15v1.15h-1.15zM356.9 439.3h1.15v1.15h-1.15zM369.2 446.4h1.15v1.15h-1.15zM364.6 450.6h1.15v1.15h-1.15zM375.5 438.6h1.15v1.15h-1.15zM362.1 433.5h1.15v1.15h-1.15zM356.3 445.0h1.15v1.15h-1.15zM370.5 451.0h1.15v1.15h-1.15zM363.6 451.3h1.15v1.15h-1.15zM365.1 451.0h1.15v1.15h-1.15zM354.9 451.3h1.15v1.15h-1.15zM354.5 443.8h1.15v1.15h-1.15zM364.0 450.9h1.15v1.15h-1.15zM359.4 444.2h1.15v1.15h-1.15zM363.3 445.5h1.15v1.15h-1.15zM367.3 448.6h1.15v1.15h-1.15zM361.1 439.0h1.15v1.15h-1.15zM363.7 442.9h1.15v1.15h-1.15zM366.6 447.3h1.15v1.15h-1.15zM358.2 443.1h1.15v1.15h-1.15zM372.3 437.9h1.15v1.15h-1.15zM358.8 442.3h1.15v1.15h-1.15zM348.2 450.1h1.15v1.15h-1.15zM369.4 448.7h1.15v1.15h-1.15zM365.0 437.6h1.15v1.15h-1.15zM373.0 450.2h1.15v1.15h-1.15zM372.9 441.4h1.15v1.15h-1.15zM364.9 445.7h1.15v1.15h-1.15zM361.6 437.7h1.15v1.15h-1.15zM365.6 439.0h1.15v1.15h-1.15zM365.8 445.6h1.15v1.15h-1.15zM358.3 438.3h1.15v1.15h-1.15zM358.7 452.0h1.15v1.15h-1.15zM359.7 448.8h1.15v1.15h-1.15zM360.9 438.0h1.15v1.15h-1.15zM362.4 442.8h1.15v1.15h-1.15zM360.5 436.9h1.15v1.15h-1.15zM364.4 437.9h1.15v1.15h-1.15zM360.7 442.9h1.15v1.15h-1.15zM379.8 444.6h1.15v1.15h-1.15zM363.8 452.3h1.15v1.15h-1.15zM364.4 439.3h1.15v1.15h-1.15zM363.0 449.5h1.15v1.15h-1.15zM360.0 439.9h1.15v1.15h-1.15zM366.0 446.2h1.15v1.15h-1.15zM361.3 445.0h1.15v1.15h-1.15zM361.5 442.3h1.15v1.15h-1.15zM371.7 441.6h1.15v1.15h-1.15zM375.3 448.0h1.15v1.15h-1.15zM362.6 441.8h1.15v1.15h-1.15zM358.2 450.3h1.15v1.15h-1.15zM368.9 441.9h1.15v1.15h-1.15zM369.3 433.9h1.15v1.15h-1.15zM372.0 443.0h1.15v1.15h-1.15zM365.3 443.2h1.15v1.15h-1.15zM361.7 435.5h1.15v1.15h-1.15zM360.7 450.6h1.15v1.15h-1.15zM362.2 443.2h1.15v1.15h-1.15zM368.9 447.3h1.15v1.15h-1.15zM356.8 448.0h1.15v1.15h-1.15zM377.7 442.1h1.15v1.15h-1.15zM370.7 450.6h1.15v1.15h-1.15zM365.9 446.2h1.15v1.15h-1.15zM374.3 451.2h1.15v1.15h-1.15zM362.5 439.1h1.15v1.15h-1.15zM357.1 441.7h1.15v1.15h-1.15zM369.5 448.5h1.15v1.15h-1.15zM365.5 444.3h1.15v1.15h-1.15zM363.7 443.1h1.15v1.15h-1.15zM360.8 444.3h1.15v1.15h-1.15zM366.2 445.8h1.15v1.15h-1.15zM350.3 450.9h1.15v1.15h-1.15zM368.1 449.3h1.15v1.15h-1.15zM362.4 449.5h1.15v1.15h-1.15zM365.4 449.9h1.15v1.15h-1.15zM367.5 444.7h1.15v1.15h-1.15zM369.3 437.2h1.15v1.15h-1.15zM355.7 446.9h1.15v1.15h-1.15zM347.5 440.1h1.15v1.15h-1.15zM373.5 447.7h1.15v1.15h-1.15zM367.9 438.4h1.15v1.15h-1.15zM366.2 444.7h1.15v1.15h-1.15zM357.0 439.6h1.15v1.15h-1.15zM370.7 447.7h1.15v1.15h-1.15zM367.9 438.2h1.15v1.15h-1.15zM356.5 451.3h1.15v1.15h-1.15zM367.9 443.2h1.15v1.15h-1.15zM364.5 439.7h1.15v1.15h-1.15zM380.2 444.2h1.15v1.15h-1.15zM359.6 442.3h1.15v1.15h-1.15zM365.1 445.4h1.15v1.15h-1.15zM359.5 448.3h1.15v1.15h-1.15zM367.9 446.8h1.15v1.15h-1.15zM370.7 438.8h1.15v1.15h-1.15zM362.6 446.8h1.15v1.15h-1.15zM375.7 440.5h1.15v1.15h-1.15zM365.0 437.4h1.15v1.15h-1.15zM362.4 441.4h1.15v1.15h-1.15zM363.9 444.9h1.15v1.15h-1.15zM362.7 447.9h1.15v1.15h-1.15zM371.5 450.1h1.15v1.15h-1.15zM359.6 446.5h1.15v1.15h-1.15zM365.9 438.0h1.15v1.15h-1.15zM358.6 435.4h1.15v1.15h-1.15zM366.8 450.0h1.15v1.15h-1.15zM372.8 448.5h1.15v1.15h-1.15zM364.3 443.7h1.15v1.15h-1.15zM363.1 446.6h1.15v1.15h-1.15zM367.5 438.8h1.15v1.15h-1.15zM375.1 440.8h1.15v1.15h-1.15zM363.3 445.7h1.15v1.15h-1.15zM361.2 447.9h1.15v1.15h-1.15zM362.9 440.7h1.15v1.15h-1.15zM367.0 441.7h1.15v1.15h-1.15zM374.7 437.9h1.15v1.15h-1.15zM362.8 444.7h1.15v1.15h-1.15zM367.0 435.4h1.15v1.15h-1.15zM370.5 451.0h1.15v1.15h-1.15zM368.5 447.4h1.15v1.15h-1.15zM363.5 447.8h1.15v1.15h-1.15zM353.7 433.6h1.15v1.15h-1.15zM350.4 444.7h1.15v1.15h-1.15zM364.0 447.6h1.15v1.15h-1.15zM361.8 449.1h1.15v1.15h-1.15zM369.8 440.0h1.15v1.15h-1.15zM355.0 451.1h1.15v1.15h-1.15zM366.7 447.6h1.15v1.15h-1.15zM359.3 441.1h1.15v1.15h-1.15zM360.0 436.6h1.15v1.15h-1.15zM362.9 442.2h1.15v1.15h-1.15zM363.6 441.4h1.15v1.15h-1.15zM368.3 447.4h1.15v1.15h-1.15zM359.2 448.9h1.15v1.15h-1.15zM370.4 449.8h1.15v1.15h-1.15zM353.4 446.2h1.15v1.15h-1.15zM367.1 438.6h1.15v1.15h-1.15zM363.0 443.2h1.15v1.15h-1.15zM377.1 437.9h1.15v1.15h-1.15zM366.4 444.0h1.15v1.15h-1.15zM365.4 449.2h1.15v1.15h-1.15zM366.3 448.4h1.15v1.15h-1.15zM370.6 448.8h1.15v1.15h-1.15zM367.9 441.8h1.15v1.15h-1.15zM370.3 436.4h1.15v1.15h-1.15zM353.9 440.5h1.15v1.15h-1.15zM364.1 451.9h1.15v1.15h-1.15zM364.0 444.7h1.15v1.15h-1.15zM368.8 444.7h1.15v1.15h-1.15zM354.1 444.0h1.15v1.15h-1.15zM361.3 445.3h1.15v1.15h-1.15zM376.0 444.3h1.15v1.15h-1.15zM359.2 445.2h1.15v1.15h-1.15zM369.3 445.2h1.15v1.15h-1.15zM374.0 443.9h1.15v1.15h-1.15zM369.4 450.8h1.15v1.15h-1.15zM370.1 448.0h1.15v1.15h-1.15zM365.6 444.7h1.15v1.15h-1.15zM349.1 444.9h1.15v1.15h-1.15zM369.5 448.2h1.15v1.15h-1.15zM367.8 435.9h1.15v1.15h-1.15zM356.9 443.6h1.15v1.15h-1.15zM355.9 443.1h1.15v1.15h-1.15zM372.7 444.0h1.15v1.15h-1.15zM365.0 448.6h1.15v1.15h-1.15zM354.7 440.6h1.15v1.15h-1.15zM370.0 434.6h1.15v1.15h-1.15zM369.4 442.8h1.15v1.15h-1.15zM368.1 438.3h1.15v1.15h-1.15zM377.7 440.5h1.15v1.15h-1.15zM376.8 421.5h1.15v1.15h-1.15zM367.1 446.5h1.15v1.15h-1.15zM371.7 442.4h1.15v1.15h-1.15zM373.3 451.7h1.15v1.15h-1.15zM364.5 429.5h1.15v1.15h-1.15zM368.9 435.4h1.15v1.15h-1.15zM378.9 438.3h1.15v1.15h-1.15zM368.0 441.3h1.15v1.15h-1.15zM368.3 436.3h1.15v1.15h-1.15zM385.2 439.2h1.15v1.15h-1.15zM358.5 435.2h1.15v1.15h-1.15zM362.4 436.2h1.15v1.15h-1.15zM365.1 445.5h1.15v1.15h-1.15zM356.8 435.4h1.15v1.15h-1.15zM367.9 437.5h1.15v1.15h-1.15zM355.5 432.6h1.15v1.15h-1.15zM386.2 447.9h1.15v1.15h-1.15zM366.3 440.1h1.15v1.15h-1.15zM377.1 438.8h1.15v1.15h-1.15zM379.5 422.7h1.15v1.15h-1.15zM375.0 441.2h1.15v1.15h-1.15zM360.4 440.3h1.15v1.15h-1.15zM366.0 433.5h1.15v1.15h-1.15zM358.8 441.0h1.15v1.15h-1.15zM370.0 431.4h1.15v1.15h-1.15zM354.3 449.3h1.15v1.15h-1.15zM370.7 442.3h1.15v1.15h-1.15zM361.8 426.2h1.15v1.15h-1.15zM375.8 442.0h1.15v1.15h-1.15zM366.1 428.9h1.15v1.15h-1.15zM355.1 436.4h1.15v1.15h-1.15zM376.2 433.3h1.15v1.15h-1.15zM363.6 443.3h1.15v1.15h-1.15zM359.7 451.2h1.15v1.15h-1.15zM373.3 434.8h1.15v1.15h-1.15zM376.4 442.3h1.15v1.15h-1.15zM356.4 446.0h1.15v1.15h-1.15zM381.2 442.6h1.15v1.15h-1.15zM373.9 441.1h1.15v1.15h-1.15zM353.7 444.2h1.15v1.15h-1.15zM372.6 449.5h1.15v1.15h-1.15zM373.2 440.6h1.15v1.15h-1.15zM366.7 442.6h1.15v1.15h-1.15zM372.1 431.4h1.15v1.15h-1.15zM372.8 433.1h1.15v1.15h-1.15zM366.0 439.4h1.15v1.15h-1.15zM375.2 437.5h1.15v1.15h-1.15zM357.0 429.4h1.15v1.15h-1.15zM361.1 443.5h1.15v1.15h-1.15zM369.4 427.4h1.15v1.15h-1.15zM375.7 436.2h1.15v1.15h-1.15zM362.4 447.0h1.15v1.15h-1.15zM356.9 434.1h1.15v1.15h-1.15zM374.0 431.3h1.15v1.15h-1.15zM367.8 452.1h1.15v1.15h-1.15zM370.7 426.8h1.15v1.15h-1.15zM375.4 444.1h1.15v1.15h-1.15zM373.4 434.4h1.15v1.15h-1.15zM369.3 441.6h1.15v1.15h-1.15zM367.4 438.3h1.15v1.15h-1.15zM362.4 446.4h1.15v1.15h-1.15zM372.8 446.8h1.15v1.15h-1.15zM367.7 437.3h1.15v1.15h-1.15zM362.0 449.3h1.15v1.15h-1.15zM359.5 433.8h1.15v1.15h-1.15zM366.2 446.4h1.15v1.15h-1.15zM377.4 436.7h1.15v1.15h-1.15zM365.6 447.7h1.15v1.15h-1.15zM376.8 446.0h1.15v1.15h-1.15zM380.2 436.3h1.15v1.15h-1.15zM385.3 440.3h1.15v1.15h-1.15zM368.8 441.8h1.15v1.15h-1.15zM366.0 448.5h1.15v1.15h-1.15zM395.2 440.4h1.15v1.15h-1.15zM367.0 440.5h1.15v1.15h-1.15zM357.8 422.4h1.15v1.15h-1.15zM373.2 440.6h1.15v1.15h-1.15zM374.4 444.4h1.15v1.15h-1.15zM366.3 441.2h1.15v1.15h-1.15zM382.9 437.2h1.15v1.15h-1.15zM365.3 449.6h1.15v1.15h-1.15zM352.0 441.7h1.15v1.15h-1.15zM366.5 430.3h1.15v1.15h-1.15zM356.1 435.9h1.15v1.15h-1.15zM386.7 442.1h1.15v1.15h-1.15zM362.0 440.4h1.15v1.15h-1.15zM358.9 448.7h1.15v1.15h-1.15zM369.4 435.2h1.15v1.15h-1.15zM376.3 442.7h1.15v1.15h-1.15zM381.8 436.8h1.15v1.15h-1.15zM358.2 439.1h1.15v1.15h-1.15zM381.6 445.0h1.15v1.15h-1.15zM366.1 442.3h1.15v1.15h-1.15zM371.8 439.4h1.15v1.15h-1.15zM354.4 442.1h1.15v1.15h-1.15zM359.3 438.2h1.15v1.15h-1.15zM367.5 434.8h1.15v1.15h-1.15zM365.2 433.0h1.15v1.15h-1.15zM385.2 437.1h1.15v1.15h-1.15zM360.3 442.2h1.15v1.15h-1.15zM371.3 443.5h1.15v1.15h-1.15zM374.2 441.1h1.15v1.15h-1.15zM357.6 446.9h1.15v1.15h-1.15zM379.4 434.0h1.15v1.15h-1.15zM389.1 436.1h1.15v1.15h-1.15zM373.0 435.7h1.15v1.15h-1.15zM379.6 442.5h1.15v1.15h-1.15zM389.5 442.6h1.15v1.15h-1.15zM365.3 450.3h1.15v1.15h-1.15zM366.6 432.1h1.15v1.15h-1.15zM370.4 426.7h1.15v1.15h-1.15zM379.8 449.0h1.15v1.15h-1.15zM384.7 438.8h1.15v1.15h-1.15zM357.8 434.8h1.15v1.15h-1.15zM377.4 445.2h1.15v1.15h-1.15zM366.1 444.9h1.15v1.15h-1.15zM374.3 437.7h1.15v1.15h-1.15zM350.0 436.9h1.15v1.15h-1.15zM351.7 447.1h1.15v1.15h-1.15zM361.7 435.9h1.15v1.15h-1.15zM365.3 442.7h1.15v1.15h-1.15zM364.7 439.1h1.15v1.15h-1.15zM373.7 437.0h1.15v1.15h-1.15zM364.2 446.3h1.15v1.15h-1.15zM347.7 442.2h1.15v1.15h-1.15zM375.4 443.1h1.15v1.15h-1.15zM357.5 437.8h1.15v1.15h-1.15zM375.9 433.8h1.15v1.15h-1.15zM361.4 431.0h1.15v1.15h-1.15zM361.2 445.4h1.15v1.15h-1.15zM369.1 443.3h1.15v1.15h-1.15zM381.1 437.4h1.15v1.15h-1.15zM380.9 449.1h1.15v1.15h-1.15zM360.2 443.9h1.15v1.15h-1.15zM369.9 434.3h1.15v1.15h-1.15zM361.6 428.8h1.15v1.15h-1.15zM365.3 436.3h1.15v1.15h-1.15zM378.9 448.1h1.15v1.15h-1.15zM361.4 435.8h1.15v1.15h-1.15zM378.5 436.6h1.15v1.15h-1.15zM373.7 439.7h1.15v1.15h-1.15zM380.4 422.3h1.15v1.15h-1.15zM370.9 444.1h1.15v1.15h-1.15zM360.2 441.0h1.15v1.15h-1.15zM364.4 438.3h1.15v1.15h-1.15zM371.9 440.7h1.15v1.15h-1.15zM374.3 444.1h1.15v1.15h-1.15zM370.9 431.0h1.15v1.15h-1.15zM374.2 448.1h1.15v1.15h-1.15zM390.9 438.3h1.15v1.15h-1.15zM377.1 448.2h1.15v1.15h-1.15zM383.4 447.1h1.15v1.15h-1.15zM362.2 448.8h1.15v1.15h-1.15zM376.4 436.1h1.15v1.15h-1.15zM366.7 442.2h1.15v1.15h-1.15zM361.5 430.9h1.15v1.15h-1.15zM366.4 437.3h1.15v1.15h-1.15zM364.2 444.8h1.15v1.15h-1.15zM370.4 442.8h1.15v1.15h-1.15zM376.3 432.9h1.15v1.15h-1.15zM364.5 445.6h1.15v1.15h-1.15zM372.0 437.8h1.15v1.15h-1.15zM384.3 451.2h1.15v1.15h-1.15zM366.9 443.1h1.15v1.15h-1.15zM375.8 432.5h1.15v1.15h-1.15zM358.5 438.6h1.15v1.15h-1.15zM364.6 442.1h1.15v1.15h-1.15zM360.5 436.5h1.15v1.15h-1.15zM362.9 433.3h1.15v1.15h-1.15zM373.1 437.9h1.15v1.15h-1.15zM379.3 447.5h1.15v1.15h-1.15zM367.0 443.2h1.15v1.15h-1.15zM381.6 436.3h1.15v1.15h-1.15zM365.3 444.3h1.15v1.15h-1.15zM364.8 428.6h1.15v1.15h-1.15zM367.3 441.9h1.15v1.15h-1.15zM361.2 447.0h1.15v1.15h-1.15zM362.8 451.3h1.15v1.15h-1.15zM361.8 440.9h1.15v1.15h-1.15zM363.3 439.0h1.15v1.15h-1.15zM361.7 421.6h1.15v1.15h-1.15zM368.6 444.3h1.15v1.15h-1.15zM362.1 437.5h1.15v1.15h-1.15zM376.1 445.4h1.15v1.15h-1.15zM373.3 449.7h1.15v1.15h-1.15zM361.6 439.8h1.15v1.15h-1.15zM377.5 435.2h1.15v1.15h-1.15zM372.0 428.1h1.15v1.15h-1.15zM367.7 445.0h1.15v1.15h-1.15zM365.4 448.1h1.15v1.15h-1.15zM367.6 436.4h1.15v1.15h-1.15zM367.9 441.3h1.15v1.15h-1.15zM374.4 424.7h1.15v1.15h-1.15zM358.0 434.9h1.15v1.15h-1.15zM360.8 442.6h1.15v1.15h-1.15zM367.8 440.2h1.15v1.15h-1.15zM369.1 447.9h1.15v1.15h-1.15zM361.4 448.2h1.15v1.15h-1.15zM373.2 445.6h1.15v1.15h-1.15zM373.7 437.9h1.15v1.15h-1.15zM368.6 440.0h1.15v1.15h-1.15zM391.3 436.4h1.15v1.15h-1.15zM394.0 428.0h1.15v1.15h-1.15zM378.5 438.8h1.15v1.15h-1.15zM370.2 435.9h1.15v1.15h-1.15zM370.3 436.1h1.15v1.15h-1.15zM377.7 430.7h1.15v1.15h-1.15zM361.7 428.9h1.15v1.15h-1.15zM360.4 451.3h1.15v1.15h-1.15zM379.3 435.3h1.15v1.15h-1.15zM365.3 435.3h1.15v1.15h-1.15zM356.4 446.4h1.15v1.15h-1.15zM358.3 435.4h1.15v1.15h-1.15zM369.0 440.9h1.15v1.15h-1.15zM351.4 441.6h1.15v1.15h-1.15zM397.0 401.9h1.15v1.15h-1.15zM399.2 401.4h1.15v1.15h-1.15zM401.2 401.1h1.15v1.15h-1.15zM395.7 395.2h1.15v1.15h-1.15zM389.9 400.4h1.15v1.15h-1.15zM405.0 410.9h1.15v1.15h-1.15zM403.6 404.7h1.15v1.15h-1.15zM404.2 399.6h1.15v1.15h-1.15zM379.5 398.1h1.15v1.15h-1.15zM393.8 397.6h1.15v1.15h-1.15zM397.8 405.1h1.15v1.15h-1.15zM387.7 399.2h1.15v1.15h-1.15zM385.9 406.9h1.15v1.15h-1.15zM384.9 408.6h1.15v1.15h-1.15zM402.3 399.4h1.15v1.15h-1.15zM394.1 398.2h1.15v1.15h-1.15zM405.9 395.2h1.15v1.15h-1.15zM393.2 402.6h1.15v1.15h-1.15zM386.1 404.0h1.15v1.15h-1.15zM397.4 402.2h1.15v1.15h-1.15zM396.5 396.2h1.15v1.15h-1.15zM385.1 397.1h1.15v1.15h-1.15zM412.2 411.9h1.15v1.15h-1.15zM401.1 399.7h1.15v1.15h-1.15zM405.2 400.2h1.15v1.15h-1.15zM388.1 403.3h1.15v1.15h-1.15zM394.5 401.9h1.15v1.15h-1.15zM385.1 404.4h1.15v1.15h-1.15zM390.9 396.6h1.15v1.15h-1.15zM400.4 403.9h1.15v1.15h-1.15zM403.8 403.3h1.15v1.15h-1.15zM404.2 398.7h1.15v1.15h-1.15zM403.2 400.2h1.15v1.15h-1.15zM381.0 399.5h1.15v1.15h-1.15zM399.7 402.7h1.15v1.15h-1.15zM381.0 403.4h1.15v1.15h-1.15zM403.4 396.9h1.15v1.15h-1.15zM378.4 415.6h1.15v1.15h-1.15zM389.3 400.6h1.15v1.15h-1.15zM384.5 401.4h1.15v1.15h-1.15zM382.0 406.4h1.15v1.15h-1.15zM399.7 394.6h1.15v1.15h-1.15zM403.1 399.7h1.15v1.15h-1.15zM401.1 406.7h1.15v1.15h-1.15zM397.7 398.5h1.15v1.15h-1.15zM395.4 401.7h1.15v1.15h-1.15zM387.1 399.5h1.15v1.15h-1.15zM386.3 399.9h1.15v1.15h-1.15zM386.3 401.4h1.15v1.15h-1.15zM410.0 396.4h1.15v1.15h-1.15zM386.5 401.7h1.15v1.15h-1.15zM386.2 400.9h1.15v1.15h-1.15zM407.4 397.2h1.15v1.15h-1.15zM395.6 404.1h1.15v1.15h-1.15zM387.6 398.7h1.15v1.15h-1.15zM396.0 404.4h1.15v1.15h-1.15zM409.5 404.7h1.15v1.15h-1.15zM394.3 403.6h1.15v1.15h-1.15zM391.6 403.2h1.15v1.15h-1.15zM395.2 392.9h1.15v1.15h-1.15zM366.9 398.7h1.15v1.15h-1.15zM402.5 398.6h1.15v1.15h-1.15zM400.1 409.7h1.15v1.15h-1.15zM414.4 402.5h1.15v1.15h-1.15zM395.2 394.0h1.15v1.15h-1.15zM403.6 409.0h1.15v1.15h-1.15zM396.8 389.2h1.15v1.15h-1.15zM384.1 404.2h1.15v1.15h-1.15zM398.7 397.9h1.15v1.15h-1.15zM385.0 393.9h1.15v1.15h-1.15zM395.2 408.8h1.15v1.15h-1.15zM401.0 387.4h1.15v1.15h-1.15zM392.0 407.0h1.15v1.15h-1.15zM386.7 402.8h1.15v1.15h-1.15zM405.2 402.1h1.15v1.15h-1.15zM391.5 396.3h1.15v1.15h-1.15zM398.0 406.2h1.15v1.15h-1.15zM401.1 407.3h1.15v1.15h-1.15zM398.6 403.8h1.15v1.15h-1.15zM402.0 404.2h1.15v1.15h-1.15zM403.9 398.0h1.15v1.15h-1.15zM395.5 404.1h1.15v1.15h-1.15zM390.1 399.9h1.15v1.15h-1.15zM389.9 401.2h1.15v1.15h-1.15zM407.1 408.7h1.15v1.15h-1.15zM385.6 404.8h1.15v1.15h-1.15zM405.9 404.8h1.15v1.15h-1.15zM378.6 399.1h1.15v1.15h-1.15zM399.3 405.1h1.15v1.15h-1.15zM391.5 402.6h1.15v1.15h-1.15zM381.9 404.7h1.15v1.15h-1.15zM377.6 402.0h1.15v1.15h-1.15zM382.3 403.9h1.15v1.15h-1.15zM395.9 407.1h1.15v1.15h-1.15zM393.1 407.8h1.15v1.15h-1.15zM386.1 396.8h1.15v1.15h-1.15zM394.1 411.1h1.15v1.15h-1.15zM403.2 409.8h1.15v1.15h-1.15zM396.5 399.5h1.15v1.15h-1.15zM396.9 408.4h1.15v1.15h-1.15zM402.5 403.5h1.15v1.15h-1.15zM376.2 402.6h1.15v1.15h-1.15zM397.6 410.5h1.15v1.15h-1.15zM401.6 405.1h1.15v1.15h-1.15zM384.4 404.5h1.15v1.15h-1.15zM383.9 402.5h1.15v1.15h-1.15zM388.3 394.1h1.15v1.15h-1.15zM401.5 402.1h1.15v1.15h-1.15zM388.0 409.7h1.15v1.15h-1.15zM399.6 393.6h1.15v1.15h-1.15zM408.6 394.6h1.15v1.15h-1.15zM390.3 401.7h1.15v1.15h-1.15zM387.3 391.0h1.15v1.15h-1.15zM400.1 398.9h1.15v1.15h-1.15zM399.6 406.4h1.15v1.15h-1.15zM396.3 405.8h1.15v1.15h-1.15zM399.3 411.6h1.15v1.15h-1.15zM408.4 399.8h1.15v1.15h-1.15zM376.2 396.0h1.15v1.15h-1.15zM400.1 399.0h1.15v1.15h-1.15zM386.6 405.2h1.15v1.15h-1.15zM397.9 411.4h1.15v1.15h-1.15zM388.0 407.1h1.15v1.15h-1.15zM399.7 396.3h1.15v1.15h-1.15zM404.1 403.9h1.15v1.15h-1.15zM400.7 405.7h1.15v1.15h-1.15zM392.5 411.5h1.15v1.15h-1.15zM383.0 399.5h1.15v1.15h-1.15zM393.0 390.1h1.15v1.15h-1.15zM379.9 406.2h1.15v1.15h-1.15zM404.7 413.0h1.15v1.15h-1.15zM403.5 405.8h1.15v1.15h-1.15zM388.9 403.6h1.15v1.15h-1.15zM398.3 406.0h1.15v1.15h-1.15zM398.5 407.4h1.15v1.15h-1.15zM407.2 401.6h1.15v1.15h-1.15zM399.1 397.8h1.15v1.15h-1.15zM393.1 403.5h1.15v1.15h-1.15zM383.6 399.7h1.15v1.15h-1.15zM388.6 397.7h1.15v1.15h-1.15zM389.4 409.7h1.15v1.15h-1.15zM400.3 398.7h1.15v1.15h-1.15zM392.3 400.8h1.15v1.15h-1.15zM373.8 401.3h1.15v1.15h-1.15zM407.4 403.5h1.15v1.15h-1.15zM388.5 402.9h1.15v1.15h-1.15zM376.0 390.4h1.15v1.15h-1.15zM388.7 404.1h1.15v1.15h-1.15zM388.9 401.6h1.15v1.15h-1.15zM404.5 400.8h1.15v1.15h-1.15zM388.5 402.3h1.15v1.15h-1.15zM391.9 402.0h1.15v1.15h-1.15zM398.8 406.7h1.15v1.15h-1.15zM388.9 408.0h1.15v1.15h-1.15zM390.8 400.5h1.15v1.15h-1.15zM403.8 399.2h1.15v1.15h-1.15zM389.6 401.5h1.15v1.15h-1.15zM400.4 400.5h1.15v1.15h-1.15zM392.6 410.5h1.15v1.15h-1.15zM385.9 402.5h1.15v1.15h-1.15zM406.8 408.7h1.15v1.15h-1.15zM400.8 388.5h1.15v1.15h-1.15zM388.0 396.7h1.15v1.15h-1.15zM395.0 400.9h1.15v1.15h-1.15zM374.7 405.1h1.15v1.15h-1.15zM376.4 399.6h1.15v1.15h-1.15zM393.3 397.5h1.15v1.15h-1.15zM394.2 401.6h1.15v1.15h-1.15zM392.1 401.2h1.15v1.15h-1.15zM393.8 403.0h1.15v1.15h-1.15zM396.4 408.5h1.15v1.15h-1.15zM381.9 405.6h1.15v1.15h-1.15zM398.6 399.2h1.15v1.15h-1.15zM409.7 406.7h1.15v1.15h-1.15zM415.2 400.2h1.15v1.15h-1.15zM401.4 398.2h1.15v1.15h-1.15zM408.4 409.6h1.15v1.15h-1.15zM400.1 400.5h1.15v1.15h-1.15zM393.3 403.6h1.15v1.15h-1.15zM386.6 404.3h1.15v1.15h-1.15zM387.3 406.2h1.15v1.15h-1.15zM394.9 396.6h1.15v1.15h-1.15zM398.0 408.4h1.15v1.15h-1.15zM388.5 402.2h1.15v1.15h-1.15zM384.7 402.9h1.15v1.15h-1.15zM391.4 413.7h1.15v1.15h-1.15zM402.4 402.0h1.15v1.15h-1.15zM399.3 398.4h1.15v1.15h-1.15zM399.1 397.0h1.15v1.15h-1.15zM389.3 406.5h1.15v1.15h-1.15zM399.7 439.7h1.15v1.15h-1.15zM401.3 442.0h1.15v1.15h-1.15zM365.0 406.2h1.15v1.15h-1.15zM388.3 428.5h1.15v1.15h-1.15zM369.7 414.8h1.15v1.15h-1.15zM390.6 436.0h1.15v1.15h-1.15zM359.8 418.1h1.15v1.15h-1.15zM369.2 416.2h1.15v1.15h-1.15zM392.4 405.7h1.15v1.15h-1.15zM369.8 436.7h1.15v1.15h-1.15zM355.7 422.3h1.15v1.15h-1.15zM403.5 444.0h1.15v1.15h-1.15zM389.3 436.3h1.15v1.15h-1.15zM385.0 421.4h1.15v1.15h-1.15zM353.6 424.4h1.15v1.15h-1.15zM352.2 408.7h1.15v1.15h-1.15zM379.3 440.9h1.15v1.15h-1.15zM373.0 425.5h1.15v1.15h-1.15zM359.0 429.6h1.15v1.15h-1.15zM400.2 444.4h1.15v1.15h-1.15zM354.9 414.6h1.15v1.15h-1.15zM376.7 424.0h1.15v1.15h-1.15zM400.6 433.8h1.15v1.15h-1.15zM383.5 412.0h1.15v1.15h-1.15zM387.7 425.0h1.15v1.15h-1.15zM388.3 405.0h1.15v1.15h-1.15zM372.3 418.0h1.15v1.15h-1.15zM373.5 425.3h1.15v1.15h-1.15zM393.8 426.1h1.15v1.15h-1.15zM362.9 424.4h1.15v1.15h-1.15zM382.3 406.9h1.15v1.15h-1.15zM382.9 427.5h1.15v1.15h-1.15zM386.1 431.9h1.15v1.15h-1.15zM392.2 408.4h1.15v1.15h-1.15zM368.8 415.9h1.15v1.15h-1.15zM385.5 440.6h1.15v1.15h-1.15zM371.3 436.3h1.15v1.15h-1.15zM352.8 415.1h1.15v1.15h-1.15zM380.7 440.9h1.15v1.15h-1.15zM390.8 440.7h1.15v1.15h-1.15zM403.0 415.7h1.15v1.15h-1.15zM401.7 411.4h1.15v1.15h-1.15zM382.6 413.1h1.15v1.15h-1.15zM357.8 417.9h1.15v1.15h-1.15zM389.2 432.7h1.15v1.15h-1.15zM360.4 419.0h1.15v1.15h-1.15zM403.2 428.8h1.15v1.15h-1.15zM395.3 445.0h1.15v1.15h-1.15zM358.2 407.0h1.15v1.15h-1.15zM395.7 437.6h1.15v1.15h-1.15zM368.6 437.4h1.15v1.15h-1.15zM388.8 418.4h1.15v1.15h-1.15zM388.6 436.5h1.15v1.15h-1.15zM379.0 426.5h1.15v1.15h-1.15zM362.7 408.0h1.15v1.15h-1.15zM355.4 436.8h1.15v1.15h-1.15zM404.5 437.4h1.15v1.15h-1.15zM397.9 423.7h1.15v1.15h-1.15zM357.7 441.6h1.15v1.15h-1.15zM380.7 428.5h1.15v1.15h-1.15zM392.4 452.3h1.15v1.15h-1.15zM390.2 451.3h1.15v1.15h-1.15zM381.4 452.3h1.15v1.15h-1.15zM387.8 452.0h1.15v1.15h-1.15zM382.1 450.8h1.15v1.15h-1.15zM384.2 451.6h1.15v1.15h-1.15zM396.1 451.6h1.15v1.15h-1.15zM378.9 450.1h1.15v1.15h-1.15zM393.3 451.9h1.15v1.15h-1.15zM380.9 451.6h1.15v1.15h-1.15zM396.4 451.5h1.15v1.15h-1.15zM378.7 451.9h1.15v1.15h-1.15zM391.9 451.5h1.15v1.15h-1.15zM387.8 452.0h1.15v1.15h-1.15zM390.3 452.3h1.15v1.15h-1.15zM382.9 452.0h1.15v1.15h-1.15zM380.0 450.3h1.15v1.15h-1.15zM393.2 452.3h1.15v1.15h-1.15zM384.3 451.4h1.15v1.15h-1.15zM392.8 451.0h1.15v1.15h-1.15zM379.7 451.5h1.15v1.15h-1.15zM396.6 451.8h1.15v1.15h-1.15zM386.9 451.8h1.15v1.15h-1.15zM386.4 450.7h1.15v1.15h-1.15zM395.5 452.3h1.15v1.15h-1.15z" fill="#000"/><line x1="84.50" y1="481.60" x2="417.00" y2="481.60" stroke="#000" stroke-width="1.15"/><path d="M414.5 477.8L425.2 481.6L414.5 485.4z" fill="#000"/><text x="130.20" y="495.40" font-size="11.5" text-anchor="middle">0.5 h</text><text x="253.60" y="495.40" font-size="11.5" text-anchor="middle">1.5 h</text><text x="388.20" y="495.40" font-size="11.5" text-anchor="middle">3 h</text></svg></body></html>
